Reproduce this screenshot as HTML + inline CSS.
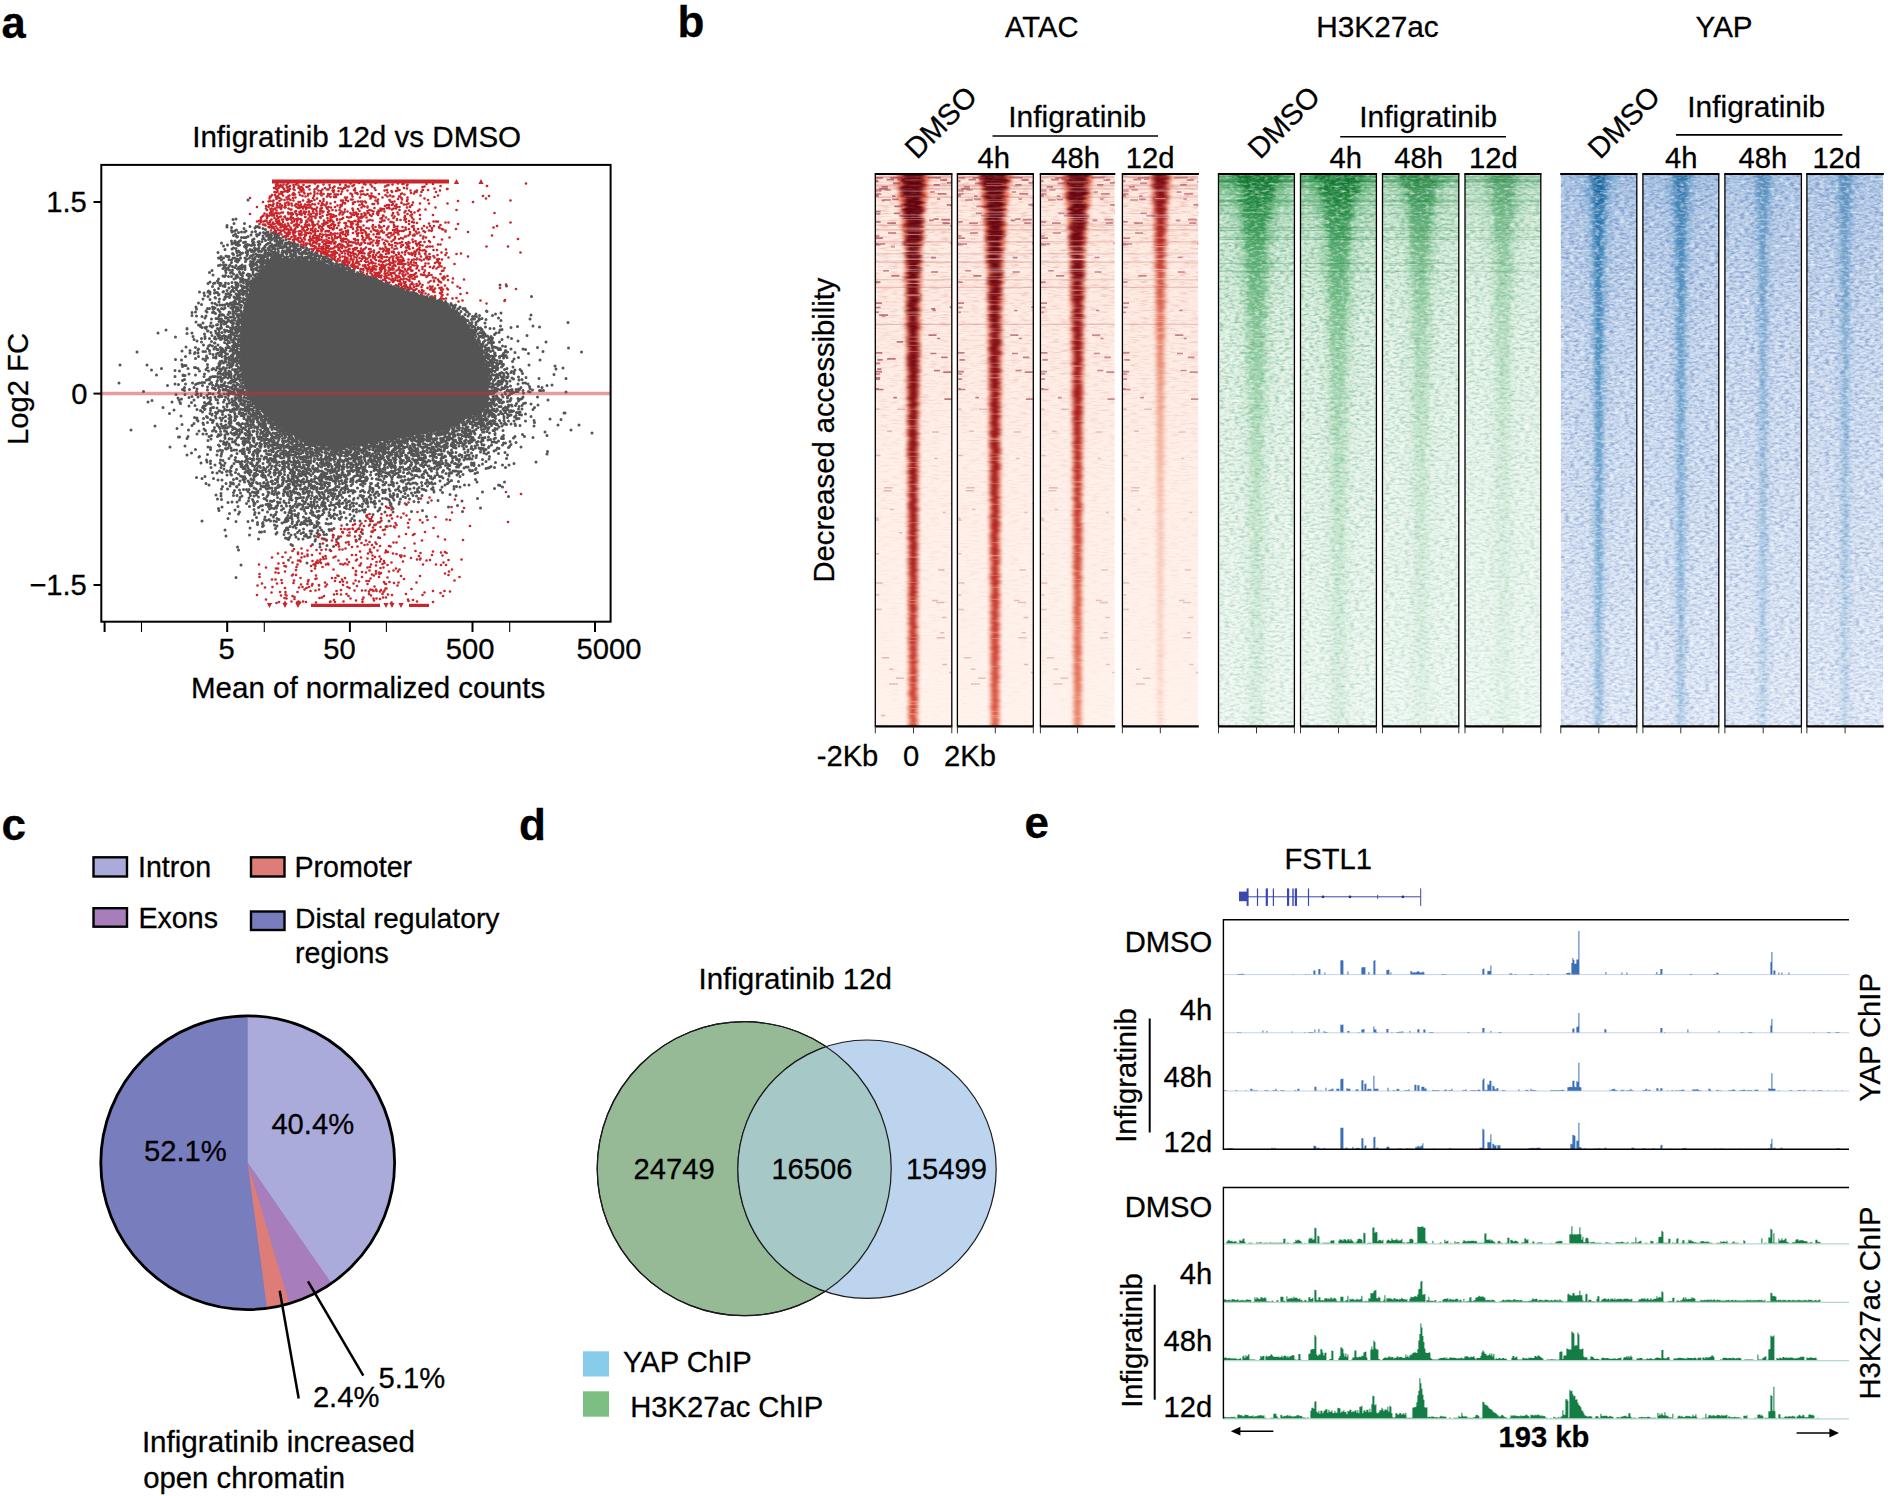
<!DOCTYPE html>
<html><head><meta charset="utf-8"><title>Figure</title>
<style>html,body{margin:0;padding:0;background:#fff}svg{display:block}text{font-family:"Liberation Sans",sans-serif;fill:#000;stroke:#000;stroke-width:0.28px}</style>
</head><body>
<svg width="1888" height="1496" viewBox="0 0 1888 1496">
<defs>
<filter id="hb" x="-20%" y="-2%" width="140%" height="104%" color-interpolation-filters="sRGB"><feGaussianBlur stdDeviation="1.9 0.7"/></filter>
<filter id="hbr" x="-30%" y="-2%" width="160%" height="104%" color-interpolation-filters="sRGB"><feGaussianBlur stdDeviation="2.3 1"/></filter>
<filter id="hb2" x="-30%" y="-2%" width="160%" height="104%" color-interpolation-filters="sRGB"><feGaussianBlur stdDeviation="4.2 1.6"/></filter>
<filter id="nR" x="0" y="0" width="100%" height="100%" color-interpolation-filters="sRGB"><feTurbulence type="fractalNoise" baseFrequency="0.1 0.6" numOctaves="2" seed="3"/><feColorMatrix type="matrix" values="0 0 0 0 0.843 0 0 0 0 0.373 0 0 0 0 0.333 0.9 0 0 0 -0.42"/></filter>
<filter id="nG" x="0" y="0" width="100%" height="100%" color-interpolation-filters="sRGB"><feTurbulence type="fractalNoise" baseFrequency="0.2 0.42" numOctaves="2" seed="5"/><feColorMatrix type="matrix" values="0 0 0 0 0.412 0 0 0 0 0.667 0 0 0 0 0.510 2.0 0 0 0 -0.84"/></filter>
<filter id="wG" x="0" y="0" width="100%" height="100%" color-interpolation-filters="sRGB"><feTurbulence type="fractalNoise" baseFrequency="0.2 0.42" numOctaves="2" seed="15"/><feColorMatrix type="matrix" values="0 0 0 0 1.000 0 0 0 0 1.000 0 0 0 0 1.000 1.5 0 0 0 -0.7"/></filter>
<filter id="nB" x="0" y="0" width="100%" height="100%" color-interpolation-filters="sRGB"><feTurbulence type="fractalNoise" baseFrequency="0.2 0.42" numOctaves="2" seed="9"/><feColorMatrix type="matrix" values="0 0 0 0 0.431 0 0 0 0 0.549 0 0 0 0 0.776 2.1 0 0 0 -0.85"/></filter>
<filter id="wB" x="0" y="0" width="100%" height="100%" color-interpolation-filters="sRGB"><feTurbulence type="fractalNoise" baseFrequency="0.2 0.42" numOctaves="2" seed="19"/><feColorMatrix type="matrix" values="0 0 0 0 1.000 0 0 0 0 1.000 0 0 0 0 1.000 1.5 0 0 0 -0.68"/></filter>
<linearGradient id="mRg" gradientUnits="userSpaceOnUse" x1="0" y1="173.7" x2="0" y2="726.3"><stop offset="0" stop-color="#fff" stop-opacity="1"/><stop offset="0.25" stop-color="#fff" stop-opacity="0.7"/><stop offset="0.5" stop-color="#fff" stop-opacity="0.35"/><stop offset="1" stop-color="#fff" stop-opacity="0.12"/></linearGradient>
<mask id="mR" maskUnits="userSpaceOnUse" x="860" y="170" width="1030" height="560"><rect x="860" y="170" width="1030" height="560" fill="url(#mRg)"/></mask>
<linearGradient id="mGg" gradientUnits="userSpaceOnUse" x1="0" y1="173.7" x2="0" y2="726.3"><stop offset="0" stop-color="#fff" stop-opacity="1"/><stop offset="0.15" stop-color="#fff" stop-opacity="0.9"/><stop offset="0.5" stop-color="#fff" stop-opacity="0.62"/><stop offset="1" stop-color="#fff" stop-opacity="0.4"/></linearGradient>
<mask id="mG" maskUnits="userSpaceOnUse" x="860" y="170" width="1030" height="560"><rect x="860" y="170" width="1030" height="560" fill="url(#mGg)"/></mask>
<linearGradient id="mBg" gradientUnits="userSpaceOnUse" x1="0" y1="173.7" x2="0" y2="726.3"><stop offset="0" stop-color="#fff" stop-opacity="1"/><stop offset="0.3" stop-color="#fff" stop-opacity="0.85"/><stop offset="1" stop-color="#fff" stop-opacity="0.55"/></linearGradient>
<mask id="mB" maskUnits="userSpaceOnUse" x="860" y="170" width="1030" height="560"><rect x="860" y="170" width="1030" height="560" fill="url(#mBg)"/></mask>
<linearGradient id="bgR" gradientUnits="userSpaceOnUse" x1="0" y1="173.7" x2="0" y2="726.3"><stop offset="0" stop-color="#fde9df" stop-opacity="1"/><stop offset="0.5" stop-color="#feefe8" stop-opacity="1"/><stop offset="1" stop-color="#fff3ed" stop-opacity="1"/></linearGradient>
<clipPath id="c1"><rect x="875.3" y="173.7" width="76.5" height="552.6"/></clipPath>
<linearGradient id="g1_0" gradientUnits="userSpaceOnUse" x1="0" y1="173.7" x2="0" y2="726.3"><stop offset="0" stop-color="#ee6a4c" stop-opacity="0.95"/><stop offset="0.4" stop-color="#f28465" stop-opacity="0.85"/><stop offset="1" stop-color="#f6a081" stop-opacity="0.75"/></linearGradient>
<linearGradient id="g1_1" gradientUnits="userSpaceOnUse" x1="0" y1="173.7" x2="0" y2="726.3"><stop offset="0" stop-color="#5e0510" stop-opacity="1"/><stop offset="0.2" stop-color="#6e0812" stop-opacity="1"/><stop offset="0.45" stop-color="#8a1016" stop-opacity="1"/><stop offset="0.7" stop-color="#a81c1c" stop-opacity="1"/><stop offset="0.9" stop-color="#c4302a" stop-opacity="0.97"/><stop offset="1" stop-color="#d0402f" stop-opacity="0.95"/></linearGradient>
<clipPath id="c2"><rect x="957.4" y="173.7" width="75.9" height="552.6"/></clipPath>
<linearGradient id="g2_0" gradientUnits="userSpaceOnUse" x1="0" y1="173.7" x2="0" y2="726.3"><stop offset="0" stop-color="#ee6a4c" stop-opacity="0.95"/><stop offset="0.4" stop-color="#f28465" stop-opacity="0.85"/><stop offset="1" stop-color="#f6a081" stop-opacity="0.75"/></linearGradient>
<linearGradient id="g2_1" gradientUnits="userSpaceOnUse" x1="0" y1="173.7" x2="0" y2="726.3"><stop offset="0" stop-color="#5e0510" stop-opacity="1"/><stop offset="0.18" stop-color="#700913" stop-opacity="1"/><stop offset="0.4" stop-color="#8f1217" stop-opacity="1"/><stop offset="0.62" stop-color="#ad1f1d" stop-opacity="1"/><stop offset="0.85" stop-color="#c9362c" stop-opacity="0.95"/><stop offset="1" stop-color="#d64a36" stop-opacity="0.9"/></linearGradient>
<clipPath id="c3"><rect x="1040.4" y="173.7" width="74.3" height="552.6"/></clipPath>
<linearGradient id="g3_0" gradientUnits="userSpaceOnUse" x1="0" y1="173.7" x2="0" y2="726.3"><stop offset="0" stop-color="#ee6a4c" stop-opacity="0.9"/><stop offset="0.4" stop-color="#f28465" stop-opacity="0.75"/><stop offset="1" stop-color="#f6a081" stop-opacity="0.55"/></linearGradient>
<linearGradient id="g3_1" gradientUnits="userSpaceOnUse" x1="0" y1="173.7" x2="0" y2="726.3"><stop offset="0" stop-color="#620611" stop-opacity="1"/><stop offset="0.15" stop-color="#780b14" stop-opacity="1"/><stop offset="0.33" stop-color="#98161a" stop-opacity="1"/><stop offset="0.55" stop-color="#b72721" stop-opacity="0.97"/><stop offset="0.78" stop-color="#d24733" stop-opacity="0.9"/><stop offset="1" stop-color="#e26a4e" stop-opacity="0.8"/></linearGradient>
<clipPath id="c4"><rect x="1122.4" y="173.7" width="75.9" height="552.6"/></clipPath>
<linearGradient id="g4_0" gradientUnits="userSpaceOnUse" x1="0" y1="173.7" x2="0" y2="726.3"><stop offset="0" stop-color="#ee6a4c" stop-opacity="0.75"/><stop offset="0.15" stop-color="#f28465" stop-opacity="0.5"/><stop offset="0.4" stop-color="#f6a081" stop-opacity="0.25"/><stop offset="1" stop-color="#f9b9a0" stop-opacity="0.1"/></linearGradient>
<linearGradient id="g4_1" gradientUnits="userSpaceOnUse" x1="0" y1="173.7" x2="0" y2="726.3"><stop offset="0" stop-color="#720a13" stop-opacity="1"/><stop offset="0.05" stop-color="#8e1418" stop-opacity="1"/><stop offset="0.13" stop-color="#b3251f" stop-opacity="0.95"/><stop offset="0.25" stop-color="#d44e38" stop-opacity="0.8"/><stop offset="0.42" stop-color="#e8785c" stop-opacity="0.6"/><stop offset="0.62" stop-color="#f29a7e" stop-opacity="0.42"/><stop offset="1" stop-color="#f6b096" stop-opacity="0.25"/></linearGradient>
<linearGradient id="bgG" gradientUnits="userSpaceOnUse" x1="0" y1="173.7" x2="0" y2="726.3"><stop offset="0" stop-color="#dcf0e2" stop-opacity="1"/><stop offset="0.25" stop-color="#e8f5ec" stop-opacity="1"/><stop offset="1" stop-color="#eff8f3" stop-opacity="1"/></linearGradient>
<clipPath id="c5"><rect x="1218.5" y="173.7" width="75.9" height="552.6"/></clipPath>
<linearGradient id="ts5" gradientUnits="userSpaceOnUse" x1="0" y1="173.7" x2="0" y2="726.3"><stop offset="0" stop-color="#2f9a4e" stop-opacity="0.6"/><stop offset="0.04" stop-color="#3fa65a" stop-opacity="0.36"/><stop offset="0.12" stop-color="#5cb874" stop-opacity="0.18"/><stop offset="0.3" stop-color="#5cb874" stop-opacity="0.07"/><stop offset="0.6" stop-color="#5cb874" stop-opacity="0.02"/><stop offset="1" stop-color="#5cb874" stop-opacity="0"/></linearGradient>
<linearGradient id="g5_0" gradientUnits="userSpaceOnUse" x1="0" y1="173.7" x2="0" y2="726.3"><stop offset="0" stop-color="#3fa65a" stop-opacity="0.72"/><stop offset="0.1" stop-color="#5cb874" stop-opacity="0.5"/><stop offset="0.25" stop-color="#7cc88c" stop-opacity="0.32"/><stop offset="0.5" stop-color="#9ed8aa" stop-opacity="0.19"/><stop offset="1" stop-color="#b4e2be" stop-opacity="0.1"/></linearGradient>
<linearGradient id="g5_1" gradientUnits="userSpaceOnUse" x1="0" y1="173.7" x2="0" y2="726.3"><stop offset="0" stop-color="#0b7029" stop-opacity="0.95"/><stop offset="0.06" stop-color="#19853a" stop-opacity="0.85"/><stop offset="0.15" stop-color="#2f994d" stop-opacity="0.64"/><stop offset="0.3" stop-color="#4fae68" stop-opacity="0.44"/><stop offset="0.5" stop-color="#74c48a" stop-opacity="0.3"/><stop offset="0.75" stop-color="#8fd0a0" stop-opacity="0.21"/><stop offset="1" stop-color="#a5dab2" stop-opacity="0.15"/></linearGradient>
<clipPath id="c6"><rect x="1300.5" y="173.7" width="75.9" height="552.6"/></clipPath>
<linearGradient id="ts6" gradientUnits="userSpaceOnUse" x1="0" y1="173.7" x2="0" y2="726.3"><stop offset="0" stop-color="#2f9a4e" stop-opacity="0.6"/><stop offset="0.04" stop-color="#3fa65a" stop-opacity="0.36"/><stop offset="0.12" stop-color="#5cb874" stop-opacity="0.18"/><stop offset="0.3" stop-color="#5cb874" stop-opacity="0.07"/><stop offset="0.6" stop-color="#5cb874" stop-opacity="0.02"/><stop offset="1" stop-color="#5cb874" stop-opacity="0"/></linearGradient>
<linearGradient id="g6_0" gradientUnits="userSpaceOnUse" x1="0" y1="173.7" x2="0" y2="726.3"><stop offset="0" stop-color="#3fa65a" stop-opacity="0.72"/><stop offset="0.1" stop-color="#5cb874" stop-opacity="0.5"/><stop offset="0.25" stop-color="#7cc88c" stop-opacity="0.32"/><stop offset="0.5" stop-color="#9ed8aa" stop-opacity="0.19"/><stop offset="1" stop-color="#b4e2be" stop-opacity="0.1"/></linearGradient>
<linearGradient id="g6_1" gradientUnits="userSpaceOnUse" x1="0" y1="173.7" x2="0" y2="726.3"><stop offset="0" stop-color="#0b7029" stop-opacity="0.95"/><stop offset="0.06" stop-color="#19853a" stop-opacity="0.85"/><stop offset="0.15" stop-color="#2f994d" stop-opacity="0.64"/><stop offset="0.3" stop-color="#4fae68" stop-opacity="0.44"/><stop offset="0.5" stop-color="#74c48a" stop-opacity="0.3"/><stop offset="0.75" stop-color="#8fd0a0" stop-opacity="0.21"/><stop offset="1" stop-color="#a5dab2" stop-opacity="0.15"/></linearGradient>
<clipPath id="c7"><rect x="1382.5" y="173.7" width="76.3" height="552.6"/></clipPath>
<linearGradient id="ts7" gradientUnits="userSpaceOnUse" x1="0" y1="173.7" x2="0" y2="726.3"><stop offset="0" stop-color="#2f9a4e" stop-opacity="0.36"/><stop offset="0.04" stop-color="#3fa65a" stop-opacity="0.216"/><stop offset="0.12" stop-color="#5cb874" stop-opacity="0.108"/><stop offset="0.3" stop-color="#5cb874" stop-opacity="0.042"/><stop offset="0.6" stop-color="#5cb874" stop-opacity="0.012"/><stop offset="1" stop-color="#5cb874" stop-opacity="0"/></linearGradient>
<linearGradient id="g7_0" gradientUnits="userSpaceOnUse" x1="0" y1="173.7" x2="0" y2="726.3"><stop offset="0" stop-color="#3fa65a" stop-opacity="0.4752"/><stop offset="0.1" stop-color="#5cb874" stop-opacity="0.33"/><stop offset="0.25" stop-color="#7cc88c" stop-opacity="0.21120000000000003"/><stop offset="0.5" stop-color="#9ed8aa" stop-opacity="0.1254"/><stop offset="1" stop-color="#b4e2be" stop-opacity="0.066"/></linearGradient>
<linearGradient id="g7_1" gradientUnits="userSpaceOnUse" x1="0" y1="173.7" x2="0" y2="726.3"><stop offset="0" stop-color="#0b7029" stop-opacity="0.627"/><stop offset="0.06" stop-color="#19853a" stop-opacity="0.561"/><stop offset="0.15" stop-color="#2f994d" stop-opacity="0.42240000000000005"/><stop offset="0.3" stop-color="#4fae68" stop-opacity="0.2904"/><stop offset="0.5" stop-color="#74c48a" stop-opacity="0.198"/><stop offset="0.75" stop-color="#8fd0a0" stop-opacity="0.1386"/><stop offset="1" stop-color="#a5dab2" stop-opacity="0.099"/></linearGradient>
<clipPath id="c8"><rect x="1465" y="173.7" width="75.8" height="552.6"/></clipPath>
<linearGradient id="ts8" gradientUnits="userSpaceOnUse" x1="0" y1="173.7" x2="0" y2="726.3"><stop offset="0" stop-color="#2f9a4e" stop-opacity="0.24"/><stop offset="0.04" stop-color="#3fa65a" stop-opacity="0.144"/><stop offset="0.12" stop-color="#5cb874" stop-opacity="0.072"/><stop offset="0.3" stop-color="#5cb874" stop-opacity="0.028000000000000004"/><stop offset="0.6" stop-color="#5cb874" stop-opacity="0.008"/><stop offset="1" stop-color="#5cb874" stop-opacity="0"/></linearGradient>
<linearGradient id="g8_0" gradientUnits="userSpaceOnUse" x1="0" y1="173.7" x2="0" y2="726.3"><stop offset="0" stop-color="#3fa65a" stop-opacity="0.324"/><stop offset="0.1" stop-color="#5cb874" stop-opacity="0.225"/><stop offset="0.25" stop-color="#7cc88c" stop-opacity="0.14400000000000002"/><stop offset="0.5" stop-color="#9ed8aa" stop-opacity="0.0855"/><stop offset="1" stop-color="#b4e2be" stop-opacity="0.045000000000000005"/></linearGradient>
<linearGradient id="g8_1" gradientUnits="userSpaceOnUse" x1="0" y1="173.7" x2="0" y2="726.3"><stop offset="0" stop-color="#0b7029" stop-opacity="0.4275"/><stop offset="0.06" stop-color="#19853a" stop-opacity="0.3825"/><stop offset="0.15" stop-color="#2f994d" stop-opacity="0.28800000000000003"/><stop offset="0.3" stop-color="#4fae68" stop-opacity="0.198"/><stop offset="0.5" stop-color="#74c48a" stop-opacity="0.135"/><stop offset="0.75" stop-color="#8fd0a0" stop-opacity="0.0945"/><stop offset="1" stop-color="#a5dab2" stop-opacity="0.0675"/></linearGradient>
<linearGradient id="bgB" gradientUnits="userSpaceOnUse" x1="0" y1="173.7" x2="0" y2="726.3"><stop offset="0" stop-color="#cfdcf0" stop-opacity="1"/><stop offset="0.35" stop-color="#dbe5f4" stop-opacity="1"/><stop offset="1" stop-color="#e6edf8" stop-opacity="1"/></linearGradient>
<clipPath id="c9"><rect x="1560.8" y="173.7" width="76" height="552.6"/></clipPath>
<linearGradient id="ts9" gradientUnits="userSpaceOnUse" x1="0" y1="173.7" x2="0" y2="726.3"><stop offset="0" stop-color="#3f83c0" stop-opacity="0.3"/><stop offset="0.08" stop-color="#3f83c0" stop-opacity="0.2"/><stop offset="0.3" stop-color="#3f83c0" stop-opacity="0.1"/><stop offset="0.7" stop-color="#3f83c0" stop-opacity="0.04"/><stop offset="1" stop-color="#3f83c0" stop-opacity="0"/></linearGradient>
<linearGradient id="g9_0" gradientUnits="userSpaceOnUse" x1="0" y1="173.7" x2="0" y2="726.3"><stop offset="0" stop-color="#4f97c8" stop-opacity="0.55"/><stop offset="0.4" stop-color="#78aed6" stop-opacity="0.36"/><stop offset="1" stop-color="#9cc3e2" stop-opacity="0.25"/></linearGradient>
<linearGradient id="g9_1" gradientUnits="userSpaceOnUse" x1="0" y1="173.7" x2="0" y2="726.3"><stop offset="0" stop-color="#0e6298" stop-opacity="0.97"/><stop offset="0.1" stop-color="#1a70a6" stop-opacity="0.9"/><stop offset="0.35" stop-color="#2a80b6" stop-opacity="0.8"/><stop offset="0.7" stop-color="#4593c4" stop-opacity="0.7"/><stop offset="1" stop-color="#5fa2ce" stop-opacity="0.58"/></linearGradient>
<clipPath id="c10"><rect x="1642.9" y="173.7" width="75.9" height="552.6"/></clipPath>
<linearGradient id="ts10" gradientUnits="userSpaceOnUse" x1="0" y1="173.7" x2="0" y2="726.3"><stop offset="0" stop-color="#3f83c0" stop-opacity="0.3"/><stop offset="0.08" stop-color="#3f83c0" stop-opacity="0.2"/><stop offset="0.3" stop-color="#3f83c0" stop-opacity="0.1"/><stop offset="0.7" stop-color="#3f83c0" stop-opacity="0.04"/><stop offset="1" stop-color="#3f83c0" stop-opacity="0"/></linearGradient>
<linearGradient id="g10_0" gradientUnits="userSpaceOnUse" x1="0" y1="173.7" x2="0" y2="726.3"><stop offset="0" stop-color="#4f97c8" stop-opacity="0.42900000000000005"/><stop offset="0.4" stop-color="#78aed6" stop-opacity="0.2808"/><stop offset="1" stop-color="#9cc3e2" stop-opacity="0.195"/></linearGradient>
<linearGradient id="g10_1" gradientUnits="userSpaceOnUse" x1="0" y1="173.7" x2="0" y2="726.3"><stop offset="0" stop-color="#0e6298" stop-opacity="0.7566"/><stop offset="0.1" stop-color="#1a70a6" stop-opacity="0.7020000000000001"/><stop offset="0.35" stop-color="#2a80b6" stop-opacity="0.6240000000000001"/><stop offset="0.7" stop-color="#4593c4" stop-opacity="0.5459999999999999"/><stop offset="1" stop-color="#5fa2ce" stop-opacity="0.45239999999999997"/></linearGradient>
<clipPath id="c11"><rect x="1724.9" y="173.7" width="76.5" height="552.6"/></clipPath>
<linearGradient id="ts11" gradientUnits="userSpaceOnUse" x1="0" y1="173.7" x2="0" y2="726.3"><stop offset="0" stop-color="#3f83c0" stop-opacity="0.24"/><stop offset="0.08" stop-color="#3f83c0" stop-opacity="0.16000000000000003"/><stop offset="0.3" stop-color="#3f83c0" stop-opacity="0.08000000000000002"/><stop offset="0.7" stop-color="#3f83c0" stop-opacity="0.032"/><stop offset="1" stop-color="#3f83c0" stop-opacity="0"/></linearGradient>
<linearGradient id="g11_0" gradientUnits="userSpaceOnUse" x1="0" y1="173.7" x2="0" y2="726.3"><stop offset="0" stop-color="#4f97c8" stop-opacity="0.28600000000000003"/><stop offset="0.4" stop-color="#78aed6" stop-opacity="0.1872"/><stop offset="1" stop-color="#9cc3e2" stop-opacity="0.13"/></linearGradient>
<linearGradient id="g11_1" gradientUnits="userSpaceOnUse" x1="0" y1="173.7" x2="0" y2="726.3"><stop offset="0" stop-color="#0e6298" stop-opacity="0.5044"/><stop offset="0.1" stop-color="#1a70a6" stop-opacity="0.468"/><stop offset="0.35" stop-color="#2a80b6" stop-opacity="0.41600000000000004"/><stop offset="0.7" stop-color="#4593c4" stop-opacity="0.364"/><stop offset="1" stop-color="#5fa2ce" stop-opacity="0.3016"/></linearGradient>
<clipPath id="c12"><rect x="1806.9" y="173.7" width="76.3" height="552.6"/></clipPath>
<linearGradient id="ts12" gradientUnits="userSpaceOnUse" x1="0" y1="173.7" x2="0" y2="726.3"><stop offset="0" stop-color="#3f83c0" stop-opacity="0.24"/><stop offset="0.08" stop-color="#3f83c0" stop-opacity="0.16000000000000003"/><stop offset="0.3" stop-color="#3f83c0" stop-opacity="0.08000000000000002"/><stop offset="0.7" stop-color="#3f83c0" stop-opacity="0.032"/><stop offset="1" stop-color="#3f83c0" stop-opacity="0"/></linearGradient>
<linearGradient id="g12_0" gradientUnits="userSpaceOnUse" x1="0" y1="173.7" x2="0" y2="726.3"><stop offset="0" stop-color="#4f97c8" stop-opacity="0.275"/><stop offset="0.4" stop-color="#78aed6" stop-opacity="0.18"/><stop offset="1" stop-color="#9cc3e2" stop-opacity="0.125"/></linearGradient>
<linearGradient id="g12_1" gradientUnits="userSpaceOnUse" x1="0" y1="173.7" x2="0" y2="726.3"><stop offset="0" stop-color="#0e6298" stop-opacity="0.485"/><stop offset="0.1" stop-color="#1a70a6" stop-opacity="0.45"/><stop offset="0.35" stop-color="#2a80b6" stop-opacity="0.4"/><stop offset="0.7" stop-color="#4593c4" stop-opacity="0.35"/><stop offset="1" stop-color="#5fa2ce" stop-opacity="0.29"/></linearGradient>
<clipPath id="vc"><circle cx="744.2" cy="1168.7" r="147"/></clipPath>
</defs>
<rect width="1888" height="1496" fill="#fff"/>
<text x="1.6" y="37.5" font-size="43.5" font-weight="bold" stroke="none">a</text>
<text x="192.2" y="146.5" font-size="29.6">Infigratinib 12d vs DMSO</text>
<polygon points="262,268 272,258 300,259 325,263 351,272 383,282.5 414,293.5 446,302.5 470,329 483,352 488,376 489,394 484,410 462,421 446,430 420,434 383,441 339,449 304,442 276,424 251,402 240,367 241,317 251,286" fill="#545454"/>
<path d="M0 0m248 200h0m-12 19h0m-3 0.5h0m1 4h0m10.5 0h0m-17.5 2h0m31 1h0m-31 0.5h0m4.5 0.5h0m18.5-1h0m6 0h0m2.5 0.5h0m-3.5 1h0m4.5-0.5h0m-15.5 1h0m19 0h0m-26.5 1.5h0m29-0.5h0m-34 1h0m3 0.5h0m11.5 0h0m9.5 0.5h0m-23.5 0.5h0m9.5 0h0m3 0h0m7.5 0h0m14.5 0.5h0m1.5-0.5h0m5.5 0.5h0m-35 0h0m21.5 0.5h0m3.5-0.5h0m1.5 1h0m-29.5 0.5h0m21 0.5h0m14.5-1h0m3.5 0.5h0m1.5 0h0m-42.5 1.5h0m17.5-0.5h0m8-0.5h0m9 0h0m9.5 0h0m-41 2h0m20.5-0.5h0m6 0h0m3.5 0h0m1.5 0h0m1.5-0.5h0m2 0h0m3.5 0h0m3.5 0h0m-41.5 1.5h0m0.5-0.5h0m4 1h0m6.5-1h0m28 0.5h0m7 0h0m-39 0.5h0m2 0h0m18 1h0m5 0h0m1.5-1h0m3.5 0.5h0m4.5-0.5h0m2 1h0m-26.5 0.5h0m8.5 0h0m7.5 0h0m2.5 0h0m4 0h0m9.5 0.5h0m-45.5 1h0m12-0.5h0m16-0.5h0m3 0.5h0m8.5 0h0m3 0.5h0m-51.5 0.5h0m3.5 0h0m24 0.5h0m3 0h0m3.5-1h0m9.5 0.5h0m2 0h0m5 0.5h0m-44.5 1h0m1.5-1h0m4.5 1h0m2-0.5h0m7-0.5h0m1.5 1h0m4-0.5h0m20.5 0.5h0m1.5 0h0m9-0.5h0m1 0.5h0m-68.5 0.5h0m10.5 0h0m2 0h0m1 0h0m33 0.5h0m2-1h0m10 0.5h0m2 0.5h0m3.5-0.5h0m1.5 0h0m4.5 0h0m2.5 0h0m-62 1h0m4 0.5h0m2-0.5h0m9.5 0.5h0m5 0h0m7.5-0.5h0m12 0.5h0m5-1h0m9.5 0.5h0m3 0h0m4.5 0h0m1 0h0m2.5 0.5h0m-70 0.5h0m12 0h0m6 0h0m3 0h0m0.5 0h0m5.5 0h0m4 0h0m0.5 0.5h0m7.5-1h0m8.5 0.5h0m4.5 0.5h0m5.5-1h0m9.5 1h0m3.5 0h0m-74.5 0.5h0m14.5-0.5h0m13.5 0h0m13.5 0.5h0m5 0h0m3.5 0.5h0m2.5-0.5h0m2.5-0.5h0m4.5 1h0m3-1h0m4.5 0.5h0m2 0h0m3 0.5h0m-51 0h0m2 0.5h0m18.5 0h0m7 0h0m9-0.5h0m3 0.5h0m2 0h0m15-0.5h0m-67.5 1.5h0m2.5 0.5h0m10-0.5h0m8.5 0h0m4.5 0h0m4.5 0h0m5.5-0.5h0m11.5 0h0m2 0.5h0m5 0h0m2-0.5h0m4.5 0.5h0m2 0h0m7-0.5h0m0.5 0h0m3 0.5h0m-81.5 1.5h0m7-0.5h0m18 0.5h0m6.5-0.5h0m1.5 0h0m4.5 0h0m1.5 0.5h0m4-1h0m5 0h0m2 0.5h0m3-0.5h0m12 1h0m8-0.5h0m2 0h0m0.5 0.5h0m-48.5 0.5h0m3.5 0h0m13 0h0m1.5-0.5h0m8 0h0m9 0.5h0m5.5 0.5h0m1-0.5h0m4.5 0.5h0m7 0h0m3-0.5h0m1-0.5h0m-72.5 1.5h0m2 0h0m8.5-0.5h0m4.5 1h0m3.5-1h0m4.5 0.5h0m2 0.5h0m4-1h0m0 1h0m6-0.5h0m3.5 0.5h0m7.5-0.5h0m2 0h0m4-0.5h0m2.5 0.5h0m4.5 0h0m10-0.5h0m-87.5 2h0m19 0h0m2.5-0.5h0m8.5-0.5h0m6 0h0m4.5 0h0m6.5 0.5h0m7.5 0h0m6-0.5h0m6 0.5h0m2 0h0m1.5-0.5h0m2.5 1h0m3.5-0.5h0m4.5 0h0m5.5-0.5h0m1.5 0.5h0m6.5 0h0m-69.5 1h0m3.5-0.5h0m21.5 1h0m1.5-1h0m5 1h0m2-0.5h0m2 0h0m4-0.5h0m5 1h0m8.5-0.5h0m3.5 0h0m0-0.5h0m0.5 1h0m2.5-1h0m2.5 0.5h0m1 0.5h0m4-1h0m6.5 0h0m1 0.5h0m-84.5 0.5h0m1 1h0m7.5-1h0m6.5 0.5h0m6 0.5h0m2.5-0.5h0m9.5 0h0m6 0h0m11 0h0m4 0h0m4-0.5h0m5 0h0m12 0h0m3 0.5h0m4 0h0m-77 1.5h0m2.5-0.5h0m0 0h0m18.5 0h0m1.5 0h0m0.5 0h0m1 0.5h0m2 0h0m0.5-1h0m6 0.5h0m6 0h0m2 0h0m2 0h0m13-0.5h0m1.5 0h0m1.5 1h0m6-1h0m9 1h0m1.5-1h0m5.5 1h0m3 0h0m-100 1h0m5-0.5h0m1.5 0.5h0m1.5 0h0m18-1h0m3.5 0.5h0m2-0.5h0m4.5 0.5h0m8.5 0.5h0m2.5-0.5h0m3.5 0h0m2.5 0h0m3 0.5h0m3.5-1h0m1 0h0m1.5 0h0m7.5 0h0m2 0h0m1.5 0.5h0m8 0.5h0m6.5-0.5h0m2.5 0h0m4 0.5h0m1.5-0.5h0m-61.5 1.5h0m4-0.5h0m15 0.5h0m4.5 0h0m2-0.5h0m6 0h0m1.5 0h0m11 0h0m1.5 0h0m5 0h0m14-0.5h0m4 0.5h0m0.5 0h0m1.5 0.5h0m-107 0.5h0m1.5 0h0m3.5 0h0m9.5 0h0m2 0h0m5.5 0h0m4.5 0h0m4.5 0h0m3 0.5h0m8.5 0h0m1.5-0.5h0m1 0h0m7.5 0.5h0m5-1h0m8.5 0h0m2.5 1h0m4 0h0m1-0.5h0m4 0h0m1.5 0h0m2.5 0.5h0m2.5-0.5h0m2 0h0m2.5-0.5h0m3 0.5h0m2.5 0h0m2-0.5h0m5 0h0m3.5 0.5h0m5 0.5h0m-90.5 0.5h0m9.5 0h0m8 0h0m12.5-0.5h0m5 0.5h0m3.5 0h0m2.5 0h0m2 0.5h0m1-1h0m7 1h0m2.5-0.5h0m2 0h0m14.5-0.5h0m6 1h0m3-0.5h0m6 0h0m6.5 0.5h0m-107.5 0.5h0m7.5-0.5h0m2.5 0.5h0m7.5 0h0m7-0.5h0m8 0.5h0m6.5 0h0m3.5-0.5h0m4 0.5h0m6.5 0.5h0m8-1h0m3 0.5h0m5.5 0h0m5-0.5h0m1 0.5h0m6.5 0h0m2 0h0m1.5 0h0m4 0.5h0m4 0h0m4-1h0m5.5 0.5h0m7-0.5h0m-96 1.5h0m3-0.5h0m7 1h0m8-0.5h0m4.5-0.5h0m0 1h0m4-1h0m4.5 0h0m3 0.5h0m2 0h0m13-0.5h0m9 0.5h0m7.5 0h0m1 0h0m9-0.5h0m7.5 1h0m1-0.5h0m1 0.5h0m3.5-0.5h0m2 0h0m0.5 0.5h0m1.5-0.5h0m3 0.5h0m-99.5 1h0m6-0.5h0m13-0.5h0m1 0.5h0m11-0.5h0m2 1h0m2-1h0m3.5 0h0m34 0h0m7 0h0m3 0.5h0m2.5 0.5h0m5.5-1h0m6 0.5h0m8.5-0.5h0m-113 1h0m30.5 1h0m2.5-1h0m3.5 0h0m2 0.5h0m1.5 0.5h0m2.5-0.5h0m2.5-0.5h0m44 0.5h0m9 0h0m8 0h0m-77 1.5h0m16 0h0m49-1h0m2 1h0m4.5-1h0m1 1h0m5.5-1h0m2.5 0h0m3 0.5h0m4 0.5h0m2.5-0.5h0m-122 1h0m3 0h0m2.5 0h0m4 0h0m6 0.5h0m6-0.5h0m8-0.5h0m3.5 1h0m3-0.5h0m0.5 0h0m4 0h0m70.5 0h0m6-0.5h0m3 0.5h0m4.5 0h0m-126.5 0.5h0m14 1h0m12 0h0m0.5-0.5h0m5.5 0h0m12 0h0m3.5 0h0m1-0.5h0m60 0.5h0m4 0.5h0m0-0.5h0m3 0h0m3-0.5h0m6 0h0m1 0h0m3.5 0.5h0m-123 1h0m4.5-0.5h0m6 1h0m3.5 0h0m1.5-1h0m2 1h0m10-1h0m7.5 0.5h0m4.5 0h0m69 0.5h0m2.5-0.5h0m3 0h0m3.5 0.5h0m-116 1h0m13.5 0h0m5.5-1h0m6.5 0.5h0m6-0.5h0m2.5 0h0m2.5 0.5h0m2.5 0h0m69-0.5h0m6 1h0m4-0.5h0m2 0.5h0m3 0h0m0.5-0.5h0m-126.5 0.5h0m4 0.5h0m0.5-0.5h0m10 0.5h0m2 0h0m2.5 0h0m9.5 0.5h0m1.5-0.5h0m2.5-0.5h0m87 1h0m3-0.5h0m2.5 0h0m6 0.5h0m-128.5 1h0m4-0.5h0m3 0h0m12.5-0.5h0m11 0h0m1 0.5h0m3.5 0h0m80-0.5h0m3.5 0.5h0m6 0h0m-138 0.5h0m41 0h0m5.5 0.5h0m2 0h0m2.5-0.5h0m89 0h0m2 0.5h0m-144.5 1.5h0m16.5 0h0m6-0.5h0m7.5 0h0m13.5 0h0m94 0.5h0m1.5-0.5h0m3.5 0h0m8.5-0.5h0m-130 1.5h0m0 0h0m9.5 0.5h0m3-0.5h0m0-0.5h0m0.5 0.5h0m105.5 0.5h0m1-1h0m4.5 1h0m3-1h0m-124 1.5h0m7.5 0.5h0m7-0.5h0m1.5 0.5h0m3.5-0.5h0m3.5 0h0m1.5 0h0m93 0h0m7 0h0m2.5 0h0m1 0h0m-148.5 1h0m24 0h0m10 0h0m7.5 0.5h0m4.5-0.5h0m1.5 0h0m95.5-0.5h0m6 0.5h0m2 0h0m0 0h0m-141 1h0m1.5 0.5h0m1-1h0m6 1h0m4.5-0.5h0m6.5 0h0m6 0h0m2 0h0m0.5 0h0m4.5 0.5h0m4 0h0m97.5-0.5h0m2-0.5h0m9 1h0m-139.5 0h0m9.5 0.5h0m123-0.5h0m5 0h0m3 0.5h0m1.5 0h0m-134.5 1h0m4.5 0.5h0m15.5-0.5h0m2-0.5h0m105 1h0m3 0h0m6 0h0m1.5-0.5h0m-155 1h0m15.5 0h0m8-0.5h0m1 0.5h0m6-0.5h0m4 0h0m3 0.5h0m111.5 0.5h0m5.5 0h0m2.5-0.5h0m1 0h0m-136 0.5h0m5 0.5h0m2.5 0h0m6 0h0m116.5 0h0m7.5 0.5h0m-160.5 0.5h0m25.5-0.5h0m8 0.5h0m1.5-0.5h0m119.5 0h0m8.5 0.5h0m-170.5 1h0m22 0.5h0m3.5 0h0m5-0.5h0m2.5-0.5h0m3.5 0.5h0m3 0.5h0m2 0h0m4.5-0.5h0m120.5 0h0m1 0h0m2-0.5h0m2 0.5h0m4.5 0.5h0m-171 0.5h0m3.5 0h0m1 0h0m6 0h0m3 0.5h0m8.5-0.5h0m6.5 0h0m4 0h0m3 0.5h0m3.5-0.5h0m126.5 0h0m7 0h0m1 0.5h0m-180.5 0h0m5.5 0h0m7.5 0h0m17 0.5h0m8.5 0h0m2-0.5h0m4 0.5h0m1 0h0m125.5-0.5h0m4 0h0m0 1h0m-163 1h0m5-0.5h0m11-0.5h0m2 1h0m9.5 0h0m6-0.5h0m132 0.5h0m0.5-1h0m2 0.5h0m112 0h0m-287.5 1.5h0m10.5-0.5h0m0.5 0h0m8.5 0.5h0m9-1h0m1 1h0m1.5 0h0m7.5-1h0m139.5 0.5h0m0.5-0.5h0m6 0.5h0m109.5 0h0m-281.5 0.5h0m10.5 1h0m2-0.5h0m7 0.5h0m1.5-0.5h0m4-0.5h0m0.5 1h0m139-0.5h0m4.5-0.5h0m4.5 0h0m-180 2h0m10.5-0.5h0m4.5 0h0m9 0.5h0m4.5-0.5h0m145-0.5h0m2 0h0m1 1h0m3.5 0h0m3-0.5h0m-154 0.5h0m152 0.5h0m4 0h0m-189 1h0m18 0h0m4-0.5h0m5 1h0m5 0h0m2-0.5h0m1 0h0m152 0.5h0m2-0.5h0m3.5 0h0m1.5 0h0m-200 1h0m15 0.5h0m3.5-1h0m4 1h0m7.5 0h0m2-1h0m3.5 0.5h0m1 0.5h0m2 0h0m-47.5 0.5h0m8.5 0h0m2 0h0m6.5 0.5h0m6.5-0.5h0m11-0.5h0m16.5 0.5h0m153-0.5h0m2.5 1h0m1.5-0.5h0m6 0h0m-209.5 1h0m10.5 0h0m3-0.5h0m22 0.5h0m3.5 0h0m3 0h0m0.5 0h0m4 0h0m160-0.5h0m2 0h0m3.5 1h0m-206 0.5h0m16 0h0m2-0.5h0m1.5 0.5h0m6.5 0h0m1.5 0.5h0m4.5-1h0m2 0.5h0m3.5 0h0m161.5 0h0m0.5 0.5h0m5-1h0m-210 2h0m14-0.5h0m0.5-0.5h0m12 0.5h0m6.5 0.5h0m2-0.5h0m3.5 0h0m169-0.5h0m5.5 0h0m3.5 0h0m-213 2h0m21 0h0m17.5-0.5h0m1-0.5h0m166 0.5h0m2 0h0m3 0.5h0m1 0h0m3 0h0m4.5 0h0m0 0h0m-212 1h0m10-0.5h0m1.5-0.5h0m7.5 0.5h0m3-0.5h0m2 1h0m185-1h0m1.5 1h0m5-0.5h0m1.5 0h0m0.5 0.5h0m99-1h0m-316 1.5h0m14-0.5h0m5.5 1h0m5.5-0.5h0m8 0.5h0m174-1h0m1 0.5h0m3.5 0h0m3 0.5h0m3.5-0.5h0m-230.5 1h0m16.5 0h0m5.5-0.5h0m11.5 0.5h0m2 0h0m5-0.5h0m3 0.5h0m181 0h0m2 0h0m3.5 0h0m2 0h0m-225 0.5h0m14 0h0m20.5 0h0m1 0h0m3.5 0.5h0m191-0.5h0m-205.5 1.5h0m5-0.5h0m3 0.5h0m189.5-0.5h0m3.5 0.5h0m3-0.5h0m3 0.5h0m-222.5 1h0m14.5 0h0m2 0h0m4 0h0m2.5-0.5h0m196.5 0h0m7 0h0m-247 1.5h0m13.5 0h0m3 0.5h0m15.5-0.5h0m0.5 0h0m8 0.5h0m5-0.5h0m2-0.5h0m0.5 0.5h0m0.5-0.5h0m192 0h0m2 1h0m1-1h0m1 0.5h0m-216 0.5h0m7 0.5h0m2.5 0h0m1 0h0m7.5 0h0m2 0h0m199.5-0.5h0m1 0.5h0m3.5-0.5h0m-249.5 1h0m15.5 0.5h0m3 0h0m2.5 0h0m2 0h0m0.5 0h0m3.5-0.5h0m3 0.5h0m8.5 0h0m1.5 0.5h0m209-0.5h0m2 0.5h0m3-0.5h0m-227 1h0m5-0.5h0m11.5 0h0m0.5 0.5h0m201 0h0m1 0h0m-251.5 1h0m16.5 0h0m23 0h0m5.5 0.5h0m0 0h0m4.5 0h0m208.5-1h0m1 1h0m5-0.5h0m-252.5 1.5h0m2 0h0m4.5-1h0m1 0.5h0m6.5 0.5h0m3.5-0.5h0m6 0h0m2-0.5h0m3 0.5h0m2-0.5h0m6.5 0h0m204 0.5h0m1-0.5h0m3.5 0h0m-256.5 1.5h0m16.5 0h0m0.5 0h0m4.5 0.5h0m5.5-0.5h0m13 0h0m213.5 0h0m8 0h0m1-0.5h0m4 0h0m1.5 1h0m0.5-1h0m-246 2h0m14-1h0m0 1h0m6.5-0.5h0m212.5 0h0m2 0h0m12 0.5h0m-260 0.5h0m30 0h0m1.5 0h0m0.5-0.5h0m3 0.5h0m0 0h0m3.5 0h0m207.5 0.5h0m4.5-0.5h0m4.5 0.5h0m5.5 0h0m20-0.5h0m-294.5 1.5h0m3.5-0.5h0m11.5 0h0m6.5 0h0m6.5 0h0m9 0h0m4-0.5h0m8 0.5h0m3 0h0m209.5-0.5h0m14 0.5h0m19.5-0.5h0m-274.5 1h0m2.5 0.5h0m0.5 0.5h0m14.5-1h0m0 0.5h0m4-0.5h0m219.5 0.5h0m2-0.5h0m2.5 0.5h0m43 0h0m-273 1.5h0m5-0.5h0m3.5 0h0m5.5 0h0m2-0.5h0m211.5 1h0m4-0.5h0m5.5 0.5h0m4.5-0.5h0m6.5 0h0m19.5 0h0m-303.5 1.5h0m27.5-0.5h0m1.5 0h0m1-0.5h0m1 0.5h0m0.5 0h0m10 0.5h0m5.5-1h0m1 0.5h0m215.5 0h0m3 0.5h0m72.5-0.5h0m-334.5 1h0m5.5 0.5h0m4-0.5h0m31-0.5h0m0.5 1h0m3-1h0m227.5 0.5h0m4.5 0.5h0m2.5-0.5h0m4.5-0.5h0m13 0h0m-273.5 1h0m6.5 0.5h0m4.5 0h0m2 0h0m6 0h0m4.5-0.5h0m1 0.5h0m217 0h0m2-0.5h0m1 1h0m13-1h0m-271.5 1.5h0m11 0.5h0m9.5-0.5h0m2 0h0m7 0h0m222-0.5h0m2 1h0m2-0.5h0m1 0h0m17.5 0.5h0m3 0h0m16.5-0.5h0m-287 1h0m6.5-0.5h0m3.5 0.5h0m13.5-0.5h0m3.5 1h0m0.5-1h0m2 0.5h0m0.5-0.5h0m223 0.5h0m0.5 0h0m8.5 0h0m1 0h0m5 0.5h0m50.5-0.5h0m-310 0.5h0m8.5 0.5h0m3.5 0.5h0m2.5-0.5h0m224 0h0m4 0h0m4 0.5h0m1.5 0h0m3.5-1h0m14.5 0h0m-262.5 1.5h0m4 0.5h0m9.5 0h0m3.5-1h0m2 0.5h0m218.5 0h0m2.5 0h0m14.5 0h0m23-0.5h0m-305 1.5h0m23-0.5h0m2.5 0.5h0m3.5 0h0m5.5-0.5h0m7.5 0h0m227.5 0.5h0m102.5 0.5h0m-365 0.5h0m0 0h0m8 0h0m20.5-0.5h0m2 1h0m0-0.5h0m6 0h0m0.5 0h0m2.5 0h0m219-0.5h0m1 0.5h0m1.5 0.5h0m5.5-0.5h0m2.5-0.5h0m4 0h0m9 0.5h0m-264 1h0m3 0h0m2-0.5h0m7 1h0m3.5-1h0m6.5 1h0m222.5-0.5h0m-267 1h0m2 0h0m16 0h0m1-0.5h0m21 0h0m228.5 0.5h0m4.5 0h0m4.5-0.5h0m-266 1.5h0m3 0h0m8 0h0m6 0.5h0m5.5-1h0m5 0.5h0m230 0h0m1.5 0h0m3.5 0h0m28 0h0m32.5 0h0m-332.5 0.5h0m6 0.5h0m5.5 0h0m16-0.5h0m8 0.5h0m3.5 0h0m2 0h0m1 0.5h0m222-1h0m0.5 0.5h0m2.5 0h0m4.5 0h0m2.5 0h0m3.5 0.5h0m7.5-0.5h0m32-0.5h0m22 0.5h0m-352.5 1.5h0m15-1h0m3 0h0m12.5 1h0m3-0.5h0m1 0h0m9 0h0m1.5 0h0m1.5-0.5h0m5.5 1h0m0-1h0m230 0.5h0m6 0h0m5.5 0h0m13.5 0.5h0m17-1h0m-324 1.5h0m19-0.5h0m13.5 0.5h0m15.5 0.5h0m1.5-0.5h0m4 0h0m1.5 0.5h0m236-0.5h0m3 0.5h0m9-1h0m-324 1.5h0m53 0h0m5.5 0h0m6 0.5h0m1.5-0.5h0m4 0h0m1.5 0h0m230-0.5h0m1.5 0.5h0m2.5-0.5h0m2 1h0m2-0.5h0m6.5-0.5h0m18 0.5h0m2-0.5h0m-294.5 1.5h0m0.5 0h0m7.5 0h0m11.5-0.5h0m1.5 1h0m10.5-0.5h0m229.5 0h0m2.5 0.5h0m2 0h0m3 0h0m-257 1h0m6-0.5h0m7 0h0m4 0h0m5 0h0m239 0.5h0m3.5-0.5h0m15.5 0.5h0m-341 0.5h0m34 0h0m19-0.5h0m5 0.5h0m6-0.5h0m9 0h0m3.5 0.5h0m1.5 0h0m1.5-0.5h0m234 0.5h0m1 0h0m1 0h0m8.5-0.5h0m14 0.5h0m-309 0.5h0m17.5 0.5h0m26.5 0.5h0m2-0.5h0m242 0h0m3 0h0m5 0.5h0m2-0.5h0m-267.5 0.5h0m2 0.5h0m4.5 0.5h0m5 0h0m1.5-0.5h0m3-0.5h0m3.5 1h0m3-0.5h0m2-0.5h0m232.5 0.5h0m10 0h0m10-0.5h0m32.5 1h0m-315 0h0m28 0.5h0m2 0h0m234 0.5h0m3.5 0h0m1.5-0.5h0m5 0h0m1.5 0h0m3.5 0.5h0m-315.5 0.5h0m17.5-0.5h0m12 0h0m10 0.5h0m3.5-0.5h0m3.5 0h0m4 0h0m5 0.5h0m4-0.5h0m3.5 0h0m234 0h0m9 0.5h0m2 0.5h0m24.5-0.5h0m-303 1.5h0m4.5 0h0m5 0h0m4.5-0.5h0m0.5 0h0m5.5 0h0m0-0.5h0m3 0h0m2 0.5h0m4 0.5h0m7.5-1h0m237 1h0m10.5-0.5h0m3.5 0h0m19 0.5h0m-310 0h0m14.5 0.5h0m5.5 0h0m0.5-0.5h0m3 1h0m6 0h0m5-0.5h0m3 0h0m1.5 0h0m1 0.5h0m232-1h0m17 0.5h0m-296.5 0.5h0m26.5 0h0m6.5 0.5h0m6.5 0h0m240.5 0.5h0m1-1h0m3 0h0m10 0.5h0m4 0h0m10-0.5h0m-305 1.5h0m14.5 0.5h0m26.5-1h0m3 0.5h0m237.5 0h0m0.5-0.5h0m6 0h0m33 0.5h0m-316.5 1h0m23 0.5h0m4-1h0m1 1h0m3-0.5h0m6 0.5h0m1.5-1h0m236.5 0.5h0m3-0.5h0m4 0.5h0m7 0h0m3 0.5h0m6-0.5h0m46.5 0h0m-331.5 1h0m0.5 0h0m19.5-0.5h0m7 0.5h0m236.5 0.5h0m10.5-0.5h0m0 0h0m-261.5 1h0m9 0h0m244.5 0h0m2.5-0.5h0m0 0.5h0m8.5-0.5h0m-288 1.5h0m6.5 0h0m8 0h0m16-0.5h0m4 0h0m1.5 1h0m1.5-0.5h0m0.5-0.5h0m234.5 0h0m10.5 0.5h0m5.5 0.5h0m-283.5 0.5h0m4 0h0m15.5 0h0m4.5 0h0m1.5 0.5h0m2 0h0m1 0h0m239.5-1h0m6 0h0m2.5 1h0m17.5-0.5h0m-316.5 1h0m29.5 0h0m5 0.5h0m7 0h0m2 0h0m7.5 0h0m4.5-0.5h0m0.5 0h0m236.5-0.5h0m2.5 0h0m1 0.5h0m12.5 0h0m1.5 0.5h0m9.5-1h0m-310 1h0m12 1h0m14.5 0h0m4-0.5h0m6.5 0.5h0m1.5-1h0m3.5 1h0m3.5-1h0m248 0.5h0m3.5 0h0m5 0h0m2.5 0.5h0m37.5-1h0m31 0.5h0m-370 1h0m15.5 0h0m3 0.5h0m1 0h0m4.5-0.5h0m11.5 0.5h0m6.5-0.5h0m1 0h0m237.5-0.5h0m1 0.5h0m1.5 0h0m5.5-0.5h0m2 0.5h0m11.5 0.5h0m10.5-0.5h0m12 0h0m2.5 0.5h0m-327.5 0.5h0m11.5 0.5h0m11.5-0.5h0m5 0h0m5 0h0m1 0h0m5 0h0m248-0.5h0m1.5 0.5h0m2 0h0m10-0.5h0m-316.5 1.5h0m8-0.5h0m13 1h0m6.5-0.5h0m13 0.5h0m1-1h0m6.5 0.5h0m6-0.5h0m243.5 0.5h0m1.5 0h0m1.5 0h0m10.5-0.5h0m12.5 0h0m37.5 1h0m-406 0.5h0m58 0.5h0m10.5-1h0m15 0.5h0m4.5 0.5h0m8-1h0m0.5 1h0m2.5-0.5h0m2 0h0m2.5 0h0m2 0h0m244.5-0.5h0m3.5 0h0m14.5 0.5h0m2.5 0h0m7.5 0.5h0m66.5-0.5h0m-391.5 1h0m8 0h0m20 0h0m7-0.5h0m259.5 0.5h0m0-0.5h0m2 0.5h0m8 0h0m0.5 0h0m8.5 0.5h0m25 0h0m-334 0h0m15.5 0h0m6.5 0.5h0m5 0h0m5 0h0m1 0h0m5.5-0.5h0m1 0h0m5.5 0h0m246.5 1h0m2.5 0h0m6.5-0.5h0m-282 0.5h0m24 0h0m2 0h0m2.5 0h0m0.5 1h0m239.5-0.5h0m14 0.5h0m6.5 0h0m4 0h0m-320.5 1h0m13 0h0m8-0.5h0m9.5 0.5h0m3.5-1h0m2.5 1h0m3-0.5h0m6.5-0.5h0m1.5 0.5h0m6 0h0m242.5 0.5h0m1.5 0h0m2.5-0.5h0m6 0h0m2 0h0m6 0.5h0m5-0.5h0m-275 1h0m7.5 0h0m247.5 0h0m1.5 0.5h0m2-1h0m2 0h0m9.5 1h0m19 0h0m-312.5 1h0m1.5-0.5h0m6-0.5h0m2.5 0.5h0m9 0.5h0m1.5-0.5h0m0.5 0h0m5.5-0.5h0m5 0.5h0m2.5 0h0m254 0h0m9.5 0h0m3.5-0.5h0m-331.5 2h0m20-1h0m7.5 0.5h0m27.5 0.5h0m2.5-1h0m0.5 1h0m2-1h0m5 1h0m241.5-0.5h0m2.5 0.5h0m4-0.5h0m0.5 0h0m3.5 0h0m21.5 0h0m-332.5 1h0m24 0.5h0m20-0.5h0m3.5 0h0m3 0.5h0m6 0h0m3-1h0m253.5 0h0m2.5 1h0m43-0.5h0m-318 1h0m13.5 0.5h0m0.5-1h0m247 1h0m3-0.5h0m4.5-0.5h0m1.5 1h0m8-0.5h0m1.5 0.5h0m-281.5 0h0m5 0h0m1 0.5h0m7.5 0.5h0m6 0h0m2-1h0m249 1h0m3.5-0.5h0m6.5 0.5h0m12-1h0m-293.5 2h0m4.5-0.5h0m5.5-0.5h0m1.5 0.5h0m8.5-0.5h0m3 1h0m245-1h0m1.5 0h0m8 0.5h0m2.5 0.5h0m2.5 0h0m-281 0h0m16.5 0.5h0m3.5 0h0m244 0h0m2.5 0h0m5.5 0h0m11 0.5h0m-383.5 0.5h0m27 0h0m35-0.5h0m2.5 1h0m1.5 0h0m21.5-1h0m11.5 1h0m8.5-0.5h0m3 0h0m1-0.5h0m1.5 0.5h0m3.5 0.5h0m0.5 0h0m4 0h0m248-0.5h0m7.5 0.5h0m1 0h0m5.5 0h0m26-0.5h0m-346.5 1.5h0m37-1h0m10.5 0h0m1.5 1h0m10 0h0m242.5-0.5h0m3 0h0m1 0h0m2-0.5h0m2.5 0.5h0m1.5 0.5h0m61-0.5h0m-338 1.5h0m12.5 0h0m9 0h0m4 0h0m252 0h0m7-0.5h0m11.5 0h0m-325 1.5h0m6.5-1h0m1 0h0m2.5 1h0m9.5-1h0m6 1h0m10-1h0m3 0.5h0m259.5 0h0m1.5 0h0m5 0h0m4-0.5h0m1.5 0.5h0m9 0.5h0m56-0.5h0m-401.5 0.5h0m51.5 0h0m6.5 0h0m2 0.5h0m0.5 0h0m15 0.5h0m3-0.5h0m244.5 0h0m5 0h0m15 0.5h0m51.5-0.5h0m-404.5 1h0m23.5 0.5h0m31-1h0m6 0h0m4 0.5h0m5 0.5h0m4-0.5h0m7.5-0.5h0m2.5 0h0m5.5 0.5h0m2.5 0h0m241.5-0.5h0m4 0.5h0m3.5-0.5h0m1 1h0m3.5-1h0m1 0h0m17.5 0.5h0m5-0.5h0m-340.5 1.5h0m20 0h0m9 0h0m17 0h0m3.5 0h0m6 0.5h0m5-0.5h0m246.5-0.5h0m3.5 0h0m5 1h0m19 0h0m7.5-0.5h0m-302.5 1h0m5.5 0.5h0m4 0h0m2-0.5h0m6 0h0m1.5 0h0m247 0.5h0m4.5-0.5h0m2 0h0m10 0.5h0m5 0h0m5-1h0m-286 1.5h0m10.5 0h0m6.5 0h0m0.5 0h0m244 0.5h0m1-1h0m11.5 1h0m11.5-1h0m-322 1.5h0m15.5 0h0m13.5-0.5h0m2.5 0h0m2.5 1h0m0.5-1h0m3.5 0.5h0m4 0h0m9.5 0.5h0m2.5-0.5h0m0.5 0h0m243 0h0m2.5-0.5h0m3.5 1h0m11-1h0m4.5 0.5h0m6-0.5h0m8.5 0h0m-366 1.5h0m26.5 0h0m2 0.5h0m10.5-0.5h0m35.5 0.5h0m4-0.5h0m3-0.5h0m251 1h0m5-0.5h0m2.5-0.5h0m0.5 0h0m0.5 1h0m2.5-0.5h0m54-0.5h0m-379 2h0m8-1h0m21 1h0m9 0h0m4.5 0h0m7.5 0h0m0.5-0.5h0m3.5-0.5h0m9 1h0m2.5-1h0m4 0h0m241.5 0.5h0m3.5-0.5h0m1.5 0.5h0m5.5 0.5h0m7.5-1h0m4 1h0m-298 1h0m1-0.5h0m4-0.5h0m3 1h0m2.5-1h0m5 0.5h0m4-0.5h0m1.5 1h0m3-1h0m8 0h0m248 1h0m11.5-0.5h0m2 0.5h0m15-0.5h0m-297.5 1.5h0m2.5-0.5h0m4.5 0h0m10.5 0.5h0m1-1h0m3.5 0.5h0m248.5 0.5h0m6.5-1h0m8.5 0h0m1 0h0m4.5 0.5h0m14-0.5h0m-294 2h0m3-1h0m1.5 1h0m0-0.5h0m7.5 0h0m1.5 0h0m240.5 0h0m0.5 0.5h0m1-1h0m1 1h0m7-1h0m7 0.5h0m11 0h0m25.5-0.5h0m27 0h0m-383.5 2h0m2-1h0m22 0.5h0m2-0.5h0m1 0.5h0m8 0.5h0m3-1h0m1.5 1h0m12 0h0m7.5-0.5h0m2.5 0.5h0m246-0.5h0m4.5 0h0m7 0.5h0m2.5-0.5h0m15 0h0m3-0.5h0m-305 2h0m13.5 0h0m2 0h0m7.5-1h0m0 0.5h0m6.5-0.5h0m242.5 0.5h0m4.5 0h0m5 0h0m7.5 0h0m4 0h0m-308 1.5h0m9.5 0h0m10-1h0m12.5 0.5h0m1-0.5h0m8.5 0.5h0m243 0h0m1 0.5h0m10.5-0.5h0m2-0.5h0m2.5 0.5h0m4.5 0h0m0 0h0m-388 1h0m73.5 0h0m5 0.5h0m2-0.5h0m5-0.5h0m20.5 0h0m3.5 0.5h0m2.5 0h0m10.5 0.5h0m2.5-0.5h0m2.5-0.5h0m243.5 1h0m7.5 0h0m9.5 0h0m16-0.5h0m2.5 0h0m-350.5 1h0m3.5 0.5h0m7-0.5h0m24 0h0m7 0h0m20.5-0.5h0m9 0.5h0m240 0h0m6.5-0.5h0m3.5 0.5h0m3.5 0.5h0m2-0.5h0m16.5 0h0m10 0h0m-332.5 0.5h0m7 1h0m10-0.5h0m5 0h0m3.5 0h0m2.5-0.5h0m0.5 1h0m9.5-0.5h0m1 0.5h0m4-1h0m3 1h0m6-1h0m0 1h0m240.5-0.5h0m5.5 0h0m4.5 0.5h0m54-0.5h0m-384.5 0.5h0m48 0.5h0m4.5 0.5h0m1.5 0h0m4-0.5h0m10.5 0h0m8.5 0h0m2.5 0h0m242 0.5h0m2.5 0h0m14-0.5h0m5 0h0m36.5-0.5h0m-362.5 2h0m9.5 0h0m13.5-0.5h0m11 0.5h0m9-1h0m5 0h0m3 1h0m4.5-0.5h0m2.5 0.5h0m4.5-0.5h0m239 0.5h0m1-0.5h0m0.5-0.5h0m2.5 0.5h0m3.5 0h0m14 0h0m13.5 0.5h0m8.5-1h0m9 0h0m3.5 1h0m-329.5 0.5h0m17.5-0.5h0m2 1h0m13.5-0.5h0m246.5-0.5h0m4 0.5h0m6-0.5h0m2 1h0m1-1h0m25 1h0m-340.5 1h0m7.5-0.5h0m17-0.5h0m1.5 1h0m7.5-0.5h0m3 0h0m7 0h0m2.5 0h0m2 0h0m5.5 0h0m252 0h0m3 0h0m4 0h0m10 0.5h0m4 0h0m2.5-0.5h0m1 0.5h0m-337 0h0m2 1h0m23-0.5h0m12 0h0m3.5 0h0m2 0h0m2.5 0.5h0m1.5 0h0m11-0.5h0m1 0.5h0m6-0.5h0m240.5 0.5h0m7-0.5h0m6 0h0m6.5 0.5h0m0.5-0.5h0m25 0h0m11 0.5h0m-347 1h0m23-0.5h0m9.5 0h0m1 0h0m4-0.5h0m3.5 0.5h0m5.5 0h0m244-0.5h0m2.5 1h0m0.5-0.5h0m2-0.5h0m4.5 0h0m0.5 0.5h0m11.5 0h0m1.5-0.5h0m2.5 1h0m10.5-1h0m5.5 1h0m11-1h0m1.5 0h0m-397.5 1h0m88 0.5h0m3 0.5h0m4.5-0.5h0m2 0h0m4.5 0h0m3 0.5h0m238.5-0.5h0m6 0h0m2 0h0m21-0.5h0m2 0h0m12 0.5h0m36 0h0m-357 1.5h0m9.5-1h0m9.5 1h0m10.5-0.5h0m4 0h0m251 0h0m0 0.5h0m11.5-1h0m6.5 1h0m2-1h0m10 0.5h0m-347.5 1.5h0m21.5-0.5h0m3.5 0h0m9-0.5h0m3 0.5h0m7 0.5h0m4-0.5h0m3 0h0m2.5 0h0m2.5-0.5h0m1.5 0.5h0m6.5 0h0m4 0h0m3.5 0h0m2-0.5h0m239.5 0h0m2 0.5h0m14.5 0h0m5-0.5h0m-325.5 1h0m11 0h0m11 1h0m29-0.5h0m2-0.5h0m1.5 1h0m5.5-0.5h0m0 0h0m243 0.5h0m0-1h0m14 0.5h0m7.5 0h0m-308.5 0.5h0m27.5 0h0m12.5 0h0m7 0h0m3.5 0.5h0m235.5 0h0m6 0.5h0m1 0h0m2.5-0.5h0m11 0.5h0m-315.5 0h0m6 0.5h0m17 0h0m3.5-0.5h0m1 0.5h0m2.5-0.5h0m3.5 0.5h0m13 0h0m11.5-0.5h0m237 0.5h0m10-0.5h0m6 0.5h0m20 0h0m14.5 0h0m-359.5 1h0m11-0.5h0m15 0h0m4 0.5h0m2.5-0.5h0m17.5 1h0m7-1h0m0.5 0.5h0m2 0h0m3 0h0m0.5 0h0m3-0.5h0m2.5 0.5h0m3-0.5h0m238 0h0m1.5 1h0m4.5-1h0m3 1h0m11-0.5h0m3.5 0.5h0m7 0h0m4 0h0m-340.5 0.5h0m50.5 0h0m16 0h0m244 0.5h0m3.5 0h0m3 0h0m0-1h0m1 1h0m21.5-0.5h0m-369 1.5h0m27-0.5h0m15 0h0m16.5 0h0m5.5-0.5h0m1.5 0.5h0m7 0h0m4.5 0.5h0m6.5-1h0m4.5 0.5h0m1.5 0h0m2 0.5h0m7-1h0m2 1h0m232.5-1h0m2.5 0.5h0m3.5 0h0m3 0h0m7 0h0m9.5 0h0m9-0.5h0m28.5 0.5h0m-315.5 0.5h0m6.5 0h0m0.5 0.5h0m5.5 0h0m0.5 0h0m7.5 0h0m0-0.5h0m232.5 0h0m1.5 1h0m11.5-0.5h0m9 0.5h0m2.5-0.5h0m8.5 0h0m-370.5 1h0m24 0h0m32.5 0.5h0m5-0.5h0m14 0h0m8.5 0h0m2.5-0.5h0m13.5 0.5h0m2 0h0m242-0.5h0m2 0.5h0m9.5 0h0m-323.5 0.5h0m0.5 1h0m11-1h0m17 0.5h0m0 0.5h0m9.5-0.5h0m11.5 0h0m6.5 0h0m5 0h0m3.5 0h0m9 0.5h0m1.5-1h0m231.5 0h0m1 1h0m2-0.5h0m2 0h0m8-0.5h0m2.5 0.5h0m21.5 0.5h0m2-0.5h0m-318.5 1h0m4 0h0m16 0h0m10 0.5h0m3.5-0.5h0m1.5-0.5h0m2.5 0.5h0m3 0.5h0m8.5 0h0m228.5-1h0m2.5 0.5h0m9.5 0.5h0m20-1h0m14.5 0.5h0m-325.5 1.5h0m27-0.5h0m1 0h0m0-0.5h0m2.5 1h0m6.5-0.5h0m7.5 0h0m1.5-0.5h0m0.5 1h0m6-0.5h0m231.5 0.5h0m1.5-0.5h0m3-0.5h0m1 1h0m13.5-0.5h0m3 0h0m10.5 0.5h0m16-0.5h0m-349 1h0m6-0.5h0m8.5 0.5h0m35 0.5h0m6.5 0h0m3-0.5h0m2-0.5h0m6 0.5h0m3.5 0h0m225.5 0h0m2 0.5h0m22-1h0m3 0.5h0m3.5-0.5h0m3.5 1h0m-356 1h0m39.5 0h0m1 0h0m20-0.5h0m3.5-0.5h0m22 1h0m5 0h0m0.5-0.5h0m3-0.5h0m1 0.5h0m226.5 0h0m1.5 0h0m5 0h0m0 0h0m7.5-0.5h0m2 0h0m4.5 0.5h0m3-0.5h0m26 1h0m-324 1h0m2-1h0m1 0h0m3.5 0.5h0m17 0.5h0m3-1h0m10 0.5h0m9.5 0h0m2.5 0.5h0m2 0h0m222.5-0.5h0m4.5 0h0m15.5 0.5h0m3-0.5h0m-302 1.5h0m0.5-0.5h0m20 0.5h0m11 0h0m1.5-0.5h0m3 0h0m0.5 0h0m1.5 0.5h0m2-0.5h0m4 0h0m3 0h0m7.5 0h0m233.5 0.5h0m1.5-0.5h0m3 0h0m6 0h0m5 0.5h0m10.5-0.5h0m3.5 0h0m-348 1h0m23-0.5h0m13.5 1h0m8.5 0h0m5 0h0m3-0.5h0m2.5 0h0m3-0.5h0m1 0.5h0m11.5 0.5h0m5-0.5h0m2.5 0.5h0m1 0h0m228.5 0h0m2.5-0.5h0m2 0h0m2 0h0m2.5 0.5h0m6 0h0m0.5-0.5h0m6.5 0.5h0m2.5-0.5h0m26.5-0.5h0m-332.5 1h0m20.5 0.5h0m18.5 0.5h0m7-0.5h0m10-0.5h0m1.5 0.5h0m4.5 0h0m217.5 0h0m8 0.5h0m2.5 0h0m3.5-1h0m2 1h0m4.5 0h0m10.5-1h0m2 0.5h0m0.5 0h0m-311 1h0m13 0.5h0m7-0.5h0m8-0.5h0m1 0h0m17 0h0m4.5 0.5h0m3.5 0h0m2-0.5h0m1 0.5h0m3.5-0.5h0m1 0.5h0m213 0.5h0m3-1h0m1.5 0h0m4.5 1h0m23.5-0.5h0m2.5-0.5h0m4.5 1h0m1.5 0h0m2-0.5h0m-302.5 0.5h0m17 0h0m7 0.5h0m1.5 0h0m6 0h0m0.5 0h0m5 0.5h0m4 0h0m6 0h0m2-0.5h0m207.5 0h0m4-0.5h0m6.5 1h0m0-1h0m4.5 1h0m2.5-1h0m9.5 0.5h0m4.5-0.5h0m58.5 0.5h0m1 0h0m-395.5 0.5h0m40.5 0h0m2 0.5h0m4.5-0.5h0m18.5 0.5h0m4-0.5h0m5.5 1h0m1.5-0.5h0m3.5-0.5h0m2.5 1h0m14.5-0.5h0m207-0.5h0m4 0.5h0m3 0h0m5.5 0h0m6.5-0.5h0m9 0h0m1.5 0.5h0m4.5 0.5h0m12 0h0m6-0.5h0m-313.5 1h0m10.5-0.5h0m6.5 0.5h0m12 0.5h0m1 0h0m14-1h0m4 0.5h0m1-0.5h0m4 1h0m205-0.5h0m1-0.5h0m4.5 0h0m8 1h0m6.5-0.5h0m1-0.5h0m3 0h0m4.5 0h0m12.5 0.5h0m10.5 0h0m-340.5 1h0m25.5 0.5h0m9-0.5h0m14.5-0.5h0m5 0.5h0m2 0.5h0m11 0h0m2.5 0h0m2-0.5h0m2.5-0.5h0m2 1h0m6 0h0m5.5-1h0m201.5 0h0m4 1h0m1.5-0.5h0m3-0.5h0m2 0.5h0m0.5 0h0m14.5 0h0m14-0.5h0m6.5 0h0m-321.5 2h0m31-1h0m5.5 0.5h0m5 0h0m8 0h0m12 0.5h0m1-0.5h0m3 0h0m0.5 0h0m6-0.5h0m3 0h0m198 0.5h0m4 0h0m1.5 0h0m12-0.5h0m3.5 0h0m4 0h0m2 0.5h0m0-0.5h0m9.5 0h0m3.5 1h0m7-0.5h0m16.5-0.5h0m-334 1.5h0m10.5-0.5h0m8.5 0.5h0m4 0h0m3 0h0m6 0.5h0m6-0.5h0m9 0.5h0m4-0.5h0m5.5 0.5h0m4.5-0.5h0m7 0h0m1-0.5h0m4 0.5h0m194 0h0m2-0.5h0m3 0.5h0m4 0.5h0m4-0.5h0m1.5 0h0m2 0.5h0m5-0.5h0m18.5 0h0m12.5 0h0m2.5 0.5h0m-315.5 0h0m27 0.5h0m17.5 0.5h0m2-1h0m6.5 0.5h0m5 0h0m4.5 0.5h0m2.5-0.5h0m3-0.5h0m2.5 0.5h0m196-0.5h0m6.5 1h0m5.5-1h0m5.5 1h0m8-1h0m21 0.5h0m33.5 0h0m11 0.5h0m-364 0h0m13.5 0h0m3 1h0m8 0h0m14-1h0m11 0.5h0m4 0h0m2 0.5h0m1-1h0m4 0.5h0m3.5 0h0m3 0h0m4 0.5h0m3 0h0m2.5-1h0m185.5 1h0m1 0h0m1.5-1h0m2 0h0m5 0.5h0m4.5 0h0m1.5-0.5h0m5 0.5h0m4.5-0.5h0m2 1h0m7 0h0m6.5 0h0m-301.5 0.5h0m14.5-0.5h0m13 0.5h0m4 0.5h0m1.5-0.5h0m3.5-0.5h0m16 1h0m3 0h0m9-0.5h0m2.5 0h0m4 0.5h0m2-0.5h0m5-0.5h0m181.5 0.5h0m9.5 0h0m2.5 0h0m11.5 0h0m1.5 0h0m8 0h0m3.5 0.5h0m1 0h0m9-1h0m4.5 0.5h0m5.5 0h0m11.5 0h0m8.5-0.5h0m-286.5 1.5h0m10 0h0m1.5 0.5h0m11-0.5h0m5.5 0h0m179.5 0.5h0m1 0h0m3.5-1h0m4.5 0.5h0m4-0.5h0m1 0h0m2.5 1h0m2.5-0.5h0m6 0h0m54.5 0.5h0m-340.5 1h0m9-0.5h0m4.5-0.5h0m5 0h0m16.5 0.5h0m2 0h0m6 0.5h0m0 0h0m1.5-0.5h0m4 0.5h0m4.5-0.5h0m6-0.5h0m7 1h0m2 0h0m1.5-0.5h0m1.5-0.5h0m3.5 0.5h0m2 0h0m1.5 0h0m0-0.5h0m2 0.5h0m5 0.5h0m183-1h0m4.5 1h0m10-0.5h0m1.5 0.5h0m0.5-1h0m5 0.5h0m5-0.5h0m1.5 1h0m0.5-1h0m0.5 0h0m3.5 1h0m6.5-0.5h0m4 0h0m-323 1.5h0m35-0.5h0m4 0h0m18.5 0h0m5.5 0h0m2.5-0.5h0m3 1h0m2.5-0.5h0m12.5 0h0m8.5 0.5h0m2 0h0m180.5-0.5h0m2.5-0.5h0m5.5 1h0m5.5-1h0m1.5 0.5h0m9 0.5h0m2-1h0m4.5 0h0m0.5 1h0m4.5-0.5h0m5 0h0m7 0h0m7 0h0m4 0h0m-311.5 0.5h0m22.5 0.5h0m4 0h0m9 0h0m1.5 0.5h0m8 0h0m5.5 0h0m5-1h0m0 0.5h0m1 0h0m3.5 0h0m9 0.5h0m3.5-0.5h0m3-0.5h0m173 0.5h0m1 0h0m10 0h0m11.5 0h0m1.5 0.5h0m1-1h0m7 0.5h0m12-0.5h0m1.5 0.5h0m9-0.5h0m51.5 0.5h0m21 0h0m-424 1h0m37-0.5h0m25.5 0h0m4.5 0.5h0m2.5 0h0m21.5 0.5h0m5-0.5h0m10.5 0.5h0m4-1h0m5.5 0h0m11.5 0.5h0m166 0h0m1.5 0h0m4.5 0h0m1 0h0m2.5-0.5h0m1 0.5h0m14 0h0m10 0h0m1.5-0.5h0m7 0h0m10.5 0.5h0m13.5-0.5h0m4.5 0h0m14 0.5h0m-319.5 1.5h0m4.5-0.5h0m9.5 0h0m3-0.5h0m9.5 0h0m10.5 1h0m5-0.5h0m1.5 0.5h0m12.5-0.5h0m2 0h0m5-0.5h0m2 0.5h0m167.5-0.5h0m1 1h0m18-1h0m2 0.5h0m4.5 0.5h0m5.5 0h0m3-0.5h0m5 0h0m3 0.5h0m10-0.5h0m-279 1.5h0m3-0.5h0m2 0h0m2 0h0m6.5-0.5h0m1.5 1h0m8.5-0.5h0m11-0.5h0m8 0h0m2 0h0m2 0.5h0m7-0.5h0m3 0.5h0m2-0.5h0m2 0h0m2.5 0h0m0 0h0m2.5 1h0m161-0.5h0m5.5 0h0m2 0.5h0m3.5-0.5h0m2 0h0m3 0h0m25.5 0h0m-311 0.5h0m27 0.5h0m32.5 0.5h0m3 0h0m2.5 0h0m7-1h0m8.5 0.5h0m7.5 0.5h0m3-0.5h0m7 0h0m13 0.5h0m149-0.5h0m7.5-0.5h0m4 1h0m0.5-0.5h0m0 0.5h0m4 0h0m12-0.5h0m2.5 0h0m8.5 0.5h0m5.5 0h0m2.5-0.5h0m1-0.5h0m10 0h0m2 0.5h0m-366 1h0m57.5 0h0m25.5 0h0m18.5-0.5h0m6 1h0m7-1h0m15 0.5h0m6.5 0h0m5-0.5h0m5.5 0.5h0m3-0.5h0m2 0.5h0m2 0h0m0.5 0h0m148.5 0h0m4 0.5h0m1.5 0h0m3-1h0m2.5 0h0m2 0.5h0m7 0h0m5.5 0h0m8.5 0h0m2.5 0h0m18-0.5h0m5 1h0m10 0h0m68-0.5h0m-372 1h0m6.5-0.5h0m7 0.5h0m8 0.5h0m4-0.5h0m23 0.5h0m1.5-1h0m4 0.5h0m1 0h0m10 0h0m4 0h0m0.5 0.5h0m10.5 0h0m1 0h0m2.5 0h0m3-0.5h0m2 0h0m1.5-0.5h0m1.5 1h0m1.5 0h0m135-0.5h0m3.5-0.5h0m3.5 0.5h0m5 0.5h0m13.5 0h0m3.5-0.5h0m0.5 0h0m5.5-0.5h0m3 0.5h0m1-0.5h0m2.5 0.5h0m4.5 0h0m1 0h0m20.5-0.5h0m-278.5 1h0m10.5 0h0m10 0.5h0m0.5-0.5h0m5 0.5h0m7.5 0h0m3.5-0.5h0m4 0h0m0.5 0.5h0m4 0h0m22.5 0h0m137 0h0m2.5-0.5h0m2 1h0m6 0h0m10.5-0.5h0m2.5 0h0m3.5-0.5h0m14.5 0.5h0m1 0.5h0m19-0.5h0m1.5 0h0m3-0.5h0m58 0.5h0m-318 1h0m4-0.5h0m3.5 0.5h0m6-0.5h0m22 0.5h0m4-0.5h0m2.5 0.5h0m0.5-0.5h0m3.5 0.5h0m2 0.5h0m1.5-0.5h0m3.5 0.5h0m3 0h0m4.5 0h0m1.5 0h0m4.5-0.5h0m120 0h0m7.5 0h0m2 0h0m1 0h0m3-0.5h0m3.5 0.5h0m4 0.5h0m2.5-1h0m1 0.5h0m2-0.5h0m6 0.5h0m0.5 0h0m2.5 0.5h0m5-1h0m12 0.5h0m5-0.5h0m3.5 0.5h0m15 0h0m102.5 0h0m-395 1h0m6 0h0m3.5 0h0m12 0.5h0m2.5 0h0m7-0.5h0m4.5 0h0m4.5 0h0m3-0.5h0m5 0h0m1.5 1h0m2 0h0m1-1h0m7.5 0.5h0m3.5-0.5h0m3 0.5h0m13 0.5h0m8.5-0.5h0m1.5 0h0m9 0h0m116 0.5h0m2-0.5h0m4-0.5h0m2 0.5h0m7.5 0.5h0m1-0.5h0m3.5 0.5h0m11-0.5h0m1.5-0.5h0m7.5 0h0m2 0.5h0m4.5 0h0m2.5 0.5h0m4.5-0.5h0m4.5 0h0m1.5 0h0m4 0h0m20 0.5h0m0-1h0m-270 1.5h0m0 0h0m9.5 0h0m4.5 0.5h0m7-0.5h0m5.5 0h0m12 0.5h0m2.5-1h0m5 0h0m8 0.5h0m9.5 0h0m3-0.5h0m3.5 0.5h0m2 0h0m104.5 0h0m4.5 0h0m4.5-0.5h0m2 1h0m4-0.5h0m3.5 0.5h0m10.5-0.5h0m6 0.5h0m1-0.5h0m2 0h0m1.5-0.5h0m4 0.5h0m5-0.5h0m3.5 1h0m1.5-0.5h0m3 0h0m4 0.5h0m5.5-1h0m13 0.5h0m23 0.5h0m19-1h0m-334.5 2h0m23.5-1h0m8 0h0m29.5 0h0m0.5 1h0m16.5 0h0m1.5-1h0m4.5 0.5h0m4.5-0.5h0m5.5 0h0m3 0.5h0m6.5 0h0m4 0.5h0m103 0h0m2.5-0.5h0m2 0h0m4 0h0m1.5 0h0m1.5 0.5h0m12.5-0.5h0m1 0h0m6 0h0m20 0h0m5.5 0h0m9 0h0m4.5 0h0m46.5 0.5h0m9.5 0h0m22.5-1h0m-368.5 1.5h0m1 0h0m29.5-0.5h0m8.5 0h0m7.5 0.5h0m13.5 0h0m9.5 0.5h0m9.5-1h0m2.5 0h0m14 0.5h0m5.5 0h0m6 0h0m0-0.5h0m4 0h0m8.5 0.5h0m2 0h0m93.5 0h0m2 0h0m3.5 0.5h0m6 0h0m8-1h0m2.5 1h0m1-0.5h0m1.5-0.5h0m0 1h0m4 0h0m4.5-1h0m2 0.5h0m2.5 0h0m14 0h0m2.5 0h0m5.5 0.5h0m13-1h0m0 0.5h0m3 0h0m2 0h0m2 0.5h0m15.5-0.5h0m13.5 0h0m-315 1.5h0m38 0h0m4.5 0h0m7.5-0.5h0m4.5 0.5h0m2-0.5h0m9.5 0h0m1 0h0m6.5 0h0m1.5-0.5h0m4 0.5h0m5 0.5h0m2-0.5h0m3 0h0m1.5 0h0m5 0.5h0m2-0.5h0m4 0h0m1 0h0m3 0h0m5 0h0m1.5 0h0m89 0h0m4.5 0h0m1 0.5h0m6-1h0m3 0.5h0m1 0h0m6.5 0.5h0m4 0h0m5.5-0.5h0m10.5 0.5h0m11 0h0m2.5-0.5h0m7.5 0.5h0m8-0.5h0m2.5 0.5h0m17.5-1h0m3 0.5h0m1.5 0h0m1.5-0.5h0m10.5 0.5h0m8 0.5h0m10-0.5h0m19.5-0.5h0m-322 1.5h0m18 0h0m3 0h0m13.5 0h0m4-0.5h0m9 0.5h0m1.5 0h0m4 0h0m2 0.5h0m2 0h0m11-0.5h0m0 0h0m11 0h0m6.5-0.5h0m84 1h0m2.5-0.5h0m7.5 0h0m3 0.5h0m1.5-0.5h0m1 0h0m10.5 0.5h0m1.5-0.5h0m3.5 0h0m1.5-0.5h0m11 0.5h0m3 0h0m3 0.5h0m2.5-0.5h0m1 0h0m1.5-0.5h0m2 0h0m3.5 0h0m3 1h0m4-1h0m2 0.5h0m23 0h0m21.5 0h0m7.5-0.5h0m-266 2h0m13-0.5h0m4.5 0.5h0m8.5 0h0m8.5-0.5h0m1 0h0m8-0.5h0m13.5 1h0m1.5-0.5h0m1.5-0.5h0m2 0h0m3.5 0.5h0m4 0.5h0m69-0.5h0m2 0h0m1.5 0.5h0m6.5 0h0m8-0.5h0m6.5 0h0m4 0.5h0m8.5-0.5h0m3.5-0.5h0m4 0.5h0m2 0h0m2-0.5h0m1 0.5h0m3 0h0m2 0.5h0m5-0.5h0m2.5 0h0m10.5 0.5h0m2.5-0.5h0m4 0h0m2.5 0h0m4 0h0m6.5 0h0m4.5 0h0m4 0h0m7.5 0h0m1 0.5h0m5-0.5h0m2.5-0.5h0m-282.5 1h0m12.5 0.5h0m3 0.5h0m11.5-0.5h0m8.5 0h0m2 0h0m8.5-0.5h0m10.5 0.5h0m6 0h0m3.5-0.5h0m8.5 0.5h0m2.5 0h0m1 0.5h0m1.5-1h0m0 0.5h0m7.5 0h0m1 0.5h0m4.5-1h0m1 1h0m2.5-0.5h0m63.5 0.5h0m2.5-0.5h0m4.5 0.5h0m2.5-0.5h0m8.5 0.5h0m0-1h0m2 0.5h0m3.5 0h0m5.5 0.5h0m3-1h0m4 0.5h0m1-0.5h0m0.5 1h0m2.5-0.5h0m4.5 0h0m3-0.5h0m1.5 0.5h0m6 0h0m0.5 0.5h0m4.5-0.5h0m2.5 0h0m11-0.5h0m2 0.5h0m1 0h0m9.5-0.5h0m2.5 1h0m8.5-0.5h0m4 0.5h0m9.5 0h0m20.5-0.5h0m11.5 0.5h0m-283 0.5h0m5.5 0h0m2.5 0h0m8-0.5h0m4.5 0.5h0m2 0.5h0m4.5-0.5h0m14.5 0.5h0m4-0.5h0m5.5-0.5h0m4.5 0h0m7 0.5h0m8 0h0m9 0.5h0m2-1h0m3 0.5h0m3-0.5h0m1 0.5h0m49.5 0h0m12-0.5h0m7.5 0h0m3 0.5h0m2 0h0m4.5 0h0m6 0h0m7 0.5h0m11 0h0m15.5-0.5h0m4 0.5h0m5-0.5h0m3.5 0h0m7.5 0h0m6.5 0.5h0m1-1h0m11 0h0m9 0.5h0m11 0h0m2.5 0h0m-268.5 1h0m19.5-0.5h0m14.5 0.5h0m4.5 0h0m2 0.5h0m8.5-0.5h0m0.5 0h0m8 0.5h0m7.5-0.5h0m1.5-0.5h0m8 0.5h0m4.5-0.5h0m2.5 1h0m1.5-1h0m3.5 0.5h0m4.5 0h0m43.5 0h0m1 0h0m4 0h0m1.5 0.5h0m3.5 0h0m1.5 0h0m0.5-1h0m3.5 0.5h0m1 0h0m3-0.5h0m1 0.5h0m12-0.5h0m5 0.5h0m1 0h0m2.5 0h0m3 0h0m15.5-0.5h0m12 0.5h0m8 0h0m6.5 0.5h0m6-1h0m1 1h0m4-0.5h0m0 0h0m2 0h0m6 0h0m3.5 0h0m1 0h0m6.5-0.5h0m20 0h0m7 0.5h0m2 0h0m10.5-0.5h0m-292.5 1.5h0m5.5 0h0m7 0h0m7-0.5h0m1.5 0.5h0m12.5-0.5h0m4.5 1h0m14.5 0h0m1.5-0.5h0m10.5 0.5h0m4-0.5h0m4.5 0h0m4-0.5h0m1 0.5h0m8.5 0.5h0m5.5 0h0m3-1h0m2 0.5h0m44 0.5h0m10 0h0m8.5-0.5h0m2 0h0m3.5 0h0m4 0h0m2.5 0h0m12.5 0h0m5 0h0m1 0h0m6.5 0h0m3.5 0h0m1.5 0h0m5 0.5h0m1-0.5h0m4.5 0h0m3.5 0.5h0m0.5-1h0m8 0h0m4 0.5h0m11-0.5h0m19.5 1h0m-263.5 0.5h0m7.5 0h0m12.5 0h0m5.5 0h0m6.5 0h0m5.5-0.5h0m9 0.5h0m5 0h0m1 0h0m1.5 0h0m1 0h0m0.5 0h0m1 0h0m5 0h0m2 0h0m5 0h0m1.5 0.5h0m9.5-1h0m1.5 1h0m3 0h0m1.5 0h0m0-0.5h0m1 0h0m1.5-0.5h0m2 0.5h0m4 0.5h0m2-1h0m3.5 0.5h0m1.5 0h0m1.5-0.5h0m4 1h0m21.5 0h0m5-0.5h0m4 0h0m0 0.5h0m3.5-0.5h0m0.5 0.5h0m2.5-0.5h0m10.5 0h0m7.5 0h0m4-0.5h0m1.5 0.5h0m6 0.5h0m2-0.5h0m6.5-0.5h0m0.5 1h0m1-1h0m11.5 1h0m2-0.5h0m3 0h0m9.5 0h0m9.5 0.5h0m7.5-0.5h0m1 0.5h0m5.5 0h0m13-0.5h0m0 0h0m13.5 0h0m6.5 0h0m7.5 0h0m11 0h0m8.5-0.5h0m-326 1.5h0m34.5 0h0m10-0.5h0m23 0.5h0m7 0h0m5.5 0.5h0m3-0.5h0m3.5 0h0m6-0.5h0m3 0.5h0m2-0.5h0m12 0h0m3.5 0.5h0m12 0h0m4-0.5h0m7.5 0h0m2 0h0m5.5 0.5h0m0.5 0.5h0m2-0.5h0m10.5 0h0m9 0.5h0m3-1h0m4 0.5h0m5.5 0h0m2.5 0h0m2 0h0m2.5 0h0m3 0h0m4 0h0m4 0h0m3 0h0m6 0h0m5 0h0m3 0h0m4.5 0.5h0m7-0.5h0m9.5 0h0m17 0h0m3 0h0m4 0h0m4 0.5h0m5.5-1h0m2.5 0h0m3.5 0.5h0m3.5 0h0m9 0.5h0m3.5-0.5h0m14 0.5h0m20.5 0h0m-339.5 0.5h0m38 0h0m42.5 0h0m4.5-0.5h0m5.5 1h0m0.5-1h0m7.5 1h0m16-1h0m1 0h0m1 0.5h0m4 0.5h0m0-0.5h0m2 0h0m3.5-0.5h0m6 0.5h0m13.5 0h0m1 0.5h0m7.5 0h0m8.5 0h0m1-0.5h0m2.5-0.5h0m9 0.5h0m3 0h0m3.5 0.5h0m3.5 0h0m21-0.5h0m0-0.5h0m4.5 0h0m2 1h0m2.5 0h0m3-0.5h0m7 0h0m0 0.5h0m0.5-0.5h0m8.5 0h0m3-0.5h0m7 0.5h0m7.5 0h0m2 0.5h0m1.5-0.5h0m1.5 0h0m5.5 0h0m0.5 0.5h0m1-0.5h0m3 0h0m5 0h0m4 0.5h0m7.5-0.5h0m1 0.5h0m12.5-1h0m22 1h0m32.5-0.5h0m-310.5 0.5h0m15 1h0m2.5-0.5h0m3 0h0m16.5 0h0m25.5 0h0m4.5-0.5h0m2 0h0m1.5 0h0m3 0.5h0m4.5-0.5h0m5.5 0h0m1.5 1h0m5 0h0m3.5-0.5h0m4.5 0h0m1.5 0h0m8.5 0.5h0m2-0.5h0m10 0h0m6 0h0m1.5 0h0m6.5-0.5h0m4.5 0.5h0m1-0.5h0m3.5 0.5h0m11-0.5h0m1 0.5h0m2.5 0h0m1.5-0.5h0m3.5 0h0m0.5 0.5h0m5-0.5h0m19 0.5h0m6-0.5h0m1.5 0h0m6 0.5h0m3.5-0.5h0m3 1h0m4.5-1h0m7 0.5h0m15.5 0h0m2.5-0.5h0m9 0.5h0m8 0.5h0m7 0h0m0.5-0.5h0m4 0h0m3.5 0h0m2.5 0h0m2 0.5h0m14-0.5h0m1.5 0.5h0m9.5-1h0m-313 2h0m31-0.5h0m16.5 0h0m1 0h0m5.5 0.5h0m8-0.5h0m15.5 0h0m2.5-0.5h0m17 0.5h0m5 0h0m9-0.5h0m1 0.5h0m3.5 0h0m1 0h0m9 0h0m1-0.5h0m2.5 0.5h0m1.5 0h0m0.5-0.5h0m1.5 0h0m4 0.5h0m1.5 0h0m1-0.5h0m6 0.5h0m2.5-0.5h0m1.5 0.5h0m8 0h0m4.5-0.5h0m2.5 0h0m3.5 0.5h0m6.5 0.5h0m3 0h0m4 0h0m2.5-0.5h0m0.5-0.5h0m2.5 0.5h0m4.5-0.5h0m2 0.5h0m0-0.5h0m5 1h0m6.5-1h0m1 0.5h0m8-0.5h0m2.5 0.5h0m5 0h0m14 0h0m3.5 0h0m4.5 0h0m25.5 0h0m16 0h0m6 0.5h0m-275.5 0h0m9.5 0.5h0m2.5 0.5h0m11.5-0.5h0m2.5 0h0m11-0.5h0m7.5 1h0m5 0h0m11-0.5h0m9.5 0h0m9.5-0.5h0m3 0.5h0m3.5-0.5h0m1.5 0h0m2 0.5h0m5-0.5h0m1 1h0m9-0.5h0m1 0.5h0m1-1h0m4 0.5h0m7.5 0h0m0.5-0.5h0m8 0h0m4.5 1h0m5-0.5h0m0.5 0.5h0m13-1h0m6 1h0m7.5-0.5h0m10-0.5h0m2 0h0m10 0h0m18 1h0m2 0h0m2.5-0.5h0m9 0h0m4.5-0.5h0m4 1h0m4.5-0.5h0m1 0h0m3.5-0.5h0m7 0.5h0m16.5 0h0m5-0.5h0m8 0h0m15 0.5h0m-278.5 1h0m14-0.5h0m8.5 0.5h0m1.5-0.5h0m16.5 0.5h0m1.5 0h0m5 0h0m1.5-0.5h0m3 0.5h0m4.5 0.5h0m4.5-0.5h0m5.5-0.5h0m2 0.5h0m6 0.5h0m1.5-1h0m6 0.5h0m3-0.5h0m1 0.5h0m7 0h0m9 0.5h0m16.5-0.5h0m3 0h0m1 0h0m11-0.5h0m4.5 0h0m1 1h0m2.5-0.5h0m3 0.5h0m0.5-1h0m2.5 0h0m0.5 0.5h0m11 0h0m3 0h0m1.5 0h0m4 0.5h0m8-1h0m6.5 0.5h0m0.5 0h0m4-0.5h0m6.5 0h0m3 0h0m10 0h0m12 0.5h0m2.5-0.5h0m3.5 0.5h0m3 0h0m40 0h0m10 0h0m-272 1h0m20.5 0h0m2-0.5h0m5 0.5h0m4 0h0m18.5-0.5h0m11 0h0m3 1h0m2 0h0m1-0.5h0m5 0h0m1.5 0h0m7.5 0.5h0m3-1h0m4.5 1h0m2-0.5h0m3.5 0.5h0m6-0.5h0m3.5-0.5h0m5.5 0.5h0m0.5-0.5h0m2 0.5h0m3 0h0m3.5-0.5h0m3.5 1h0m2.5-0.5h0m3.5-0.5h0m1.5 0h0m12.5 0.5h0m3.5 0h0m11 0h0m4.5 0h0m3 0h0m3 0h0m3.5-0.5h0m1.5 0h0m6.5 0h0m3 0.5h0m8 0h0m12-0.5h0m1.5 0h0m3 1h0m2.5-0.5h0m1.5 0h0m2 0h0m14.5 0h0m4.5 0.5h0m12.5 0h0m3-1h0m12.5 0.5h0m24.5 0.5h0m42.5-1h0m-356 1.5h0m51 0.5h0m6.5-1h0m7.5 0.5h0m1.5 0h0m8.5 0.5h0m10-1h0m7 1h0m14-0.5h0m0.5 0.5h0m9.5-1h0m3 1h0m3-0.5h0m3.5-0.5h0m8 0.5h0m2.5 0h0m15-0.5h0m5.5 0.5h0m6 0.5h0m1.5-0.5h0m3 0h0m0.5 0.5h0m3.5-0.5h0m7 0h0m5.5-0.5h0m3.5 1h0m4.5 0h0m2 0h0m3-0.5h0m2.5 0h0m5.5 0h0m0.5-0.5h0m4 1h0m3-1h0m5 0.5h0m1.5-0.5h0m2.5 1h0m3.5-1h0m2 0h0m2.5 0h0m15 1h0m13-0.5h0m2 0h0m5.5-0.5h0m15.5 0.5h0m12.5 0h0m4.5-0.5h0m10 1h0m-291 1h0m14-0.5h0m15.5-0.5h0m7.5 0.5h0m8 0.5h0m5-0.5h0m11 0.5h0m12-1h0m1.5 0h0m4.5 1h0m2-0.5h0m2.5 0.5h0m5.5-0.5h0m2.5 0h0m2-0.5h0m5.5 0h0m1 0.5h0m9.5-0.5h0m0 0h0m2.5 0.5h0m7-0.5h0m5.5 0h0m3.5 0h0m2 0.5h0m3.5 0h0m5 0h0m2.5-0.5h0m18 0h0m6 0.5h0m19.5 0h0m5-0.5h0m4.5 0h0m12 0.5h0m20 0h0m8.5 0h0m8 0h0m1 0h0m35.5 0h0m60.5 0h0m-360 1h0m30 0h0m14.5 0.5h0m22-1h0m16.5 0h0m1 0h0m4.5 0h0m1.5 0.5h0m7 0.5h0m5.5-0.5h0m2.5 0h0m2.5 0h0m16.5 0.5h0m2-1h0m3 1h0m4.5-0.5h0m1 0.5h0m8-1h0m2.5 0.5h0m2.5 0h0m4.5 0h0m0.5-0.5h0m2 1h0m6 0h0m3-1h0m2 0.5h0m2.5 0.5h0m2-0.5h0m7.5 0h0m2.5-0.5h0m2.5 0.5h0m6.5-0.5h0m0.5 1h0m3.5-0.5h0m3 0.5h0m6.5 0h0m2-0.5h0m3.5-0.5h0m1.5 1h0m9-0.5h0m6 0h0m6-0.5h0m1.5 1h0m3-1h0m1.5 0h0m9 0h0m6 0h0m1.5 0h0m10.5 1h0m9.5-1h0m2 1h0m5.5-0.5h0m1.5 0h0m38.5 0h0m-286.5 1h0m10 0h0m14.5 0.5h0m8-1h0m4 0.5h0m4 0h0m12.5 0h0m2 0.5h0m2.5-0.5h0m1.5 0h0m7 0h0m8.5 0h0m4 0.5h0m14-1h0m4 1h0m8.5-0.5h0m3.5 0h0m4 0h0m6.5 0h0m4.5 0h0m1 0h0m7 0h0m8.5 0.5h0m4-0.5h0m2.5 0h0m3 0h0m2.5 0h0m15.5 0.5h0m9.5-1h0m3 0.5h0m1-0.5h0m5 0.5h0m6.5 0h0m2.5-0.5h0m9 0h0m5 0.5h0m2.5 0h0m12.5 0h0m7.5 0.5h0m6.5-1h0m6.5 0.5h0m7.5 0h0m3.5-0.5h0m13 1h0m-290.5 0.5h0m0.5-0.5h0m47.5 0h0m17.5 1h0m0.5-0.5h0m0.5 0.5h0m1-0.5h0m14 0.5h0m3.5 0h0m4.5-0.5h0m1 0.5h0m7.5 0h0m5-0.5h0m2-0.5h0m2 0h0m2 0h0m1.5 0.5h0m19 0h0m6.5-0.5h0m17 1h0m4.5-0.5h0m2.5 0.5h0m2-1h0m3 0.5h0m0.5 0.5h0m10-1h0m3 1h0m4.5-0.5h0m1.5 0.5h0m3.5-1h0m0.5 1h0m1.5-0.5h0m6.5 0h0m3.5 0h0m7 0.5h0m1-1h0m11.5 1h0m0-0.5h0m7 0h0m9.5-0.5h0m1.5 1h0m5.5-1h0m3.5 0h0m10 0h0m6.5 0.5h0m7.5 0.5h0m-240.5 1h0m6.5-1h0m11 0.5h0m24.5 0.5h0m4 0h0m6.5-0.5h0m12 0h0m6.5 0h0m8 0h0m3-0.5h0m10 0.5h0m4 0.5h0m0.5-1h0m2.5 0.5h0m2 0h0m5.5 0.5h0m4.5 0h0m9 0h0m4.5-0.5h0m7.5 0h0m9 0h0m4.5 0h0m1.5 0h0m4 0h0m13 0h0m16 0h0m12 0h0m2 0.5h0m1-1h0m1.5 0.5h0m7.5 0.5h0m10.5-1h0m9 0.5h0m1-0.5h0m3 1h0m8.5-0.5h0m11-0.5h0m-229.5 2h0m1-0.5h0m2.5-0.5h0m3.5 0h0m3.5 0.5h0m1.5 0h0m1.5 0h0m4 0h0m6-0.5h0m3.5 0.5h0m27.5 0h0m1.5-0.5h0m1 1h0m2.5-1h0m8.5 0h0m3 0.5h0m2.5 0.5h0m1-0.5h0m5.5 0.5h0m4.5-0.5h0m2.5 0h0m12.5 0.5h0m0-0.5h0m1 0h0m3.5 0h0m4.5 0h0m0.5 0.5h0m2.5-1h0m0.5 1h0m6-0.5h0m6.5-0.5h0m3.5 0.5h0m5 0h0m2 0h0m12.5 0h0m2 0.5h0m4.5-0.5h0m6.5-0.5h0m5.5 0.5h0m6 0.5h0m2 0h0m12.5-0.5h0m8-0.5h0m26 0.5h0m2.5 0h0m2.5 0h0m10.5 0.5h0m6.5-0.5h0m17.5-0.5h0m-300 1.5h0m14 0h0m2.5 0.5h0m12-0.5h0m17-0.5h0m1.5 0.5h0m14-0.5h0m21 0h0m1 1h0m4.5-0.5h0m4 0.5h0m7.5-0.5h0m5.5 0.5h0m0 0h0m3.5 0h0m4-1h0m4.5 1h0m0.5-1h0m7.5 0.5h0m9 0h0m2 0.5h0m11.5 0h0m11.5 0h0m4.5 0h0m3.5 0h0m5.5-0.5h0m6 0h0m4-0.5h0m1 0.5h0m1.5 0.5h0m17 0h0m6-0.5h0m2 0h0m6 0h0m11 0h0m23.5-0.5h0m0.5 0h0m2.5 0h0m4.5 0.5h0m-253.5 1h0m26 0.5h0m2 0h0m3.5 0h0m17.5-0.5h0m9.5-0.5h0m3 0.5h0m4-0.5h0m8 0.5h0m11 0h0m14 0h0m5 0.5h0m8-0.5h0m4.5 0h0m3-0.5h0m5 1h0m3.5-1h0m4.5 1h0m2-1h0m2.5 0.5h0m0.5-0.5h0m7.5 0.5h0m4 0.5h0m2.5-1h0m3.5 0.5h0m3.5-0.5h0m3 1h0m2.5-0.5h0m2 0.5h0m9.5-0.5h0m14.5 0.5h0m2.5-1h0m1 0h0m6 0h0m14.5 1h0m0.5-0.5h0m4-0.5h0m1.5 0.5h0m3.5-0.5h0m8 0h0m4.5 0h0m6.5 0.5h0m-245.5 1h0m32.5 0h0m5.5-0.5h0m3 0.5h0m19.5 0h0m6.5 0h0m2.5 0.5h0m2.5-0.5h0m3 0h0m6-0.5h0m3 0.5h0m2.5 0h0m2 0h0m7 0h0m2.5-0.5h0m2 0h0m2 1h0m12 0h0m2-1h0m16.5 1h0m4-0.5h0m11-0.5h0m16 0h0m9.5 0.5h0m7.5 0.5h0m7-1h0m1 1h0m10.5 0h0m1-1h0m4.5 1h0m3.5-1h0m2 0.5h0m8.5 0h0m1.5 0h0m7-0.5h0m2 0h0m3.5 0.5h0m6.5 0.5h0m5.5 0h0m7.5-1h0m27 0h0m9.5 1h0m40.5-0.5h0m-335 1h0m19 0h0m5 0h0m9 0.5h0m16.5 0h0m0.5-0.5h0m0.5-0.5h0m5.5 0.5h0m1-0.5h0m5 1h0m7 0h0m7-0.5h0m6 0h0m2.5 0h0m1-0.5h0m11 0h0m2 0h0m11 0.5h0m10 0h0m3.5 0.5h0m2.5-0.5h0m2 0h0m9-0.5h0m11 0h0m1 0.5h0m2 0h0m8 0h0m2.5 0h0m0.5 0h0m4 0h0m1.5 0.5h0m9-1h0m8.5 0h0m4.5 0.5h0m1.5 0h0m3.5 0h0m5.5 0.5h0m1.5-0.5h0m14 0.5h0m2-0.5h0m4.5 0h0m11.5 0h0m3.5 0h0m5 0h0m0.5 0.5h0m28.5-0.5h0m2.5 0h0m-263.5 0.5h0m30 0.5h0m6 0.5h0m36-1h0m6 1h0m6-0.5h0m1 0h0m4 0.5h0m9-0.5h0m8.5-0.5h0m4.5 0.5h0m5.5 0.5h0m3.5-0.5h0m6 0.5h0m2-0.5h0m5 0.5h0m7-0.5h0m1 0.5h0m4.5-1h0m3 0h0m13.5 0h0m8 0h0m5.5 0h0m3 1h0m16-1h0m20.5 1h0m11-0.5h0m1.5 0h0m10 0h0m6.5-0.5h0m1 0h0m2.5 1h0m3-0.5h0m21.5 0h0m31.5-0.5h0m-299 1.5h0m6.5 0h0m20.5-0.5h0m10.5 0h0m4 0.5h0m13 0h0m7 0h0m12.5-0.5h0m3.5 0.5h0m2.5 0.5h0m8.5-0.5h0m3-0.5h0m2.5 1h0m9.5 0h0m6 0h0m10.5-1h0m5 1h0m7-1h0m6.5 0.5h0m3 0.5h0m1-0.5h0m3.5 0.5h0m5-1h0m8.5 0h0m1 1h0m1.5-1h0m7.5 0.5h0m0.5 0h0m7 0h0m18.5 0h0m1-0.5h0m9 0.5h0m1 0.5h0m16 0h0m2-0.5h0m1-0.5h0m5 1h0m4.5 0h0m10-0.5h0m11.5 0h0m2.5-0.5h0m28.5 0.5h0m6.5 0h0m-285 0.5h0m8 0.5h0m10 0.5h0m5.5-0.5h0m5-0.5h0m2 1h0m4-0.5h0m1 0h0m12.5 0h0m3 0.5h0m4.5-1h0m5 0h0m11.5 1h0m2.5 0h0m1-1h0m9 0.5h0m4.5 0h0m6 0h0m3-0.5h0m7 0.5h0m43 0.5h0m7.5-1h0m10.5 0.5h0m2.5-0.5h0m1.5 0.5h0m1 0h0m15.5 0h0m13 0h0m4.5 0h0m1 0h0m19.5-0.5h0m8.5 1h0m17-1h0m5 0h0m12 1h0m-260 1h0m10-1h0m4 0h0m22.5 0.5h0m15 0h0m2 0h0m3 0h0m1 0h0m12 0h0m3 0h0m0.5 0h0m17.5 0h0m6.5-0.5h0m0.5 0.5h0m3.5-0.5h0m4.5 0.5h0m1 0h0m1 0h0m3.5 0h0m2 0h0m3-0.5h0m3 0.5h0m3-0.5h0m10 1h0m1-0.5h0m0.5 0.5h0m0.5-0.5h0m4.5-0.5h0m4 0.5h0m2.5 0h0m3 0h0m5.5 0.5h0m10 0h0m1 0h0m4.5-0.5h0m2.5 0h0m13-0.5h0m8 0.5h0m11.5 0h0m5.5 0h0m16 0h0m2 0h0m7.5 0h0m2 0h0m-257 0.5h0m10 0h0m22 0h0m5 0.5h0m9 0.5h0m3.5-1h0m3 0h0m7.5 1h0m5-0.5h0m17 0.5h0m0.5-0.5h0m8.5 0h0m3 0.5h0m3-0.5h0m4.5-0.5h0m0.5 1h0m2.5 0h0m2 0h0m14.5-0.5h0m4-0.5h0m3 1h0m3.5 0h0m5-1h0m8.5 0h0m2 0.5h0m2.5 0h0m13.5 0h0m13.5-0.5h0m4 0h0m8.5 0.5h0m8.5-0.5h0m5 0.5h0m18 0h0m2.5 0.5h0m13.5-0.5h0m16.5 0h0m22 0.5h0m2-0.5h0m1.5-0.5h0m5 0h0m11 0h0m-281.5 1.5h0m12.5 0.5h0m6.5-1h0m2 0.5h0m20.5 0h0m11 0.5h0m1 0h0m4.5 0h0m2.5-0.5h0m4.5-0.5h0m7.5 0h0m0 1h0m10 0h0m2.5 0h0m0.5-0.5h0m16 0h0m9.5 0h0m8.5 0h0m8-0.5h0m24 1h0m4.5-0.5h0m3 0h0m2 0.5h0m21-0.5h0m4 0h0m0 0h0m7-0.5h0m0.5 1h0m1.5-0.5h0m10.5 0h0m1.5 0h0m7-0.5h0m11.5 1h0m26 0h0m0.5-1h0m-246 2h0m19.5-0.5h0m5-0.5h0m2.5 1h0m7.5-1h0m26 0.5h0m2 0.5h0m6 0h0m1 0h0m10.5-0.5h0m4.5 0.5h0m1-0.5h0m12 0h0m3.5 0h0m2.5 0.5h0m2 0h0m3.5-1h0m3 0.5h0m10 0.5h0m2 0h0m2.5-0.5h0m2 0h0m4.5 0.5h0m0-0.5h0m2.5 0h0m11.5 0h0m3.5 0.5h0m15-0.5h0m3-0.5h0m5.5 0h0m3.5 0h0m7 0.5h0m1 0.5h0m10 0h0m11.5-1h0m32.5 0.5h0m3 0.5h0m-253 0.5h0m7.5 0h0m4 0h0m16 0h0m4 0h0m8.5 0h0m0.5 0.5h0m2.5-1h0m3.5 1h0m3-1h0m5.5 0h0m10 1h0m6.5-0.5h0m12.5 0h0m3 0.5h0m4.5-0.5h0m3.5 0.5h0m4.5-0.5h0m0 0h0m0.5 0h0m2.5 0h0m6 0h0m1.5-0.5h0m9 0h0m9 0.5h0m3-0.5h0m23.5 0h0m4.5 0.5h0m13 0h0m3 0h0m5.5 0.5h0m0-1h0m12.5 0.5h0m5 0h0m2.5 0h0m11.5 0h0m12-0.5h0m9.5 0.5h0m1.5 0h0m1.5 0h0m14.5 0h0m-244 0.5h0m3.5 0.5h0m15 0.5h0m3 0h0m3-0.5h0m11 0h0m8 0h0m5.5 0.5h0m4.5-1h0m13 1h0m1.5-0.5h0m4.5-0.5h0m3 0.5h0m2 0h0m13.5-0.5h0m6 1h0m8-0.5h0m2 0h0m3 0.5h0m13-0.5h0m3.5-0.5h0m6.5 0.5h0m4.5-0.5h0m3 0h0m4 0.5h0m12 0h0m2.5 0.5h0m4 0h0m3-0.5h0m11 0.5h0m5.5 0h0m15.5-1h0m12.5 1h0m5.5-0.5h0m7.5 0.5h0m8.5-1h0m2.5 0h0m-248.5 1h0m4.5 0.5h0m5-0.5h0m13.5 0h0m13.5 1h0m6.5-0.5h0m7 0.5h0m0.5-0.5h0m7 0h0m4 0h0m1.5 0.5h0m3-1h0m11.5 0.5h0m4.5 0h0m14 0h0m14 0h0m2.5 0h0m5.5 0h0m6 0h0m5.5 0h0m1-0.5h0m5.5 1h0m8.5-1h0m4.5 0.5h0m18 0h0m8 0h0m5 0h0m5.5 0h0m29 0h0m19 0.5h0m3.5 0h0m2-0.5h0m7 0.5h0m16.5 0h0m2.5-1h0m-246.5 2h0m7.5-0.5h0m16-0.5h0m3 1h0m23.5-1h0m11.5 1h0m6-0.5h0m2.5 0h0m2.5 0h0m2.5 0h0m3.5 0h0m3.5-0.5h0m8.5 0.5h0m4 0.5h0m1.5-1h0m10 1h0m5.5 0h0m7-0.5h0m7.5 0.5h0m0 0h0m7-0.5h0m14-0.5h0m2.5 0h0m7 0h0m7 1h0m1.5-1h0m11.5 0h0m3.5 0.5h0m12.5 0h0m25.5-0.5h0m14 1h0m-236 0.5h0m4.5 0h0m18.5 0h0m11.5 0.5h0m2-0.5h0m5 0h0m6 0h0m5 0h0m5-0.5h0m3.5 1h0m16.5-0.5h0m1 0.5h0m5.5 0h0m9.5 0h0m3 0h0m16-0.5h0m5.5 0h0m3 0h0m12 0.5h0m10.5-0.5h0m5.5-0.5h0m13.5 0.5h0m22.5 0h0m4.5 0.5h0m5.5-0.5h0m15.5-0.5h0m19.5 0.5h0m-252 1.5h0m35.5-0.5h0m1.5 0.5h0m11.5-1h0m2 0.5h0m9.5 0h0m27 0.5h0m2.5-1h0m2 1h0m3-0.5h0m2-0.5h0m13.5 1h0m10.5 0h0m8.5-1h0m6 0.5h0m14 0.5h0m1.5-0.5h0m2.5-0.5h0m5 0.5h0m16 0h0m3 0h0m3 0h0m1.5 0.5h0m12.5-1h0m2.5 1h0m3 0h0m10.5-1h0m13.5 0h0m2.5 1h0m4-0.5h0m4.5 0.5h0m2 0h0m7.5-0.5h0m11 0.5h0m-217 0.5h0m1.5-0.5h0m18.5 0.5h0m8 0h0m7 0h0m4.5 0h0m14 0.5h0m10.5 0h0m12.5-0.5h0m2-0.5h0m2.5 0.5h0m3 0.5h0m1.5-0.5h0m2.5-0.5h0m4 0.5h0m2.5 0h0m2.5 0.5h0m1-0.5h0m3.5-0.5h0m1 0h0m17.5 0h0m3.5 0.5h0m12.5-0.5h0m12.5 0.5h0m1-0.5h0m5.5 0.5h0m2 0h0m1 0h0m18 0h0m3 0h0m1.5 0.5h0m11 0h0m-238 0h0m40 1h0m9 0h0m8.5-1h0m11.5 0h0m22.5 0h0m5.5 0h0m4 0.5h0m18.5-0.5h0m2.5 1h0m3.5 0h0m7.5-0.5h0m2 0.5h0m3.5-0.5h0m11-0.5h0m7 0.5h0m7 0.5h0m1-1h0m4.5 0.5h0m2 0.5h0m4.5 0h0m41.5-0.5h0m17 0h0m12.5 0h0m-241 0.5h0m11.5 0h0m20 1h0m3.5-1h0m7.5 1h0m6.5-0.5h0m0.5 0.5h0m24 0h0m2.5-1h0m6 0h0m5 0.5h0m3 0h0m11.5 0h0m11 0h0m0 0h0m11.5 0h0m1.5 0h0m2.5 0.5h0m2 0h0m5.5-0.5h0m9.5 0h0m4 0h0m25.5 0h0m2 0.5h0m5.5-1h0m8 0.5h0m16 0.5h0m0.5-0.5h0m3 0h0m21 0h0m43 0.5h0m-257.5 0.5h0m4 0h0m21-0.5h0m11 0.5h0m12.5 0h0m16 0h0m1.5 0h0m4 0.5h0m5.5-1h0m4.5 1h0m1 0h0m3 0h0m5-0.5h0m4.5-0.5h0m10 0h0m14.5 0h0m9.5 0.5h0m5.5 0h0m2 0h0m13.5 0.5h0m14-0.5h0m24.5 0h0m4.5 0h0m17.5 0h0m21-0.5h0m-208 1.5h0m8 0h0m23.5 0h0m1 0h0m5 0h0m9 0.5h0m3-1h0m1 0.5h0m6 0h0m14.5-0.5h0m3.5 1h0m5-1h0m2.5 0.5h0m11 0h0m2 0h0m1 0h0m3 0.5h0m2.5-1h0m3.5 0.5h0m5.5 0.5h0m2.5 0h0m4-0.5h0m1.5-0.5h0m1.5 0h0m3 1h0m2-1h0m18 1h0m18-0.5h0m1-0.5h0m38 0.5h0m11.5-0.5h0m7 1h0m-228 1h0m14-0.5h0m4.5 0h0m7.5 0.5h0m7.5 0h0m7-1h0m6.5 0.5h0m5.5 0.5h0m11.5-1h0m6 0h0m1.5 0h0m2.5 0.5h0m2-0.5h0m2.5 0h0m3 0h0m9 0.5h0m24 0.5h0m1.5-0.5h0m10 0h0m5.5-0.5h0m29.5 0h0m1.5 1h0m10-0.5h0m25 0h0m21 0h0m28 0h0m27.5 0h0m-273.5 1.5h0m0 0h0m2-0.5h0m19 0h0m1-0.5h0m4.5 1h0m6-0.5h0m4.5-0.5h0m14.5 1h0m0.5 0h0m9.5-1h0m1.5 1h0m3-0.5h0m7 0.5h0m12-1h0m1 0.5h0m7.5-0.5h0m2 0h0m1.5 1h0m1-0.5h0m0.5 0h0m13 0h0m20.5 0h0m7.5 0.5h0m15.5-1h0m11 0.5h0m11.5 0h0m4.5 0h0m2.5 0h0m6-0.5h0m4 1h0m0.5-0.5h0m3.5 0.5h0m2-1h0m3.5 1h0m12.5 0h0m-241.5 0h0m20 0h0m7.5 0.5h0m5.5 0.5h0m10.5-0.5h0m10.5-0.5h0m6.5 0.5h0m6 0h0m2.5-0.5h0m13 1h0m1.5-0.5h0m11.5 0.5h0m8-1h0m8 0h0m2.5 0.5h0m2.5 0.5h0m13.5-1h0m4 0.5h0m3-0.5h0m10 0.5h0m12.5-0.5h0m6.5 0h0m6.5 0h0m15.5 0h0m13 0.5h0m4 0h0m6.5 0h0m15.5 0h0m-223.5 1h0m43 0.5h0m16.5 0h0m10-0.5h0m14.5-0.5h0m5.5 0.5h0m10.5 0.5h0m2-0.5h0m0-0.5h0m13.5 0h0m0.5 1h0m21-0.5h0m0.5 0.5h0m4.5 0h0m0 0h0m9.5-1h0m22.5 0.5h0m1.5-0.5h0m4.5 0.5h0m2.5-0.5h0m53.5 0.5h0m19.5 0h0m4.5 0h0m29.5 0h0m-268.5 1h0m20.5 0h0m10.5 0h0m5 0h0m12 0h0m2 0h0m2-0.5h0m6.5 1h0m0.5 0h0m5.5-1h0m1.5 0.5h0m4 0h0m12 0h0m2.5 0h0m7 0h0m8-0.5h0m8 1h0m9.5-0.5h0m16 0h0m7 0.5h0m6-1h0m1.5 0h0m16 0.5h0m28.5-0.5h0m5.5 0.5h0m29 0.5h0m43.5-1h0m-277.5 1h0m14 0h0m0.5 0.5h0m25.5-0.5h0m1.5 0h0m0.5 0.5h0m13 0.5h0m1.5-0.5h0m7 0h0m3.5 0.5h0m15.5-0.5h0m22.5 0.5h0m8.5-1h0m3 0.5h0m6 0h0m0 0.5h0m34 0h0m20-1h0m7 0.5h0m27 0.5h0m9-0.5h0m12-0.5h0m6 0.5h0m42.5 0h0m-248.5 1h0m16 0h0m2 0h0m3.5 0h0m9.5 0.5h0m9.5 0h0m11.5 0h0m1.5-0.5h0m3.5 0h0m2-0.5h0m1 0h0m2.5 0.5h0m0.5-0.5h0m3 1h0m1.5 0h0m2-0.5h0m18.5 0.5h0m2-0.5h0m3.5 0.5h0m10-0.5h0m12.5 0h0m2 0.5h0m31.5-0.5h0m10.5 0h0m5-0.5h0m-197.5 1.5h0m6 0h0m16 0.5h0m5.5 0h0m7-0.5h0m0 0h0m4.5 0h0m6 0h0m1.5-0.5h0m19.5 0.5h0m8-0.5h0m1 0.5h0m4 0h0m1 0h0m0 0h0m2 0h0m3 0.5h0m7-0.5h0m3 0.5h0m0.5 0h0m15.5 0h0m2-1h0m10.5 0.5h0m28-0.5h0m16 0.5h0m9-0.5h0m9 0h0m3 0.5h0m7.5 0h0m4.5 0h0m2 0.5h0m7.5-0.5h0m22.5 0h0m40.5-0.5h0m-260 2h0m5-0.5h0m7-0.5h0m29 0.5h0m8.5 0h0m9.5 0.5h0m10-0.5h0m23 0h0m3.5 0h0m6.5 0h0m4.5 0h0m4 0h0m6.5 0.5h0m10.5 0h0m1 0h0m10 0h0m9.5-0.5h0m3 0h0m10 0h0m3.5 0.5h0m5 0h0m2-0.5h0m27.5 0h0m7 0h0m-192.5 1.5h0m10-0.5h0m14.5 0h0m11.5 0h0m1 0.5h0m5-0.5h0m19.5 0h0m7.5 0.5h0m11-0.5h0m6-0.5h0m15 0h0m0.5 0.5h0m4-0.5h0m16 0h0m14 0.5h0m6.5 0h0m27.5 0h0m8.5-0.5h0m-192.5 2h0m19-0.5h0m2 0.5h0m13.5-0.5h0m1 0.5h0m3.5-1h0m3 0.5h0m15.5 0.5h0m0.5-0.5h0m2.5 0h0m9 0h0m4-0.5h0m5 1h0m5.5-0.5h0m7.5-0.5h0m6 1h0m8.5-0.5h0m5 0.5h0m3.5-0.5h0m5 0h0m2-0.5h0m5.5 0h0m4 0.5h0m4 0.5h0m4-0.5h0m4 0h0m1 0h0m23.5 0h0m14 0.5h0m2.5-0.5h0m1.5 0h0m15 0h0m8.5 0.5h0m40-0.5h0m-242 1h0m9.5 0.5h0m6-1h0m2 0h0m20.5 0h0m0.5 0.5h0m4.5 0.5h0m4-1h0m7 0.5h0m1.5-0.5h0m2.5 0.5h0m6.5 0h0m3.5 0h0m11-0.5h0m2.5 0h0m0.5 1h0m6-0.5h0m2 0h0m3 0.5h0m9.5-1h0m10 0.5h0m22.5 0.5h0m7.5-1h0m2 0h0m20 1h0m6.5-0.5h0m-190.5 0.5h0m51 0h0m15 0.5h0m1 0.5h0m3-1h0m0.5 1h0m6.5-0.5h0m5.5-0.5h0m15.5 0.5h0m12.5 0h0m3.5 0h0m4.5 0h0m39.5 0.5h0m14.5-1h0m4 1h0m52.5 0h0m-234 0.5h0m17.5 0.5h0m3.5 0h0m19.5-0.5h0m6.5-0.5h0m5 0.5h0m6-0.5h0m3 0h0m14.5 0.5h0m8.5-0.5h0m8.5 0.5h0m0.5 0.5h0m3 0h0m12-1h0m17 0.5h0m0 0h0m19 0.5h0m10.5-0.5h0m3.5 0h0m16-0.5h0m4 0.5h0m14 0.5h0m5 0h0m-192 0.5h0m21 0h0m8.5-0.5h0m3.5 0.5h0m13 0.5h0m16.5-1h0m4.5 0h0m28.5 1h0m3.5-0.5h0m4-0.5h0m7.5 0h0m5.5 1h0m2-1h0m10.5 0.5h0m11.5-0.5h0m2.5 0.5h0m15-0.5h0m12 1h0m1.5 0h0m11 0h0m13.5-0.5h0m5.5-0.5h0m34 0h0m-197.5 1.5h0m19 0.5h0m12.5-0.5h0m1 0.5h0m9.5 0h0m0.5 0h0m6 0h0m1-0.5h0m6.5 0.5h0m7 0h0m3 0h0m4-1h0m5 1h0m0.5-1h0m8.5 1h0m19.5-0.5h0m7 0h0m28.5-0.5h0m8 1h0m103-1h0m-268.5 1h0m9 0.5h0m15 0.5h0m32-0.5h0m2.5 0h0m5-0.5h0m7.5 1h0m6-0.5h0m10 0.5h0m10.5-1h0m20.5 0.5h0m13 0.5h0m4.5-1h0m7 1h0m10.5-0.5h0m25.5 0.5h0m-201 0.5h0m35 0.5h0m13-0.5h0m15 0h0m16 0h0m27.5 0h0m12.5 0h0m9.5 0.5h0m8-1h0m9.5 0.5h0m3 0h0m4.5 0h0m14.5-0.5h0m1.5 0.5h0m13.5 0h0m9 0h0m68-0.5h0m-256 1h0m18 0.5h0m50-0.5h0m2.5 0.5h0m10.5 0.5h0m4-1h0m8 0.5h0m5-0.5h0m13 0h0m21 0h0m35.5 0.5h0m5 0h0m-145.5 1h0m5 0.5h0m13.5-1h0m3.5 0.5h0m3.5-0.5h0m10 0.5h0m12 0.5h0m7-0.5h0m20 0.5h0m5-1h0m11.5 0h0m5.5 0h0m3.5 1h0m1-0.5h0m14.5 0h0m3-0.5h0m7.5 0.5h0m5 0h0m58.5-0.5h0m24 0.5h0m-234 1.5h0m4-0.5h0m5 0h0m20.5-0.5h0m14.5 0h0m5.5 0.5h0m6.5 0h0m5 0.5h0m16.5-0.5h0m5.5 0h0m3 0h0m3 0h0m21.5 0.5h0m29-0.5h0m3.5 0h0m28.5 0h0m14.5-0.5h0m4.5 0.5h0m9.5 0.5h0m-150 1h0m2-1h0m6 1h0m18.5 0h0m17.5-0.5h0m3 0h0m6-0.5h0m11 1h0m1-0.5h0m3.5 0h0m5.5 0h0m1.5 0h0m12.5 0h0m7.5-0.5h0m2 1h0m14.5-1h0m-143.5 1h0m7.5 0.5h0m1-0.5h0m11 1h0m2-0.5h0m1.5 0h0m26 0h0m3 0h0m1.5 0h0m8 0h0m3 0.5h0m3-0.5h0m9.5-0.5h0m13 0h0m3 0h0m17 0h0m6 0.5h0m5-0.5h0m7 0.5h0m7.5 0h0m9 0h0m8 0h0m-145 1.5h0m17 0h0m28-0.5h0m3.5 0h0m15 0.5h0m4-0.5h0m10 0h0m2.5 0h0m4.5-0.5h0m11.5 0.5h0m9.5 0.5h0m31-0.5h0m16-0.5h0m51 1h0m-219.5 1h0m11.5 0h0m11-0.5h0m2-0.5h0m13.5 1h0m1.5-1h0m4 0.5h0m5 0h0m3.5 0h0m3.5 0h0m16.5-0.5h0m3.5 0h0m9 0.5h0m2.5 0h0m4.5-0.5h0m10 1h0m7-1h0m7 0.5h0m38 0.5h0m-169.5 0.5h0m36.5 0.5h0m10-1h0m28 0.5h0m0.5 0h0m0-0.5h0m6 0h0m3 1h0m9.5-0.5h0m4 0.5h0m6-0.5h0m10 0.5h0m9 0h0m6-0.5h0m11.5-0.5h0m6 0h0m7 0.5h0m73.5 0h0m-177 1h0m5 0h0m7 0.5h0m7.5-0.5h0m1.5-0.5h0m15.5 0h0m4 0h0m3.5 0.5h0m31 0.5h0m33.5-0.5h0m100.5 0h0m-262 0.5h0m51 0.5h0m4.5-0.5h0m27 0.5h0m0.5 0h0m23 0h0m2 0h0m23 0h0m30 0.5h0m13.5-1h0m-158 1.5h0m19-0.5h0m8.5 0.5h0m19 0h0m8.5 0h0m4.5 0.5h0m9.5-1h0m7.5 1h0m11.5 0h0m7-1h0m4 0.5h0m19.5 0h0m3-0.5h0m6 0.5h0m0.5 0h0m2.5-0.5h0m57 1h0m-203.5 0h0m72.5 0.5h0m13 0h0m14.5 0h0m34 0h0m6.5 0h0m18.5 0h0m-138.5 1h0m15.5 0.5h0m12.5-0.5h0m9 0h0m12.5 0.5h0m24 0h0m4-1h0m7 1h0m5 0h0m11-1h0m16.5 0.5h0m8 0h0m20.5 0h0m8 0h0m18.5-0.5h0m51 0h0m-233 2h0m29.5-0.5h0m26-0.5h0m5 0h0m8.5 1h0m7.5 0h0m4.5-0.5h0m30 0.5h0m3.5-1h0m-105.5 1.5h0m37 0.5h0m16.5-0.5h0m3 0.5h0m27.5 0h0m12-0.5h0m-80 0.5h0m16.5 0.5h0m3 0.5h0m21 0h0m3-0.5h0m14.5 0h0m2 0.5h0m4 0h0m10.5 0h0m1-0.5h0m7 0h0m13-0.5h0m23 0h0m-85 1h0m3.5 0.5h0m4.5-0.5h0m24 0.5h0m13 0h0m21 0h0m12.5 0h0m60 0.5h0m-161.5 0.5h0m8.5 0h0m24.5 0.5h0m5.5-0.5h0m13 0h0m2.5 0h0m22.5 0h0m-113.5 1.5h0m28.5-1h0m20.5 1h0m9.5-0.5h0m1.5 0.5h0m2.5-1h0m1 0h0m14.5 1h0m3-0.5h0m22-0.5h0m3.5 1h0m11.5-0.5h0m-81.5 1.5h0m14.5 0h0m13-0.5h0m26.5-0.5h0m8.5 0.5h0m12-0.5h0m1 1h0m12-1h0m-85.5 2h0m2.5-1h0m16.5 0h0m2.5 1h0m10.5 0h0m-96.5 0.5h0m34 0.5h0m12 0h0m4.5-1h0m18 0.5h0m3.5 0h0m11 0h0m1.5 0.5h0m12-0.5h0m6 0h0m2.5 0h0m1.5 0h0m2-0.5h0m40 0.5h0m4-0.5h0m5.5 0.5h0m10.5 0h0m18.5 0h0m-131.5 1.5h0m19-1h0m8 0.5h0m8-0.5h0m9 1h0m9-0.5h0m6.5-0.5h0m63 0.5h0m-117.5 1.5h0m0.5-1h0m19 0.5h0m10 0.5h0m5-1h0m6.5 0.5h0m1.5 0.5h0m12-0.5h0m2 0h0m-61.5 1.5h0m39.5 0h0m3.5 0h0m2.5-1h0m7 0.5h0m2-0.5h0m14 0h0m2.5 0.5h0m2.5-0.5h0m-67.5 2h0m11-0.5h0m20.5 0.5h0m12-0.5h0m40-0.5h0m27.5 0.5h0m-97.5 1h0m13 0.5h0m24.5-1h0m3 0h0m-55 1h0m30.5 0.5h0m21 0.5h0m2-0.5h0m4 0.5h0m66-1h0m-136 1.5h0m25.5 0.5h0m11-0.5h0m1 0h0m8.5 0h0m63 0.5h0m-55.5 0.5h0m25.5 0.5h0m2.5 0h0m2.5-1h0m-109 1.5h0m60.5 0h0m2.5-0.5h0m11.5 1h0m18.5 0h0m3.5-0.5h0m8 0.5h0m-65 1h0m45.5-0.5h0m1 0h0m1 0h0m-52.5 1h0m2 0h0m15.5 0.5h0m7.5-1h0m19 1h0m20-0.5h0m19 0h0m13-0.5h0m-67 1.5h0m9-0.5h0m3.5 1h0m16-0.5h0m45.5 0.5h0m-86.5 0.5h0m35 0h0m7.5 0h0m-69 1h0m34.5-0.5h0m7 0.5h0m4-0.5h0m11 0h0m18 0h0m2.5 0h0m6.5 0.5h0m-107 1h0m78.5 0h0m2 0h0m8 0h0m3 0.5h0m-28 1h0m6.5-0.5h0m12 0.5h0m2-0.5h0m-24.5 1h0m53 0h0m40-0.5h0m-120 1.5h0m28.5-0.5h0m1.5 1h0m10-0.5h0m4.5 0h0m12.5 0.5h0m8-0.5h0m1 0h0m35 0h0m-33 1h0m10-0.5h0m19.5 0.5h0m-41 1h0m-24 3.5h0m21.5 0h0m7.5-0.5h0m-27.5 1.5h0m34.5 0h0m-89.5 1.5h0m82.5 0h0m13.5-0.5h0m-95 3.5h0m91.5 0h0m-41.5 10h0m18.5 3h0m-66 2h0m-5 12.5h0" fill="none" stroke="#545454" stroke-width="3.0" stroke-linecap="round"/>
<path d="M0 0m277.5 183.5h0m20-0.5h0m17.5 0.5h0m35.5 0h0m8.5-0.5h0m16.5 0h0m28.5 0.5h0m122 0h0m-250 1h0m7.5 0h0m4.5-1h0m76 0.5h0m1.5 0.5h0m5 0h0m22 0h0m5.5-1h0m4.5 0.5h0m24 0h0m6.5 0h0m-152.5 1h0m6 0h0m7 0h0m2.5-0.5h0m2.5 1h0m5-0.5h0m20-0.5h0m6 0.5h0m10.5-0.5h0m5.5 0.5h0m8.5 0h0m33 0.5h0m1.5-0.5h0m18.5 0.5h0m0.5-1h0m-131.5 2h0m2-1h0m2 1h0m10-0.5h0m19.5 0h0m8.5 0h0m29 0.5h0m2 0h0m3.5-0.5h0m19.5 0.5h0m68.5-0.5h0m46.5 0h0m-205 0.5h0m6.5 0.5h0m5.5 0h0m5.5 0h0m2 0h0m5 0h0m1.5 0h0m9.5 0h0m12.5 0.5h0m4-0.5h0m0.5-0.5h0m28 1h0m22.5-1h0m37.5 0.5h0m2-0.5h0m-150.5 1.5h0m1.5 0h0m3 0h0m4.5-0.5h0m4 0h0m0.5 0h0m11 0.5h0m1.5 0.5h0m16.5 0h0m8.5-0.5h0m8 0h0m5.5 0h0m6-0.5h0m0.5 0.5h0m29.5 0h0m23 0h0m6.5 0h0m3 0.5h0m27.5 0h0m-158 0.5h0m7.5 0h0m6 0h0m3.5 0h0m9.5-0.5h0m6.5 1h0m5 0h0m12.5 0h0m1.5 0h0m12.5-1h0m2 0.5h0m12-0.5h0m92 0.5h0m0.5 0h0m-170 1.5h0m10.5-0.5h0m6.5 0h0m6 0h0m1 0h0m2 0h0m19-0.5h0m10 1h0m1.5 0h0m20-0.5h0m1 0.5h0m12.5-0.5h0m8 0h0m9 0.5h0m2.5-0.5h0m10.5 0.5h0m2-0.5h0m11 0.5h0m12-0.5h0m0.5 0h0m5 0h0m-143.5 1.5h0m1-0.5h0m0.5 0h0m3 0h0m29.5-0.5h0m2.5 0.5h0m17.5 0h0m9-0.5h0m14 0.5h0m1 0h0m29 0h0m4.5 0h0m19 0.5h0m2-1h0m23 0h0m-165.5 1.5h0m1.5 0.5h0m1.5-0.5h0m3.5 0h0m1.5 0h0m5 0h0m11.5 0.5h0m2.5-1h0m13 0.5h0m6.5 0.5h0m12.5-0.5h0m8.5-0.5h0m18.5 0h0m27 1h0m4.5-0.5h0m24.5 0h0m5 0h0m14.5 0h0m-142.5 1h0m10.5-0.5h0m0.5 1h0m6 0h0m10.5-0.5h0m34.5 0h0m1.5 0h0m14.5 0.5h0m30.5 0h0m9-0.5h0m-131.5 1h0m2.5 0h0m26 0h0m6.5 0h0m3-0.5h0m3 0.5h0m3 0h0m4.5 0h0m2.5 0h0m4 0.5h0m1.5 0h0m2 0h0m3-0.5h0m9.5-0.5h0m7 0.5h0m3.5 0.5h0m2.5-0.5h0m4 0h0m11.5 0h0m22 0h0m13-0.5h0m-142 1.5h0m3 0h0m8 0.5h0m6.5 0h0m3-1h0m1 0.5h0m1.5-0.5h0m5 0.5h0m8 0.5h0m20.5 0h0m23.5-1h0m13.5 0.5h0m20 0h0m4.5 0.5h0m14.5-1h0m16 1h0m17.5 0h0m-168 1h0m1 0h0m5 0h0m2-0.5h0m10.5 0h0m14 0h0m3 0.5h0m8.5-0.5h0m7.5-0.5h0m31 1h0m17-0.5h0m2 0h0m16 0.5h0m5 0h0m7.5 0h0m83-0.5h0m6 0h0m-213 1.5h0m51-1h0m3.5 0.5h0m3.5 0h0m2 0h0m9 0.5h0m26 0h0m2.5-1h0m2 1h0m7 0h0m11-1h0m5.5 0h0m35.5 0.5h0m-184.5 1h0m19.5 0.5h0m8.5-1h0m1.5 0.5h0m7-0.5h0m2.5 1h0m4-0.5h0m2.5-0.5h0m17.5 0.5h0m4 0.5h0m30-1h0m13 0h0m41.5 0.5h0m6-0.5h0m-131 1.5h0m5 0.5h0m6 0h0m36-0.5h0m27.5 0.5h0m19.5-1h0m27.5 0.5h0m9.5 0.5h0m17-1h0m61.5 0h0m-201.5 1.5h0m6 0h0m3 0.5h0m15-1h0m6 0.5h0m26.5 0.5h0m2 0h0m3-0.5h0m6.5-0.5h0m25.5 0h0m11.5 0.5h0m12.5-0.5h0m26 0.5h0m82.5 0.5h0m-240 0.5h0m3-0.5h0m6 0.5h0m23.5-0.5h0m6.5 0.5h0m2 0h0m8.5 0h0m3.5 0h0m24.5 0h0m12.5 0.5h0m2 0h0m2.5 0h0m10.5-1h0m2 1h0m17 0h0m12.5-0.5h0m51 0h0m-195 1h0m5.5-0.5h0m4.5 0h0m14 1h0m1.5 0h0m10-0.5h0m1.5 0h0m7.5 0h0m2.5 0h0m17 0.5h0m8-0.5h0m18.5 0.5h0m1.5-0.5h0m3-0.5h0m8 1h0m24.5-1h0m1.5 0.5h0m9.5 0.5h0m11.5 0h0m60-0.5h0m-196 1.5h0m0.5-0.5h0m44.5 0h0m21-0.5h0m2 0.5h0m0 0.5h0m8-0.5h0m25 0.5h0m23.5-0.5h0m18.5 0.5h0m-146.5 0.5h0m6.5 0h0m5-0.5h0m4 1h0m2.5-1h0m4.5 0.5h0m2 0.5h0m11 0h0m3.5-0.5h0m6-0.5h0m8 0.5h0m4-0.5h0m22.5 0.5h0m9 0h0m10.5 0h0m1.5 0h0m19 0h0m3.5 0.5h0m10 0h0m2-1h0m20.5 0h0m18.5 0h0m-178.5 1.5h0m1 0h0m18.5 0h0m3.5 0.5h0m3 0h0m6-1h0m4 0h0m2.5 0.5h0m7.5-0.5h0m6 1h0m1-0.5h0m1.5-0.5h0m14 1h0m3-0.5h0m1.5-0.5h0m17.5 0.5h0m27.5 0h0m2 0h0m3 0h0m12-0.5h0m8 0.5h0m-146 1h0m6-0.5h0m1 0.5h0m4-0.5h0m2.5 1h0m2.5-1h0m3.5 0h0m14 0.5h0m11-0.5h0m15 0h0m16 0.5h0m21.5-0.5h0m22 0.5h0m10 0h0m1-0.5h0m-139 1.5h0m11.5 0h0m11 0.5h0m5.5-1h0m11.5 0.5h0m5 0h0m2-0.5h0m2 0.5h0m3 0.5h0m2 0h0m6.5 0h0m9.5 0h0m2-0.5h0m2.5 0.5h0m4-0.5h0m5 0.5h0m21.5 0h0m3-1h0m3 0h0m29.5 0.5h0m2.5 0h0m10.5 0h0m0-0.5h0m-144 2h0m11-1h0m4.5 0h0m3 0h0m1 0h0m12.5 0.5h0m1.5 0h0m7-0.5h0m14 1h0m1.5-0.5h0m30.5 0.5h0m15-1h0m7 0.5h0m6 0.5h0m6.5-0.5h0m2-0.5h0m0.5 1h0m4 0h0m2.5 0h0m11-1h0m28.5 0h0m-165 1.5h0m1-0.5h0m3.5 0h0m6 0.5h0m7.5-0.5h0m2 1h0m12.5-1h0m3 0.5h0m6-0.5h0m2.5 0.5h0m1.5 0.5h0m4.5 0h0m7-0.5h0m17.5 0.5h0m13-0.5h0m24.5 0h0m1.5 0h0m8 0.5h0m33.5 0h0m-158.5 0.5h0m6.5-0.5h0m3 1h0m15-1h0m21.5 0h0m19.5 0.5h0m7 0h0m13.5 0h0m16.5 0h0m2 0.5h0m7 0h0m21-0.5h0m9.5 0.5h0m10.5-1h0m37 0.5h0m-185.5 1h0m1.5 0.5h0m22.5 0h0m1-0.5h0m5 0h0m3 0.5h0m12.5-0.5h0m3.5 0.5h0m1.5-0.5h0m2 0.5h0m5.5-0.5h0m7-0.5h0m5.5 1h0m6 0h0m12-0.5h0m8 0h0m6 0.5h0m6-0.5h0m2-0.5h0m24 0.5h0m12.5 0h0m-135 1.5h0m5 0h0m11.5-0.5h0m6.5 0h0m3-0.5h0m0 0.5h0m4-0.5h0m15 0.5h0m16.5 0h0m11.5 0.5h0m21.5-0.5h0m7-0.5h0m20 1h0m6.5-0.5h0m-146.5 1.5h0m5.5-0.5h0m4.5 0.5h0m1-0.5h0m1.5 0.5h0m0.5-0.5h0m2 0.5h0m2-1h0m8.5 1h0m0.5-0.5h0m1.5 0h0m4 0.5h0m8-0.5h0m9.5 0h0m3.5 0.5h0m5.5-1h0m17.5 0.5h0m3.5 0h0m7 0h0m3-0.5h0m11 0.5h0m3 0h0m1 0h0m8.5 0.5h0m1.5-0.5h0m14.5 0h0m4.5-0.5h0m17 0h0m80 0.5h0m-244.5 1h0m17 0.5h0m3.5-1h0m1.5 0.5h0m16.5 0h0m4.5 0h0m6.5 0h0m2-0.5h0m3.5 0.5h0m6 0h0m5 0h0m4 0h0m10 0h0m1.5 0.5h0m8 0h0m3 0h0m9 0h0m4.5-0.5h0m2 0h0m3.5 0h0m3.5 0.5h0m8-0.5h0m20-0.5h0m5.5 1h0m9-0.5h0m-138 1.5h0m2.5 0h0m19.5 0h0m5.5-1h0m0 1h0m4.5-0.5h0m7-0.5h0m8 1h0m10.5-0.5h0m1-0.5h0m5.5 0.5h0m20 0h0m0.5 0h0m11.5 0h0m4.5 0h0m8 0h0m5 0.5h0m9 0h0m20-1h0m8 0.5h0m13 0h0m-170 1h0m0.5-0.5h0m3 0.5h0m2 0h0m5.5-0.5h0m3 0.5h0m4 0.5h0m4 0h0m27 0h0m2.5 0h0m8-0.5h0m12 0.5h0m1.5-0.5h0m21 0h0m4.5 0h0m10 0h0m12 0h0m11 0.5h0m10.5-0.5h0m5.5-0.5h0m-149 1.5h0m18 0h0m5 0h0m6.5 0h0m14 0h0m0.5 0h0m4.5-0.5h0m10 0.5h0m10.5-0.5h0m2 0.5h0m14.5 0h0m4 0h0m7.5 0.5h0m5-1h0m41 1h0m0.5-1h0m7 1h0m-151 0.5h0m6 0h0m7.5 0h0m3.5 0h0m8 0.5h0m1.5 0h0m5.5-0.5h0m22.5 0h0m5 0h0m7 0h0m3 0.5h0m12.5-0.5h0m6-0.5h0m11 0h0m1.5 0.5h0m5-0.5h0m15.5 0.5h0m4-0.5h0m7.5 0.5h0m-111.5 1.5h0m1 0h0m7-1h0m6.5 0.5h0m1.5 0.5h0m0-1h0m2.5 0.5h0m8-0.5h0m3 0.5h0m25.5 0h0m3 0.5h0m2-0.5h0m38.5-0.5h0m16.5 0.5h0m9 0h0m14 0h0m-159 1h0m10.5-0.5h0m5 0h0m2.5 1h0m8-0.5h0m1-0.5h0m3 0h0m3.5 0h0m6.5 0.5h0m0.5 0h0m5 0.5h0m3 0h0m2 0h0m12.5 0h0m13-0.5h0m21.5-0.5h0m9.5 1h0m2-0.5h0m2.5 0.5h0m16-1h0m8.5 0.5h0m3.5 0h0m4 0h0m9-0.5h0m-156.5 2h0m2-0.5h0m0.5 0h0m4 0.5h0m1-0.5h0m0.5 0h0m1.5-0.5h0m3.5 0.5h0m6 0h0m16.5 0.5h0m4.5-0.5h0m31-0.5h0m1.5 0h0m0.5 1h0m2-1h0m16.5 0.5h0m6 0h0m1 0h0m5 0h0m6.5 0.5h0m15.5-1h0m2 0h0m24.5 0.5h0m24.5 0.5h0m2.5 0h0m2 0h0m-177 0.5h0m6.5 0.5h0m2.5-0.5h0m7.5 0h0m2 0.5h0m3.5-0.5h0m11-0.5h0m7.5 0.5h0m5.5 0h0m5 0h0m1 0h0m5.5-0.5h0m6 0.5h0m2 0.5h0m7-0.5h0m17 0h0m1.5 0h0m6 0h0m1.5-0.5h0m1.5 0h0m19 0.5h0m1 0h0m9.5 0h0m1 0h0m14.5 0h0m6 0h0m33.5 0.5h0m3 0h0m62 0h0m-237.5 0h0m4 0.5h0m2.5 0.5h0m12-0.5h0m9-0.5h0m5.5 0h0m18 1h0m3.5-0.5h0m11 0h0m1-0.5h0m5 0.5h0m1.5 0h0m47.5-0.5h0m20.5 0h0m3 0.5h0m12 0.5h0m-169.5 0.5h0m3.5 0.5h0m2 0h0m3.5-0.5h0m4.5 0h0m1.5 0h0m4 0.5h0m3-0.5h0m6.5-0.5h0m9 0h0m12 1h0m3.5-0.5h0m0.5-0.5h0m4.5 0.5h0m5 0h0m3 0h0m6.5 0h0m19 0h0m2-0.5h0m3.5 1h0m1.5-0.5h0m51 0h0m49 0h0m-193.5 1h0m6.5-0.5h0m11 0.5h0m2.5 0h0m0.5-0.5h0m4 1h0m5 0h0m1.5-1h0m2.5 0.5h0m1 0h0m6-0.5h0m2.5 0.5h0m2 0.5h0m3-0.5h0m2 0.5h0m0.5-0.5h0m8.5 0.5h0m7.5-0.5h0m2.5-0.5h0m1.5 0.5h0m3.5 0.5h0m34.5-0.5h0m21 0h0m46.5 0h0m-175 0.5h0m5 0h0m1.5 1h0m4 0h0m4.5-1h0m6 1h0m2-1h0m8.5 0.5h0m9.5 0h0m12.5 0h0m1 0h0m8 0h0m1.5 0h0m4.5 0.5h0m12-1h0m5.5 0h0m12 0h0m9 1h0m6.5-1h0m5 0.5h0m4.5 0.5h0m6.5 0h0m2.5 0h0m16-0.5h0m10.5 0h0m6 0h0m4 0h0m63 0h0m-228.5 1h0m5 0h0m8 0h0m2.5 0h0m2 0h0m11.5 0h0m4-0.5h0m2 1h0m1-0.5h0m2.5 0h0m12 0.5h0m3-0.5h0m6.5 0h0m19-0.5h0m3 0.5h0m2 0.5h0m5.5-1h0m1.5 0.5h0m1 0.5h0m0.5 0h0m14.5-0.5h0m4.5-0.5h0m14 0.5h0m8.5 0h0m9.5-0.5h0m15 1h0m12-0.5h0m54.5 0.5h0m-224 0h0m2.5 0.5h0m1.5-0.5h0m7 0h0m10 0h0m0.5 1h0m5-1h0m6.5 0.5h0m10.5-0.5h0m17 0.5h0m1.5 0h0m2.5 0.5h0m3-0.5h0m8 0h0m0 0h0m12 0h0m9.5 0h0m6.5 0.5h0m6.5-1h0m2 0h0m6 0.5h0m18-0.5h0m8.5 1h0m18-0.5h0m7.5 0h0m-165 1h0m3-0.5h0m7 0.5h0m2 0.5h0m1-0.5h0m7.5 0h0m13 0h0m0 0h0m3 0h0m4.5 0h0m5.5 0.5h0m2-0.5h0m10 0.5h0m8.5 0h0m11.5-0.5h0m8 0.5h0m8-1h0m18 1h0m10-0.5h0m9 0.5h0m3-0.5h0m9 0h0m4-0.5h0m20 0.5h0m1 0.5h0m13-0.5h0m-177.5 1h0m3.5 0.5h0m1.5 0h0m5.5-0.5h0m2.5 0h0m11-0.5h0m1 0h0m3.5 0.5h0m4 0h0m1-0.5h0m2.5 1h0m8-1h0m17.5 0.5h0m8 0.5h0m9.5-0.5h0m6 0h0m10.5 0h0m3.5 0.5h0m4.5 0h0m11-0.5h0m2.5-0.5h0m2 1h0m6.5 0h0m10-0.5h0m15 0.5h0m3-0.5h0m-161 0.5h0m4 0.5h0m1 0h0m4.5-0.5h0m13 0h0m6.5 0.5h0m4.5 0h0m11 0.5h0m2.5-0.5h0m3.5 0.5h0m4 0h0m0.5-0.5h0m1.5 0h0m1.5 0h0m17 0h0m10 0.5h0m5-1h0m14.5 0h0m1 0.5h0m4 0.5h0m14-1h0m5 0.5h0m2.5 0h0m1 0h0m13 0.5h0m7.5-0.5h0m8 0h0m14-0.5h0m-169.5 2h0m9 0h0m3.5-0.5h0m1.5 0.5h0m5.5-1h0m3 0h0m3 0.5h0m11.5-0.5h0m15.5 0h0m13 1h0m1.5-0.5h0m3.5 0.5h0m1.5-0.5h0m17-0.5h0m6 0h0m7 1h0m5 0h0m1 0h0m10.5 0h0m2 0h0m1.5 0h0m12-0.5h0m9 0.5h0m6-0.5h0m20.5-0.5h0m22.5 0.5h0m-187.5 0.5h0m6.5 1h0m6-1h0m2 0h0m10.5 0h0m1.5 0.5h0m2 0h0m0.5-0.5h0m1.5 1h0m4 0h0m16-0.5h0m4 0.5h0m2.5 0h0m3-0.5h0m12.5 0h0m5.5 0h0m3 0h0m1 0h0m3.5-0.5h0m12.5 1h0m11-0.5h0m1.5 0h0m-112 0.5h0m10.5 0.5h0m9.5 0h0m1.5 0h0m1 0h0m18.5 0h0m2.5 0.5h0m3 0h0m5 0h0m3-0.5h0m9.5 0h0m14 0h0m0.5 0.5h0m8.5-1h0m3 1h0m4.5 0h0m3.5-0.5h0m2 0h0m9.5-0.5h0m5 1h0m5 0h0m11.5-0.5h0m4.5 0.5h0m2.5-1h0m-135.5 1h0m6.5 0h0m5.5 0h0m6 1h0m2-0.5h0m3-0.5h0m1.5 0.5h0m9 0h0m8 0h0m4.5 0h0m1.5 0h0m11 0h0m5-0.5h0m3 0h0m18.5 1h0m1-0.5h0m19 0h0m-100.5 0.5h0m2 0.5h0m7.5 0h0m9.5 0.5h0m5 0h0m3.5-1h0m3.5 0.5h0m0.5 0h0m2 0h0m7 0.5h0m5-1h0m3.5 0.5h0m5.5 0h0m5.5 0h0m11.5 0h0m4.5 0h0m29.5-0.5h0m17 0h0m4.5 0h0m1.5 0h0m6 0h0m71.5 0h0m-207.5 1h0m1.5 0.5h0m5.5 0h0m2.5-0.5h0m19 0.5h0m9 0h0m13.5 0h0m3 0h0m1 0h0m29 0h0m7.5 0h0m12 0h0m1.5 0.5h0m5.5-0.5h0m10-0.5h0m1 0h0m17.5 0h0m2.5 1h0m8-0.5h0m15.5 0.5h0m-154 1h0m2.5-0.5h0m2.5 0h0m3.5 0h0m6 0.5h0m4.5-0.5h0m2-0.5h0m0.5 0.5h0m12 0h0m3 0h0m3 0h0m2 0h0m6.5 0.5h0m19.5-1h0m3.5 0.5h0m3 0.5h0m8.5-1h0m2 0h0m15 1h0m6-0.5h0m-112.5 1h0m1.5 0h0m4.5 0h0m2 0.5h0m1.5 0h0m7 0h0m7.5-1h0m4 0.5h0m2.5-0.5h0m2.5 1h0m11 0h0m8.5-1h0m4.5 0.5h0m1 0h0m7.5 0h0m1 0h0m7.5 0.5h0m8.5-0.5h0m28 0h0m4-0.5h0m20 0h0m95 0.5h0m-225 1h0m0.5 0.5h0m8.5-0.5h0m7 0h0m1 0h0m1.5 0h0m6 0h0m2 0h0m4.5 0.5h0m2.5-1h0m7 0.5h0m9.5 0h0m12.5 0h0m2.5 0h0m7 0h0m4.5-0.5h0m13 0h0m3 1h0m8-0.5h0m19-0.5h0m29.5 0h0m-148 2h0m4.5-0.5h0m15 0h0m3.5 0.5h0m11.5-0.5h0m12.5-0.5h0m1 0.5h0m0 0.5h0m6.5-1h0m15.5 1h0m9.5-1h0m3.5 0h0m2 0.5h0m8.5 0.5h0m4 0h0m24-0.5h0m13.5 0h0m-129.5 1h0m1.5-0.5h0m2.5 0.5h0m6.5-0.5h0m6 0h0m6.5 0.5h0m3.5 0h0m4.5 0h0m2-0.5h0m3 0.5h0m8-0.5h0m2.5 0.5h0m3 0h0m2 0h0m4 0.5h0m3 0h0m19-0.5h0m25 0h0m6.5 0h0m4.5 0h0m7.5 0h0m4 0h0m5.5 0h0m-122.5 1.5h0m5.5-0.5h0m1.5-0.5h0m2 1h0m11-0.5h0m1.5 0h0m6 0.5h0m18-1h0m0.5 0h0m8 0.5h0m3.5 0h0m5.5-0.5h0m1.5 0h0m4 0.5h0m8 0.5h0m0-0.5h0m11 0h0m1.5 0h0m3.5 0h0m6 0h0m3.5 0h0m6.5 0.5h0m3-0.5h0m-115.5 1h0m2.5-0.5h0m4 0.5h0m9.5 0h0m4.5 0h0m1.5 0h0m5.5-0.5h0m3 0h0m5.5 0.5h0m8 0h0m9 0h0m3 0.5h0m8.5-1h0m2 0.5h0m8.5-0.5h0m10.5 0.5h0m8.5-0.5h0m9.5 1h0m10.5-0.5h0m23 0.5h0m-139.5 0h0m10 1h0m0.5-0.5h0m7.5-0.5h0m19 0.5h0m3.5-0.5h0m10 1h0m8.5-0.5h0m1-0.5h0m16.5 1h0m7.5-1h0m4.5 0.5h0m2.5 0h0m10 0h0m1 0h0m4.5-0.5h0m9.5 1h0m3-0.5h0m2.5 0.5h0m15.5-1h0m-134.5 1h0m2.5 0h0m7 0.5h0m1.5 0h0m1 0.5h0m3.5-0.5h0m6.5-0.5h0m2 0.5h0m1.5 0h0m6 0.5h0m8-1h0m0.5 0.5h0m4 0.5h0m2-1h0m23.5 0h0m22.5 0.5h0m6 0h0m6.5-0.5h0m1 1h0m21 0h0m2.5 0h0m75.5 0h0m-186.5 0.5h0m1.5-0.5h0m11.5 1h0m2-1h0m1.5 1h0m2.5-1h0m25.5 1h0m19.5-0.5h0m15.5 0h0m7 0.5h0m11.5 0h0m7-0.5h0m1-0.5h0m59 0h0m-171.5 1h0m2 1h0m2 0h0m2.5-0.5h0m2.5 0.5h0m2-0.5h0m2 0h0m5 0.5h0m9-0.5h0m3.5-0.5h0m9.5 0.5h0m1 0h0m1 0h0m25.5 0.5h0m4 0h0m5.5-1h0m14 0h0m7 0.5h0m-101.5 1h0m2.5 0h0m4 0h0m3.5 0h0m1.5 0h0m6.5 0h0m1.5-0.5h0m8 0h0m10 0.5h0m0.5 0h0m3.5 0h0m2.5 0.5h0m5.5-1h0m3.5 0.5h0m4.5 0h0m1.5 0h0m9.5-0.5h0m0.5 0.5h0m6.5 0.5h0m1 0h0m1-0.5h0m5.5 0h0m2.5-0.5h0m12.5 0.5h0m9 0h0m27.5 0.5h0m-134 0h0m1 1h0m4 0h0m9 0h0m12.5-0.5h0m1.5 0.5h0m7.5 0h0m6-0.5h0m9.5 0h0m21-0.5h0m33 0.5h0m3 0h0m2.5 0.5h0m2-0.5h0m9 0h0m3.5 0h0m-119.5 1h0m1.5 0h0m5.5 0.5h0m4-0.5h0m6 0h0m0.5 0h0m9 0h0m1.5-0.5h0m2 1h0m10.5-0.5h0m2.5 0h0m13.5-0.5h0m9 1h0m3-0.5h0m3-0.5h0m4.5 1h0m12.5-0.5h0m0.5-0.5h0m8 1h0m11.5 0h0m-105 0h0m2 0h0m2 0.5h0m4-0.5h0m2.5 0.5h0m2 0h0m2 0h0m6 0h0m8 0h0m3.5 0h0m6.5-0.5h0m2 0.5h0m1.5 0.5h0m7-0.5h0m1.5-0.5h0m2.5 1h0m5-0.5h0m8.5-0.5h0m4.5 0.5h0m6.5 0.5h0m6.5-0.5h0m11-0.5h0m3 1h0m22.5 0h0m-120.5 1h0m2.5 0h0m3.5-0.5h0m10 0h0m5 0h0m3 0.5h0m6-0.5h0m10 0h0m1.5 0h0m6 0.5h0m1.5-0.5h0m7.5 0h0m11 0.5h0m0.5-0.5h0m5 0h0m8-0.5h0m6.5 0.5h0m3 0h0m13.5 0.5h0m21.5-0.5h0m74-0.5h0m-193 1.5h0m5 0h0m2.5 0h0m4.5 0.5h0m8.5-0.5h0m5.5-0.5h0m2 0.5h0m3.5-0.5h0m5.5 0h0m21.5 0.5h0m13 0h0m6 0.5h0m4.5-0.5h0m4.5-0.5h0m1.5 0.5h0m4 0h0m10 0h0m27 0h0m4.5-0.5h0m-135.5 1h0m5 0.5h0m4 0h0m0-0.5h0m5 1h0m9.5 0h0m4.5-0.5h0m15 0h0m4.5 0h0m3 0h0m4.5-0.5h0m1 0.5h0m14.5 0h0m16 0h0m13.5-0.5h0m12 0.5h0m8 0h0m-118.5 1h0m1-0.5h0m2 0.5h0m3-0.5h0m2.5 1h0m7 0h0m8-1h0m0.5 0.5h0m6.5-0.5h0m4.5 0.5h0m2 0.5h0m6-0.5h0m10.5-0.5h0m1.5 1h0m14.5-1h0m4.5 0.5h0m0 0.5h0m14-0.5h0m6 0.5h0m6.5 0h0m6-0.5h0m-102 1.5h0m13.5-1h0m9.5 0.5h0m15 0h0m3.5-0.5h0m2 0.5h0m3.5 0h0m6 0h0m0 0h0m2.5 0h0m4.5-0.5h0m2 0h0m5 1h0m3-0.5h0m28.5 0h0m38-0.5h0m-133 1h0m5 0h0m5 0.5h0m2 0h0m0.5 0h0m3.5 0h0m5.5-0.5h0m3 0.5h0m3.5 0h0m2-0.5h0m8 0h0m7.5 0h0m1.5 1h0m7.5-0.5h0m7 0h0m6.5 0.5h0m23-1h0m8.5 0h0m14 0h0m-115 1.5h0m0-0.5h0m4.5 0.5h0m7 0.5h0m5.5 0h0m3 0h0m8.5-0.5h0m4 0h0m0.5 0h0m1-0.5h0m7.5 0.5h0m18 0h0m15.5 0.5h0m5.5 0h0m2.5 0h0m0.5-1h0m2.5 1h0m7.5-1h0m2.5 0.5h0m7.5 0.5h0m0.5 0h0m1.5-0.5h0m3 0.5h0m-107 0.5h0m12.5 0h0m4.5-0.5h0m5 0.5h0m14 0h0m5 0h0m3.5 0.5h0m9.5-0.5h0m9 0h0m2 0h0m12 0h0m12-0.5h0m4.5 0h0m-91 2h0m2.5-1h0m3 0.5h0m1-0.5h0m2.5 0.5h0m14.5 0h0m4 0h0m3 0.5h0m11-0.5h0m2 0.5h0m4.5-0.5h0m0.5-0.5h0m2.5 0h0m4.5 0h0m1 1h0m7.5-1h0m1.5 0.5h0m1-0.5h0m17.5 0h0m16.5 0.5h0m-95.5 1h0m2.5 0.5h0m2.5 0h0m2-0.5h0m3.5 0h0m3.5-0.5h0m2 0.5h0m7.5 0h0m6 0h0m11 0h0m1.5-0.5h0m11 0h0m5 0h0m2 0h0m5.5 1h0m3-0.5h0m3 0.5h0m23-0.5h0m-88 1h0m7 0h0m2.5 0.5h0m12.5-1h0m1.5 1h0m0.5-0.5h0m0-0.5h0m17 0h0m2 0.5h0m1-0.5h0m5.5 0h0m17.5 0.5h0m9.5 0.5h0m9.5-0.5h0m4 0h0m1 0h0m-96 0.5h0m1 0.5h0m7.5 0h0m1.5 0.5h0m5.5 0h0m10-1h0m6 0h0m3.5 1h0m10-0.5h0m5.5 0.5h0m3.5-0.5h0m2 0h0m2 0h0m2 0h0m1.5 0h0m5-0.5h0m18 0h0m26 0.5h0m-107 1h0m3.5 0.5h0m12 0h0m2-0.5h0m3 0h0m14.5-0.5h0m1 0.5h0m3-0.5h0m3.5 0.5h0m3.5 0.5h0m15-0.5h0m4 0h0m4.5 0.5h0m22.5-0.5h0m-86 1h0m2.5 0.5h0m1.5 0h0m15 0h0m2-0.5h0m2 0.5h0m4.5-1h0m4 1h0m7.5 0h0m3-0.5h0m19-0.5h0m3 0.5h0m7.5 0h0m16.5 0.5h0m-89 0.5h0m0 0h0m3 0.5h0m9.5-0.5h0m0.5-0.5h0m4 0.5h0m4.5 0h0m8 0h0m1.5 0h0m20-0.5h0m7 0.5h0m12 0h0m7.5 0h0m4-0.5h0m4.5 0.5h0m-80.5 1h0m8 0h0m2.5 0h0m11.5 0h0m8.5-0.5h0m2 1h0m3 0h0m5.5-1h0m3.5 0h0m14.5 0.5h0m16 0h0m11.5 0h0m-90 0.5h0m6 1h0m0.5-0.5h0m2 0h0m4 0.5h0m5-1h0m1.5 1h0m1.5-0.5h0m7 0h0m2.5-0.5h0m7 0h0m7 1h0m6.5 0h0m0-0.5h0m3.5-0.5h0m8 0h0m6 0.5h0m14-0.5h0m-73 1.5h0m4 0h0m2.5-0.5h0m2 0h0m4 0h0m4 0h0m1.5 0.5h0m4 0h0m3.5 0.5h0m0.5-1h0m2 0h0m2 0h0m3 1h0m3.5-0.5h0m8-0.5h0m2.5 0h0m2 1h0m6.5 0h0m6 0h0m-57.5 1h0m4.5-0.5h0m16.5 0h0m13.5 0h0m1 0.5h0m8.5-0.5h0m30.5 0h0m1.5-0.5h0m-80.5 2h0m7.5-0.5h0m4 0.5h0m6.5-1h0m4 0h0m9.5 1h0m5.5-0.5h0m3.5 0h0m3-0.5h0m-36 1.5h0m6 0.5h0m0.5-0.5h0m2-0.5h0m0.5 0.5h0m0.5-0.5h0m4.5 1h0m3-0.5h0m3 0h0m2 0h0m2 0.5h0m5 0h0m8.5 0h0m8-0.5h0m8-0.5h0m5 0.5h0m-62 1h0m10.5 0h0m8 0h0m5.5 0.5h0m11.5-0.5h0m3 0.5h0m9.5-0.5h0m25.5 0h0m-68.5 0.5h0m3 0.5h0m4.5 0.5h0m2 0h0m7-0.5h0m22 0h0m2 0h0m1.5 0h0m0.5-0.5h0m6.5 0h0m2 0.5h0m1.5 0h0m4.5 0h0m2.5 0h0m-58.5 1h0m2.5 0h0m2.5 0h0m8 0h0m10-0.5h0m2.5 0.5h0m4.5 0h0m1.5-0.5h0m4 1h0m3-0.5h0m5.5 0.5h0m10-0.5h0m1-0.5h0m16 1h0m3.5-0.5h0m-71.5 1h0m3 0h0m5.5-0.5h0m7.5 0h0m5.5 1h0m1.5-0.5h0m0.5 0h0m10.5 0.5h0m5-0.5h0m11.5 0h0m18.5 0.5h0m-64 0h0m4 0.5h0m0.5 0h0m1.5-0.5h0m8.5 0.5h0m8.5 0.5h0m29-1h0m2.5 0.5h0m7 0h0m10.5 0.5h0m-68 0.5h0m4-0.5h0m2 1h0m2-0.5h0m8 0h0m2 0.5h0m3.5-0.5h0m6-0.5h0m2 0.5h0m29 0.5h0m20.5 0h0m-81 0.5h0m11 0.5h0m1.5-0.5h0m2.5 0.5h0m1.5 0h0m9-0.5h0m1 0h0m28.5-0.5h0m10 0.5h0m-62.5 0.5h0m0.5 0.5h0m6-0.5h0m1.5 1h0m4.5-0.5h0m2 0.5h0m9.5-0.5h0m9.5 0.5h0m11.5-0.5h0m3.5-0.5h0m5 1h0m0-0.5h0m-49.5 1.5h0m3.5-0.5h0m11 0h0m1.5 0h0m23 0.5h0m5.5-1h0m6.5 0.5h0m0.5 0.5h0m-36.5 1h0m7.5-1h0m40.5 0h0m-53.5 1.5h0m2.5-0.5h0m9 1h0m1.5-0.5h0m1.5 0.5h0m3-0.5h0m3.5-0.5h0m-24 1.5h0m5 0h0m5 0h0m16.5 0h0m15.5 0h0m68-0.5h0m-102 1.5h0m2 0h0m10.5 0h0m2-0.5h0m11.5 1h0m2.5 0h0m12.5-1h0m-43 1.5h0m5 0h0m3-0.5h0m4 0.5h0m7.5 0h0m20 0.5h0m16-1h0m-52.5 2h0m3-0.5h0m1.5 0h0m18 0h0m4 0h0m8 0h0m20.5 0h0m40 0h0m-90.5 1h0m2-0.5h0m5 0.5h0m13.5 0.5h0m4 0h0m1-1h0m8 1h0m4-1h0m69 0.5h0m-102.5 1h0m1.5 0h0m7 0h0m10.5 0h0m8.5 0h0m7-0.5h0m-29 1.5h0m4.5 0h0m-4 1h0m13.5-0.5h0m1.5 0.5h0m7.5 0h0m-20 0.5h0m0.5 1h0m17.5-0.5h0m27 0h0m-41.5 0.5h0m3 1h0m19 0h0m13-0.5h0m-19 0.5h0m1 0.5h0m-7.5 1h0m-3 0.5h0m3 0.5h0m6.5 0h0m15 1h0m-15.5 0.5h0m2.5 0.5h0m2.5-0.5h0m6.5 0h0m10 2h0m18 0h0m24.5-0.5h0m-0.5 1h0m-46 0.5h0m28 2h0m19.5 188.5h0m15 2h0m-91.5 3.5h0m-8.5 1h0m34 1h0m-23.5 1h0m-23 2h0m-3.5 1h0m-19 3h0m65.5 0.5h0m-64.5 0.5h0m2 0.5h0m75 0h0m-72.5 1.5h0m26 2.5h0m-14 1.5h0m48.5-1h0m-82.5 1.5h0m12 0h0m-14.5 1h0m24 0h0m-4 0.5h0m3 0h0m7.5 1h0m9-1h0m-39 2h0m4.5-0.5h0m63.5 0h0m-54.5 1h0m20-0.5h0m-31.5 1.5h0m1.5 0h0m21-0.5h0m17.5 1h0m10.5 0.5h0m7.5 0h0m19-0.5h0m3.5 0.5h0m-84.5 1h0m7 0h0m9-0.5h0m126.5 1.5h0m-130 0.5h0m17.5 0.5h0m12.5 0h0m14.5-0.5h0m-67.5 1.5h0m6.5-0.5h0m14.5 1h0m-23 0.5h0m7 0.5h0m10-1h0m26.5 0.5h0m-55 0.5h0m22.5 0.5h0m5-0.5h0m18.5 1h0m3-0.5h0m79.5 0h0m-97 1.5h0m7.5-0.5h0m13.5-0.5h0m1 1h0m-42.5 1h0m56-1h0m25 0.5h0m-92.5 1h0m3.5 0h0m3 0.5h0m2-0.5h0m3.5 0h0m4.5 0.5h0m27.5 0h0m-23 0h0m0.5 0.5h0m12.5 0h0m8 0h0m-51 0.5h0m39.5 1h0m2-1h0m-24 2h0m6.5-1h0m5 0.5h0m11.5 0h0m52.5 0h0m-82 0.5h0m63 1.5h0m8.5 0h0m-94.5 1h0m13.5 0.5h0m14 0h0m2 0h0m35-1h0m28.5 0.5h0m-72 1.5h0m18.5-1h0m11.5 1h0m28 0h0m-80.5 0.5h0m14.5 0.5h0m5.5-1h0m16.5 0h0m5.5 0.5h0m77.5-0.5h0m-116 2h0m58-0.5h0m65 1.5h0m18 0.5h0m-136.5 0.5h0m5.5 0h0m24 1h0m0.5-0.5h0m9.5-0.5h0m56 0h0m-85.5 1.5h0m12 0h0m21 0h0m6 0.5h0m21 0h0m-58.5 0.5h0m8-0.5h0m15.5 0.5h0m32-0.5h0m-70.5 1h0m15.5 0.5h0m38 0h0m38-0.5h0m-78.5 1.5h0m13-0.5h0m15.5 0.5h0m3-0.5h0m4.5 0.5h0m-61 1h0m28 0.5h0m18.5 0h0m22.5-0.5h0m9 0h0m1.5 0.5h0m-38.5 0.5h0m-50.5 1.5h0m72.5-1h0m30.5 0.5h0m-110.5 1h0m45.5 0.5h0m3 0h0m3-1h0m-38 2h0m9-0.5h0m5 0h0m4.5-0.5h0m44 0h0m-77.5 1.5h0m38.5 0h0m29 0.5h0m10 0h0m7.5-1h0m8.5 0h0m29.5 0.5h0m17.5 0.5h0m-135 1h0m73.5 0h0m14 0h0m2.5-0.5h0m57 0h0m-159.5 0.5h0m12.5 0h0m70 1h0m52.5-0.5h0m20.5-0.5h0m5.5 0.5h0m-168.5 0.5h0m20 0.5h0m4-0.5h0m18 0h0m73 0h0m3.5 0.5h0m-89 0.5h0m4.5 0.5h0m40 0h0m4 0h0m16.5 0.5h0m27.5 0h0m1.5 0h0m30.5-0.5h0m-124.5 1h0m18 0h0m54 0.5h0m25-0.5h0m14.5 0h0m23.5-0.5h0m-160 1.5h0m22-0.5h0m18.5 0.5h0m12.5-0.5h0m39.5 0.5h0m26 0h0m-129 0.5h0m18.5 0h0m11 0h0m32 0h0m27.5 0h0m50 0.5h0m9.5 0.5h0m-97 0.5h0m2.5-0.5h0m31 1h0m10.5-1h0m5 0.5h0m8.5 0h0m36 0.5h0m44.5 0h0m-144 1h0m3-1h0m26.5 0h0m73 0h0m6.5 1h0m3.5-0.5h0m18.5 0h0m-150.5 0.5h0m2 0h0m12.5 0.5h0m7.5 0.5h0m18.5-1h0m17.5 0h0m28 0.5h0m19 0.5h0m-110.5 1h0m8-1h0m48.5 0.5h0m27.5 0h0m3.5-0.5h0m-101.5 2h0m5-0.5h0m32.5-0.5h0m2 0.5h0m3 0h0m63.5 0h0m7-0.5h0m52 0h0m-146 2h0m18-0.5h0m10.5 0.5h0m2-1h0m12.5 0.5h0m4.5-0.5h0m2.5 1h0m13.5-1h0m21.5 0.5h0m53.5 0.5h0m-177 0h0m54.5 0h0m15 0h0m14.5 0h0m28 0h0m5 1h0m11.5-0.5h0m35.5-0.5h0m18 0.5h0m5 0h0m-161.5 1h0m26.5 0h0m4.5 0h0m44-0.5h0m0.5 0h0m-74 1h0m10.5 0.5h0m26 0h0m45 0.5h0m2.5-0.5h0m-104 0.5h0m12 1h0m37 0h0m38-0.5h0m27.5 0h0m3-0.5h0m12.5 1h0m-120 0h0m123.5 1h0m-103.5 0.5h0m37.5-0.5h0m36 1h0m24 0h0m58.5-1h0m-167 2h0m26.5-0.5h0m44.5 0h0m20 0h0m22 0.5h0m51 0h0m-173.5 1h0m80.5-1h0m6 0.5h0m4 0.5h0m23-1h0m-110.5 1.5h0m100.5-0.5h0m2 0.5h0m-121.5 1h0m33.5 0.5h0m79 0h0m4-1h0m3.5 0.5h0m65.5-0.5h0m-153 2h0m4-0.5h0m41.5 0.5h0m18-1h0m0.5 0.5h0m92.5 0h0m-132.5 0.5h0m22.5 0.5h0m35.5-0.5h0m27 0.5h0m19 0h0m-160.5 1h0m102.5 0h0m17 0h0m8.5 0.5h0m72-0.5h0m-159 1h0m16 0.5h0m15.5-0.5h0m3.5 0h0m9.5 0h0m-73 1.5h0m43.5-0.5h0m55-0.5h0m33.5 0.5h0m-128.5 0.5h0m6 0.5h0m12.5 0.5h0m14.5-0.5h0m33.5-0.5h0m13.5 1h0m-20.5 0.5h0m8 0.5h0m16 0h0m7.5-0.5h0m2.5 0h0m85.5-0.5h0m-146.5 1h0m32 0.5h0m44 0h0m5.5 0h0m9 0.5h0m-116.5 0.5h0m11.5 0h0m31.5-0.5h0m22 0h0m47 0.5h0m22.5-0.5h0m-154.5 1h0m15 0h0m24 1h0m6.5-0.5h0m5 0h0m41-0.5h0m14 0.5h0m17.5-0.5h0m1 0.5h0m-67 1h0m8-0.5h0m16 0.5h0m-85.5 0.5h0m54.5 0h0m7 0h0m38 0.5h0m17.5 0.5h0m23-1h0m-125 1.5h0m30 0h0m6.5 0h0m16.5-0.5h0m22 0.5h0m-82.5 0.5h0m20 0.5h0m14-0.5h0m7.5 0.5h0m43 0h0m-45 1.5h0m14.5 0h0m57 0h0m9.5-1h0m1 0h0m25 0.5h0m-96 1.5h0m25.5-0.5h0m21 0.5h0m8.5-1h0m2 0.5h0m8.5 0h0m-70.5 1h0m26 0h0m18-0.5h0m11 0h0m3.5 1h0m4.5-0.5h0m3 0h0m3.5 0.5h0m4.5-1h0m48.5 0.5h0m11.5 0h0m-173 1.5h0m8.5-0.5h0m5.5 0h0m12 0h0m86 0h0m66.5-0.5h0m-25.5 1h0m16 0.5h0m-103.5 1h0m4 0.5h0m5.5-0.5h0m22.5 0h0m13.5 0h0m23.5 0h0m-149 1h0m24 0.5h0m4.5-1h0m1 1h0m47.5-1h0m54 0h0m4 0.5h0m30.5 0h0m-130 1h0m31.5 0h0m24.5 0h0m22.5-0.5h0m72 0.5h0m-148.5 1h0m69 0.5h0m22.5 0h0m-101.5 0.5h0m35 0h0m2.5-0.5h0m51.5 1h0m3 0h0m6.5-1h0m-96.5 1h0m8 0.5h0m56-0.5h0m29.5 0.5h0m28 0.5h0m-142 0h0m68 0.5h0m22 0.5h0m6.5-1h0m50.5 0.5h0m-114.5 1.5h0m32 0h0m43.5-1h0m34.5 0.5h0m8.5 0.5h0m-138 0.5h0m6 0.5h0m6.5-1h0m5.5 1h0m6-1h0m3 0.5h0m10 0.5h0m14-0.5h0m5 0h0m8.5-0.5h0m19 0.5h0m29 0.5h0m41.5-0.5h0m-156.5 1h0m23.5-0.5h0" fill="none" stroke="#c8262a" stroke-width="2.7" stroke-linecap="round"/>
<line x1="272" y1="181.5" x2="449" y2="181.5" stroke="#c8262a" stroke-width="4"/>
<line x1="311" y1="605.4" x2="380" y2="605.4" stroke="#c8262a" stroke-width="3.2"/>
<line x1="409" y1="605.4" x2="429" y2="605.4" stroke="#c8262a" stroke-width="3.2"/>
<path d="M456.5 179l2.6 5h-5.2zM481 179l2.6 5h-5.2zM269.5 608l-2.6 -5h5.2zM285 608l-2.6 -5h5.2zM298 608l-2.6 -5h5.2zM386 608l-2.6 -5h5.2zM392 608l-2.6 -5h5.2zM401 608l-2.6 -5h5.2z" fill="#c8262a"/>
<line x1="101.3" y1="393.5" x2="610.6" y2="393.5" stroke="#cf2d37" stroke-width="3.7" stroke-opacity="0.48"/>
<rect x="101.3" y="164.9" width="509.3" height="456.8" fill="none" stroke="#000" stroke-width="2"/>
<line x1="93.5" y1="202" x2="101.3" y2="202" stroke="#000" stroke-width="2"/>
<line x1="93.5" y1="393.6" x2="101.3" y2="393.6" stroke="#000" stroke-width="2"/>
<line x1="93.5" y1="585" x2="101.3" y2="585" stroke="#000" stroke-width="2"/>
<line x1="104.6" y1="621.7" x2="104.6" y2="632" stroke="#000" stroke-width="2"/>
<line x1="141.5" y1="621.7" x2="141.5" y2="632" stroke="#000" stroke-width="1.1"/>
<line x1="227.2" y1="621.7" x2="227.2" y2="632" stroke="#000" stroke-width="2"/>
<line x1="264.3" y1="621.7" x2="264.3" y2="632" stroke="#000" stroke-width="1.1"/>
<line x1="349.9" y1="621.7" x2="349.9" y2="632" stroke="#000" stroke-width="2"/>
<line x1="386.4" y1="621.7" x2="386.4" y2="632" stroke="#000" stroke-width="1.1"/>
<line x1="472.5" y1="621.7" x2="472.5" y2="632" stroke="#000" stroke-width="2"/>
<line x1="509.7" y1="621.7" x2="509.7" y2="632" stroke="#000" stroke-width="1.1"/>
<line x1="595" y1="621.7" x2="595" y2="632" stroke="#000" stroke-width="2"/>
<text x="86.8" y="212" font-size="29.2" text-anchor="end">1.5</text>
<text x="87.5" y="403.5" font-size="29.2" text-anchor="end">0</text>
<text x="86.8" y="595" font-size="29.2" text-anchor="end">−1.5</text>
<text x="226.5" y="659.2" font-size="29.2" text-anchor="middle">5</text>
<text x="339.5" y="659.2" font-size="29.2" text-anchor="middle">50</text>
<text x="470.2" y="659.2" font-size="29.2" text-anchor="middle">500</text>
<text x="609" y="659.2" font-size="29.2" text-anchor="middle">5000</text>
<text x="191" y="698" font-size="29.5">Mean of normalized counts</text>
<text x="28.3" y="389" font-size="29.2" text-anchor="middle" transform="rotate(-90 28.3 389)">Log2 FC</text>
<text x="677.5" y="36.5" font-size="44" font-weight="bold" stroke="none">b</text>
<text x="1005" y="37" font-size="29.2">ATAC</text>
<text x="1316.2" y="37.2" font-size="29.8">H3K27ac</text>
<text x="1695.6" y="37.3" font-size="29.6">YAP</text>
<text x="833.6" y="430" font-size="29.2" text-anchor="middle" transform="rotate(-90 833.6 430)">Decreased accessibility</text>
<text x="816.7" y="766.3" font-size="29.2">-2Kb</text>
<text x="903" y="766.3" font-size="29.2">0</text>
<text x="944" y="766.3" font-size="29.2">2Kb</text>
<g clip-path="url(#c1)">
<rect x="875.3" y="173.7" width="76.5" height="552.6" fill="url(#bgR)"/>
<path d="M893.9 169.7L894.5 171.9L896.3 174.1L896.4 176.3L897.4 178.5L899.6 180.7L895.9 182.9L897.5 185.1L898.8 187.3L898 189.5L899.6 191.7L897.3 193.9L898.5 196.1L898.2 198.3L898.6 200.5L900.7 202.7L900.8 204.9L900.8 207.1L902.2 209.3L900.1 211.5L900.1 213.7L902.4 215.9L901.9 218.1L902 220.3L901.7 222.5L902.3 224.7L901 226.9L901.4 229.1L904 231.3L902.9 233.5L901.6 235.7L904.3 237.9L904.4 240.1L904.4 242.3L903.2 244.5L903.1 246.7L905 248.9L904.6 251.1L905.1 253.3L904.8 255.5L905.3 257.7L905.2 259.9L903.4 262.1L905.7 264.3L904.9 266.5L904.7 268.7L904.1 270.9L905.3 273.1L903.5 275.3L903.8 277.5L904.1 279.7L904.4 281.9L905.7 284.1L905.8 286.3L906.1 288.5L906.4 290.7L904.7 292.9L904.8 295.1L906.1 297.3L905.2 299.5L905.2 301.7L906.5 303.9L906.4 306.1L904.8 308.3L905.1 310.5L906.3 312.7L906.3 314.9L905.2 317.1L905.8 319.3L905.1 321.5L905 323.7L906.3 325.9L905.2 328.1L905.8 330.3L906.9 332.5L905.6 334.7L905.9 336.9L905.9 339.1L905.2 341.3L907.3 343.5L906.2 345.7L906.1 347.9L906.7 350.1L906.5 352.3L906.3 354.5L905.8 356.7L906.5 358.9L906.3 361.1L906.8 363.3L906.8 365.5L906.2 367.7L905.9 369.9L907.3 372.1L906.9 374.3L907.5 376.5L905.8 378.7L906.1 380.9L906.1 383.1L907.1 385.3L907.1 387.5L906.1 389.7L906.9 391.9L907.7 394.1L907.8 396.3L906.2 398.5L907.3 400.7L907.5 402.9L906.2 405.1L907.2 407.3L907.4 409.5L906.2 411.7L907.2 413.9L907.3 416.1L907.1 418.3L906.3 420.5L907.4 422.7L907.7 424.9L907.8 427.1L906.9 429.3L906.4 431.5L906.6 433.7L907.4 435.9L907.5 438.1L907.1 440.3L907.9 442.5L908.1 444.7L907.4 446.9L907 449.1L906.6 451.3L907.2 453.5L907 455.7L908 457.9L907.5 460.1L908.2 462.3L906.7 464.5L906.7 466.7L908.3 468.9L907.4 471.1L907 473.3L908.2 475.5L907.1 477.7L907.4 479.9L907.5 482.1L908.4 484.3L907.8 486.5L907.7 488.7L907.4 490.9L907.2 493.1L907.4 495.3L907.8 497.5L908.2 499.7L908.2 501.9L908.3 504.1L907.9 506.3L908.4 508.5L908.2 510.7L908.4 512.9L907.3 515.1L907.2 517.3L907.5 519.5L907.6 521.7L907.2 523.9L907.6 526.1L908.3 528.3L908.5 530.5L907.2 532.7L908.3 534.9L907.1 537.1L907.5 539.3L908.5 541.5L908.1 543.7L908.1 545.9L908.6 548.1L907.5 550.3L907.6 552.5L908.4 554.7L907.8 556.9L907.4 559.1L907.4 561.3L907.8 563.5L908.5 565.7L908 567.9L908.3 570.1L907.4 572.3L907.5 574.5L908.2 576.7L907.6 578.9L908.1 581.1L907.9 583.3L908.7 585.5L907.8 587.7L907.7 589.9L908.2 592.1L907.9 594.3L908.2 596.5L907.9 598.7L907.9 600.9L908.4 603.1L908.8 605.3L908.1 607.5L908.6 609.7L908.4 611.9L909 614.1L907.7 616.3L908 618.5L908.5 620.7L907.6 622.9L908.4 625.1L908.1 627.3L908.8 629.5L907.9 631.7L908.8 633.9L907.9 636.1L907.6 638.3L908.4 640.5L909 642.7L907.7 644.9L908 647.1L909.1 649.3L907.9 651.5L909 653.7L908.5 655.9L909 658.1L908.7 660.3L907.8 662.5L909.1 664.7L908.4 666.9L907.8 669.1L909.1 671.3L907.9 673.5L908.5 675.7L908.1 677.9L908.3 680.1L908 682.3L909.1 684.5L907.9 686.7L909 688.9L908.9 691.1L908 693.3L908.2 695.5L908.7 697.7L908.4 699.9L908.4 702.1L909.2 704.3L908.1 706.5L908.2 708.7L908.7 710.9L908.5 713.1L908.9 715.3L908.3 717.5L908 719.7L909 721.9L908.7 724.1L908 726.3L909 728.5L917.3 728.5L917.2 726.3L917.6 724.1L918 721.9L918.4 719.7L917.3 717.5L918.2 715.3L917.7 713.1L917.7 710.9L917.4 708.7L917.5 706.5L917.8 704.3L917.3 702.1L917.7 699.9L918.2 697.7L918.1 695.5L918.5 693.3L917.7 691.1L917.6 688.9L917.8 686.7L917.7 684.5L917.6 682.3L917.8 680.1L917.5 677.9L917.2 675.7L917.4 673.5L918 671.3L918.2 669.1L917.8 666.9L918.2 664.7L918.4 662.5L917.9 660.3L918 658.1L918.2 655.9L917.6 653.7L917.8 651.5L917.9 649.3L917.8 647.1L917.5 644.9L918.1 642.7L918.6 640.5L918.6 638.3L918.1 636.1L917.7 633.9L918.2 631.7L917.6 629.5L918.4 627.3L917.6 625.1L918.6 622.9L917.3 620.7L917.4 618.5L918.1 616.3L918.3 614.1L918 611.9L917.5 609.7L918 607.5L918.6 605.3L918.8 603.1L918.8 600.9L918.4 598.7L918.2 596.5L918.1 594.3L917.4 592.1L918.2 589.9L918.1 587.7L918.8 585.5L918.2 583.3L917.4 581.1L918 578.9L918.7 576.7L918.3 574.5L918.9 572.3L918.4 570.1L918.3 567.9L918.7 565.7L917.8 563.5L918.1 561.3L917.7 559.1L917.5 556.9L917.6 554.7L918.2 552.5L918.2 550.3L919 548.1L917.9 545.9L918.6 543.7L918.1 541.5L918.3 539.3L918.3 537.1L918.4 534.9L918.4 532.7L919.2 530.5L918.4 528.3L917.8 526.1L919 523.9L917.8 521.7L918.1 519.5L918.8 517.3L918.5 515.1L917.7 512.9L919.2 510.7L919 508.5L918.3 506.3L919 504.1L918 501.9L917.8 499.7L918 497.5L919.4 495.3L919.3 493.1L919.4 490.9L918 488.7L918.2 486.5L919.1 484.3L918 482.1L918 479.9L918.8 477.7L918.6 475.5L919.1 473.3L919.6 471.1L919 468.9L919 466.7L919 464.5L919 462.3L918.6 460.1L919.6 457.9L918.1 455.7L918.8 453.5L918.2 451.3L918.6 449.1L918.3 446.9L918.3 444.7L918.4 442.5L918.4 440.3L919.4 438.1L918.8 435.9L919.9 433.7L918.3 431.5L918.3 429.3L919.6 427.1L919.8 424.9L918.3 422.7L918.3 420.5L918.5 418.3L918.7 416.1L920 413.9L919.4 411.7L919 409.5L918.9 407.3L919.8 405.1L919.4 402.9L920.1 400.7L918.5 398.5L919.1 396.3L918.7 394.1L919.5 391.9L919.6 389.7L919 387.5L919.5 385.3L919.4 383.1L918.8 380.9L920.3 378.7L919.5 376.5L919.5 374.3L919.8 372.1L920.3 369.9L920.6 367.7L919.7 365.5L919.3 363.3L919 361.1L918.9 358.9L920.7 356.7L920.6 354.5L920.8 352.3L919.1 350.1L920.9 347.9L920.8 345.7L919.7 343.5L920.2 341.3L919.6 339.1L920.3 336.9L919.7 334.7L919.6 332.5L921.2 330.3L921 328.1L921.2 325.9L920.2 323.7L921.4 321.5L920.7 319.3L919.8 317.1L920.4 314.9L920.6 312.7L921.5 310.5L919.8 308.3L921.4 306.1L920 303.9L920 301.7L921.9 299.5L920.9 297.3L921.5 295.1L920 292.9L920.2 290.7L920.4 288.5L920.4 286.3L921 284.1L920.8 281.9L921.7 279.7L922.5 277.5L921.6 275.3L921 273.1L922 270.9L921.9 268.7L921.7 266.5L920.8 264.3L922.4 262.1L921.6 259.9L921.2 257.7L920.9 255.5L921.1 253.3L922.7 251.1L921.4 248.9L922.1 246.7L922.9 244.5L924 242.3L921.9 240.1L924.5 237.9L924.6 235.7L922.4 233.5L925.1 231.3L923.1 229.1L923.6 226.9L922.5 224.7L924.2 222.5L924.2 220.3L923.5 218.1L923.4 215.9L923.1 213.7L926.7 211.5L924 209.3L924.9 207.1L927 204.9L924.9 202.7L925 200.5L928.3 198.3L926.5 196.1L928.8 193.9L927.3 191.7L926.6 189.5L928.3 187.3L928.3 185.1L926.9 182.9L930.4 180.7L928.4 178.5L927.6 176.3L928.9 174.1L928.9 171.9L929.6 169.7z" fill="url(#g1_0)" filter="url(#hbr)"/>
<path d="M898.2 169.7L897.3 171.9L901.5 174.1L903.4 176.3L901.8 178.5L900.4 180.7L902.6 182.9L903.9 185.1L899.7 187.3L900.6 189.5L901.1 191.7L902.5 193.9L900.9 196.1L905.7 198.3L903.8 200.5L905.2 202.7L901.4 204.9L906.7 207.1L901.8 209.3L903.4 211.5L904.6 213.7L902.8 215.9L903.9 218.1L906.6 220.3L906.7 222.5L903.9 224.7L904.9 226.9L906 229.1L904.7 231.3L907.2 233.5L906.2 235.7L905.9 237.9L905.6 240.1L904 242.3L904.2 244.5L907.7 246.7L907.2 248.9L908.2 251.1L904.9 253.3L906.2 255.5L907.1 257.7L906.3 259.9L906.8 262.1L907.2 264.3L908.3 266.5L908.3 268.7L908.3 270.9L906 273.1L908.7 275.3L905.6 277.5L906.2 279.7L908.8 281.9L907.8 284.1L906.8 286.3L907.2 288.5L907.7 290.7L907.3 292.9L907 295.1L908.1 297.3L908.9 299.5L907.5 301.7L907.5 303.9L906.5 306.1L908.7 308.3L906.4 310.5L906.5 312.7L907.7 314.9L908.7 317.1L908.4 319.3L909.5 321.5L906.9 323.7L907.2 325.9L908.1 328.1L908.5 330.3L908.7 332.5L909.6 334.7L907.8 336.9L908.3 339.1L907.5 341.3L908.4 343.5L907.6 345.7L909.7 347.9L909.2 350.1L909.1 352.3L908.3 354.5L907.5 356.7L907.3 358.9L907.9 361.1L907.6 363.3L907.5 365.5L908.7 367.7L908.7 369.9L909.3 372.1L909.6 374.3L907.9 376.5L909.1 378.7L908.4 380.9L908.9 383.1L908.8 385.3L907.6 387.5L909.4 389.7L908.9 391.9L909.2 394.1L908.7 396.3L907.5 398.5L909.4 400.7L910.1 402.9L907.8 405.1L909.6 407.3L909 409.5L910 411.7L909.8 413.9L908 416.1L909.2 418.3L907.9 420.5L908.4 422.7L908.7 424.9L910.1 427.1L908.5 429.3L908.4 431.5L908.1 433.7L908.4 435.9L910.1 438.1L909.6 440.3L908.5 442.5L908.2 444.7L908.9 446.9L907.9 449.1L908.5 451.3L908.1 453.5L908 455.7L908.9 457.9L910 460.1L910.2 462.3L909.9 464.5L909 466.7L910.2 468.9L908.3 471.1L908.6 473.3L910.3 475.5L909.1 477.7L910.3 479.9L908.5 482.1L909.3 484.3L909.6 486.5L910.3 488.7L909.8 490.9L909.2 493.1L908.6 495.3L909.7 497.5L910.4 499.7L909.2 501.9L908.4 504.1L908.7 506.3L908.6 508.5L909.6 510.7L909.7 512.9L909.6 515.1L909.4 517.3L910.3 519.5L909 521.7L910.1 523.9L908.9 526.1L909.9 528.3L909.3 530.5L908.9 532.7L910 534.9L908.6 537.1L908.8 539.3L910.1 541.5L910.4 543.7L909.3 545.9L909.2 548.1L910.6 550.3L909.5 552.5L910.2 554.7L910.5 556.9L908.8 559.1L909.8 561.3L909 563.5L909.8 565.7L909.4 567.9L910.2 570.1L909.6 572.3L909.3 574.5L910.3 576.7L910.7 578.9L910.6 581.1L909.5 583.3L910.4 585.5L909.5 587.7L910.1 589.9L909.8 592.1L909.2 594.3L909.4 596.5L910.2 598.7L909.2 600.9L909.7 603.1L909 605.3L909.7 607.5L909.6 609.7L910.5 611.9L909.4 614.1L910.6 616.3L909.3 618.5L910.2 620.7L909.3 622.9L910 625.1L910.7 627.3L910.6 629.5L909.6 631.7L910.3 633.9L910.2 636.1L909.1 638.3L909.8 640.5L909.1 642.7L910.1 644.9L910.1 647.1L909.5 649.3L910.6 651.5L910.6 653.7L909.2 655.9L909.8 658.1L910.3 660.3L909.7 662.5L910.5 664.7L910.8 666.9L910.2 669.1L910.3 671.3L909.7 673.5L910.9 675.7L910 677.9L909.6 680.1L910.4 682.3L909.7 684.5L910.6 686.7L910.6 688.9L909.6 691.1L909.1 693.3L909.5 695.5L910.8 697.7L911 699.9L910.3 702.1L911 704.3L909.4 706.5L909.6 708.7L910 710.9L909.9 713.1L909.4 715.3L909.8 717.5L910.8 719.7L910.4 721.9L909.3 724.1L909.5 726.3L909.5 728.5L916 728.5L916.7 726.3L916.8 724.1L916.2 721.9L916.6 719.7L915.4 717.5L915.4 715.3L916.8 713.1L915.5 710.9L916.4 708.7L917 706.5L915.9 704.3L916.5 702.1L917 699.9L917 697.7L916.4 695.5L915.9 693.3L916 691.1L917.2 688.9L915.7 686.7L915.9 684.5L916.4 682.3L917.1 680.1L916 677.9L917.2 675.7L916.6 673.5L917 671.3L916.2 669.1L915.9 666.9L915.5 664.7L917 662.5L917.1 660.3L915.5 658.1L916.6 655.9L916.4 653.7L916 651.5L916.6 649.3L916.1 647.1L916.8 644.9L916.1 642.7L916.7 640.5L916.7 638.3L917.2 636.1L916.1 633.9L915.5 631.7L915.5 629.5L917.3 627.3L916.1 625.1L915.8 622.9L915.5 620.7L915.7 618.5L916.5 616.3L915.6 614.1L915.6 611.9L916.9 609.7L916.8 607.5L916.1 605.3L915.6 603.1L915.6 600.9L915.7 598.7L917.1 596.5L915.7 594.3L917.5 592.1L915.7 589.9L916.8 587.7L915.8 585.5L917.3 583.3L917.1 581.1L916.4 578.9L916.6 576.7L916 574.5L916.3 572.3L917.7 570.1L916.5 567.9L916.4 565.7L916.9 563.5L916.4 561.3L917.5 559.1L915.7 556.9L917.4 554.7L916.1 552.5L916.8 550.3L917.1 548.1L917.1 545.9L917.2 543.7L916.3 541.5L916.1 539.3L917.1 537.1L917 534.9L915.7 532.7L917.8 530.5L916.6 528.3L916.4 526.1L917.3 523.9L917.1 521.7L917.1 519.5L916.8 517.3L917.1 515.1L916 512.9L917.6 510.7L917.9 508.5L916.4 506.3L916 504.1L917.2 501.9L917.6 499.7L916.5 497.5L916.3 495.3L916.3 493.1L916.1 490.9L918 488.7L916.3 486.5L916.2 484.3L917 482.1L917.3 479.9L917.2 477.7L917.4 475.5L916.5 473.3L917.5 471.1L916.5 468.9L917.5 466.7L916 464.5L917.4 462.3L916.4 460.1L917.2 457.9L918 455.7L917.5 453.5L916.7 451.3L916.9 449.1L917.2 446.9L918.2 444.7L918 442.5L916.1 440.3L917.2 438.1L916.5 435.9L918.3 433.7L916.8 431.5L916.7 429.3L916.6 427.1L916.2 424.9L916.7 422.7L916.6 420.5L917.4 418.3L917.4 416.1L917.4 413.9L917.8 411.7L916.3 409.5L916.3 407.3L917.9 405.1L918 402.9L916.2 400.7L917.3 398.5L917.7 396.3L917.9 394.1L917.9 391.9L917.4 389.7L918 387.5L918.5 385.3L917.6 383.1L918.4 380.9L917.2 378.7L918.3 376.5L917.1 374.3L919 372.1L919 369.9L917.6 367.7L918.6 365.5L917.7 363.3L919.1 361.1L917.6 358.9L919 356.7L918.7 354.5L918.8 352.3L919.1 350.1L917.9 347.9L919.2 345.7L918.8 343.5L917.3 341.3L917.5 339.1L917.2 336.9L917.5 334.7L916.9 332.5L917.5 330.3L919.4 328.1L918.5 325.9L918.7 323.7L917.3 321.5L917.1 319.3L917.1 317.1L918.8 314.9L918 312.7L919.2 310.5L918.5 308.3L917 306.1L917.4 303.9L919 301.7L919.8 299.5L919.1 297.3L920.4 295.1L918.5 292.9L918.1 290.7L918.3 288.5L919.2 286.3L918 284.1L918.6 281.9L917.8 279.7L918.9 277.5L918.1 275.3L919.2 273.1L920.6 270.9L921.1 268.7L918.5 266.5L918.4 264.3L921.5 262.1L920.7 259.9L920.6 257.7L921.3 255.5L918.1 253.3L919.4 251.1L918.2 248.9L920.4 246.7L921.3 244.5L918.7 242.3L922.4 240.1L922.5 237.9L921.4 235.7L921.9 233.5L922.6 231.3L919.5 229.1L923.2 226.9L920.9 224.7L923.5 222.5L922.7 220.3L922.6 218.1L919.6 215.9L921.7 213.7L923.2 211.5L924.2 209.3L922.9 207.1L919.7 204.9L925.1 202.7L921.1 200.5L920.6 198.3L924.7 196.1L922.8 193.9L921.9 191.7L922.6 189.5L923 187.3L925.7 185.1L923 182.9L924.2 180.7L923.1 178.5L923.1 176.3L926.5 174.1L925.6 171.9L923.5 169.7z" fill="url(#g1_1)" filter="url(#hb)"/>
<rect x="875.3" y="173.7" width="76.5" height="552.6" filter="url(#nR)" mask="url(#mR)" opacity="1.0"/>
<path d="M875.3 371.7h6.7M890.5 177.8h6.9M937.2 338.5h3M887.2 223.2h8.7M940.1 180.2h6.6M949.7 307.1h5.3M941.2 357.4h6.5M875.3 195.8h3.5M877.2 369.1h4.3M875.3 377.8h4.9M943.2 372.1h8.1M875.3 177.9h7.7M899.4 215.7h8.5M892.2 199.4h6.5M875.3 194.3h3.2M875.3 363.4h4.9M875.3 303.2h6.6M875.3 307.5h5.2M933.6 184.9h6.2M900.1 177.7h3.1M886.5 179.6h7.6M891.3 275.8h8.2M931.1 308.8h4.2M875.3 379.1h4.7M892.1 196.2h3.4M946.9 182.9h6.4M931.1 271.9h7M875.3 244.6h5.2M894.4 206.4h8.5M879.2 315.1h9M879.8 244h5.3M932.5 310.5h3.3M893.3 397.6h3.7M896.7 341.8h6.5M930.1 191.8h4.4M875.3 211.7h5.3M875.3 352.9h7.1M875.3 388.8h3.5M946.8 204.9h4.2M875.3 282.2h5.1M934.3 177.7h6.8M882 315.9h3.5M875.3 312.4h3.6M883.2 200h7.7M887.1 358.9h8.6M941.4 219.6h8.8M950.4 243.5h6.2M931 257.5h4.9M875.3 238.2h7.6M875.3 389.5h8.1M875.3 214.2h5.1M944.4 399.2h6.7M897.2 177.7h5.6M883.1 270.9h5.8M881.8 186.9h6.1M936.9 199h3.4M875.3 190.3h6.3M930.3 353.5h6M933.9 370.5h6.1M897.2 179.2h4.6M893 183.4h7.2M890.8 246.6h4.2M928.5 335.2h8.1M927.5 177.7h8.1M875.3 221.9h5.3M877.4 359.9h5.4M875.3 374h4.9M933.5 219.1h5.3M881.6 200.5h3.1M950.3 226.2h6.9M875.3 191h6.3M875.3 194h6M875.3 181.4h3.1M948.6 399.2h5.4M950.6 181.9h7.7M888 233h8.1M931.2 257.9h4.6M942.7 179.7h4.5M875.3 236h4.1M942.6 223.2h7.2M893.8 213.4h6.2M929.1 220.3h4.6M884.4 190h6.2M937.6 193.8h8.9M875.3 180.5h3.1M949.8 205.4h6.3M879.2 188.8h8.6M875.3 243.9h3.7M951.3 212.7h3.7" stroke="#9a2438" stroke-width="1.7" stroke-opacity="0.6" fill="none"/><path d="M875.3 595.1h4.1M942.3 664.4h4.6M941.9 617.4h4.8M898.8 532.8h3.3M875.3 609.5h6.3M889.9 509.5h3.6M940.2 632.8h4M884.1 487.8h8.7M887.1 431.3h4.8M875.3 553.8h3.9M880.9 715.4h4.3M875.3 583h7.2M936.2 602.4h8.2M942.7 512.6h3.1M936.7 637.8h8.2M883.6 490.8h8.2M875.3 518.2h3.1M889 684.1h8.8M932.1 432.1h7M875.3 519.9h4M934.2 458.5h3.6M888.9 669.3h4.5M950.3 503.8h6.6M932.2 600.5h5.8M875.3 455.5h5.2M897.3 409.3h7.6M949.2 672.6h7.2M896 678.2h7.8M881.8 657.7h7.3M875.3 409.3h4.1M938.1 570h6.4" stroke="#b04a54" stroke-width="1.5" stroke-opacity="0.33" fill="none"/><path d="M875.3 279.7h76.5M875.3 229.8h76.5M875.3 324.3h76.5M875.3 188.8h76.5M875.3 253.9h76.5M875.3 185.8h76.5M875.3 176.7h76.5M875.3 241.9h76.5M875.3 262.1h76.5M875.3 287.3h76.5M875.3 185.2h76.5M875.3 197.2h76.5M875.3 225.2h76.5M875.3 177.6h76.5" stroke="#b83a3a" stroke-width="1.2" stroke-opacity="0.27" fill="none"/><path d="M875.3 217.4h76.5M875.3 246.7h76.5M875.3 269.4h76.5M875.3 191.1h76.5M875.3 259h76.5M875.3 279.1h76.5M875.3 254.1h76.5M875.3 214.9h76.5M875.3 251.6h76.5M875.3 271.2h76.5M875.3 259.3h76.5M875.3 313.2h76.5" stroke="#fff" stroke-width="1" stroke-opacity="0.35" fill="none"/><path d="M906.7 426.1h13M909.3 683h7.8M906.9 456.3h12.5M905 280.3h16.3M907 522.7h12.2M905.1 231h16.1M902.8 229.1h20.8M909.3 557.3h7.7M908.6 714.6h9.1M907.6 535.8h11M906.8 265.5h12.6M908.6 467.5h9.2M906.1 283.3h14.1M903.6 196.1h19.1M905.7 419.6h14.9M906.8 462.4h12.7M906.6 451.9h13M907.6 428.8h11.2M908.6 723h9M908.4 637.3h9.5M907 351.4h12.4M907.4 337.1h11.5M908.7 597h8.9M909.1 640.7h8.1M908.7 701.4h8.9M904.3 180h17.6M909.2 675.4h7.9M909.6 713.6h7M903.4 219.5h19.6M909.1 603.7h8.2M904.9 227.2h16.5M908.9 704.7h8.5M905.5 244h15.2M906.2 234.7h13.9M909.4 613.8h7.6M907.6 484.3h11.1M904.1 283.5h18M903.9 251h18.4M904.8 243.2h16.8M906.2 295.6h14M908.8 708.5h8.6M904.5 345.3h17.2M905.7 294.5h15M908.6 645h9.1M902.1 234.3h22.1M906.2 295.8h13.9M908.9 600.5h8.5M907.4 341.1h11.5M903.8 228.8h18.7M905.1 312h16.1M906.5 382.1h13.3M909.4 702h7.5M906.5 492.6h13.3M906.4 279.3h13.5M908.5 674.4h9.3M906.7 315.6h12.9M907.3 582.4h11.7M903.3 286.8h19.7M908.8 660.1h8.7M908 409.2h10.4" stroke="#f9c3ac" stroke-width="1" stroke-opacity="0.375" fill="none"/>
</g>
<line x1="874.7" y1="174" x2="952.4" y2="174" stroke="#000" stroke-width="2.2"/>
<line x1="875.3" y1="173.7" x2="875.3" y2="726.3" stroke="#000" stroke-width="1.3"/>
<line x1="951.8" y1="173.7" x2="951.8" y2="726.3" stroke="#000" stroke-width="1.3"/>
<line x1="874.8" y1="726.3" x2="952.3" y2="726.3" stroke="#000" stroke-width="2.2"/>
<line x1="875.3" y1="726.3" x2="875.3" y2="733.3" stroke="#333" stroke-width="1"/>
<line x1="913.5" y1="726.3" x2="913.5" y2="733.3" stroke="#333" stroke-width="1"/>
<line x1="951.8" y1="726.3" x2="951.8" y2="733.3" stroke="#333" stroke-width="1"/>
<g clip-path="url(#c2)">
<rect x="957.4" y="173.7" width="75.9" height="552.6" fill="url(#bgR)"/>
<path d="M978 169.7L975.7 171.9L977.7 174.1L980.6 176.3L980.3 178.5L980.2 180.7L977.6 182.9L980.8 185.1L981.3 187.3L980.6 189.5L982.6 191.7L979.7 193.9L983.2 196.1L982 198.3L980.9 200.5L982.5 202.7L982.4 204.9L982 207.1L984.7 209.3L983.9 211.5L983 213.7L983.8 215.9L983.8 218.1L983.3 220.3L982.5 222.5L984.2 224.7L984.9 226.9L984.4 229.1L985.5 231.3L984.8 233.5L986 235.7L983.8 237.9L984.8 240.1L986.5 242.3L986.2 244.5L985 246.7L984.6 248.9L985.9 251.1L985 253.3L986.4 255.5L985.2 257.7L985.3 259.9L986 262.1L986.7 264.3L985.8 266.5L986.7 268.7L987.4 270.9L986.2 273.1L987.9 275.3L987.5 277.5L986.4 279.7L988 281.9L987.1 284.1L986.4 286.3L987.6 288.5L988.1 290.7L986.7 292.9L987.9 295.1L986.4 297.3L986.8 299.5L988.1 301.7L987.8 303.9L988.5 306.1L987.9 308.3L987.7 310.5L987.5 312.7L987 314.9L988.4 317.1L987.6 319.3L988.3 321.5L987.6 323.7L988.3 325.9L987.3 328.1L988.5 330.3L988 332.5L988 334.7L988.1 336.9L987.5 339.1L987.4 341.3L989.1 343.5L988.5 345.7L988.4 347.9L988.2 350.1L987.6 352.3L988.6 354.5L989.3 356.7L988.2 358.9L988.9 361.1L989.4 363.3L988.2 365.5L988.5 367.7L989.3 369.9L988.6 372.1L988.1 374.3L988.2 376.5L988.7 378.7L988.6 380.9L988.2 383.1L987.8 385.3L988.8 387.5L989.6 389.7L989.5 391.9L989.2 394.1L988.9 396.3L988.1 398.5L988.4 400.7L988.5 402.9L989.6 405.1L989 407.3L988.7 409.5L988.4 411.7L989.8 413.9L989.1 416.1L989.2 418.3L989.5 420.5L989.4 422.7L988.6 424.9L988.3 427.1L988.6 429.3L988.8 431.5L989.9 433.7L990 435.9L989.1 438.1L989 440.3L990 442.5L989.1 444.7L989.4 446.9L989 449.1L988.8 451.3L989.4 453.5L989.7 455.7L989.9 457.9L989.7 460.1L988.8 462.3L989 464.5L989.8 466.7L990.3 468.9L989.4 471.1L989.2 473.3L988.8 475.5L989.4 477.7L989.8 479.9L990.2 482.1L989.5 484.3L990.1 486.5L989.9 488.7L990.3 490.9L989.8 493.1L990.3 495.3L989.3 497.5L989.5 499.7L989.6 501.9L990.2 504.1L990.4 506.3L990.2 508.5L989.1 510.7L990.2 512.9L989.4 515.1L989.1 517.3L989.2 519.5L989.7 521.7L990 523.9L989.8 526.1L989.8 528.3L990.5 530.5L990.5 532.7L989.4 534.9L989.8 537.1L989.2 539.3L989.4 541.5L989.4 543.7L990.1 545.9L990.5 548.1L989.3 550.3L989.7 552.5L989.8 554.7L990.4 556.9L989.6 559.1L989.4 561.3L989.3 563.5L989.4 565.7L990.7 567.9L990.8 570.1L989.8 572.3L989.8 574.5L989.5 576.7L990 578.9L989.8 581.1L990.8 583.3L990.4 585.5L990.3 587.7L990.8 589.9L990.7 592.1L989.8 594.3L990.3 596.5L990.9 598.7L990.5 600.9L990.5 603.1L990.1 605.3L989.9 607.5L989.8 609.7L989.6 611.9L990 614.1L990.8 616.3L990.4 618.5L990.9 620.7L990.6 622.9L991 625.1L990.5 627.3L989.7 629.5L989.8 631.7L989.7 633.9L990 636.1L990.9 638.3L990 640.5L989.8 642.7L990.2 644.9L989.9 647.1L990.7 649.3L990.8 651.5L989.9 653.7L990.3 655.9L991 658.1L990.1 660.3L990.8 662.5L990.2 664.7L991 666.9L990.7 669.1L990 671.3L990.2 673.5L991.1 675.7L990.6 677.9L989.8 680.1L991.1 682.3L990.5 684.5L990 686.7L990.7 688.9L990.1 691.1L990.8 693.3L990.2 695.5L991 697.7L991.1 699.9L990.9 702.1L990.3 704.3L990 706.5L990.8 708.7L991 710.9L991 713.1L991 715.3L990.8 717.5L990.3 719.7L990.8 721.9L990.7 724.1L990.6 726.3L990.4 728.5L999.6 728.5L999.7 726.3L998.9 724.1L999.2 721.9L999.9 719.7L999.1 717.5L999.9 715.3L999 713.1L999.3 710.9L1000.1 708.7L999.6 706.5L999.2 704.3L999.6 702.1L999 699.9L999.5 697.7L999.3 695.5L1000.2 693.3L998.9 691.1L999.6 688.9L999.3 686.7L999 684.5L999.6 682.3L999.1 680.1L998.9 677.9L1000.1 675.7L999 673.5L999.5 671.3L1000.3 669.1L999.9 666.9L999.2 664.7L999.6 662.5L1000 660.3L999.3 658.1L1000 655.9L999.7 653.7L999.8 651.5L999 649.3L999.6 647.1L999.7 644.9L999.3 642.7L1000.1 640.5L999.4 638.3L999.3 636.1L999.5 633.9L999.3 631.7L999.9 629.5L1000.1 627.3L999.8 625.1L999.2 622.9L999.9 620.7L999.1 618.5L999.9 616.3L1000.5 614.1L1000.4 611.9L1000.3 609.7L999.2 607.5L1000.3 605.3L1000.2 603.1L1000.6 600.9L1000.3 598.7L999.7 596.5L999.4 594.3L999.6 592.1L999.7 589.9L999.2 587.7L999.9 585.5L1000.3 583.3L1000.2 581.1L1000 578.9L999.6 576.7L999.4 574.5L999.3 572.3L1000.3 570.1L999.4 567.9L1000.5 565.7L999.7 563.5L1000.8 561.3L999.9 559.1L1000.2 556.9L1000.7 554.7L1000.2 552.5L999.9 550.3L1000.5 548.1L1000.1 545.9L1000.8 543.7L1000 541.5L999.8 539.3L1000.2 537.1L999.5 534.9L1000.3 532.7L999.9 530.5L1001 528.3L1000.2 526.1L1001 523.9L1000 521.7L999.5 519.5L1000.2 517.3L1001 515.1L1000.8 512.9L1000.4 510.7L999.8 508.5L1000.8 506.3L1000.8 504.1L999.8 501.9L1001.2 499.7L1000.4 497.5L1000.1 495.3L1001.2 493.1L1000.6 490.9L1000.6 488.7L1000.8 486.5L1000.2 484.3L1000.2 482.1L1000.3 479.9L1000.5 477.7L1001.1 475.5L1001.2 473.3L1000.8 471.1L1000.3 468.9L1000.8 466.7L1000.9 464.5L1000.4 462.3L1001.4 460.1L1000.8 457.9L1000 455.7L1000.7 453.5L1001.1 451.3L1001.1 449.1L1000.6 446.9L1000.4 444.7L1000.1 442.5L1000.4 440.3L1000.1 438.1L1000.7 435.9L1000.4 433.7L1000.9 431.5L1000.6 429.3L1001.6 427.1L1001.1 424.9L1000.7 422.7L1000.9 420.5L1000.9 418.3L1000.8 416.1L1000.3 413.9L1001.9 411.7L1000.4 409.5L1001 407.3L1001.1 405.1L1001.5 402.9L1000.7 400.7L1001.7 398.5L1001.6 396.3L1001.7 394.1L1001.8 391.9L1001.7 389.7L1002.2 387.5L1001.1 385.3L1000.7 383.1L1001.6 380.9L1002.4 378.7L1000.5 376.5L1001.9 374.3L1001.3 372.1L1000.7 369.9L1000.7 367.7L1001 365.5L1001.4 363.3L1002.1 361.1L1000.8 358.9L1002.1 356.7L1002.7 354.5L1002.7 352.3L1002.2 350.1L1001.9 347.9L1002.4 345.7L1002.3 343.5L1001 341.3L1001.2 339.1L1002.6 336.9L1003 334.7L1001 332.5L1002.9 330.3L1001.4 328.1L1002 325.9L1001.6 323.7L1002.3 321.5L1002.6 319.3L1002.1 317.1L1002 314.9L1002 312.7L1002 310.5L1003.2 308.3L1002.1 306.1L1002.4 303.9L1003.4 301.7L1003.4 299.5L1003.2 297.3L1002 295.1L1001.8 292.9L1002.1 290.7L1003.1 288.5L1002.2 286.3L1003.7 284.1L1003.6 281.9L1003.2 279.7L1003.9 277.5L1003.3 275.3L1002.9 273.1L1003.4 270.9L1002.8 268.7L1004 266.5L1002.9 264.3L1004.5 262.1L1004.1 259.9L1003.2 257.7L1003.4 255.5L1003.2 253.3L1003.2 251.1L1005.7 248.9L1004.8 246.7L1004.4 244.5L1006.1 242.3L1004.1 240.1L1003.7 237.9L1006.2 235.7L1006.2 233.5L1004.9 231.3L1005.7 229.1L1007 226.9L1006.8 224.7L1005.6 222.5L1005.4 220.3L1005.5 218.1L1006.8 215.9L1005.5 213.7L1007.9 211.5L1006.6 209.3L1005.8 207.1L1008.8 204.9L1007.4 202.7L1008.8 200.5L1007.8 198.3L1010.1 196.1L1009.7 193.9L1007.9 191.7L1009.5 189.5L1008.5 187.3L1008.4 185.1L1011.4 182.9L1011.9 180.7L1010 178.5L1013 176.3L1014.2 174.1L1012.7 171.9L1010.5 169.7z" fill="url(#g2_0)" filter="url(#hbr)"/>
<path d="M985.6 169.7L983.3 171.9L981.8 174.1L979.7 176.3L980.7 178.5L982.2 180.7L981.6 182.9L981.9 185.1L984.7 187.3L982.8 189.5L986.4 191.7L985.3 193.9L982.5 196.1L985.1 198.3L986.5 200.5L987.7 202.7L986.6 204.9L983.8 207.1L988.1 209.3L988.9 211.5L986.1 213.7L988 215.9L985.7 218.1L985.8 220.3L987 222.5L986.4 224.7L988.7 226.9L988.7 229.1L986.2 231.3L988.2 233.5L986.4 235.7L986.6 237.9L986.6 240.1L987.6 242.3L988.5 244.5L988.2 246.7L988.5 248.9L986.7 251.1L989.8 253.3L987.4 255.5L987.1 257.7L987.9 259.9L986.9 262.1L989.5 264.3L989.6 266.5L988.6 268.7L990.1 270.9L990.6 273.1L989.9 275.3L988.3 277.5L988.2 279.7L988.3 281.9L988.2 284.1L990.9 286.3L990.2 288.5L990.6 290.7L988.6 292.9L988.7 295.1L988.8 297.3L989 299.5L988.6 301.7L990.8 303.9L989.8 306.1L988.8 308.3L990.1 310.5L991.1 312.7L988.6 314.9L989.7 317.1L989.1 319.3L990.2 321.5L991.1 323.7L989.9 325.9L990.3 328.1L991.5 330.3L991.5 332.5L989.5 334.7L991.2 336.9L991.2 339.1L989.5 341.3L990.1 343.5L990.5 345.7L988.9 347.9L989.1 350.1L990.5 352.3L990.5 354.5L989.9 356.7L989 358.9L989.9 361.1L989.1 363.3L991.3 365.5L989.9 367.7L990.2 369.9L989.9 372.1L991.1 374.3L990.5 376.5L989.9 378.7L990.3 380.9L990.9 383.1L990.3 385.3L990.5 387.5L989.8 389.7L991.7 391.9L991.4 394.1L991 396.3L990.4 398.5L991.5 400.7L990.2 402.9L989.7 405.1L991.2 407.3L990.3 409.5L991.5 411.7L991.1 413.9L991 416.1L990.9 418.3L991.2 420.5L990 422.7L991.1 424.9L991.5 427.1L992.1 429.3L989.9 431.5L989.8 433.7L990.6 435.9L991.7 438.1L990.5 440.3L990 442.5L990.2 444.7L990.2 446.9L991.5 449.1L992.2 451.3L991 453.5L990.3 455.7L991.4 457.9L990.9 460.1L990.3 462.3L992.3 464.5L991.1 466.7L991.6 468.9L990.2 471.1L991.6 473.3L991.1 475.5L990.7 477.7L990.4 479.9L991.8 482.1L990.4 484.3L990.8 486.5L990.7 488.7L990.8 490.9L990.2 493.1L991 495.3L992.4 497.5L990.3 499.7L991.7 501.9L992.4 504.1L991.7 506.3L991 508.5L992.4 510.7L992 512.9L991 515.1L990.5 517.3L991.5 519.5L991.6 521.7L991 523.9L990.9 526.1L991 528.3L992.1 530.5L991.3 532.7L990.8 534.9L990.7 537.1L991.4 539.3L991.3 541.5L991.3 543.7L992.3 545.9L990.7 548.1L991.1 550.3L990.9 552.5L991.6 554.7L992 556.9L990.8 559.1L992.5 561.3L992.6 563.5L992.4 565.7L991.3 567.9L991.6 570.1L992.5 572.3L991.1 574.5L990.8 576.7L990.8 578.9L991.9 581.1L991 583.3L992.1 585.5L992.4 587.7L992.5 589.9L992.3 592.1L992 594.3L990.9 596.5L991.4 598.7L991.1 600.9L992.5 603.1L991.6 605.3L992.4 607.5L992.6 609.7L991.1 611.9L991.4 614.1L991.9 616.3L991.5 618.5L991.1 620.7L991.3 622.9L992.2 625.1L991.4 627.3L991.1 629.5L992.7 631.7L991.9 633.9L991.4 636.1L991.1 638.3L991.7 640.5L991.6 642.7L992.2 644.9L991.2 647.1L991.1 649.3L992.7 651.5L991.7 653.7L991.8 655.9L991.5 658.1L991.8 660.3L991.4 662.5L991.9 664.7L992.4 666.9L992.2 669.1L992.3 671.3L991.4 673.5L992 675.7L991.9 677.9L991.8 680.1L992.4 682.3L991.2 684.5L991.6 686.7L992.2 688.9L991.7 691.1L992.2 693.3L992 695.5L992.2 697.7L991.7 699.9L992.5 702.1L992.2 704.3L991.3 706.5L991.4 708.7L992.2 710.9L992.1 713.1L992.7 715.3L992.1 717.5L992.9 719.7L992.7 721.9L991.7 724.1L992 726.3L992.1 728.5L997.3 728.5L998.9 726.3L997.7 724.1L998 721.9L998.3 719.7L997.3 717.5L998 715.3L998.2 713.1L997.8 710.9L997.4 708.7L998.7 706.5L997.8 704.3L998.4 702.1L998.9 699.9L997.6 697.7L997.9 695.5L997.8 693.3L998.5 691.1L997.3 688.9L997.5 686.7L997.3 684.5L998.4 682.3L998 680.1L999 677.9L998.7 675.7L998.1 673.5L998 671.3L998.2 669.1L999.1 666.9L997.6 664.7L997.5 662.5L998.3 660.3L999 658.1L998.1 655.9L998.2 653.7L999.1 651.5L998.4 649.3L999.1 647.1L998.3 644.9L997.6 642.7L998.2 640.5L997.9 638.3L999.2 636.1L998.5 633.9L997.5 631.7L998.9 629.5L998 627.3L999.1 625.1L998.5 622.9L997.4 620.7L997.6 618.5L998.4 616.3L998.2 614.1L997.7 611.9L997.6 609.7L998.7 607.5L998.1 605.3L999 603.1L998.5 600.9L997.8 598.7L998.8 596.5L999.3 594.3L998.1 592.1L998.3 589.9L997.9 587.7L997.6 585.5L999.3 583.3L999.4 581.1L997.5 578.9L999.4 576.7L999.3 574.5L997.7 572.3L998.2 570.1L997.8 567.9L997.5 565.7L999.2 563.5L999 561.3L999 559.1L998.6 556.9L998.3 554.7L998.7 552.5L999.3 550.3L997.9 548.1L998.1 545.9L997.6 543.7L997.5 541.5L998.7 539.3L997.8 537.1L997.6 534.9L998.2 532.7L999.3 530.5L998.2 528.3L999.2 526.1L999.5 523.9L999.2 521.7L997.8 519.5L999.6 517.3L997.6 515.1L998.6 512.9L999 510.7L998.5 508.5L998.5 506.3L998.5 504.1L998.4 501.9L997.7 499.7L999.5 497.5L997.8 495.3L997.9 493.1L997.9 490.9L998 488.7L998.6 486.5L998.7 484.3L998.2 482.1L998.7 479.9L998.3 477.7L997.9 475.5L997.9 473.3L998 471.1L1000 468.9L999.8 466.7L999.9 464.5L997.9 462.3L998 460.1L998.9 457.9L998 455.7L999.9 453.5L999.7 451.3L999.9 449.1L998.9 446.9L998.9 444.7L999.4 442.5L997.9 440.3L997.9 438.1L998.4 435.9L1000 433.7L999.2 431.5L1000.1 429.3L998 427.1L999.1 424.9L998.3 422.7L998.2 420.5L999 418.3L1000.3 416.1L998 413.9L999.8 411.7L998.6 409.5L1000.1 407.3L998.6 405.1L999.4 402.9L998.2 400.7L999.2 398.5L998.1 396.3L1000.2 394.1L998.3 391.9L999.8 389.7L999.5 387.5L999 385.3L1000.4 383.1L998.7 380.9L999.7 378.7L998.7 376.5L998.4 374.3L1000.5 372.1L1000.7 369.9L999.3 367.7L999 365.5L999 363.3L999.2 361.1L998.4 358.9L998.7 356.7L1001 354.5L1001 352.3L999.2 350.1L998.5 347.9L999.9 345.7L1001 343.5L1001.3 341.3L1000.2 339.1L998.6 336.9L998.5 334.7L999.7 332.5L1001.1 330.3L1000.3 328.1L999.6 325.9L999.8 323.7L999.1 321.5L999.2 319.3L1000.5 317.1L999.2 314.9L999.1 312.7L999.8 310.5L1000.6 308.3L999.3 306.1L999 303.9L999.7 301.7L1000.8 299.5L998.9 297.3L1001.6 295.1L1000.9 292.9L1000.9 290.7L1001.5 288.5L999.2 286.3L1000.9 284.1L1002.6 281.9L999.2 279.7L1002.6 277.5L1002 275.3L1002.8 273.1L1002.5 270.9L1000.4 268.7L1000.6 266.5L1000.2 264.3L1000.9 262.1L1001.8 259.9L999.8 257.7L1000 255.5L1001.3 253.3L1002.6 251.1L1001.9 248.9L999.9 246.7L1001.5 244.5L1001.2 242.3L1001.5 240.1L1002.7 237.9L1004 235.7L1003.4 233.5L1004.3 231.3L1001.3 229.1L1001.4 226.9L1004.4 224.7L1003.5 222.5L1002.6 220.3L1000.9 218.1L1004.8 215.9L1003.8 213.7L1002.5 211.5L1005.8 209.3L1001.4 207.1L1005.6 204.9L1003.5 202.7L1004.1 200.5L1003 198.3L1005.9 196.1L1002.9 193.9L1004.5 191.7L1005.3 189.5L1008.2 187.3L1003 185.1L1007.1 182.9L1009.9 180.7L1006.4 178.5L1005.6 176.3L1007.7 174.1L1010.7 171.9L1008.2 169.7z" fill="url(#g2_1)" filter="url(#hb)"/>
<rect x="957.4" y="173.7" width="75.9" height="552.6" filter="url(#nR)" mask="url(#mR)" opacity="1.0"/>
<path d="M957.4 371.7h6.7M972.5 177.8h6.9M1018.8 338.5h3M969.2 223.2h8.7M1021.7 180.2h6.6M1031.3 307.1h5.3M1022.8 357.4h6.5M957.4 195.8h3.5M1024.7 372.1h8.1M957.4 177.9h7.7M981.3 215.7h8.5M974.2 199.4h6.5M957.4 194.3h3.2M957.4 303.2h6.6M957.4 307.5h5.2M1015.3 184.9h6.2M982 177.7h3.1M968.5 179.6h7.6M973.3 275.8h8.2M957.4 379.1h4.7M974.1 196.2h3.4M1028.4 182.9h6.4M1012.7 271.9h7M957.4 244.6h5.2M976.4 206.4h8.5M961.9 244h5.3M1014.2 310.5h3.3M975.3 397.6h3.7M1011.8 191.8h4.4M957.4 352.9h7.1M957.4 388.8h3.5M1028.4 204.9h4.2M957.4 282.2h5.1M1015.9 177.7h6.8M957.4 312.4h3.6M965.2 200h7.7M1023 219.6h8.8M1031.9 243.5h6.2M1012.7 257.5h4.9M957.4 238.2h7.6M957.4 389.5h8.1M1025.9 399.2h6.7M979.2 177.7h5.6M965.2 270.9h5.8M963.8 186.9h6.1M1018.5 199h3.4M957.4 190.3h6.3M1012 353.5h6M1015.5 370.5h6.1M979.1 179.2h4.6M975 183.4h7.2M1010.2 335.2h8.1M1009.1 177.7h8.1M957.4 221.9h5.3M959.4 359.9h5.4M957.4 374h4.9M1015.2 219.1h5.3M957.4 191h6.3M957.4 194h6M957.4 181.4h3.1M1030.1 399.2h5.4M1032.1 181.9h7.7M970 233h8.1M1012.9 257.9h4.6M1024.3 179.7h4.5M957.4 236h4.1M1024.2 223.2h7.2M975.7 213.4h6.2M1010.7 220.3h4.6M966.5 190h6.2M1019.2 193.8h8.9M957.4 180.5h3.1M1031.3 205.4h6.3M961.3 188.8h8.6M957.4 243.9h3.7M1032.8 212.7h3.7" stroke="#9a2438" stroke-width="1.7" stroke-opacity="0.55" fill="none"/><path d="M957.4 595.1h4.1M1023.9 664.4h4.6M1023.5 617.4h4.8M957.4 609.5h6.3M971.9 509.5h3.6M1021.8 632.8h4M966.1 487.8h8.7M969.1 431.3h4.8M957.4 553.8h3.9M957.4 583h7.2M1017.8 602.4h8.2M1024.3 512.6h3.1M1018.3 637.8h8.2M965.6 490.8h8.2M957.4 518.2h3.1M971 684.1h8.8M1013.7 432.1h7M957.4 519.9h4M1015.8 458.5h3.6M970.9 669.3h4.5M1031.8 503.8h6.6M1013.8 600.5h5.8M957.4 455.5h5.2M979.2 409.3h7.6M1030.7 672.6h7.2M977.9 678.2h7.8M963.9 657.7h7.3M957.4 409.3h4.1M1019.7 570h6.4" stroke="#b04a54" stroke-width="1.5" stroke-opacity="0.30250000000000005" fill="none"/><path d="M957.4 279.7h75.9M957.4 229.8h75.9M957.4 324.3h75.9M957.4 188.8h75.9M957.4 253.9h75.9M957.4 185.8h75.9M957.4 176.7h75.9M957.4 241.9h75.9M957.4 262.1h75.9M957.4 287.3h75.9M957.4 185.2h75.9M957.4 197.2h75.9M957.4 225.2h75.9M957.4 177.6h75.9" stroke="#b83a3a" stroke-width="1.2" stroke-opacity="0.24750000000000003" fill="none"/><path d="M957.4 217.4h75.9M957.4 246.7h75.9M957.4 269.4h75.9M957.4 191.1h75.9M957.4 259h75.9M957.4 279.1h75.9M957.4 254.1h75.9M957.4 214.9h75.9M957.4 251.6h75.9M957.4 271.2h75.9M957.4 259.3h75.9M957.4 313.2h75.9" stroke="#fff" stroke-width="1" stroke-opacity="0.35" fill="none"/><path d="M988.4 438.2h13.3M990.8 542.6h8.5M985.6 185.6h18.9M986.5 328.9h17.2M989.8 555.8h10.6M988.9 483.7h12.3M986.8 258.8h16.4M985.1 268.1h20M984.2 211.7h21.7M985 220.3h20M988.4 363.2h13.4M991.8 638.5h6.5M983.8 212.8h22.5M990.3 456.9h9.5M990.6 717.3h9M986.6 241h16.9M987.3 253.3h15.5M990.6 518.1h8.9M991.2 559.2h7.8M985.5 272.9h19.1M988.7 397.8h12.7M989.6 504.3h10.9M989.9 389.1h10.3M989.1 575.3h12M991 711.4h8M988.6 373.8h12.8M989.6 555.5h10.9M987.5 241.7h15.2M988.2 377.6h13.8M990.6 620.9h8.9M983.7 195h22.7M988.6 414h13M987.5 300.7h15.1M987.5 391.1h15.2M986 235.6h18.2M986.1 276.7h17.9M986.5 199.8h17.1M987.6 367.1h14.9M985.8 208.1h18.5M988 293.4h14.1M987.5 439.1h15.2M987.5 441.7h15.1M985 271h20M989.3 378h11.5M989.3 587.3h11.5M986.1 183.3h18M990.8 599.4h8.6M989.3 311.3h11.6M984.9 201.5h20.3M990.4 715.5h9.2M990.5 454h9.2M986.9 355.3h16.3M990.4 632.8h9.3M987.2 304.7h15.7M988.5 439.7h13.1M985.9 322.8h18.4M991.7 666.7h6.8M986.4 338.4h17.4M986 331.3h18.1M988.5 460.3h13.1" stroke="#f9c3ac" stroke-width="1" stroke-opacity="0.375" fill="none"/>
</g>
<line x1="956.8" y1="174" x2="1033.9" y2="174" stroke="#000" stroke-width="2.2"/>
<line x1="957.4" y1="173.7" x2="957.4" y2="726.3" stroke="#000" stroke-width="1.3"/>
<line x1="1033.3" y1="173.7" x2="1033.3" y2="726.3" stroke="#000" stroke-width="1.3"/>
<line x1="956.9" y1="726.3" x2="1033.8" y2="726.3" stroke="#000" stroke-width="2.2"/>
<line x1="957.4" y1="726.3" x2="957.4" y2="733.3" stroke="#333" stroke-width="1"/>
<line x1="995.3" y1="726.3" x2="995.3" y2="733.3" stroke="#333" stroke-width="1"/>
<line x1="1033.3" y1="726.3" x2="1033.3" y2="733.3" stroke="#333" stroke-width="1"/>
<g clip-path="url(#c3)">
<rect x="1040.4" y="173.7" width="74.3" height="552.6" fill="url(#bgR)"/>
<path d="M1062 169.7L1060.9 171.9L1061.4 174.1L1063.7 176.3L1060.8 178.5L1063.1 180.7L1065.2 182.9L1063.2 185.1L1064.7 187.3L1062.6 189.5L1066.5 191.7L1063.6 193.9L1064.4 196.1L1065.9 198.3L1065.5 200.5L1065.8 202.7L1064.7 204.9L1067.6 207.1L1067.8 209.3L1067.9 211.5L1067.1 213.7L1067.3 215.9L1067.5 218.1L1066.7 220.3L1068.5 222.5L1068.5 224.7L1066.7 226.9L1068.2 229.1L1067.8 231.3L1069.1 233.5L1068.8 235.7L1068.7 237.9L1069.4 240.1L1069.7 242.3L1069.4 244.5L1068.9 246.7L1068.7 248.9L1069.2 251.1L1068.8 253.3L1070.4 255.5L1070.2 257.7L1070.3 259.9L1070.4 262.1L1068.8 264.3L1070 266.5L1070.6 268.7L1070.4 270.9L1069.1 273.1L1071 275.3L1069.6 277.5L1071 279.7L1069.3 281.9L1069.6 284.1L1070 286.3L1071.4 288.5L1069.5 290.7L1070.3 292.9L1070.8 295.1L1070.3 297.3L1070.1 299.5L1070.8 301.7L1070 303.9L1070.7 306.1L1071.7 308.3L1071.4 310.5L1071.3 312.7L1071 314.9L1070.2 317.1L1071.1 319.3L1070.2 321.5L1072 323.7L1071.7 325.9L1071.4 328.1L1070.7 330.3L1071.9 332.5L1071.1 334.7L1071.9 336.9L1071.3 339.1L1071 341.3L1070.6 343.5L1070.9 345.7L1071.5 347.9L1071.1 350.1L1071.4 352.3L1071.7 354.5L1071.8 356.7L1071.2 358.9L1071.5 361.1L1071.2 363.3L1071 365.5L1072.2 367.7L1072.2 369.9L1071.9 372.1L1071.8 374.3L1072.3 376.5L1072.5 378.7L1072.2 380.9L1071.9 383.1L1071.5 385.3L1072 387.5L1071.3 389.7L1072.2 391.9L1072.4 394.1L1071.2 396.3L1071.3 398.5L1071.5 400.7L1072.3 402.9L1071.9 405.1L1071.5 407.3L1072.5 409.5L1072.1 411.7L1071.6 413.9L1072.5 416.1L1072.7 418.3L1072.1 420.5L1072.2 422.7L1072.5 424.9L1072.6 427.1L1072.8 429.3L1073 431.5L1071.5 433.7L1072.4 435.9L1071.9 438.1L1072.2 440.3L1072.9 442.5L1073.1 444.7L1072.2 446.9L1072.8 449.1L1071.7 451.3L1072.4 453.5L1072.1 455.7L1072.5 457.9L1072.7 460.1L1073 462.3L1072.6 464.5L1072.6 466.7L1073.3 468.9L1073 471.1L1072.5 473.3L1071.9 475.5L1072 477.7L1072.1 479.9L1072.3 482.1L1072.3 484.3L1073.1 486.5L1073 488.7L1072.6 490.9L1072.3 493.1L1072.5 495.3L1072.8 497.5L1072.6 499.7L1073.3 501.9L1073.3 504.1L1072.9 506.3L1073 508.5L1072.9 510.7L1072.5 512.9L1072.3 515.1L1072.4 517.3L1072.8 519.5L1073 521.7L1073.4 523.9L1073.3 526.1L1073.3 528.3L1072.4 530.5L1073.1 532.7L1073.4 534.9L1072.7 537.1L1072.8 539.3L1072.3 541.5L1073.3 543.7L1073.6 545.9L1073.5 548.1L1073.1 550.3L1072.8 552.5L1072.9 554.7L1072.5 556.9L1073.6 559.1L1073.6 561.3L1073 563.5L1072.8 565.7L1073.2 567.9L1073.6 570.1L1072.8 572.3L1073.3 574.5L1073.8 576.7L1073.2 578.9L1073.6 581.1L1073.4 583.3L1072.9 585.5L1072.8 587.7L1073.8 589.9L1072.9 592.1L1073.6 594.3L1072.9 596.5L1073.7 598.7L1072.8 600.9L1073.1 603.1L1072.9 605.3L1073.4 607.5L1073.8 609.7L1072.7 611.9L1073.1 614.1L1073 616.3L1073.7 618.5L1072.8 620.7L1073.5 622.9L1073.4 625.1L1073.4 627.3L1073.5 629.5L1072.8 631.7L1073.4 633.9L1073.9 636.1L1072.8 638.3L1073.7 640.5L1073.6 642.7L1072.8 644.9L1073.2 647.1L1073.5 649.3L1073.1 651.5L1073.1 653.7L1072.9 655.9L1073.8 658.1L1073.8 660.3L1074 662.5L1073.5 664.7L1073.1 666.9L1073.2 669.1L1073.2 671.3L1073.1 673.5L1073.5 675.7L1073.5 677.9L1073.4 680.1L1073.5 682.3L1073.9 684.5L1073.7 686.7L1073.7 688.9L1073.9 691.1L1073.3 693.3L1073.6 695.5L1073.1 697.7L1074 699.9L1074.1 702.1L1073.4 704.3L1073.1 706.5L1073.1 708.7L1073.3 710.9L1073.4 713.1L1074.1 715.3L1073.2 717.5L1073.2 719.7L1073.9 721.9L1073.4 724.1L1073.1 726.3L1073.1 728.5L1081.7 728.5L1081.9 726.3L1081.5 724.1L1081.1 721.9L1082.1 719.7L1081.6 717.5L1082.1 715.3L1081 713.1L1082 710.9L1081.6 708.7L1081.1 706.5L1081.4 704.3L1081.7 702.1L1082.1 699.9L1082.2 697.7L1081.4 695.5L1081.4 693.3L1081.8 691.1L1082.1 688.9L1081.9 686.7L1082.1 684.5L1081.1 682.3L1081.6 680.1L1082 677.9L1081.1 675.7L1081.1 673.5L1081.4 671.3L1081.9 669.1L1081.4 666.9L1081.1 664.7L1082.2 662.5L1082 660.3L1081.5 658.1L1081.9 655.9L1082.3 653.7L1081.5 651.5L1081.8 649.3L1081.2 647.1L1081.8 644.9L1081.7 642.7L1081.7 640.5L1082.2 638.3L1081.9 636.1L1081.5 633.9L1082.2 631.7L1081.9 629.5L1081.5 627.3L1081.4 625.1L1081.3 622.9L1081.2 620.7L1081.9 618.5L1081.4 616.3L1082.2 614.1L1082.4 611.9L1082.3 609.7L1081.6 607.5L1082.3 605.3L1081.6 603.1L1081.7 600.9L1082.4 598.7L1081.6 596.5L1082.4 594.3L1081.4 592.1L1081.6 589.9L1081.8 587.7L1081.7 585.5L1082.4 583.3L1081.4 581.1L1082.3 578.9L1081.9 576.7L1082.5 574.5L1081.5 572.3L1081.5 570.1L1082.3 567.9L1082.6 565.7L1081.6 563.5L1081.6 561.3L1082.6 559.1L1082.6 556.9L1081.9 554.7L1081.9 552.5L1082.2 550.3L1081.8 548.1L1081.7 545.9L1081.9 543.7L1081.9 541.5L1082.6 539.3L1082.6 537.1L1081.8 534.9L1082.5 532.7L1082.2 530.5L1082.6 528.3L1082.1 526.1L1081.8 523.9L1081.9 521.7L1081.6 519.5L1082.8 517.3L1081.7 515.1L1082.3 512.9L1081.7 510.7L1082.7 508.5L1081.8 506.3L1082.6 504.1L1081.9 501.9L1082.1 499.7L1081.9 497.5L1082.2 495.3L1082.4 493.1L1081.8 490.9L1083 488.7L1082.4 486.5L1082.6 484.3L1082.2 482.1L1081.9 479.9L1083 477.7L1082.6 475.5L1082.3 473.3L1082.2 471.1L1082.9 468.9L1082.5 466.7L1082.2 464.5L1082.7 462.3L1083.1 460.1L1081.9 457.9L1082.5 455.7L1082.5 453.5L1083.2 451.3L1082.1 449.1L1083.1 446.9L1083.1 444.7L1082.8 442.5L1083.5 440.3L1083.5 438.1L1083.1 435.9L1083.4 433.7L1082.9 431.5L1082.8 429.3L1082.4 427.1L1082.4 424.9L1083 422.7L1083 420.5L1083.1 418.3L1083.2 416.1L1082.8 413.9L1082.5 411.7L1083.6 409.5L1082.6 407.3L1083.4 405.1L1083.8 402.9L1083.6 400.7L1082.5 398.5L1083.2 396.3L1083.6 394.1L1083.3 391.9L1083.2 389.7L1083 387.5L1082.5 385.3L1083.2 383.1L1083.6 380.9L1083.4 378.7L1083.4 376.5L1083 374.3L1084.1 372.1L1083.6 369.9L1082.8 367.7L1084.3 365.5L1082.9 363.3L1084 361.1L1083.5 358.9L1082.9 356.7L1082.8 354.5L1084.5 352.3L1083.6 350.1L1083.8 347.9L1084.4 345.7L1083.4 343.5L1084.4 341.3L1083.6 339.1L1083.4 336.9L1083.1 334.7L1083.1 332.5L1083.6 330.3L1083 328.1L1084.8 325.9L1084.5 323.7L1083.7 321.5L1083.4 319.3L1084.8 317.1L1083.8 314.9L1083.5 312.7L1083.8 310.5L1084.3 308.3L1083.4 306.1L1083.8 303.9L1084.2 301.7L1084.8 299.5L1083.9 297.3L1084.1 295.1L1084 292.9L1085.6 290.7L1084.6 288.5L1085.3 286.3L1083.8 284.1L1084.2 281.9L1084.6 279.7L1084.5 277.5L1084.4 275.3L1085.5 273.1L1086.1 270.9L1084.5 268.7L1085.5 266.5L1084.6 264.3L1084.8 262.1L1084.9 259.9L1085.6 257.7L1085.7 255.5L1085.3 253.3L1084.9 251.1L1085.6 248.9L1085 246.7L1087.1 244.5L1086.6 242.3L1086.5 240.1L1086.9 237.9L1086.8 235.7L1085.8 233.5L1088 231.3L1086.4 229.1L1086.3 226.9L1087.5 224.7L1087 222.5L1087.7 220.3L1086.5 218.1L1089.2 215.9L1086.9 213.7L1087 211.5L1087.4 209.3L1089.9 207.1L1090.4 204.9L1090.4 202.7L1089.6 200.5L1090.2 198.3L1091.6 196.1L1089.5 193.9L1091.6 191.7L1090.2 189.5L1090.6 187.3L1090.1 185.1L1092.3 182.9L1092.6 180.7L1092.9 178.5L1091.9 176.3L1090.8 174.1L1094.4 171.9L1092 169.7z" fill="url(#g3_0)" filter="url(#hbr)"/>
<path d="M1067.3 169.7L1068.9 171.9L1066.9 174.1L1067.4 176.3L1069.3 178.5L1065.6 180.7L1065.8 182.9L1067.4 185.1L1069.2 187.3L1069.8 189.5L1067.5 191.7L1067.4 193.9L1067.1 196.1L1066.5 198.3L1069.1 200.5L1070.7 202.7L1071.2 204.9L1069.9 207.1L1067 209.3L1071 211.5L1067.5 213.7L1070.6 215.9L1071.5 218.1L1072.3 220.3L1070.9 222.5L1070.5 224.7L1069.1 226.9L1069.1 229.1L1072.4 231.3L1071.1 233.5L1069.5 235.7L1069 237.9L1070.4 240.1L1070 242.3L1069.8 244.5L1070.2 246.7L1071.5 248.9L1072.3 251.1L1069.7 253.3L1071 255.5L1072.1 257.7L1072.6 259.9L1071.2 262.1L1072.8 264.3L1071 266.5L1071.2 268.7L1070.5 270.9L1071 273.1L1073.2 275.3L1071.8 277.5L1071.6 279.7L1073.3 281.9L1072.7 284.1L1071.7 286.3L1072 288.5L1071.6 290.7L1072.4 292.9L1071.3 295.1L1072.5 297.3L1071.6 299.5L1072.9 301.7L1074 303.9L1074.1 306.1L1073.8 308.3L1073.4 310.5L1071.5 312.7L1074 314.9L1072.4 317.1L1072.1 319.3L1072.7 321.5L1073.4 323.7L1073.7 325.9L1072.2 328.1L1072.2 330.3L1073.9 332.5L1074.1 334.7L1073.6 336.9L1074.3 339.1L1072.2 341.3L1072.4 343.5L1074.3 345.7L1072.2 347.9L1072.9 350.1L1073.9 352.3L1074.2 354.5L1074.4 356.7L1074.1 358.9L1074.4 361.1L1072.3 363.3L1073.7 365.5L1074.2 367.7L1074.3 369.9L1073.5 372.1L1072.5 374.3L1074.5 376.5L1074.1 378.7L1073 380.9L1073.5 383.1L1074.2 385.3L1073.9 387.5L1073.5 389.7L1072.5 391.9L1072.9 394.1L1073 396.3L1074 398.5L1074.1 400.7L1074.2 402.9L1073.6 405.1L1074.5 407.3L1074.2 409.5L1072.7 411.7L1072.9 413.9L1074.2 416.1L1073.1 418.3L1073.1 420.5L1073.5 422.7L1073.9 424.9L1074.3 427.1L1073.5 429.3L1074.1 431.5L1073.3 433.7L1075 435.9L1074.6 438.1L1074.5 440.3L1073.1 442.5L1073.3 444.7L1074 446.9L1074.8 449.1L1073.5 451.3L1074.7 453.5L1074.6 455.7L1073.8 457.9L1075 460.1L1074.2 462.3L1074.8 464.5L1074.1 466.7L1073.1 468.9L1073.5 471.1L1074.9 473.3L1074.7 475.5L1073.6 477.7L1075 479.9L1073.9 482.1L1074.5 484.3L1075.2 486.5L1074.1 488.7L1074.1 490.9L1075 493.1L1075.1 495.3L1073.5 497.5L1073.7 499.7L1075.2 501.9L1075.2 504.1L1074.6 506.3L1074.6 508.5L1073.7 510.7L1074.1 512.9L1073.4 515.1L1075.1 517.3L1074.1 519.5L1074.4 521.7L1074.3 523.9L1074.8 526.1L1074.2 528.3L1074.5 530.5L1074.8 532.7L1074.8 534.9L1073.6 537.1L1074.6 539.3L1074.8 541.5L1075.3 543.7L1074.4 545.9L1073.7 548.1L1075 550.3L1073.8 552.5L1074.8 554.7L1074.2 556.9L1074.7 559.1L1073.8 561.3L1074.4 563.5L1073.8 565.7L1073.7 567.9L1075.3 570.1L1074.6 572.3L1073.7 574.5L1075.3 576.7L1074.6 578.9L1074.4 581.1L1075.4 583.3L1074.2 585.5L1074.6 587.7L1075.4 589.9L1075.2 592.1L1074.9 594.3L1075.5 596.5L1075.3 598.7L1075.3 600.9L1074.7 603.1L1075.5 605.3L1073.9 607.5L1074.5 609.7L1073.9 611.9L1074.9 614.1L1075.3 616.3L1073.9 618.5L1074.4 620.7L1074.9 622.9L1075.2 625.1L1075.5 627.3L1075.4 629.5L1075 631.7L1075.3 633.9L1074.4 636.1L1074.3 638.3L1074.7 640.5L1075.3 642.7L1075.1 644.9L1074.1 647.1L1075.4 649.3L1074.1 651.5L1074.9 653.7L1074.6 655.9L1075 658.1L1075.2 660.3L1075.2 662.5L1074.2 664.7L1074.3 666.9L1074.9 669.1L1075 671.3L1074.1 673.5L1074.8 675.7L1075.1 677.9L1074.8 680.1L1074.2 682.3L1075.1 684.5L1074.8 686.7L1074.9 688.9L1075.2 691.1L1075.7 693.3L1075.2 695.5L1074.5 697.7L1075.3 699.9L1074.3 702.1L1075 704.3L1074.7 706.5L1075.6 708.7L1074.3 710.9L1074.4 713.1L1075 715.3L1075.6 717.5L1074.6 719.7L1075.1 721.9L1074.8 724.1L1074.8 726.3L1074.3 728.5L1080.9 728.5L1080.3 726.3L1080.3 724.1L1079.6 721.9L1080.5 719.7L1080.6 717.5L1079.9 715.3L1080.5 713.1L1079.7 710.9L1080.2 708.7L1079.9 706.5L1080.3 704.3L1080.9 702.1L1080.1 699.9L1079.5 697.7L1080.5 695.5L1080 693.3L1080.9 691.1L1080.5 688.9L1081 686.7L1080.7 684.5L1080 682.3L1081.1 680.1L1081.1 677.9L1080.5 675.7L1080.7 673.5L1080.4 671.3L1080.9 669.1L1080.6 666.9L1079.8 664.7L1079.5 662.5L1081 660.3L1079.7 658.1L1079.8 655.9L1081 653.7L1080.9 651.5L1080.8 649.3L1081.2 647.1L1080.1 644.9L1080.3 642.7L1080 640.5L1079.9 638.3L1080.5 636.1L1079.8 633.9L1080.4 631.7L1080.9 629.5L1081.2 627.3L1080.4 625.1L1080.6 622.9L1081.1 620.7L1080.7 618.5L1079.6 616.3L1080.8 614.1L1080 611.9L1080.3 609.7L1079.6 607.5L1081.2 605.3L1080.5 603.1L1080.8 600.9L1081.3 598.7L1080.2 596.5L1079.9 594.3L1080.9 592.1L1080.1 589.9L1079.8 587.7L1080.8 585.5L1079.6 583.3L1081.1 581.1L1081.1 578.9L1081.4 576.7L1079.7 574.5L1080.2 572.3L1080.8 570.1L1080.9 567.9L1080.5 565.7L1080.8 563.5L1080.9 561.3L1081.4 559.1L1080.6 556.9L1080 554.7L1081.1 552.5L1081.1 550.3L1080 548.1L1080.9 545.9L1081.4 543.7L1081.5 541.5L1081.5 539.3L1081.2 537.1L1080.5 534.9L1081.1 532.7L1081.5 530.5L1081.6 528.3L1081 526.1L1081.7 523.9L1079.9 521.7L1080.5 519.5L1080 517.3L1080.7 515.1L1080.7 512.9L1081.8 510.7L1081.8 508.5L1081.5 506.3L1081.6 504.1L1080.4 501.9L1080.1 499.7L1080 497.5L1081.7 495.3L1080.3 493.1L1080.1 490.9L1081 488.7L1080.5 486.5L1081.3 484.3L1080.6 482.1L1080.4 479.9L1081.1 477.7L1081.6 475.5L1080.5 473.3L1080.7 471.1L1082 468.9L1081.3 466.7L1080.7 464.5L1080.4 462.3L1080.2 460.1L1081.5 457.9L1080.7 455.7L1081.3 453.5L1080.1 451.3L1081.1 449.1L1080.3 446.9L1081 444.7L1081.4 442.5L1080.9 440.3L1081.5 438.1L1080.4 435.9L1081.2 433.7L1080.9 431.5L1080.9 429.3L1080.6 427.1L1080.2 424.9L1082.2 422.7L1080.7 420.5L1081.1 418.3L1081 416.1L1081.8 413.9L1082.4 411.7L1081.3 409.5L1082.3 407.3L1080.9 405.1L1080.4 402.9L1081.3 400.7L1082.6 398.5L1081.3 396.3L1082.2 394.1L1082.1 391.9L1081.8 389.7L1082 387.5L1081.9 385.3L1081.5 383.1L1080.9 380.9L1080.5 378.7L1080.6 376.5L1081.5 374.3L1080.5 372.1L1081.4 369.9L1081.7 367.7L1082.4 365.5L1081.1 363.3L1082.2 361.1L1082.5 358.9L1081.8 356.7L1081.1 354.5L1082.4 352.3L1080.6 350.1L1082.5 347.9L1081.4 345.7L1082.7 343.5L1081.2 341.3L1081.9 339.1L1080.8 336.9L1082.6 334.7L1081.4 332.5L1081.8 330.3L1081.8 328.1L1083 325.9L1082.1 323.7L1081.3 321.5L1081.9 319.3L1083.5 317.1L1082.7 314.9L1081.9 312.7L1081.5 310.5L1082.9 308.3L1082.9 306.1L1081.1 303.9L1081.6 301.7L1082.8 299.5L1083.7 297.3L1083 295.1L1081.7 292.9L1083.6 290.7L1083.1 288.5L1081.7 286.3L1081.7 284.1L1081.8 281.9L1083.8 279.7L1083 277.5L1084.5 275.3L1083.5 273.1L1084.1 270.9L1082.6 268.7L1084 266.5L1082.8 264.3L1084.7 262.1L1081.8 259.9L1083.3 257.7L1081.8 255.5L1082.4 253.3L1085.3 251.1L1082.4 248.9L1082.7 246.7L1083.2 244.5L1084.8 242.3L1083.1 240.1L1085.4 237.9L1082.8 235.7L1083.9 233.5L1083 231.3L1085.9 229.1L1085.2 226.9L1085.1 224.7L1087 222.5L1084.7 220.3L1086.9 218.1L1087.4 215.9L1085.4 213.7L1083.9 211.5L1086.3 209.3L1087.2 207.1L1087.5 204.9L1083.9 202.7L1084.2 200.5L1086.5 198.3L1084 196.1L1088.6 193.9L1088.4 191.7L1087 189.5L1084.8 187.3L1085.9 185.1L1087.6 182.9L1088.5 180.7L1086.3 178.5L1089.4 176.3L1091.7 174.1L1087.6 171.9L1090.9 169.7z" fill="url(#g3_1)" filter="url(#hb)"/>
<rect x="1040.4" y="173.7" width="74.3" height="552.6" filter="url(#nR)" mask="url(#mR)" opacity="1.0"/>
<path d="M1040.4 371.7h6.7M1055.2 177.8h6.9M1100.5 338.5h3M1052 223.2h8.7M1103.4 180.2h6.6M1104.4 357.4h6.5M1040.4 195.8h3.5M1106.3 372.1h8.1M1063.8 215.7h8.5M1056.8 199.4h6.5M1040.4 194.3h3.2M1040.4 303.2h6.6M1040.4 307.5h5.2M1097.1 184.9h6.2M1051.2 179.6h7.6M1056 275.8h8.2M1040.4 379.1h4.7M1056.8 196.2h3.4M1109.9 182.9h6.4M1094.6 271.9h7M1040.4 244.6h5.2M1044.8 244h5.3M1096 310.5h3.3M1057.9 397.6h3.7M1093.6 191.8h4.4M1040.4 352.9h7.1M1040.4 388.8h3.5M1109.9 204.9h4.2M1040.4 282.2h5.1M1097.7 177.7h6.8M1040.4 312.4h3.6M1048 200h7.7M1104.6 219.6h8.8M1113.3 243.5h6.2M1094.5 257.5h4.9M1040.4 238.2h7.6M1040.4 389.5h8.1M1107.5 399.2h6.7M1061.7 177.7h5.6M1048 270.9h5.8M1046.7 186.9h6.1M1100.2 199h3.4M1040.4 190.3h6.3M1093.8 353.5h6M1097.3 370.5h6.1M1061.6 179.2h4.6M1057.6 183.4h7.2M1092.1 335.2h8.1M1091.1 177.7h8.1M1040.4 221.9h5.3M1042.4 359.9h5.4M1040.4 374h4.9M1040.4 191h6.3M1040.4 194h6M1040.4 181.4h3.1M1111.6 399.2h5.4M1113.5 181.9h7.7M1052.7 233h8.1M1105.9 179.7h4.5M1040.4 236h4.1M1105.8 223.2h7.2M1058.3 213.4h6.2M1092.6 220.3h4.6M1049.3 190h6.2M1100.9 193.8h8.9M1040.4 180.5h3.1M1112.8 205.4h6.3M1040.4 243.9h3.7M1114.2 212.7h3.7" stroke="#9a2438" stroke-width="1.7" stroke-opacity="0.5" fill="none"/><path d="M1040.4 595.1h4.1M1105.5 664.4h4.6M1105.1 617.4h4.8M1040.4 609.5h6.3M1054.5 509.5h3.6M1103.5 632.8h4M1048.9 487.8h8.7M1051.9 431.3h4.8M1040.4 553.8h3.9M1040.4 583h7.2M1099.6 602.4h8.2M1105.9 512.6h3.1M1100 637.8h8.2M1048.4 490.8h8.2M1040.4 518.2h3.1M1053.7 684.1h8.8M1095.5 432.1h7M1040.4 519.9h4M1097.6 458.5h3.6M1053.6 669.3h4.5M1095.7 600.5h5.8M1040.4 455.5h5.2M1061.7 409.3h7.6M1112.1 672.6h7.2M1060.5 678.2h7.8M1046.8 657.7h7.3M1040.4 409.3h4.1M1101.4 570h6.4" stroke="#b04a54" stroke-width="1.5" stroke-opacity="0.275" fill="none"/><path d="M1040.4 279.7h74.3M1040.4 229.8h74.3M1040.4 324.3h74.3M1040.4 188.8h74.3M1040.4 253.9h74.3M1040.4 185.8h74.3M1040.4 176.7h74.3M1040.4 241.9h74.3M1040.4 262.1h74.3M1040.4 287.3h74.3M1040.4 185.2h74.3M1040.4 197.2h74.3M1040.4 225.2h74.3M1040.4 177.6h74.3" stroke="#b83a3a" stroke-width="1.2" stroke-opacity="0.225" fill="none"/><path d="M1040.4 217.4h74.3M1040.4 246.7h74.3M1040.4 269.4h74.3M1040.4 191.1h74.3M1040.4 259h74.3M1040.4 279.1h74.3M1040.4 254.1h74.3M1040.4 214.9h74.3M1040.4 251.6h74.3M1040.4 271.2h74.3M1040.4 259.3h74.3M1040.4 313.2h74.3" stroke="#fff" stroke-width="1" stroke-opacity="0.35" fill="none"/><path d="M1070.3 320.8h14.6M1072.3 552.3h10.4M1071.3 280.8h12.4M1071.1 259.8h12.9M1074.1 579.4h6.9M1073.1 469.1h8.8M1071.3 340.2h12.5M1073.6 635.9h8M1069.7 187.6h15.8M1068.7 259.6h17.7M1073.1 620.7h9M1073.3 629.7h8.6M1073.7 696.7h7.6M1069.7 319.5h15.7M1071.5 444.8h12.1M1072.7 486.9h9.6M1071.7 378h11.6M1072.4 350.6h10.2M1073.1 626.1h8.9M1074.1 716.5h7M1071.9 481.5h11.3M1069.3 253.1h16.5M1072.9 421.2h9.4M1070.4 290.1h14.3M1071 317.7h13.1M1073 509.5h9.1M1070 250.9h15.2M1071.6 307.9h11.9M1070.9 285.6h13.3M1068.8 219.6h17.5M1074.4 699.1h6.3M1072.3 571.2h10.4M1070.6 203.2h13.9M1073 618.7h9.1M1073.7 527.7h7.7M1070.7 404.9h13.6M1073.4 662.3h8.2M1069.3 290.3h16.6M1070.9 383.8h13.2M1068.2 254.3h18.7M1072.2 508.4h10.7M1070.1 295h14.8M1072.4 496h10.3M1070.8 375.4h13.5M1072 365.6h11.1M1069.5 269.3h16M1070.8 240.8h13.4M1068.8 217.4h17.5M1072.4 482.6h10.3M1069.3 200.8h16.6M1072.6 366.5h9.8M1066.2 181.3h22.7M1070.6 245.9h13.9M1070.6 326.2h13.9M1069.6 221.9h16M1070.5 379.4h14.1M1069.2 182.8h16.6M1071 450.1h13.1M1072.4 461.1h10.3M1073.5 544.3h8.1" stroke="#f9c3ac" stroke-width="1" stroke-opacity="0.375" fill="none"/>
</g>
<line x1="1039.8" y1="174" x2="1115.3" y2="174" stroke="#000" stroke-width="2.2"/>
<line x1="1040.4" y1="173.7" x2="1040.4" y2="726.3" stroke="#000" stroke-width="1.3"/>
<line x1="1039.9" y1="726.3" x2="1115.2" y2="726.3" stroke="#000" stroke-width="2.2"/>
<line x1="1040.4" y1="726.3" x2="1040.4" y2="733.3" stroke="#333" stroke-width="1"/>
<line x1="1077.6" y1="726.3" x2="1077.6" y2="733.3" stroke="#333" stroke-width="1"/>
<g clip-path="url(#c4)">
<rect x="1122.4" y="173.7" width="75.9" height="552.6" fill="url(#bgR)"/>
<path d="M1148.5 169.7L1150.1 171.9L1150.9 174.1L1151.2 176.3L1149.2 178.5L1150.5 180.7L1149.2 182.9L1151.5 185.1L1150.2 187.3L1152.2 189.5L1151.4 191.7L1150.8 193.9L1152.5 196.1L1151.3 198.3L1151.6 200.5L1150.8 202.7L1152.2 204.9L1152.9 207.1L1152.4 209.3L1152.5 211.5L1151.9 213.7L1152 215.9L1152.1 218.1L1153.1 220.3L1152.9 222.5L1153.4 224.7L1152.7 226.9L1152.5 229.1L1154 231.3L1153.8 233.5L1153.9 235.7L1154.4 237.9L1153.2 240.1L1154.2 242.3L1154.6 244.5L1154.7 246.7L1154 248.9L1154.6 251.1L1155.1 253.3L1153.9 255.5L1154.6 257.7L1154.3 259.9L1154.9 262.1L1154 264.3L1153.8 266.5L1154.7 268.7L1154.6 270.9L1153.9 273.1L1155.1 275.3L1154 277.5L1154.5 279.7L1154.4 281.9L1155.6 284.1L1155.5 286.3L1155.2 288.5L1155.1 290.7L1154.9 292.9L1155.3 295.1L1155.2 297.3L1154.4 299.5L1155.3 301.7L1155.8 303.9L1155.4 306.1L1155.3 308.3L1155.3 310.5L1155.7 312.7L1156 314.9L1155.9 317.1L1155.9 319.3L1154.9 321.5L1155 323.7L1155.3 325.9L1155.7 328.1L1155.2 330.3L1155 332.5L1155.3 334.7L1154.9 336.9L1156.3 339.1L1155.8 341.3L1155.6 343.5L1155.8 345.7L1155.8 347.9L1155.8 350.1L1155.9 352.3L1155.6 354.5L1155.4 356.7L1156 358.9L1155.9 361.1L1155.5 363.3L1155.4 365.5L1156.2 367.7L1156.2 369.9L1156.3 372.1L1155.7 374.3L1156.4 376.5L1155.7 378.7L1156.2 380.9L1156.1 383.1L1155.5 385.3L1156.6 387.5L1155.9 389.7L1156.1 391.9L1156.2 394.1L1156 396.3L1155.5 398.5L1156.4 400.7L1156.7 402.9L1156.4 405.1L1156.4 407.3L1156.3 409.5L1155.6 411.7L1155.9 413.9L1156.3 416.1L1156 418.3L1156.2 420.5L1156.2 422.7L1156.7 424.9L1156.2 427.1L1156.7 429.3L1156.6 431.5L1156.1 433.7L1156.3 435.9L1156 438.1L1156.6 440.3L1156 442.5L1156.9 444.7L1156.1 446.9L1156.7 449.1L1156.3 451.3L1156.5 453.5L1156.6 455.7L1156.9 457.9L1156 460.1L1156.4 462.3L1156.9 464.5L1156.4 466.7L1156.4 468.9L1156.3 471.1L1155.9 473.3L1156.9 475.5L1156.4 477.7L1156.3 479.9L1156.1 482.1L1156.7 484.3L1156.6 486.5L1156.9 488.7L1156.7 490.9L1156.2 493.1L1156.5 495.3L1156.3 497.5L1156.5 499.7L1157.1 501.9L1157.1 504.1L1156.1 506.3L1156.9 508.5L1156.3 510.7L1157 512.9L1156.6 515.1L1157.1 517.3L1156.5 519.5L1157.2 521.7L1157.2 523.9L1157 526.1L1156.6 528.3L1156.7 530.5L1156.9 532.7L1156.9 534.9L1156.9 537.1L1157 539.3L1157 541.5L1157 543.7L1156.6 545.9L1157.3 548.1L1157 550.3L1156.2 552.5L1157 554.7L1157.1 556.9L1157 559.1L1156.3 561.3L1156.3 563.5L1156.5 565.7L1157.2 567.9L1156.9 570.1L1157.3 572.3L1156.7 574.5L1157.1 576.7L1156.6 578.9L1157.1 581.1L1157 583.3L1157 585.5L1156.4 587.7L1156.4 589.9L1157.1 592.1L1157.2 594.3L1156.8 596.5L1156.9 598.7L1156.8 600.9L1157.1 603.1L1157 605.3L1156.7 607.5L1157.4 609.7L1157.2 611.9L1156.6 614.1L1157 616.3L1157.4 618.5L1156.7 620.7L1157.4 622.9L1156.5 625.1L1156.8 627.3L1157.1 629.5L1157 631.7L1157.1 633.9L1157.4 636.1L1156.9 638.3L1156.8 640.5L1157 642.7L1156.7 644.9L1156.9 647.1L1157 649.3L1157.3 651.5L1156.7 653.7L1156.6 655.9L1157.4 658.1L1157.4 660.3L1156.9 662.5L1157.2 664.7L1156.8 666.9L1157.2 669.1L1156.6 671.3L1156.8 673.5L1156.9 675.7L1156.9 677.9L1157.4 680.1L1157.4 682.3L1156.9 684.5L1157.3 686.7L1156.8 688.9L1157.2 691.1L1156.8 693.3L1157.2 695.5L1156.8 697.7L1156.7 699.9L1156.9 702.1L1156.8 704.3L1156.9 706.5L1157 708.7L1157.3 710.9L1156.9 713.1L1156.8 715.3L1157.2 717.5L1157 719.7L1157.1 721.9L1157.6 724.1L1157.1 726.3L1157.1 728.5L1163.9 728.5L1163.3 726.3L1163.6 724.1L1163.6 721.9L1163.8 719.7L1163.7 717.5L1163.5 715.3L1163.3 713.1L1163.8 710.9L1163.6 708.7L1163.3 706.5L1163.4 704.3L1163.6 702.1L1163.9 699.9L1163.6 697.7L1163.2 695.5L1163.8 693.3L1163.3 691.1L1163.3 688.9L1163.7 686.7L1164 684.5L1163.7 682.3L1164.1 680.1L1163.8 677.9L1163.2 675.7L1163.9 673.5L1163.4 671.3L1163.5 669.1L1164 666.9L1163.9 664.7L1163.7 662.5L1164 660.3L1164.2 658.1L1163.5 655.9L1164.1 653.7L1163.5 651.5L1163.9 649.3L1163.8 647.1L1163.4 644.9L1163.4 642.7L1163.9 640.5L1163.5 638.3L1163.5 636.1L1163.7 633.9L1163.8 631.7L1163.6 629.5L1164.2 627.3L1163.7 625.1L1163.4 622.9L1163.3 620.7L1164.2 618.5L1163.6 616.3L1163.7 614.1L1163.3 611.9L1164 609.7L1164 607.5L1163.3 605.3L1164.1 603.1L1164.3 600.9L1163.8 598.7L1163.9 596.5L1164 594.3L1164.1 592.1L1163.7 589.9L1164.2 587.7L1164 585.5L1163.5 583.3L1163.4 581.1L1163.6 578.9L1163.8 576.7L1163.9 574.5L1163.4 572.3L1163.9 570.1L1163.8 567.9L1164 565.7L1164 563.5L1164.1 561.3L1164.2 559.1L1163.7 556.9L1163.8 554.7L1164.5 552.5L1163.6 550.3L1164.3 548.1L1163.9 545.9L1164.4 543.7L1164.1 541.5L1164.4 539.3L1163.9 537.1L1163.5 534.9L1164.1 532.7L1163.5 530.5L1164.5 528.3L1163.7 526.1L1164.1 523.9L1164.1 521.7L1163.9 519.5L1164.1 517.3L1163.8 515.1L1163.7 512.9L1164.2 510.7L1164 508.5L1164.1 506.3L1164 504.1L1164.2 501.9L1163.7 499.7L1163.9 497.5L1164.2 495.3L1163.8 493.1L1163.6 490.9L1164.5 488.7L1163.6 486.5L1163.7 484.3L1163.6 482.1L1163.7 479.9L1164.6 477.7L1164.1 475.5L1163.8 473.3L1164.1 471.1L1164.2 468.9L1163.9 466.7L1164.8 464.5L1164.7 462.3L1164.3 460.1L1164.1 457.9L1163.8 455.7L1164.1 453.5L1163.9 451.3L1164.3 449.1L1164.9 446.9L1164.4 444.7L1164 442.5L1164.5 440.3L1164.6 438.1L1164.9 435.9L1164.7 433.7L1164.1 431.5L1165 429.3L1163.9 427.1L1164.4 424.9L1164.7 422.7L1165.1 420.5L1165 418.3L1164.7 416.1L1164.6 413.9L1165 411.7L1164.5 409.5L1164.6 407.3L1164.6 405.1L1164.8 402.9L1165.1 400.7L1164.3 398.5L1165 396.3L1164.9 394.1L1164.7 391.9L1164.2 389.7L1165.1 387.5L1165.1 385.3L1165.2 383.1L1164.7 380.9L1165.1 378.7L1164.2 376.5L1164.4 374.3L1164.3 372.1L1164.8 369.9L1164.5 367.7L1165 365.5L1165 363.3L1164.2 361.1L1164.9 358.9L1165.4 356.7L1164.3 354.5L1164.5 352.3L1165.3 350.1L1165 347.9L1165.2 345.7L1165.5 343.5L1165.3 341.3L1165.6 339.1L1165.3 336.9L1165.3 334.7L1165.2 332.5L1165.4 330.3L1165.6 328.1L1164.5 325.9L1165.8 323.7L1164.8 321.5L1165.1 319.3L1164.7 317.1L1164.7 314.9L1165.9 312.7L1165.8 310.5L1166.1 308.3L1165.2 306.1L1165.9 303.9L1166.2 301.7L1166.2 299.5L1166 297.3L1166.2 295.1L1165.2 292.9L1166 290.7L1165.7 288.5L1165.4 286.3L1165.6 284.1L1166.5 281.9L1166.2 279.7L1166.6 277.5L1166.1 275.3L1166.3 273.1L1165.7 270.9L1165.5 268.7L1166.7 266.5L1166.6 264.3L1166.1 262.1L1166.1 259.9L1166.1 257.7L1165.9 255.5L1166.7 253.3L1165.8 251.1L1166.9 248.9L1166.1 246.7L1167.7 244.5L1166.8 242.3L1166.7 240.1L1167.7 237.9L1167.7 235.7L1167.3 233.5L1166.6 231.3L1167 229.1L1167.8 226.9L1167.8 224.7L1168.5 222.5L1168.1 220.3L1168.9 218.1L1168.8 215.9L1167.8 213.7L1167.3 211.5L1167.3 209.3L1167.6 207.1L1167.9 204.9L1169.5 202.7L1169.3 200.5L1169.7 198.3L1170.2 196.1L1169.8 193.9L1169.5 191.7L1169.9 189.5L1171.1 187.3L1171.1 185.1L1169.5 182.9L1172.1 180.7L1171.9 178.5L1170.1 176.3L1172 174.1L1171.5 171.9L1170 169.7z" fill="url(#g4_0)" filter="url(#hbr)"/>
<path d="M1152.8 169.7L1151.6 171.9L1152 174.1L1154.1 176.3L1152.4 178.5L1153.8 180.7L1154.2 182.9L1152.4 185.1L1152.9 187.3L1155 189.5L1155 191.7L1155.1 193.9L1155.5 196.1L1153.4 198.3L1154 200.5L1154.5 202.7L1155 204.9L1155.6 207.1L1154.6 209.3L1155.2 211.5L1155.6 213.7L1154.6 215.9L1156 218.1L1156.7 220.3L1156.9 222.5L1155.2 224.7L1156.1 226.9L1155.4 229.1L1157 231.3L1155.9 233.5L1155.8 235.7L1155.7 237.9L1155.5 240.1L1155.7 242.3L1155.3 244.5L1155.3 246.7L1156.6 248.9L1155.1 251.1L1156.8 253.3L1156.8 255.5L1156.1 257.7L1155.9 259.9L1157.4 262.1L1155.8 264.3L1155.4 266.5L1156.8 268.7L1155.6 270.9L1157.7 273.1L1157.2 275.3L1157.2 277.5L1157.5 279.7L1156.8 281.9L1157.8 284.1L1156.8 286.3L1156.7 288.5L1157.1 290.7L1155.9 292.9L1157.6 295.1L1156.3 297.3L1157.3 299.5L1156 301.7L1156.6 303.9L1157.7 306.1L1157 308.3L1157.5 310.5L1157.4 312.7L1156.9 314.9L1157.8 317.1L1156.5 319.3L1157.5 321.5L1156.5 323.7L1156.8 325.9L1157.3 328.1L1156.5 330.3L1157.9 332.5L1158 334.7L1156.7 336.9L1157.5 339.1L1158.1 341.3L1158 343.5L1157 345.7L1157.3 347.9L1158.3 350.1L1157.9 352.3L1156.9 354.5L1157 356.7L1157.3 358.9L1157.5 361.1L1157.3 363.3L1156.9 365.5L1157.5 367.7L1156.9 369.9L1158.1 372.1L1156.8 374.3L1158 376.5L1156.9 378.7L1157.7 380.9L1158 383.1L1157 385.3L1157.9 387.5L1157.1 389.7L1157.8 391.9L1158 394.1L1157.8 396.3L1158.4 398.5L1157 400.7L1158.2 402.9L1158.1 405.1L1157 407.3L1157 409.5L1157.2 411.7L1157.7 413.9L1157.7 416.1L1158.3 418.3L1157.4 420.5L1157.5 422.7L1157.1 424.9L1157.8 427.1L1157.8 429.3L1157.7 431.5L1158 433.7L1158.2 435.9L1157.6 438.1L1157.1 440.3L1157.9 442.5L1157.1 444.7L1157.6 446.9L1158.2 449.1L1157.1 451.3L1157.5 453.5L1157.2 455.7L1157.2 457.9L1157.5 460.1L1157.2 462.3L1157.4 464.5L1157.6 466.7L1158.3 468.9L1157.4 471.1L1158.2 473.3L1158.6 475.5L1157.8 477.7L1157.2 479.9L1157.8 482.1L1158.1 484.3L1158.5 486.5L1158.1 488.7L1157.4 490.9L1158.1 493.1L1157.8 495.3L1157.8 497.5L1158.6 499.7L1158.7 501.9L1158.5 504.1L1157.8 506.3L1158.2 508.5L1157.7 510.7L1158.7 512.9L1157.9 515.1L1158.5 517.3L1158.2 519.5L1158.4 521.7L1158 523.9L1157.5 526.1L1158.6 528.3L1158.5 530.5L1157.5 532.7L1158.5 534.9L1157.6 537.1L1157.9 539.3L1158.6 541.5L1157.8 543.7L1158.5 545.9L1157.7 548.1L1157.9 550.3L1157.8 552.5L1158.1 554.7L1157.9 556.9L1158 559.1L1158.8 561.3L1157.9 563.5L1157.9 565.7L1158.1 567.9L1157.7 570.1L1158.1 572.3L1157.6 574.5L1158.4 576.7L1158.7 578.9L1158.2 581.1L1157.7 583.3L1158.1 585.5L1158 587.7L1157.8 589.9L1158.5 592.1L1158.5 594.3L1157.9 596.5L1158.5 598.7L1157.9 600.9L1158.1 603.1L1158.6 605.3L1158.1 607.5L1157.8 609.7L1157.8 611.9L1158.4 614.1L1158.1 616.3L1158.1 618.5L1158.3 620.7L1158.3 622.9L1158.8 625.1L1158.3 627.3L1158.9 629.5L1158.3 631.7L1158.1 633.9L1157.9 636.1L1157.9 638.3L1158.5 640.5L1158.7 642.7L1158.6 644.9L1158.7 647.1L1158.9 649.3L1158.8 651.5L1158.9 653.7L1157.9 655.9L1158.1 658.1L1158.5 660.3L1157.8 662.5L1158.7 664.7L1158.6 666.9L1157.9 669.1L1157.8 671.3L1158.4 673.5L1158.3 675.7L1158.6 677.9L1158.8 680.1L1158.5 682.3L1158.3 684.5L1158.8 686.7L1158.5 688.9L1158 691.1L1157.8 693.3L1158.9 695.5L1158 697.7L1158.8 699.9L1158 702.1L1158.9 704.3L1158.6 706.5L1158.6 708.7L1158.3 710.9L1158.8 713.1L1158.7 715.3L1158.2 717.5L1158.9 719.7L1158.8 721.9L1158.2 724.1L1158.3 726.3L1157.9 728.5L1161.9 728.5L1162 726.3L1162.6 724.1L1161.8 721.9L1162.7 719.7L1162.8 717.5L1161.9 715.3L1162.6 713.1L1161.9 710.9L1162.5 708.7L1161.7 706.5L1161.9 704.3L1162.2 702.1L1162 699.9L1161.9 697.7L1162.1 695.5L1161.9 693.3L1162.5 691.1L1161.9 688.9L1162 686.7L1161.8 684.5L1162.4 682.3L1162.6 680.1L1161.8 677.9L1162.3 675.7L1162.6 673.5L1162.4 671.3L1162.7 669.1L1162.5 666.9L1162.9 664.7L1162.1 662.5L1162.2 660.3L1162.8 658.1L1162.7 655.9L1163 653.7L1162.6 651.5L1162.9 649.3L1162.6 647.1L1163 644.9L1162 642.7L1162.7 640.5L1161.9 638.3L1162.8 636.1L1162.6 633.9L1162.4 631.7L1162.8 629.5L1162.4 627.3L1162.4 625.1L1162.3 622.9L1162.2 620.7L1161.9 618.5L1162.9 616.3L1162.3 614.1L1162.2 611.9L1162.7 609.7L1162.3 607.5L1162.4 605.3L1162.9 603.1L1162.1 600.9L1162.5 598.7L1162.2 596.5L1162 594.3L1162.9 592.1L1162.7 589.9L1162.9 587.7L1162 585.5L1162.7 583.3L1162.5 581.1L1163 578.9L1162 576.7L1162.5 574.5L1162.1 572.3L1162.5 570.1L1162.3 567.9L1163 565.7L1162.1 563.5L1163.2 561.3L1162.6 559.1L1162.4 556.9L1162.3 554.7L1162.4 552.5L1163.2 550.3L1162 548.1L1163.2 545.9L1162.1 543.7L1162.7 541.5L1163 539.3L1163 537.1L1163 534.9L1163 532.7L1162.1 530.5L1163 528.3L1162.8 526.1L1162.5 523.9L1162.5 521.7L1162.1 519.5L1162.1 517.3L1162.3 515.1L1163 512.9L1162.1 510.7L1163.2 508.5L1162.4 506.3L1162.3 504.1L1162 501.9L1163.2 499.7L1162.2 497.5L1163.2 495.3L1162.8 493.1L1163.4 490.9L1162.3 488.7L1163.4 486.5L1162.1 484.3L1162.4 482.1L1163.3 479.9L1163.2 477.7L1162.6 475.5L1162.4 473.3L1162.6 471.1L1162.1 468.9L1162.5 466.7L1163.3 464.5L1162.2 462.3L1163.4 460.1L1162.8 457.9L1163.4 455.7L1162.4 453.5L1163.2 451.3L1163 449.1L1162.7 446.9L1162.5 444.7L1162.9 442.5L1162.2 440.3L1162.4 438.1L1162.7 435.9L1163.1 433.7L1162.2 431.5L1162.8 429.3L1163.1 427.1L1163.7 424.9L1162.7 422.7L1162.8 420.5L1163.2 418.3L1163.6 416.1L1162.4 413.9L1162.4 411.7L1162.8 409.5L1163.7 407.3L1162.6 405.1L1162.6 402.9L1163.1 400.7L1163.6 398.5L1163.1 396.3L1162.7 394.1L1162.5 391.9L1162.3 389.7L1162.9 387.5L1163.2 385.3L1163.8 383.1L1162.6 380.9L1163.3 378.7L1163.1 376.5L1163.4 374.3L1163.6 372.1L1162.6 369.9L1163.9 367.7L1163.2 365.5L1164 363.3L1162.8 361.1L1163.2 358.9L1162.5 356.7L1163 354.5L1162.7 352.3L1163.1 350.1L1162.9 347.9L1163.3 345.7L1162.6 343.5L1162.5 341.3L1163.5 339.1L1164.3 336.9L1164.2 334.7L1163.4 332.5L1163.5 330.3L1164.1 328.1L1162.9 325.9L1163 323.7L1164.2 321.5L1163.9 319.3L1164.1 317.1L1163.5 314.9L1163 312.7L1163 310.5L1163.9 308.3L1164.4 306.1L1163.8 303.9L1164.7 301.7L1162.9 299.5L1163.4 297.3L1163.7 295.1L1163.3 292.9L1163.2 290.7L1164.2 288.5L1164.9 286.3L1164.7 284.1L1163.3 281.9L1163.5 279.7L1163.6 277.5L1164.1 275.3L1164.3 273.1L1163 270.9L1165.3 268.7L1165.1 266.5L1163.2 264.3L1164.4 262.1L1164.6 259.9L1163.5 257.7L1165.5 255.5L1164.9 253.3L1164.2 251.1L1164 248.9L1164.9 246.7L1165.7 244.5L1164.4 242.3L1166 240.1L1163.8 237.9L1164 235.7L1164.7 233.5L1165.5 231.3L1165.6 229.1L1164.6 226.9L1165.6 224.7L1164.6 222.5L1164.8 220.3L1166.4 218.1L1165.6 215.9L1165.8 213.7L1165.3 211.5L1166.9 209.3L1165.3 207.1L1164.6 204.9L1166.5 202.7L1166.3 200.5L1167.2 198.3L1167.6 196.1L1165.6 193.9L1166.8 191.7L1167.7 189.5L1166.3 187.3L1165.8 185.1L1168.2 182.9L1166.4 180.7L1169.2 178.5L1167.9 176.3L1165.6 174.1L1166.4 171.9L1165.7 169.7z" fill="url(#g4_1)" filter="url(#hb)"/>
<rect x="1122.4" y="173.7" width="75.9" height="552.6" filter="url(#nR)" mask="url(#mR)" opacity="1.0"/>
<path d="M1122.4 371.7h6.7M1137.5 177.8h6.9M1183.8 338.5h3M1134.2 223.2h8.7M1186.7 180.2h6.6M1187.8 357.4h6.5M1122.4 195.8h3.5M1189.7 372.1h8.1M1146.3 215.7h8.5M1139.2 199.4h6.5M1122.4 194.3h3.2M1122.4 303.2h6.6M1122.4 307.5h5.2M1180.3 184.9h6.2M1133.5 179.6h7.6M1138.3 275.8h8.2M1122.4 379.1h4.7M1139.1 196.2h3.4M1177.7 271.9h7M1122.4 244.6h5.2M1126.9 244h5.3M1179.2 310.5h3.3M1140.3 397.6h3.7M1176.8 191.8h4.4M1122.4 352.9h7.1M1122.4 388.8h3.5M1193.4 204.9h4.2M1122.4 282.2h5.1M1180.9 177.7h6.8M1122.4 312.4h3.6M1130.2 200h7.7M1188 219.6h8.8M1196.9 243.5h6.2M1177.7 257.5h4.9M1122.4 238.2h7.6M1122.4 389.5h8.1M1190.9 399.2h6.7M1144.2 177.7h5.6M1128.8 186.9h6.1M1183.5 199h3.4M1122.4 190.3h6.3M1177 353.5h6M1180.5 370.5h6.1M1144.1 179.2h4.6M1140 183.4h7.2M1175.2 335.2h8.1M1174.1 177.7h8.1M1122.4 221.9h5.3M1124.4 359.9h5.4M1122.4 374h4.9M1122.4 191h6.3M1122.4 194h6M1122.4 181.4h3.1M1195.1 399.2h5.4M1197.1 181.9h7.7M1135 233h8.1M1189.3 179.7h4.5M1189.2 223.2h7.2M1140.7 213.4h6.2M1175.7 220.3h4.6M1131.5 190h6.2M1184.2 193.8h8.9M1122.4 180.5h3.1M1196.3 205.4h6.3M1122.4 243.9h3.7M1197.8 212.7h3.7" stroke="#9a2438" stroke-width="1.7" stroke-opacity="0.5" fill="none"/><path d="M1122.4 595.1h4.1M1188.9 664.4h4.6M1188.5 617.4h4.8M1122.4 609.5h6.3M1136.9 509.5h3.6M1186.8 632.8h4M1131.1 487.8h8.7M1134.1 431.3h4.8M1122.4 553.8h3.9M1122.4 583h7.2M1182.8 602.4h8.2M1189.3 512.6h3.1M1183.3 637.8h8.2M1130.6 490.8h8.2M1122.4 518.2h3.1M1136 684.1h8.8M1178.7 432.1h7M1122.4 519.9h4M1180.8 458.5h3.6M1135.9 669.3h4.5M1178.8 600.5h5.8M1122.4 455.5h5.2M1144.2 409.3h7.6M1195.7 672.6h7.2M1142.9 678.2h7.8M1122.4 409.3h4.1M1184.7 570h6.4" stroke="#b04a54" stroke-width="1.5" stroke-opacity="0.275" fill="none"/><path d="M1122.4 279.7h75.9M1122.4 229.8h75.9M1122.4 324.3h75.9M1122.4 188.8h75.9M1122.4 253.9h75.9M1122.4 185.8h75.9M1122.4 176.7h75.9M1122.4 241.9h75.9M1122.4 262.1h75.9M1122.4 287.3h75.9M1122.4 185.2h75.9M1122.4 197.2h75.9M1122.4 225.2h75.9M1122.4 177.6h75.9" stroke="#b83a3a" stroke-width="1.2" stroke-opacity="0.225" fill="none"/><path d="M1122.4 217.4h75.9M1122.4 246.7h75.9M1122.4 269.4h75.9M1122.4 191.1h75.9M1122.4 259h75.9M1122.4 279.1h75.9M1122.4 254.1h75.9M1122.4 214.9h75.9M1122.4 251.6h75.9M1122.4 271.2h75.9M1122.4 259.3h75.9M1122.4 313.2h75.9" stroke="#fff" stroke-width="1" stroke-opacity="0.35" fill="none"/><path d="M1153.9 237.9h13M1156.1 534.8h8.5M1156 327.3h8.7M1156.9 579.5h6.9M1155.1 344.7h10.5M1155.3 395.7h10.1M1155.3 244.2h10M1157.8 670.6h5M1154.6 321.5h11.6M1157.4 523.7h5.9M1156.2 480h8.3M1154.4 269.5h11.9M1155 246.7h10.6M1155.2 225h10.3M1158 712.3h4.7M1158 719.1h4.7M1156 510.6h8.6M1157.6 553.8h5.4M1156.4 500.5h7.9M1156 278.4h8.7M1157.6 656.1h5.6M1155.1 285.3h10.5M1154.3 298.5h12M1157.1 452.3h6.4M1158 625.3h4.7M1156.6 332.6h7.5M1157.8 582.9h5.2M1157.2 466h6.3M1155.9 441.3h8.9M1156.5 471h7.6M1156.4 443.8h7.9M1157.4 504h5.9M1156.8 438.1h7.1M1156.9 651h6.8M1155.3 215.9h10.1M1156.9 562.8h6.9M1153.1 190.1h14.6M1157.9 693.8h4.9M1155.6 368.9h9.6M1158.1 691.2h4.6M1156.3 344.3h8.2M1156.8 521.9h7M1155.6 319.2h9.5M1154.5 198.6h11.7M1157.8 715h5.1M1154.4 333.6h12M1156.3 374.8h8M1155 198.8h10.6M1155.7 288.1h9.2M1157.9 655.1h4.9M1155 315.1h10.7M1158 679.2h4.7M1157.4 594.5h5.8M1156.4 485.3h8M1157.4 692.9h5.8M1155.7 456.4h9.3M1156.1 379.3h8.6M1157.8 702.5h5.2M1157.5 600.9h5.6M1157.5 678.2h5.6" stroke="#f9c3ac" stroke-width="1" stroke-opacity="0.44999999999999996" fill="none"/>
</g>
<line x1="1121.8" y1="174" x2="1198.9" y2="174" stroke="#000" stroke-width="2.2"/>
<line x1="1122.4" y1="173.7" x2="1122.4" y2="726.3" stroke="#000" stroke-width="1.3"/>
<line x1="1121.9" y1="726.3" x2="1198.8" y2="726.3" stroke="#000" stroke-width="2.2"/>
<line x1="1122.4" y1="726.3" x2="1122.4" y2="733.3" stroke="#333" stroke-width="1"/>
<line x1="1160.3" y1="726.3" x2="1160.3" y2="733.3" stroke="#333" stroke-width="1"/>
<g clip-path="url(#c5)">
<rect x="1218.5" y="173.7" width="75.9" height="552.6" fill="url(#bgG)"/>
<rect x="1218.5" y="173.7" width="75.9" height="552.6" fill="url(#ts5)"/>
<path d="M1216.9 169.7L1227.8 171.9L1223.1 174.1L1230.7 176.3L1228 178.5L1220.1 180.7L1224 182.9L1224.1 185.1L1225 187.3L1224.5 189.5L1231.3 191.7L1237.3 193.9L1231.6 196.1L1235.7 198.3L1233.6 200.5L1233.5 202.7L1239.7 204.9L1233.5 207.1L1238.9 209.3L1237.9 211.5L1235.6 213.7L1241.3 215.9L1232.4 218.1L1235.4 220.3L1240.9 222.5L1241.1 224.7L1237.1 226.9L1238.5 229.1L1239.6 231.3L1235.3 233.5L1237.2 235.7L1242.4 237.9L1241 240.1L1236.4 242.3L1240.4 244.5L1235.9 246.7L1242.1 248.9L1243.2 251.1L1240.7 253.3L1238.6 255.5L1241.3 257.7L1236.9 259.9L1239.7 262.1L1242.1 264.3L1242.5 266.5L1240.8 268.7L1239.8 270.9L1238.6 273.1L1241.6 275.3L1237.8 277.5L1242.2 279.7L1237.7 281.9L1245 284.1L1238.4 286.3L1241 288.5L1243.5 290.7L1244.1 292.9L1244 295.1L1243.4 297.3L1238.9 299.5L1239.5 301.7L1244.8 303.9L1242.3 306.1L1242.1 308.3L1240.7 310.5L1243.9 312.7L1239.9 314.9L1243.6 317.1L1242.8 319.3L1241.4 321.5L1244.5 323.7L1242.1 325.9L1243 328.1L1239.1 330.3L1245 332.5L1243 334.7L1242.4 336.9L1245.4 339.1L1239.9 341.3L1244.9 343.5L1245.1 345.7L1240.8 347.9L1245 350.1L1243.7 352.3L1242.8 354.5L1244.4 356.7L1243.5 358.9L1243.6 361.1L1241.4 363.3L1241 365.5L1242.5 367.7L1244.5 369.9L1243 372.1L1244.5 374.3L1244.6 376.5L1242 378.7L1243 380.9L1240.4 383.1L1244.6 385.3L1241.6 387.5L1243.4 389.7L1243.3 391.9L1246.4 394.1L1246.6 396.3L1245.5 398.5L1244.8 400.7L1245.1 402.9L1244.7 405.1L1241 407.3L1243.8 409.5L1243.2 411.7L1244.4 413.9L1242.6 416.1L1241 418.3L1243.9 420.5L1246.1 422.7L1244.8 424.9L1245.1 427.1L1241.8 429.3L1245 431.5L1242.1 433.7L1244.8 435.9L1246.2 438.1L1244.6 440.3L1247.2 442.5L1243 444.7L1243.3 446.9L1242.8 449.1L1244.6 451.3L1243.6 453.5L1242.2 455.7L1244.9 457.9L1245.6 460.1L1244.8 462.3L1242.1 464.5L1247.2 466.7L1244.9 468.9L1243.7 471.1L1242.2 473.3L1245.9 475.5L1245.7 477.7L1245.8 479.9L1243.9 482.1L1246.8 484.3L1245.2 486.5L1247.4 488.7L1246.1 490.9L1245.1 493.1L1242.2 495.3L1246.9 497.5L1245.1 499.7L1242 501.9L1245.9 504.1L1244.4 506.3L1245.7 508.5L1245.3 510.7L1245 512.9L1242.6 515.1L1245.8 517.3L1242.5 519.5L1244.6 521.7L1243.3 523.9L1246.3 526.1L1246 528.3L1245 530.5L1244.3 532.7L1245.5 534.9L1246.3 537.1L1246.5 539.3L1245.6 541.5L1247 543.7L1242.4 545.9L1242.2 548.1L1242.1 550.3L1242.8 552.5L1247 554.7L1246.1 556.9L1246.5 559.1L1244.6 561.3L1246.5 563.5L1247.1 565.7L1242.9 567.9L1244.5 570.1L1246.3 572.3L1247.5 574.5L1242.5 576.7L1242.7 578.9L1244 581.1L1246.8 583.3L1244.3 585.5L1245.7 587.7L1243.5 589.9L1246.4 592.1L1242.4 594.3L1245.5 596.5L1246.8 598.7L1247.9 600.9L1246.2 603.1L1242.7 605.3L1247.5 607.5L1245.7 609.7L1244.2 611.9L1246.4 614.1L1245.2 616.3L1247.2 618.5L1246.5 620.7L1242.9 622.9L1244.2 625.1L1246.6 627.3L1242.5 629.5L1242.9 631.7L1244.7 633.9L1247.5 636.1L1243 638.3L1243.3 640.5L1245.4 642.7L1243.4 644.9L1242.9 647.1L1246.8 649.3L1246 651.5L1244.7 653.7L1247.4 655.9L1243.9 658.1L1244.5 660.3L1245.6 662.5L1244.3 664.7L1247 666.9L1244.9 669.1L1244 671.3L1246.8 673.5L1242.8 675.7L1247.3 677.9L1243.4 680.1L1243.1 682.3L1246.8 684.5L1242.6 686.7L1245.4 688.9L1247.2 691.1L1245.8 693.3L1244.3 695.5L1244.3 697.7L1243 699.9L1242.8 702.1L1247.8 704.3L1247.8 706.5L1243 708.7L1245.7 710.9L1244.3 713.1L1246.6 715.3L1242.6 717.5L1247.3 719.7L1245 721.9L1244.6 724.1L1244.9 726.3L1244 728.5L1267.8 728.5L1266.7 726.3L1267.1 724.1L1267.5 721.9L1269.3 719.7L1269.4 717.5L1265.3 715.3L1266.6 713.1L1267.6 710.9L1265.9 708.7L1270.3 706.5L1267 704.3L1266.9 702.1L1267.6 699.9L1266.7 697.7L1266.3 695.5L1267 693.3L1267.8 691.1L1270.2 688.9L1269.4 686.7L1269.2 684.5L1267.5 682.3L1270.4 680.1L1269.3 677.9L1270.4 675.7L1266.5 673.5L1270.2 671.3L1268.3 669.1L1268.8 666.9L1269 664.7L1268.9 662.5L1269.4 660.3L1269.6 658.1L1265.8 655.9L1266.7 653.7L1265.1 651.5L1265.1 649.3L1270.3 647.1L1270.2 644.9L1267.2 642.7L1270.4 640.5L1267.2 638.3L1266.7 636.1L1264.9 633.9L1265.8 631.7L1270.5 629.5L1265.5 627.3L1265.7 625.1L1267.4 622.9L1265.3 620.7L1269.3 618.5L1266 616.3L1266.3 614.1L1265.3 611.9L1266.8 609.7L1266.3 607.5L1269.9 605.3L1267.1 603.1L1269.8 600.9L1267.9 598.7L1267 596.5L1269.6 594.3L1270.3 592.1L1268.4 589.9L1266.6 587.7L1269.2 585.5L1265.2 583.3L1265.4 581.1L1267.5 578.9L1270.4 576.7L1270.7 574.5L1265.4 572.3L1269.8 570.1L1266.2 567.9L1268.2 565.7L1266.6 563.5L1268.5 561.3L1267.6 559.1L1265.6 556.9L1270.1 554.7L1270.1 552.5L1268.9 550.3L1270.8 548.1L1265.3 545.9L1268.1 543.7L1267.5 541.5L1270.7 539.3L1267.5 537.1L1267.3 534.9L1265.7 532.7L1266.2 530.5L1267.9 528.3L1266.9 526.1L1268.2 523.9L1268.2 521.7L1269.7 519.5L1268.7 517.3L1267.3 515.1L1267.7 512.9L1268.7 510.7L1266.2 508.5L1266.4 506.3L1266.5 504.1L1266.9 501.9L1269.8 499.7L1268 497.5L1268.9 495.3L1266.3 493.1L1269 490.9L1269.9 488.7L1268.3 486.5L1270.9 484.3L1266.5 482.1L1266.4 479.9L1270.5 477.7L1269.3 475.5L1267.3 473.3L1266.8 471.1L1267.4 468.9L1270.9 466.7L1265.5 464.5L1268.1 462.3L1270.2 460.1L1270.9 457.9L1268 455.7L1269 453.5L1268.4 451.3L1270.2 449.1L1268.3 446.9L1271.2 444.7L1267.7 442.5L1271.4 440.3L1269.2 438.1L1267.8 435.9L1270.1 433.7L1267.7 431.5L1269.7 429.3L1270 427.1L1268 424.9L1267.6 422.7L1270.4 420.5L1270.6 418.3L1271.4 416.1L1265.9 413.9L1268.5 411.7L1268.6 409.5L1268.4 407.3L1269.8 405.1L1266.9 402.9L1269.3 400.7L1268.6 398.5L1266.4 396.3L1270.9 394.1L1268 391.9L1269.6 389.7L1266.7 387.5L1269.6 385.3L1268.1 383.1L1272.4 380.9L1270 378.7L1271.2 376.5L1270.6 374.3L1269.2 372.1L1272.3 369.9L1267.5 367.7L1270.8 365.5L1268.6 363.3L1271.8 361.1L1271.2 358.9L1268.3 356.7L1270.2 354.5L1266.7 352.3L1267.9 350.1L1271.4 347.9L1272.7 345.7L1267.9 343.5L1268.4 341.3L1268.6 339.1L1268.1 336.9L1270.5 334.7L1272.6 332.5L1267.8 330.3L1271.2 328.1L1268.3 325.9L1268.5 323.7L1267.8 321.5L1270 319.3L1267.7 317.1L1273.5 314.9L1267.7 312.7L1269.9 310.5L1270.6 308.3L1269.7 306.1L1267.9 303.9L1268.6 301.7L1272.6 299.5L1269.6 297.3L1272.3 295.1L1268.5 292.9L1274.1 290.7L1271.2 288.5L1268 286.3L1269.9 284.1L1273 281.9L1269.2 279.7L1269.5 277.5L1273.1 275.3L1270.3 273.1L1269.4 270.9L1275.4 268.7L1276 266.5L1275.1 264.3L1276.5 262.1L1275 259.9L1270.2 257.7L1269 255.5L1271.3 253.3L1269.4 251.1L1269.2 248.9L1274.3 246.7L1272.4 244.5L1274.4 242.3L1276.8 240.1L1271.2 237.9L1278.5 235.7L1277.3 233.5L1277.2 231.3L1270.9 229.1L1272 226.9L1273.1 224.7L1278.7 222.5L1273.8 220.3L1280.5 218.1L1274.1 215.9L1274.6 213.7L1274 211.5L1272.6 209.3L1282.9 207.1L1282.3 204.9L1282.8 202.7L1279.8 200.5L1281.3 198.3L1276.9 196.1L1284.8 193.9L1277.1 191.7L1284.9 189.5L1283.3 187.3L1279.3 185.1L1278.8 182.9L1285.5 180.7L1291.3 178.5L1292.7 176.3L1284.5 174.1L1287.1 171.9L1297.2 169.7z" fill="url(#g5_0)" filter="url(#hb2)"/>
<path d="M1231.3 169.7L1227.5 171.9L1239.1 174.1L1229.3 176.3L1236.8 178.5L1237.6 180.7L1234.7 182.9L1237.3 185.1L1243.4 187.3L1243.3 189.5L1243.6 191.7L1242.2 193.9L1243.2 196.1L1244.8 198.3L1236.5 200.5L1244.8 202.7L1239.6 204.9L1242.5 207.1L1241.3 209.3L1243.3 211.5L1241.2 213.7L1239.5 215.9L1247.4 218.1L1241.3 220.3L1243.9 222.5L1243.4 224.7L1243.1 226.9L1242.5 229.1L1243.1 231.3L1243.2 233.5L1248.8 235.7L1244.9 237.9L1248.6 240.1L1245 242.3L1245 244.5L1242.8 246.7L1245 248.9L1246.7 251.1L1247.8 253.3L1246 255.5L1245 257.7L1245.5 259.9L1250 262.1L1243.7 264.3L1245.2 266.5L1248.9 268.7L1247.1 270.9L1246.1 273.1L1249 275.3L1244.2 277.5L1250 279.7L1247.8 281.9L1246.1 284.1L1248.3 286.3L1247.5 288.5L1250.3 290.7L1245.7 292.9L1246.9 295.1L1248.7 297.3L1245.2 299.5L1249.8 301.7L1245 303.9L1246.3 306.1L1246 308.3L1248.4 310.5L1246.2 312.7L1248.4 314.9L1250.8 317.1L1250.7 319.3L1248.8 321.5L1246.3 323.7L1246.7 325.9L1248.9 328.1L1249.3 330.3L1248.9 332.5L1250.5 334.7L1249.9 336.9L1250.6 339.1L1250.2 341.3L1247.8 343.5L1246.1 345.7L1247.9 347.9L1250.2 350.1L1246.6 352.3L1250 354.5L1246.8 356.7L1247.4 358.9L1248.4 361.1L1247.8 363.3L1250 365.5L1249.2 367.7L1250.6 369.9L1248 372.1L1248.2 374.3L1248.3 376.5L1249.3 378.7L1251.2 380.9L1249 383.1L1250.6 385.3L1250.5 387.5L1251.5 389.7L1249.5 391.9L1249.4 394.1L1249.2 396.3L1247.4 398.5L1249.5 400.7L1250.5 402.9L1249.4 405.1L1251.2 407.3L1247.6 409.5L1248.7 411.7L1247.4 413.9L1251.5 416.1L1250.1 418.3L1252 420.5L1249.7 422.7L1250.9 424.9L1250 427.1L1251.9 429.3L1250.4 431.5L1248.6 433.7L1251.3 435.9L1248.4 438.1L1247.7 440.3L1251.6 442.5L1250.5 444.7L1249.7 446.9L1248.7 449.1L1249.6 451.3L1248.6 453.5L1250.5 455.7L1251.3 457.9L1250.5 460.1L1251.5 462.3L1249 464.5L1252.1 466.7L1248.4 468.9L1251.4 471.1L1249.3 473.3L1250.5 475.5L1252.2 477.7L1251.9 479.9L1249.8 482.1L1248.7 484.3L1248.1 486.5L1251.3 488.7L1248 490.9L1249.1 493.1L1251.4 495.3L1248 497.5L1249 499.7L1252.3 501.9L1250.1 504.1L1251.7 506.3L1249.2 508.5L1248.7 510.7L1251.7 512.9L1248.5 515.1L1249.4 517.3L1248.3 519.5L1248.8 521.7L1249.5 523.9L1248.9 526.1L1250.7 528.3L1251.9 530.5L1252.4 532.7L1250.2 534.9L1250.3 537.1L1250.8 539.3L1250.3 541.5L1252.2 543.7L1249.3 545.9L1248.7 548.1L1251.5 550.3L1250.1 552.5L1251.9 554.7L1251.1 556.9L1249.3 559.1L1251.1 561.3L1250.5 563.5L1250.9 565.7L1251.6 567.9L1252.5 570.1L1249 572.3L1250.3 574.5L1250.5 576.7L1250.3 578.9L1251 581.1L1251.4 583.3L1251.6 585.5L1250.5 587.7L1248.5 589.9L1250.2 592.1L1251.9 594.3L1249 596.5L1252.5 598.7L1250.7 600.9L1252.5 603.1L1252 605.3L1250.2 607.5L1250.5 609.7L1250.8 611.9L1249.9 614.1L1251.6 616.3L1250.2 618.5L1252.6 620.7L1251.2 622.9L1249.5 625.1L1252.1 627.3L1251.6 629.5L1252.5 631.7L1249.2 633.9L1252.6 636.1L1251.5 638.3L1252.1 640.5L1251.2 642.7L1250 644.9L1250.4 647.1L1252.2 649.3L1252.1 651.5L1249.2 653.7L1250.4 655.9L1249.3 658.1L1249.9 660.3L1251.7 662.5L1251.4 664.7L1251 666.9L1249.2 669.1L1252.5 671.3L1250.5 673.5L1251.7 675.7L1251.5 677.9L1250.3 680.1L1249.1 682.3L1248.8 684.5L1249.5 686.7L1251 688.9L1249.2 691.1L1249.3 693.3L1250.2 695.5L1251.9 697.7L1251.5 699.9L1252.7 702.1L1251.5 704.3L1252.3 706.5L1248.8 708.7L1250.6 710.9L1249.5 713.1L1249.9 715.3L1251.7 717.5L1249.3 719.7L1252.4 721.9L1252.5 724.1L1249.8 726.3L1250.5 728.5L1263.4 728.5L1264.1 726.3L1264 724.1L1262.5 721.9L1263.9 719.7L1263.5 717.5L1261.7 715.3L1263.4 713.1L1262.2 710.9L1263.8 708.7L1262.1 706.5L1263.8 704.3L1263.5 702.1L1260.3 699.9L1261.8 697.7L1260.5 695.5L1263.7 693.3L1263 691.1L1263.9 688.9L1260.6 686.7L1263.4 684.5L1262.8 682.3L1260.9 680.1L1263.2 677.9L1261.2 675.7L1262 673.5L1262.3 671.3L1260.6 669.1L1264.1 666.9L1263.3 664.7L1262.2 662.5L1263.9 660.3L1263.1 658.1L1263.1 655.9L1261.2 653.7L1263.6 651.5L1261.4 649.3L1263.6 647.1L1261.8 644.9L1261.1 642.7L1263.2 640.5L1260.3 638.3L1261.3 636.1L1263.5 633.9L1260.4 631.7L1262.6 629.5L1263.7 627.3L1262.5 625.1L1262.7 622.9L1263.5 620.7L1263.9 618.5L1261.7 616.3L1262.6 614.1L1262.1 611.9L1260.8 609.7L1261.8 607.5L1261.6 605.3L1261.4 603.1L1261.2 600.9L1263.5 598.7L1262.2 596.5L1260.7 594.3L1262.3 592.1L1264.1 589.9L1262 587.7L1263.7 585.5L1263.8 583.3L1263.4 581.1L1260.8 578.9L1263.1 576.7L1263.9 574.5L1262.3 572.3L1263.7 570.1L1262 567.9L1261.9 565.7L1264 563.5L1260.7 561.3L1262.7 559.1L1261.7 556.9L1264.5 554.7L1261.7 552.5L1262.8 550.3L1263 548.1L1264.5 545.9L1261.3 543.7L1264.5 541.5L1260.5 539.3L1263.4 537.1L1263.1 534.9L1262 532.7L1262.1 530.5L1261.8 528.3L1263.2 526.1L1262.3 523.9L1264.6 521.7L1262.4 519.5L1262.4 517.3L1261.5 515.1L1261.1 512.9L1263.3 510.7L1260.9 508.5L1261.6 506.3L1262.8 504.1L1264.7 501.9L1264.9 499.7L1261.9 497.5L1260.8 495.3L1263.6 493.1L1261.1 490.9L1261.6 488.7L1261.4 486.5L1261.5 484.3L1263.1 482.1L1262.8 479.9L1263.5 477.7L1263.3 475.5L1263.2 473.3L1262 471.1L1264.5 468.9L1263.8 466.7L1263.9 464.5L1263.4 462.3L1260.9 460.1L1264.5 457.9L1260.8 455.7L1262.4 453.5L1262.2 451.3L1261.1 449.1L1261.9 446.9L1262.3 444.7L1264.8 442.5L1262.6 440.3L1261.8 438.1L1263.4 435.9L1260.9 433.7L1263.4 431.5L1261.2 429.3L1264.8 427.1L1263.3 424.9L1263.1 422.7L1262.9 420.5L1261.1 418.3L1265 416.1L1262.1 413.9L1264.9 411.7L1264.5 409.5L1265.6 407.3L1261.3 405.1L1262.8 402.9L1265.6 400.7L1261.9 398.5L1261.3 396.3L1261.4 394.1L1262.2 391.9L1262.2 389.7L1261.8 387.5L1263.6 385.3L1265.7 383.1L1265.7 380.9L1265.5 378.7L1262.4 376.5L1264.8 374.3L1264.4 372.1L1265.1 369.9L1262.1 367.7L1264.2 365.5L1264.5 363.3L1264.3 361.1L1262.6 358.9L1265.7 356.7L1266 354.5L1263.3 352.3L1264.7 350.1L1262.5 347.9L1264.9 345.7L1263 343.5L1264.9 341.3L1263.3 339.1L1266.8 336.9L1267 334.7L1262.7 332.5L1263.8 330.3L1263.7 328.1L1264.2 325.9L1264.1 323.7L1263.6 321.5L1263.1 319.3L1267.1 317.1L1267.1 314.9L1267.6 312.7L1263.4 310.5L1267.2 308.3L1267.5 306.1L1263.5 303.9L1262.9 301.7L1264.2 299.5L1266.4 297.3L1263.6 295.1L1265.4 292.9L1266.2 290.7L1266.5 288.5L1263.6 286.3L1263.5 284.1L1267.8 281.9L1262.5 279.7L1267.4 277.5L1262.9 275.3L1267.4 273.1L1264.2 270.9L1266.5 268.7L1265.2 266.5L1268.7 264.3L1269 262.1L1265.9 259.9L1266.6 257.7L1263.5 255.5L1268 253.3L1263.4 251.1L1265.6 248.9L1266.8 246.7L1264.1 244.5L1267.9 242.3L1267.6 240.1L1265.9 237.9L1267 235.7L1269.1 233.5L1264.1 231.3L1268.1 229.1L1265.8 226.9L1268.1 224.7L1266.9 222.5L1269.8 220.3L1273.1 218.1L1266.7 215.9L1273.7 213.7L1266.8 211.5L1272.4 209.3L1269.2 207.1L1270.6 204.9L1266.9 202.7L1273 200.5L1273.9 198.3L1274.7 196.1L1271.9 193.9L1272 191.7L1277.9 189.5L1271.6 187.3L1275.4 185.1L1277.5 182.9L1280.1 180.7L1277.7 178.5L1278.5 176.3L1285.5 174.1L1280.5 171.9L1283.8 169.7z" fill="url(#g5_1)" filter="url(#hb)"/>
<rect x="1218.5" y="173.7" width="75.9" height="552.6" filter="url(#nG)" mask="url(#mG)" opacity="1.0"/>
<rect x="1218.5" y="173.7" width="75.9" height="552.6" filter="url(#wG)"/>
<path d="M1218.5 176.8h75.9M1218.5 180.3h75.9M1218.5 200.1h75.9M1218.5 230.4h75.9M1218.5 181.6h75.9M1218.5 180.3h75.9M1218.5 187.3h75.9M1218.5 239.3h75.9M1218.5 182.1h75.9M1218.5 237.3h75.9M1218.5 227.9h75.9M1218.5 181.5h75.9M1218.5 213.9h75.9M1218.5 205.2h75.9M1218.5 201.9h75.9M1218.5 271.2h75.9M1218.5 179.4h75.9M1218.5 177h75.9M1218.5 263.3h75.9M1218.5 201h75.9M1218.5 185.1h75.9M1218.5 194.7h75.9" stroke="#0e7a30" stroke-width="1" stroke-opacity="0.3" fill="none"/>
</g>
<line x1="1217.9" y1="174" x2="1295" y2="174" stroke="#000" stroke-width="2.2"/>
<line x1="1218.5" y1="173.7" x2="1218.5" y2="726.3" stroke="#000" stroke-width="1.3"/>
<line x1="1294.4" y1="173.7" x2="1294.4" y2="726.3" stroke="#000" stroke-width="1.3"/>
<line x1="1218" y1="726.3" x2="1294.9" y2="726.3" stroke="#000" stroke-width="2.2"/>
<line x1="1218.5" y1="726.3" x2="1218.5" y2="733.3" stroke="#333" stroke-width="1"/>
<line x1="1256.5" y1="726.3" x2="1256.5" y2="733.3" stroke="#333" stroke-width="1"/>
<line x1="1294.4" y1="726.3" x2="1294.4" y2="733.3" stroke="#333" stroke-width="1"/>
<g clip-path="url(#c6)">
<rect x="1300.5" y="173.7" width="75.9" height="552.6" fill="url(#bgG)"/>
<rect x="1300.5" y="173.7" width="75.9" height="552.6" fill="url(#ts6)"/>
<path d="M1310.9 169.7L1310 171.9L1301.2 174.1L1305.5 176.3L1303.6 178.5L1311.8 180.7L1316.1 182.9L1311.7 185.1L1312.1 187.3L1308.3 189.5L1307.5 191.7L1319.7 193.9L1309.3 196.1L1312.2 198.3L1320.4 200.5L1317.1 202.7L1314.5 204.9L1316.1 207.1L1312.6 209.3L1315 211.5L1317.3 213.7L1323 215.9L1318.3 218.1L1318.8 220.3L1322.9 222.5L1323.2 224.7L1315.7 226.9L1323.4 229.1L1324.5 231.3L1323.3 233.5L1319.5 235.7L1325 237.9L1324.5 240.1L1325.3 242.3L1324 244.5L1317.7 246.7L1325 248.9L1320 251.1L1318 253.3L1318.3 255.5L1323 257.7L1319.3 259.9L1318.5 262.1L1320.8 264.3L1322.2 266.5L1322.9 268.7L1323.8 270.9L1321.1 273.1L1320.3 275.3L1321.9 277.5L1324.9 279.7L1323.8 281.9L1324.3 284.1L1322.9 286.3L1326.2 288.5L1323 290.7L1324.3 292.9L1323.4 295.1L1325.9 297.3L1324 299.5L1324.3 301.7L1322.1 303.9L1325.9 306.1L1325.6 308.3L1322.4 310.5L1322.1 312.7L1327 314.9L1326.4 317.1L1325.4 319.3L1325.9 321.5L1324.9 323.7L1325.3 325.9L1323.6 328.1L1325 330.3L1322.7 332.5L1324.4 334.7L1327.8 336.9L1325.5 339.1L1322.3 341.3L1324.2 343.5L1322.8 345.7L1327.7 347.9L1326.6 350.1L1325 352.3L1322 354.5L1326.5 356.7L1326.2 358.9L1326.6 361.1L1324.5 363.3L1322.5 365.5L1325.3 367.7L1327.4 369.9L1326.6 372.1L1323.4 374.3L1325.6 376.5L1323.3 378.7L1322.7 380.9L1323.8 383.1L1324.5 385.3L1322.5 387.5L1326.8 389.7L1327.8 391.9L1326.2 394.1L1328.5 396.3L1327.1 398.5L1325.8 400.7L1325.9 402.9L1323.8 405.1L1327.7 407.3L1328 409.5L1326.2 411.7L1323.8 413.9L1327.9 416.1L1326 418.3L1327.9 420.5L1326.5 422.7L1328.6 424.9L1324.1 427.1L1327.1 429.3L1325.8 431.5L1323.8 433.7L1323.5 435.9L1324.4 438.1L1326.5 440.3L1326 442.5L1325.8 444.7L1324.3 446.9L1324.2 449.1L1329.3 451.3L1329.2 453.5L1328.2 455.7L1324.6 457.9L1328.8 460.1L1328.2 462.3L1324 464.5L1327.5 466.7L1324.5 468.9L1324.5 471.1L1324.7 473.3L1323.8 475.5L1325.1 477.7L1327.6 479.9L1328.8 482.1L1329 484.3L1325.9 486.5L1324.8 488.7L1326 490.9L1325.3 493.1L1325.2 495.3L1328.3 497.5L1327.9 499.7L1324.9 501.9L1324 504.1L1325.1 506.3L1326 508.5L1328.4 510.7L1326.3 512.9L1325.2 515.1L1326.5 517.3L1328 519.5L1328.3 521.7L1324.8 523.9L1326.7 526.1L1327.9 528.3L1326.4 530.5L1328.7 532.7L1324.8 534.9L1324.4 537.1L1328.4 539.3L1326.6 541.5L1329.7 543.7L1324.8 545.9L1328.9 548.1L1329 550.3L1326.3 552.5L1324.4 554.7L1326.5 556.9L1324.6 559.1L1328 561.3L1329.7 563.5L1326.6 565.7L1327.6 567.9L1327.8 570.1L1327.5 572.3L1325.5 574.5L1326.3 576.7L1328.8 578.9L1329.3 581.1L1328.3 583.3L1327.9 585.5L1325.1 587.7L1328.4 589.9L1327.8 592.1L1325.9 594.3L1327.7 596.5L1327.9 598.7L1324.4 600.9L1325.5 603.1L1328 605.3L1328.8 607.5L1325.1 609.7L1327 611.9L1326.3 614.1L1328.3 616.3L1326.5 618.5L1326.8 620.7L1325.5 622.9L1326 625.1L1327.6 627.3L1328.1 629.5L1327.6 631.7L1329.6 633.9L1326 636.1L1327.2 638.3L1328.2 640.5L1326 642.7L1324.5 644.9L1329.7 647.1L1327.4 649.3L1329.1 651.5L1326.6 653.7L1329.8 655.9L1326.7 658.1L1328.8 660.3L1325.7 662.5L1326.2 664.7L1326.1 666.9L1329.5 669.1L1329.5 671.3L1327 673.5L1325 675.7L1324.9 677.9L1329.8 680.1L1329.7 682.3L1327.2 684.5L1328.2 686.7L1328.7 688.9L1329.7 691.1L1324.9 693.3L1329.5 695.5L1328.2 697.7L1329.6 699.9L1325 702.1L1326.5 704.3L1325.3 706.5L1329.2 708.7L1325.3 710.9L1325.4 713.1L1327.5 715.3L1329.2 717.5L1329.3 719.7L1326.9 721.9L1324.9 724.1L1328.6 726.3L1329.6 728.5L1352.1 728.5L1350.4 726.3L1352 724.1L1348.5 721.9L1350 719.7L1351.3 717.5L1348.9 715.3L1351.5 713.1L1347.5 710.9L1347.2 708.7L1347.2 706.5L1349.3 704.3L1352.3 702.1L1350 699.9L1350.2 697.7L1350.2 695.5L1350.7 693.3L1349.4 691.1L1350.5 688.9L1350.5 686.7L1348.1 684.5L1349.2 682.3L1350 680.1L1350.5 677.9L1350.7 675.7L1347.7 673.5L1352.3 671.3L1351.2 669.1L1348.9 666.9L1347.9 664.7L1352.4 662.5L1348.2 660.3L1350.9 658.1L1348.5 655.9L1349.8 653.7L1350.5 651.5L1350.4 649.3L1347.4 647.1L1351.6 644.9L1349 642.7L1350 640.5L1351.4 638.3L1347.2 636.1L1347.4 633.9L1348.3 631.7L1352.2 629.5L1351.1 627.3L1348.4 625.1L1350.8 622.9L1349.5 620.7L1348 618.5L1350.8 616.3L1351.5 614.1L1351.4 611.9L1347.2 609.7L1349.8 607.5L1350 605.3L1349.6 603.1L1347.9 600.9L1347.5 598.7L1351.6 596.5L1352.3 594.3L1350.6 592.1L1349.3 589.9L1350.9 587.7L1350 585.5L1347.9 583.3L1350.8 581.1L1349.7 578.9L1347.7 576.7L1349.2 574.5L1348 572.3L1351 570.1L1348.9 567.9L1351.8 565.7L1347.2 563.5L1347.8 561.3L1349.5 559.1L1351.9 556.9L1351.4 554.7L1347.8 552.5L1347.5 550.3L1349 548.1L1350.3 545.9L1350.9 543.7L1348 541.5L1352.4 539.3L1351.4 537.1L1352.7 534.9L1348.9 532.7L1348.7 530.5L1350.7 528.3L1350.6 526.1L1351.9 523.9L1351.2 521.7L1351.6 519.5L1348.3 517.3L1347.2 515.1L1350.7 512.9L1352.3 510.7L1347.9 508.5L1351.3 506.3L1352 504.1L1349.4 501.9L1350.4 499.7L1348.4 497.5L1349.6 495.3L1353 493.1L1352.7 490.9L1349.9 488.7L1351.8 486.5L1353 484.3L1350.1 482.1L1351.1 479.9L1350 477.7L1347.8 475.5L1352.6 473.3L1352.9 471.1L1348.5 468.9L1348.3 466.7L1351.8 464.5L1349.1 462.3L1353.1 460.1L1350.4 457.9L1348.7 455.7L1350.4 453.5L1353 451.3L1348.6 449.1L1348.2 446.9L1351.5 444.7L1353.2 442.5L1349.8 440.3L1353.5 438.1L1352.9 435.9L1352.6 433.7L1352.1 431.5L1348.9 429.3L1352.8 427.1L1350.4 424.9L1352.5 422.7L1349.7 420.5L1350.7 418.3L1349.8 416.1L1348.6 413.9L1350 411.7L1348.3 409.5L1352.5 407.3L1352.4 405.1L1353 402.9L1350.7 400.7L1349 398.5L1352.4 396.3L1352.4 394.1L1353.9 391.9L1354 389.7L1350.6 387.5L1353.1 385.3L1348.6 383.1L1348.5 380.9L1350 378.7L1349.1 376.5L1349.2 374.3L1350.6 372.1L1349.4 369.9L1352.5 367.7L1352.2 365.5L1353.1 363.3L1351.4 361.1L1353.9 358.9L1352.7 356.7L1352.6 354.5L1349.3 352.3L1348.9 350.1L1353 347.9L1355.1 345.7L1351 343.5L1355.3 341.3L1350.1 339.1L1355.3 336.9L1349.4 334.7L1355 332.5L1349.7 330.3L1355 328.1L1353.6 325.9L1349.1 323.7L1350.8 321.5L1351.8 319.3L1350.1 317.1L1353.9 314.9L1351.7 312.7L1355 310.5L1352.2 308.3L1354.8 306.1L1355.7 303.9L1354.1 301.7L1350.6 299.5L1355.4 297.3L1355.1 295.1L1351.5 292.9L1357.1 290.7L1350.7 288.5L1356 286.3L1350 284.1L1351.3 281.9L1352.1 279.7L1351.4 277.5L1356.4 275.3L1356.8 273.1L1357 270.9L1356.7 268.7L1354.4 266.5L1355.6 264.3L1356.4 262.1L1351.8 259.9L1354.3 257.7L1355 255.5L1352.2 253.3L1355.8 251.1L1352.7 248.9L1355.1 246.7L1351.6 244.5L1356.2 242.3L1355.6 240.1L1358.9 237.9L1352.8 235.7L1357.9 233.5L1353.7 231.3L1359.4 229.1L1355.1 226.9L1352.9 224.7L1358.8 222.5L1358.8 220.3L1355 218.1L1359.6 215.9L1355.8 213.7L1362.2 211.5L1359.9 209.3L1358.5 207.1L1354.9 204.9L1358.7 202.7L1357.3 200.5L1363.9 198.3L1358.6 196.1L1364.6 193.9L1366.1 191.7L1370.5 189.5L1369.9 187.3L1366.4 185.1L1360.8 182.9L1362.6 180.7L1369 178.5L1376 176.3L1372.6 174.1L1373.9 171.9L1369.8 169.7z" fill="url(#g6_0)" filter="url(#hb2)"/>
<path d="M1316.2 169.7L1320.6 171.9L1314.5 174.1L1313.7 176.3L1312.8 178.5L1325.1 180.7L1319.9 182.9L1325.7 185.1L1317.3 187.3L1317.5 189.5L1321.6 191.7L1317.8 193.9L1323.9 196.1L1324.9 198.3L1323.3 200.5L1324.6 202.7L1327.7 204.9L1322 207.1L1329.3 209.3L1321.2 211.5L1328 213.7L1322.7 215.9L1323.4 218.1L1326.1 220.3L1328.6 222.5L1322.7 224.7L1326.3 226.9L1326.1 229.1L1326.7 231.3L1329.8 233.5L1328.5 235.7L1327.2 237.9L1327.8 240.1L1329.9 242.3L1327.6 244.5L1325.2 246.7L1327.1 248.9L1330.3 251.1L1330 253.3L1329.5 255.5L1327.8 257.7L1328.2 259.9L1331.6 262.1L1325.5 264.3L1327.5 266.5L1332 268.7L1326.8 270.9L1330.2 273.1L1328.1 275.3L1327.1 277.5L1328.1 279.7L1330 281.9L1330.1 284.1L1331.2 286.3L1327.2 288.5L1326.7 290.7L1327.8 292.9L1330.4 295.1L1328.6 297.3L1328.9 299.5L1327 301.7L1332.8 303.9L1330.5 306.1L1330.1 308.3L1332.6 310.5L1330.3 312.7L1331.4 314.9L1328.9 317.1L1329.4 319.3L1328.5 321.5L1329.7 323.7L1327.8 325.9L1331.8 328.1L1331.1 330.3L1327.9 332.5L1330 334.7L1332.9 336.9L1328.6 339.1L1330.3 341.3L1331 343.5L1328.7 345.7L1329.8 347.9L1331.9 350.1L1333.3 352.3L1329.1 354.5L1333.1 356.7L1333.4 358.9L1331.7 361.1L1330.6 363.3L1329.9 365.5L1330.3 367.7L1333.5 369.9L1330.9 372.1L1330.8 374.3L1329.4 376.5L1329.9 378.7L1331.5 380.9L1330.3 383.1L1332 385.3L1331.9 387.5L1329.7 389.7L1329.7 391.9L1330.5 394.1L1333.2 396.3L1329.7 398.5L1333.1 400.7L1333.1 402.9L1332 405.1L1329.9 407.3L1330.1 409.5L1330.6 411.7L1333.7 413.9L1330.3 416.1L1329.2 418.3L1329.7 420.5L1332.2 422.7L1329.5 424.9L1330.6 427.1L1331.4 429.3L1330.1 431.5L1329.7 433.7L1329.5 435.9L1331.4 438.1L1330 440.3L1332.2 442.5L1332.9 444.7L1332.4 446.9L1333.2 449.1L1333.4 451.3L1330.4 453.5L1330.5 455.7L1330.6 457.9L1331.6 460.1L1331.1 462.3L1330.2 464.5L1333.2 466.7L1331.8 468.9L1331.5 471.1L1333.3 473.3L1333 475.5L1331.9 477.7L1332.1 479.9L1331.3 482.1L1331.4 484.3L1332.5 486.5L1330.4 488.7L1330.6 490.9L1334.3 493.1L1330.4 495.3L1333.5 497.5L1330.3 499.7L1333.1 501.9L1334 504.1L1334.4 506.3L1330.3 508.5L1331.9 510.7L1331.7 512.9L1332.9 515.1L1330.2 517.3L1333.9 519.5L1332.5 521.7L1332 523.9L1331.5 526.1L1330.4 528.3L1333.9 530.5L1330.7 532.7L1333.1 534.9L1332.3 537.1L1331.2 539.3L1331.7 541.5L1331 543.7L1333.4 545.9L1333.3 548.1L1332.3 550.3L1330.6 552.5L1334.4 554.7L1332 556.9L1334.4 559.1L1332.6 561.3L1332.3 563.5L1331 565.7L1332 567.9L1333.2 570.1L1333 572.3L1331.8 574.5L1332.2 576.7L1332.7 578.9L1330.7 581.1L1332.9 583.3L1333 585.5L1333.7 587.7L1331.6 589.9L1330.9 592.1L1332.6 594.3L1332.8 596.5L1332 598.7L1331.7 600.9L1332 603.1L1332.3 605.3L1333.8 607.5L1333.6 609.7L1332.3 611.9L1332.3 614.1L1333.4 616.3L1333.8 618.5L1333.1 620.7L1330.7 622.9L1333.7 625.1L1333.2 627.3L1331.3 629.5L1333.5 631.7L1331.4 633.9L1333 636.1L1331 638.3L1331 640.5L1331.9 642.7L1334.5 644.9L1332.3 647.1L1333.2 649.3L1330.7 651.5L1331.2 653.7L1331.2 655.9L1331.4 658.1L1333 660.3L1331.9 662.5L1331.7 664.7L1333.6 666.9L1334.1 669.1L1333.7 671.3L1330.9 673.5L1334.4 675.7L1330.7 677.9L1332.2 680.1L1333.8 682.3L1333.7 684.5L1331.8 686.7L1334.1 688.9L1332.3 691.1L1334.1 693.3L1334.3 695.5L1333 697.7L1333.2 699.9L1332.8 702.1L1332.8 704.3L1332 706.5L1331.9 708.7L1331.3 710.9L1330.9 713.1L1331 715.3L1334 717.5L1333.1 719.7L1333.5 721.9L1331 724.1L1333 726.3L1331.6 728.5L1343.9 728.5L1346 726.3L1343.2 724.1L1345.3 721.9L1344.2 719.7L1344.3 717.5L1344.4 715.3L1345 713.1L1343.3 710.9L1345.3 708.7L1343.6 706.5L1344.9 704.3L1346.1 702.1L1342.5 699.9L1343.9 697.7L1345.8 695.5L1344.3 693.3L1344.4 691.1L1344.7 688.9L1342.4 686.7L1345.9 684.5L1342.9 682.3L1345.4 680.1L1343.4 677.9L1346 675.7L1344 673.5L1345.7 671.3L1344.8 669.1L1345.6 666.9L1344.8 664.7L1344.4 662.5L1344 660.3L1344 658.1L1343.7 655.9L1346.1 653.7L1345.7 651.5L1343.2 649.3L1344.4 647.1L1344.8 644.9L1344.6 642.7L1346.1 640.5L1345.6 638.3L1345.9 636.1L1343.4 633.9L1344.4 631.7L1344.9 629.5L1345.7 627.3L1344.3 625.1L1343.1 622.9L1344.4 620.7L1343.4 618.5L1345.7 616.3L1344.7 614.1L1345.3 611.9L1344.7 609.7L1343.3 607.5L1343.8 605.3L1345.7 603.1L1346.2 600.9L1344.9 598.7L1342.7 596.5L1346.3 594.3L1344.5 592.1L1342.9 589.9L1344.2 587.7L1344 585.5L1343.3 583.3L1344.8 581.1L1342.9 578.9L1346.2 576.7L1343.5 574.5L1342.8 572.3L1344.5 570.1L1342.5 567.9L1346.4 565.7L1342.4 563.5L1345.8 561.3L1343.5 559.1L1346 556.9L1344.6 554.7L1342.8 552.5L1344.5 550.3L1343.1 548.1L1345.7 545.9L1343.2 543.7L1345.1 541.5L1345.1 539.3L1342.6 537.1L1346.7 534.9L1343.6 532.7L1344.9 530.5L1344.6 528.3L1345.8 526.1L1342.6 523.9L1343.8 521.7L1345.1 519.5L1343.4 517.3L1344.9 515.1L1346.3 512.9L1346.1 510.7L1345.6 508.5L1345.5 506.3L1346.2 504.1L1345.6 501.9L1343.7 499.7L1343.2 497.5L1346.4 495.3L1343.1 493.1L1344.8 490.9L1345.5 488.7L1346.7 486.5L1346 484.3L1344 482.1L1345.7 479.9L1345.6 477.7L1344.8 475.5L1346.6 473.3L1345.8 471.1L1346.9 468.9L1344 466.7L1345.4 464.5L1346.2 462.3L1347.1 460.1L1347.2 457.9L1346.7 455.7L1343.5 453.5L1345.8 451.3L1344.5 449.1L1343.2 446.9L1346.7 444.7L1345.5 442.5L1344 440.3L1344.3 438.1L1347.4 435.9L1342.9 433.7L1343.3 431.5L1343.4 429.3L1347.6 427.1L1343 424.9L1347 422.7L1345.9 420.5L1347.2 418.3L1343.1 416.1L1345.9 413.9L1347 411.7L1346.1 409.5L1346.9 407.3L1345.2 405.1L1346.4 402.9L1344.2 400.7L1346.6 398.5L1345.1 396.3L1345.7 394.1L1346.7 391.9L1343.4 389.7L1343.6 387.5L1345.2 385.3L1347.2 383.1L1344.2 380.9L1343.4 378.7L1343.4 376.5L1344.2 374.3L1345.3 372.1L1346.5 369.9L1344 367.7L1345.5 365.5L1344.5 363.3L1347.6 361.1L1345 358.9L1346.4 356.7L1345.9 354.5L1344.7 352.3L1345.9 350.1L1344.9 347.9L1346.1 345.7L1346.2 343.5L1344.8 341.3L1344.1 339.1L1347.2 336.9L1346.3 334.7L1343.8 332.5L1348.5 330.3L1347.3 328.1L1345.2 325.9L1347.8 323.7L1346.8 321.5L1347.8 319.3L1346 317.1L1345.5 314.9L1348.1 312.7L1347.2 310.5L1349.3 308.3L1347.4 306.1L1346.6 303.9L1346.5 301.7L1349.8 299.5L1344.4 297.3L1350.2 295.1L1349 292.9L1347.2 290.7L1349.8 288.5L1345.5 286.3L1345.1 284.1L1347.5 281.9L1350.1 279.7L1348.4 277.5L1345.4 275.3L1346 273.1L1346.9 270.9L1347.4 268.7L1347.3 266.5L1351.2 264.3L1348.1 262.1L1347.1 259.9L1345.8 257.7L1349.1 255.5L1347.9 253.3L1348.2 251.1L1351.9 248.9L1346.1 246.7L1351.3 244.5L1348.5 242.3L1351.7 240.1L1351.8 237.9L1349.8 235.7L1351.3 233.5L1346 231.3L1353.7 229.1L1353.6 226.9L1347.4 224.7L1349 222.5L1350.8 220.3L1354.1 218.1L1355.2 215.9L1352.2 213.7L1352.6 211.5L1349.7 209.3L1353.8 207.1L1351.4 204.9L1356.1 202.7L1352.4 200.5L1355.7 198.3L1350.9 196.1L1359 193.9L1360.6 191.7L1358.8 189.5L1360.8 187.3L1356.3 185.1L1358.8 182.9L1360.8 180.7L1358.5 178.5L1362.4 176.3L1360 174.1L1366.6 171.9L1361.2 169.7z" fill="url(#g6_1)" filter="url(#hb)"/>
<rect x="1300.5" y="173.7" width="75.9" height="552.6" filter="url(#nG)" mask="url(#mG)" opacity="1.0"/>
<rect x="1300.5" y="173.7" width="75.9" height="552.6" filter="url(#wG)"/>
<path d="M1300.5 176.8h75.9M1300.5 180.3h75.9M1300.5 200.1h75.9M1300.5 230.4h75.9M1300.5 181.6h75.9M1300.5 180.3h75.9M1300.5 187.3h75.9M1300.5 239.3h75.9M1300.5 182.1h75.9M1300.5 237.3h75.9M1300.5 227.9h75.9M1300.5 181.5h75.9M1300.5 213.9h75.9M1300.5 205.2h75.9M1300.5 201.9h75.9M1300.5 271.2h75.9M1300.5 179.4h75.9M1300.5 177h75.9M1300.5 263.3h75.9M1300.5 201h75.9M1300.5 185.1h75.9M1300.5 194.7h75.9" stroke="#0e7a30" stroke-width="1" stroke-opacity="0.3" fill="none"/>
</g>
<line x1="1299.9" y1="174" x2="1377" y2="174" stroke="#000" stroke-width="2.2"/>
<line x1="1300.5" y1="173.7" x2="1300.5" y2="726.3" stroke="#000" stroke-width="1.3"/>
<line x1="1376.4" y1="173.7" x2="1376.4" y2="726.3" stroke="#000" stroke-width="1.3"/>
<line x1="1300" y1="726.3" x2="1376.9" y2="726.3" stroke="#000" stroke-width="2.2"/>
<line x1="1300.5" y1="726.3" x2="1300.5" y2="733.3" stroke="#333" stroke-width="1"/>
<line x1="1338.5" y1="726.3" x2="1338.5" y2="733.3" stroke="#333" stroke-width="1"/>
<line x1="1376.4" y1="726.3" x2="1376.4" y2="733.3" stroke="#333" stroke-width="1"/>
<g clip-path="url(#c7)">
<rect x="1382.5" y="173.7" width="76.3" height="552.6" fill="url(#bgG)"/>
<rect x="1382.5" y="173.7" width="76.3" height="552.6" fill="url(#ts7)"/>
<path d="M1388.6 169.7L1391.4 171.9L1396.4 174.1L1398.9 176.3L1401.1 178.5L1398.1 180.7L1396.3 182.9L1403 185.1L1398.3 187.3L1398.9 189.5L1402.6 191.7L1400.2 193.9L1400.4 196.1L1399.7 198.3L1405.5 200.5L1406 202.7L1405.7 204.9L1397.5 207.1L1400.4 209.3L1404.2 211.5L1406 213.7L1403.9 215.9L1399.7 218.1L1403.4 220.3L1401.2 222.5L1408 224.7L1400.5 226.9L1407.8 229.1L1407.5 231.3L1408 233.5L1404.4 235.7L1403.9 237.9L1406.2 240.1L1408.1 242.3L1404 244.5L1408.5 246.7L1402.8 248.9L1406.6 251.1L1407.3 253.3L1404.8 255.5L1408.5 257.7L1403.1 259.9L1407.4 262.1L1404.1 264.3L1406.6 266.5L1409.7 268.7L1403.3 270.9L1408 273.1L1406.1 275.3L1406.2 277.5L1409 279.7L1404.3 281.9L1409.9 284.1L1408.5 286.3L1409 288.5L1406.3 290.7L1407.1 292.9L1409.8 295.1L1407.7 297.3L1407.4 299.5L1403.8 301.7L1406.8 303.9L1407.9 306.1L1405.6 308.3L1407.8 310.5L1405.7 312.7L1408.2 314.9L1407.6 317.1L1407.4 319.3L1406.6 321.5L1406.8 323.7L1409.9 325.9L1409.3 328.1L1408.6 330.3L1404.8 332.5L1406.4 334.7L1405.1 336.9L1409 339.1L1407.6 341.3L1404.9 343.5L1405.2 345.7L1406.9 347.9L1405.8 350.1L1409.3 352.3L1406.3 354.5L1409.2 356.7L1407.9 358.9L1406.9 361.1L1405.3 363.3L1410.6 365.5L1407.5 367.7L1405.3 369.9L1410.7 372.1L1409.4 374.3L1405.9 376.5L1407.2 378.7L1405.6 380.9L1405.3 383.1L1410.6 385.3L1407.3 387.5L1405.3 389.7L1407.9 391.9L1407.5 394.1L1410.1 396.3L1405.7 398.5L1409.8 400.7L1410 402.9L1408.2 405.1L1410 407.3L1408.8 409.5L1405.6 411.7L1408.9 413.9L1408.1 416.1L1409.6 418.3L1408.7 420.5L1410.8 422.7L1406.4 424.9L1408.8 427.1L1406.8 429.3L1408.4 431.5L1409.2 433.7L1411.4 435.9L1406.7 438.1L1410.6 440.3L1407.8 442.5L1411.7 444.7L1406.1 446.9L1409.3 449.1L1410.6 451.3L1408.2 453.5L1411.3 455.7L1407 457.9L1408.9 460.1L1408 462.3L1411.1 464.5L1411.1 466.7L1410.8 468.9L1409.6 471.1L1411.4 473.3L1408 475.5L1409.3 477.7L1410 479.9L1406.6 482.1L1407.6 484.3L1411 486.5L1406.9 488.7L1409.7 490.9L1411.7 493.1L1408.3 495.3L1409.8 497.5L1406.4 499.7L1408.1 501.9L1411.1 504.1L1407.4 506.3L1410 508.5L1412 510.7L1410.4 512.9L1408.7 515.1L1411.8 517.3L1407.2 519.5L1408.1 521.7L1410.3 523.9L1410.7 526.1L1408.8 528.3L1406.9 530.5L1411.7 532.7L1408.5 534.9L1407.2 537.1L1407.3 539.3L1411.4 541.5L1409.6 543.7L1411.1 545.9L1406.6 548.1L1409.8 550.3L1411.2 552.5L1409.7 554.7L1407.6 556.9L1408.8 559.1L1407.8 561.3L1412.1 563.5L1409.5 565.7L1409.1 567.9L1411.8 570.1L1407.2 572.3L1408.6 574.5L1407.5 576.7L1409.3 578.9L1411.7 581.1L1406.5 583.3L1410.2 585.5L1410.3 587.7L1411 589.9L1408.7 592.1L1407.2 594.3L1408.3 596.5L1410.4 598.7L1410.6 600.9L1409.4 603.1L1412.1 605.3L1406.7 607.5L1410.5 609.7L1410.6 611.9L1410.7 614.1L1407.7 616.3L1406.7 618.5L1411.7 620.7L1411.3 622.9L1411.3 625.1L1412 627.3L1409.6 629.5L1408.8 631.7L1410.4 633.9L1408 636.1L1411.8 638.3L1410.6 640.5L1408.1 642.7L1409.2 644.9L1408 647.1L1411.7 649.3L1410.6 651.5L1407 653.7L1408.2 655.9L1410.3 658.1L1406.8 660.3L1411.2 662.5L1411.3 664.7L1410.3 666.9L1410.8 669.1L1409.4 671.3L1408.2 673.5L1412.1 675.7L1408 677.9L1408.7 680.1L1407 682.3L1411.6 684.5L1406.8 686.7L1407.5 688.9L1407 691.1L1409.6 693.3L1410.9 695.5L1407 697.7L1412.3 699.9L1410.7 702.1L1408.8 704.3L1411.8 706.5L1410.1 708.7L1410.4 710.9L1411.3 713.1L1411.9 715.3L1411.8 717.5L1411.6 719.7L1409.9 721.9L1409 724.1L1407.2 726.3L1412.3 728.5L1433.8 728.5L1431.1 726.3L1431.4 724.1L1434.5 721.9L1431.7 719.7L1430.5 717.5L1434.1 715.3L1430.4 713.1L1432.8 710.9L1433.9 708.7L1433.4 706.5L1431.8 704.3L1430.6 702.1L1429.8 699.9L1432.9 697.7L1432.1 695.5L1432.3 693.3L1429.5 691.1L1429.7 688.9L1432.3 686.7L1433.4 684.5L1431 682.3L1432 680.1L1431 677.9L1430.7 675.7L1433.6 673.5L1429.8 671.3L1433 669.1L1430.6 666.9L1433.3 664.7L1433.9 662.5L1430.7 660.3L1430 658.1L1433.9 655.9L1430.4 653.7L1429.2 651.5L1431.9 649.3L1434.5 647.1L1434.5 644.9L1433.9 642.7L1434.1 640.5L1430.9 638.3L1433 636.1L1430 633.9L1432.2 631.7L1431.3 629.5L1433 627.3L1433.3 625.1L1431.5 622.9L1434.1 620.7L1433.3 618.5L1433.7 616.3L1434.1 614.1L1432.9 611.9L1431.2 609.7L1430.3 607.5L1429.2 605.3L1429.7 603.1L1431.5 600.9L1430 598.7L1434.4 596.5L1429.5 594.3L1434 592.1L1431.4 589.9L1430.6 587.7L1430.1 585.5L1434.4 583.3L1431.4 581.1L1433 578.9L1433.1 576.7L1431.1 574.5L1429.2 572.3L1434.3 570.1L1433.3 567.9L1430.6 565.7L1434.7 563.5L1430.2 561.3L1432.1 559.1L1430.1 556.9L1433.9 554.7L1430.7 552.5L1433.9 550.3L1429.8 548.1L1432.8 545.9L1431.4 543.7L1431.6 541.5L1432.4 539.3L1432.2 537.1L1431.3 534.9L1434.6 532.7L1432.1 530.5L1430 528.3L1430.9 526.1L1433.3 523.9L1431.9 521.7L1434.5 519.5L1433.9 517.3L1434.2 515.1L1429.6 512.9L1430.8 510.7L1430.4 508.5L1432.9 506.3L1430.2 504.1L1433.4 501.9L1429.5 499.7L1432.3 497.5L1429.5 495.3L1433.6 493.1L1434.5 490.9L1430.5 488.7L1430.4 486.5L1432.8 484.3L1431 482.1L1433.7 479.9L1433.3 477.7L1433.4 475.5L1434.3 473.3L1435.3 471.1L1434.2 468.9L1430 466.7L1430.6 464.5L1432.1 462.3L1434.2 460.1L1431 457.9L1433.6 455.7L1433.3 453.5L1431.3 451.3L1430.1 449.1L1432.2 446.9L1430 444.7L1435.4 442.5L1434.7 440.3L1434.4 438.1L1435.5 435.9L1433.6 433.7L1435 431.5L1434 429.3L1432.6 427.1L1430.9 424.9L1430.4 422.7L1430.9 420.5L1430.2 418.3L1434.6 416.1L1430.5 413.9L1434.3 411.7L1435.8 409.5L1432.2 407.3L1430.5 405.1L1433.6 402.9L1434.4 400.7L1434.3 398.5L1431.2 396.3L1432.4 394.1L1431.4 391.9L1435.3 389.7L1430.2 387.5L1430.3 385.3L1430.8 383.1L1433.6 380.9L1432.4 378.7L1432.6 376.5L1430.7 374.3L1432.8 372.1L1431.2 369.9L1432.3 367.7L1431.3 365.5L1432.9 363.3L1431.9 361.1L1432.1 358.9L1434.2 356.7L1433 354.5L1431.9 352.3L1433.9 350.1L1433.7 347.9L1433.8 345.7L1435.2 343.5L1431.4 341.3L1433 339.1L1432.5 336.9L1436.2 334.7L1431.8 332.5L1434.5 330.3L1434.2 328.1L1436.4 325.9L1435.3 323.7L1431.6 321.5L1436.4 319.3L1436 317.1L1430.8 314.9L1436.4 312.7L1430.8 310.5L1433.1 308.3L1437.4 306.1L1435.5 303.9L1435.4 301.7L1433.6 299.5L1435.5 297.3L1432.2 295.1L1431.2 292.9L1431.6 290.7L1431.9 288.5L1435.1 286.3L1437.1 284.1L1431.6 281.9L1432.9 279.7L1433.1 277.5L1433.8 275.3L1436.4 273.1L1431.6 270.9L1435.2 268.7L1433.1 266.5L1435.6 264.3L1432.2 262.1L1437 259.9L1432.6 257.7L1433 255.5L1437.2 253.3L1439 251.1L1432.6 248.9L1436.3 246.7L1439.8 244.5L1434.1 242.3L1437.8 240.1L1432.8 237.9L1433.7 235.7L1434.9 233.5L1440.7 231.3L1438.8 229.1L1439.1 226.9L1441.1 224.7L1438.2 222.5L1438.6 220.3L1436.2 218.1L1435.3 215.9L1437 213.7L1439.2 211.5L1436.2 209.3L1435.5 207.1L1438.2 204.9L1439 202.7L1440.7 200.5L1439.4 198.3L1441.7 196.1L1436.6 193.9L1436.9 191.7L1439.3 189.5L1439.8 187.3L1447.9 185.1L1445.7 182.9L1445.6 180.7L1451.7 178.5L1451.4 176.3L1445.2 174.1L1446.1 171.9L1454.4 169.7z" fill="url(#g7_0)" filter="url(#hb2)"/>
<path d="M1399.1 169.7L1396.6 171.9L1401.6 174.1L1398.3 176.3L1398.2 178.5L1408.2 180.7L1400.5 182.9L1400.5 185.1L1403.3 187.3L1409.5 189.5L1411.1 191.7L1403.2 193.9L1406.8 196.1L1405.3 198.3L1408.3 200.5L1408.2 202.7L1409.2 204.9L1409.5 207.1L1411.3 209.3L1410.4 211.5L1409.4 213.7L1407.3 215.9L1409.6 218.1L1409.9 220.3L1408.9 222.5L1410.7 224.7L1408.4 226.9L1410.7 229.1L1412.4 231.3L1408.5 233.5L1409.6 235.7L1411.4 237.9L1414.2 240.1L1409.4 242.3L1411 244.5L1409.7 246.7L1411.6 248.9L1411.9 251.1L1409.6 253.3L1412.7 255.5L1411 257.7L1414.2 259.9L1410.7 262.1L1414.6 264.3L1412.2 266.5L1410.2 268.7L1412.2 270.9L1415.1 273.1L1409.6 275.3L1412.3 277.5L1413.9 279.7L1412.7 281.9L1413.1 284.1L1413 286.3L1413.8 288.5L1411.6 290.7L1413.2 292.9L1410 295.1L1415.1 297.3L1414.9 299.5L1412.4 301.7L1414.3 303.9L1414.5 306.1L1411.1 308.3L1415.5 310.5L1413.7 312.7L1415.6 314.9L1413.7 317.1L1415 319.3L1410.6 321.5L1413.3 323.7L1415.7 325.9L1413.3 328.1L1415.7 330.3L1411.5 332.5L1410.8 334.7L1411.4 336.9L1411.9 339.1L1412.1 341.3L1413.5 343.5L1415.7 345.7L1414.1 347.9L1414.9 350.1L1414.3 352.3L1414.4 354.5L1413 356.7L1415.5 358.9L1414.6 361.1L1413.4 363.3L1415.5 365.5L1415.7 367.7L1414.3 369.9L1414.2 372.1L1413 374.3L1414 376.5L1415.3 378.7L1416.1 380.9L1411.9 383.1L1413.5 385.3L1414.6 387.5L1412.8 389.7L1414.5 391.9L1411.7 394.1L1413.3 396.3L1412.1 398.5L1414.1 400.7L1415.5 402.9L1412.5 405.1L1413.1 407.3L1415.8 409.5L1415.6 411.7L1414.5 413.9L1411.9 416.1L1413.5 418.3L1415.9 420.5L1412.5 422.7L1415.2 424.9L1413.1 427.1L1415 429.3L1416.2 431.5L1412.3 433.7L1413.3 435.9L1414.5 438.1L1414.9 440.3L1415.2 442.5L1413 444.7L1415.9 446.9L1413.8 449.1L1416.1 451.3L1415.9 453.5L1413.5 455.7L1412.8 457.9L1416.2 460.1L1413 462.3L1414.2 464.5L1416.5 466.7L1415.1 468.9L1413.9 471.1L1414.1 473.3L1416.2 475.5L1413.3 477.7L1415.5 479.9L1414.7 482.1L1412.6 484.3L1413.5 486.5L1413.6 488.7L1416.1 490.9L1412.9 493.1L1416.6 495.3L1414.1 497.5L1413.1 499.7L1414.9 501.9L1416.6 504.1L1413.6 506.3L1415.7 508.5L1415.2 510.7L1416.2 512.9L1415.6 515.1L1414.8 517.3L1415.5 519.5L1416.7 521.7L1416.4 523.9L1413 526.1L1414.1 528.3L1413 530.5L1414.7 532.7L1413 534.9L1414.5 537.1L1416.2 539.3L1415.3 541.5L1416.5 543.7L1415.8 545.9L1414.2 548.1L1415.6 550.3L1414.4 552.5L1413.5 554.7L1414.8 556.9L1413.1 559.1L1413.3 561.3L1412.8 563.5L1413.3 565.7L1415.7 567.9L1415.6 570.1L1416.4 572.3L1415.3 574.5L1414.7 576.7L1415.2 578.9L1416.7 581.1L1415.9 583.3L1412.8 585.5L1413.2 587.7L1413 589.9L1414.3 592.1L1413.7 594.3L1416.6 596.5L1416.6 598.7L1415.5 600.9L1416.2 603.1L1415.4 605.3L1415.1 607.5L1414.2 609.7L1416.8 611.9L1413.2 614.1L1415.2 616.3L1415.8 618.5L1414.6 620.7L1414.4 622.9L1414.3 625.1L1414.9 627.3L1414.2 629.5L1416.2 631.7L1414.5 633.9L1413.3 636.1L1413.2 638.3L1413.3 640.5L1414.2 642.7L1416.3 644.9L1416.2 647.1L1416.3 649.3L1416.9 651.5L1413 653.7L1414.5 655.9L1414.1 658.1L1415.3 660.3L1415.5 662.5L1416.5 664.7L1414.2 666.9L1414.9 669.1L1414.4 671.3L1414.1 673.5L1415.3 675.7L1415.7 677.9L1416.9 680.1L1416.9 682.3L1413.7 684.5L1414.5 686.7L1413.1 688.9L1414.8 691.1L1415.9 693.3L1413.5 695.5L1416.9 697.7L1414.3 699.9L1415.1 702.1L1414.6 704.3L1414.3 706.5L1414.9 708.7L1414.7 710.9L1415.7 713.1L1415.7 715.3L1415.8 717.5L1413.1 719.7L1415.3 721.9L1415.8 724.1L1415.9 726.3L1414.1 728.5L1424.4 728.5L1425 726.3L1425.4 724.1L1427.3 721.9L1424.5 719.7L1426.5 717.5L1426 715.3L1425.2 713.1L1424.6 710.9L1427.2 708.7L1427.4 706.5L1426.3 704.3L1424.5 702.1L1428.2 699.9L1427.9 697.7L1426.7 695.5L1428.1 693.3L1427.4 691.1L1427.6 688.9L1427.3 686.7L1425.4 684.5L1427.5 682.3L1426 680.1L1428 677.9L1425.3 675.7L1424.8 673.5L1426.3 671.3L1425.6 669.1L1424.6 666.9L1425.7 664.7L1424.4 662.5L1426.6 660.3L1424.8 658.1L1427.6 655.9L1428 653.7L1426.8 651.5L1425.1 649.3L1426.6 647.1L1427.1 644.9L1426.4 642.7L1425.1 640.5L1426 638.3L1425 636.1L1425.2 633.9L1427.5 631.7L1428.4 629.5L1424.9 627.3L1426.3 625.1L1426.9 622.9L1427.2 620.7L1426 618.5L1424.6 616.3L1425.5 614.1L1425 611.9L1425.6 609.7L1426.8 607.5L1425.4 605.3L1427.3 603.1L1425.8 600.9L1427.8 598.7L1424.8 596.5L1426.6 594.3L1424.6 592.1L1428.4 589.9L1426.8 587.7L1425.3 585.5L1425.5 583.3L1426.9 581.1L1425.6 578.9L1427.6 576.7L1427.1 574.5L1424.6 572.3L1425.6 570.1L1425.4 567.9L1425.1 565.7L1425.4 563.5L1426.9 561.3L1426.4 559.1L1427.4 556.9L1428.3 554.7L1425.9 552.5L1426.8 550.3L1426.3 548.1L1426.2 545.9L1428.4 543.7L1426 541.5L1427.6 539.3L1427.4 537.1L1425.1 534.9L1428 532.7L1427 530.5L1425.1 528.3L1426.7 526.1L1425.2 523.9L1425 521.7L1428.4 519.5L1424.9 517.3L1426.6 515.1L1425.1 512.9L1425.2 510.7L1427.1 508.5L1428.2 506.3L1426.3 504.1L1427.5 501.9L1424.9 499.7L1428.1 497.5L1428.4 495.3L1427.3 493.1L1426.3 490.9L1428.9 488.7L1427.4 486.5L1428.3 484.3L1428.4 482.1L1427.6 479.9L1428.4 477.7L1427.5 475.5L1427.4 473.3L1425.1 471.1L1427 468.9L1426.9 466.7L1424.9 464.5L1427.3 462.3L1429 460.1L1427.4 457.9L1425.9 455.7L1428.7 453.5L1425.6 451.3L1426.1 449.1L1428.9 446.9L1429 444.7L1426.1 442.5L1426.8 440.3L1429 438.1L1424.9 435.9L1426.2 433.7L1427.2 431.5L1429 429.3L1426.5 427.1L1426.4 424.9L1427.9 422.7L1426.4 420.5L1428.2 418.3L1425.7 416.1L1426.4 413.9L1427.3 411.7L1427.5 409.5L1425.8 407.3L1426.3 405.1L1426.5 402.9L1428.3 400.7L1426 398.5L1425.1 396.3L1427.4 394.1L1427.7 391.9L1427.6 389.7L1429.1 387.5L1429.5 385.3L1429.3 383.1L1426.3 380.9L1426.7 378.7L1429.8 376.5L1427.6 374.3L1426.9 372.1L1426.3 369.9L1429.2 367.7L1429.2 365.5L1429.1 363.3L1426.6 361.1L1429.4 358.9L1427.5 356.7L1427.2 354.5L1428.6 352.3L1427.8 350.1L1425.7 347.9L1429.5 345.7L1429.7 343.5L1430.4 341.3L1426.3 339.1L1428.3 336.9L1428.1 334.7L1425.6 332.5L1427 330.3L1426.1 328.1L1430.6 325.9L1427.4 323.7L1430.1 321.5L1429.8 319.3L1426.3 317.1L1430 314.9L1428.1 312.7L1426.6 310.5L1429.8 308.3L1429.3 306.1L1430.8 303.9L1425.7 301.7L1429.6 299.5L1429.3 297.3L1431.3 295.1L1428.1 292.9L1427.2 290.7L1428.4 288.5L1426 286.3L1426.6 284.1L1426.8 281.9L1431.4 279.7L1429.4 277.5L1426.2 275.3L1429.2 273.1L1428.6 270.9L1427.1 268.7L1427.2 266.5L1431.4 264.3L1428.4 262.1L1432 259.9L1426.4 257.7L1429.2 255.5L1429.6 253.3L1427.7 251.1L1430.4 248.9L1432.1 246.7L1428.2 244.5L1431 242.3L1427.2 240.1L1431.4 237.9L1427 235.7L1430.6 233.5L1430.4 231.3L1429.4 229.1L1431.8 226.9L1428.3 224.7L1434.5 222.5L1430.6 220.3L1430.8 218.1L1430.1 215.9L1435.6 213.7L1428.5 211.5L1432.1 209.3L1429.6 207.1L1433.2 204.9L1436.5 202.7L1434.5 200.5L1435.4 198.3L1437 196.1L1432.4 193.9L1435.1 191.7L1431 189.5L1436.5 187.3L1439.3 185.1L1440.2 182.9L1432.7 180.7L1435.2 178.5L1433.9 176.3L1443.7 174.1L1433.8 171.9L1439.4 169.7z" fill="url(#g7_1)" filter="url(#hb)"/>
<rect x="1382.5" y="173.7" width="76.3" height="552.6" filter="url(#nG)" mask="url(#mG)" opacity="0.9"/>
<rect x="1382.5" y="173.7" width="76.3" height="552.6" filter="url(#wG)"/>
<path d="M1382.5 176.8h76.3M1382.5 180.3h76.3M1382.5 200.1h76.3M1382.5 230.4h76.3M1382.5 181.6h76.3M1382.5 180.3h76.3M1382.5 187.3h76.3M1382.5 239.3h76.3M1382.5 182.1h76.3M1382.5 237.3h76.3M1382.5 227.9h76.3M1382.5 181.5h76.3M1382.5 213.9h76.3M1382.5 205.2h76.3M1382.5 201.9h76.3M1382.5 271.2h76.3M1382.5 179.4h76.3M1382.5 177h76.3M1382.5 263.3h76.3M1382.5 201h76.3M1382.5 185.1h76.3M1382.5 194.7h76.3" stroke="#0e7a30" stroke-width="1" stroke-opacity="0.24" fill="none"/>
</g>
<line x1="1381.9" y1="174" x2="1459.4" y2="174" stroke="#000" stroke-width="2.2"/>
<line x1="1382.5" y1="173.7" x2="1382.5" y2="726.3" stroke="#000" stroke-width="1.3"/>
<line x1="1458.8" y1="173.7" x2="1458.8" y2="726.3" stroke="#000" stroke-width="1.3"/>
<line x1="1382" y1="726.3" x2="1459.3" y2="726.3" stroke="#000" stroke-width="2.2"/>
<line x1="1382.5" y1="726.3" x2="1382.5" y2="733.3" stroke="#333" stroke-width="1"/>
<line x1="1420.7" y1="726.3" x2="1420.7" y2="733.3" stroke="#333" stroke-width="1"/>
<line x1="1458.8" y1="726.3" x2="1458.8" y2="733.3" stroke="#333" stroke-width="1"/>
<g clip-path="url(#c8)">
<rect x="1465" y="173.7" width="75.8" height="552.6" fill="url(#bgG)"/>
<rect x="1465" y="173.7" width="75.8" height="552.6" fill="url(#ts8)"/>
<path d="M1484.8 169.7L1479.6 171.9L1481 174.1L1486.6 176.3L1480.7 178.5L1486.8 180.7L1484.3 182.9L1482.4 185.1L1487.8 187.3L1482.1 189.5L1489.2 191.7L1482 193.9L1485.6 196.1L1486.6 198.3L1489.7 200.5L1488.8 202.7L1484.2 204.9L1489 207.1L1490.8 209.3L1485.9 211.5L1488.2 213.7L1488.6 215.9L1489.1 218.1L1484.9 220.3L1487.7 222.5L1486.5 224.7L1489.9 226.9L1488.5 229.1L1487 231.3L1489.9 233.5L1490.8 235.7L1492 237.9L1487.1 240.1L1486.2 242.3L1486.3 244.5L1486.5 246.7L1492.1 248.9L1489.4 251.1L1489 253.3L1486.5 255.5L1487.1 257.7L1490.9 259.9L1490.1 262.1L1489 264.3L1491.3 266.5L1491.4 268.7L1491 270.9L1490.7 273.1L1489.1 275.3L1488.2 277.5L1491.3 279.7L1492.9 281.9L1490 284.1L1489 286.3L1493 288.5L1487.7 290.7L1488.3 292.9L1491 295.1L1489.6 297.3L1493.2 299.5L1490.2 301.7L1492.7 303.9L1493.1 306.1L1492.3 308.3L1490.8 310.5L1491.3 312.7L1488.1 314.9L1489 317.1L1489.9 319.3L1493 321.5L1490.3 323.7L1490 325.9L1487.7 328.1L1489.1 330.3L1488.4 332.5L1493.4 334.7L1489.8 336.9L1490.9 339.1L1489.5 341.3L1492.3 343.5L1490.4 345.7L1493.2 347.9L1490.9 350.1L1488.9 352.3L1490.4 354.5L1488.6 356.7L1493.2 358.9L1491.5 361.1L1491.7 363.3L1491.2 365.5L1492.2 367.7L1489.2 369.9L1491.4 372.1L1492.1 374.3L1492 376.5L1492.9 378.7L1490.1 380.9L1488.6 383.1L1488.6 385.3L1489.8 387.5L1490.8 389.7L1492.7 391.9L1490.6 394.1L1488.8 396.3L1491.1 398.5L1491.7 400.7L1493.7 402.9L1493.9 405.1L1489.3 407.3L1489.9 409.5L1493.9 411.7L1493.7 413.9L1491.1 416.1L1490.8 418.3L1492.2 420.5L1494.1 422.7L1488.9 424.9L1489.3 427.1L1490.4 429.3L1493.3 431.5L1489.8 433.7L1493.8 435.9L1492.9 438.1L1492.4 440.3L1490.8 442.5L1491.2 444.7L1489.3 446.9L1490.6 449.1L1489.1 451.3L1490.1 453.5L1491.7 455.7L1493 457.9L1489.1 460.1L1492.4 462.3L1492.4 464.5L1490 466.7L1492.6 468.9L1491.1 471.1L1488.9 473.3L1494.3 475.5L1490.1 477.7L1493.6 479.9L1494.2 482.1L1490.7 484.3L1489.2 486.5L1489.8 488.7L1488.9 490.9L1493.7 493.1L1492.2 495.3L1489.2 497.5L1489.9 499.7L1494.4 501.9L1489.5 504.1L1493.5 506.3L1489.9 508.5L1490.9 510.7L1490.9 512.9L1489.5 515.1L1494 517.3L1492.5 519.5L1492.8 521.7L1489.2 523.9L1491 526.1L1490.1 528.3L1491 530.5L1490.5 532.7L1494 534.9L1489.2 537.1L1491 539.3L1494 541.5L1490.8 543.7L1493.7 545.9L1492.8 548.1L1489.4 550.3L1491.5 552.5L1490.9 554.7L1492.7 556.9L1490 559.1L1493.4 561.3L1492.1 563.5L1494.4 565.7L1491.4 567.9L1494.3 570.1L1493 572.3L1493.8 574.5L1494.1 576.7L1490.1 578.9L1492.6 581.1L1494.4 583.3L1491.9 585.5L1492 587.7L1489.8 589.9L1492.8 592.1L1491.3 594.3L1491.9 596.5L1493.9 598.7L1493.8 600.9L1493.5 603.1L1491.6 605.3L1492.6 607.5L1490.8 609.7L1494.4 611.9L1490.4 614.1L1493.4 616.3L1489 618.5L1492.2 620.7L1491.2 622.9L1492 625.1L1493.8 627.3L1491.8 629.5L1491.8 631.7L1492.7 633.9L1491.6 636.1L1494.4 638.3L1493.8 640.5L1490.2 642.7L1492.7 644.9L1493.6 647.1L1489.4 649.3L1492.3 651.5L1492.7 653.7L1489.1 655.9L1493.1 658.1L1490.6 660.3L1493.2 662.5L1491.6 664.7L1493.2 666.9L1489.8 669.1L1489.9 671.3L1491.3 673.5L1489.8 675.7L1491.7 677.9L1494.2 680.1L1490.7 682.3L1492.8 684.5L1489.5 686.7L1492.8 688.9L1491.2 691.1L1490 693.3L1489.3 695.5L1492.5 697.7L1489.2 699.9L1493.7 702.1L1492 704.3L1492.9 706.5L1492.4 708.7L1494.2 710.9L1489.6 713.1L1492.6 715.3L1490.5 717.5L1490.4 719.7L1491.5 721.9L1489.6 724.1L1491.6 726.3L1494.4 728.5L1514.7 728.5L1515.7 726.3L1516.6 724.1L1514.3 721.9L1512.9 719.7L1513.6 717.5L1512.5 715.3L1513.4 713.1L1512.3 710.9L1512.2 708.7L1515.2 706.5L1516.2 704.3L1514.7 702.1L1512.5 699.9L1516.5 697.7L1516.5 695.5L1515 693.3L1513.4 691.1L1515.9 688.9L1511.3 686.7L1514.4 684.5L1511.8 682.3L1516.6 680.1L1513.9 677.9L1514.1 675.7L1516.6 673.5L1514.2 671.3L1512.4 669.1L1516.1 666.9L1512.8 664.7L1511.4 662.5L1514.7 660.3L1513.8 658.1L1516.1 655.9L1513.3 653.7L1515.8 651.5L1514.1 649.3L1515.6 647.1L1514.8 644.9L1511.6 642.7L1515.2 640.5L1511.3 638.3L1515.7 636.1L1511.8 633.9L1516.1 631.7L1511.9 629.5L1511.5 627.3L1512.2 625.1L1514 622.9L1515.6 620.7L1511.8 618.5L1512.4 616.3L1511.8 614.1L1512.9 611.9L1511.8 609.7L1512.7 607.5L1516.7 605.3L1513.8 603.1L1513.9 600.9L1512.2 598.7L1515.7 596.5L1512.4 594.3L1514.5 592.1L1513.5 589.9L1515.6 587.7L1515.9 585.5L1513 583.3L1516.3 581.1L1511.6 578.9L1511.8 576.7L1515.9 574.5L1514.4 572.3L1515.6 570.1L1513.6 567.9L1514.1 565.7L1515.1 563.5L1516.8 561.3L1515.2 559.1L1512.6 556.9L1513.7 554.7L1515 552.5L1513.4 550.3L1516.2 548.1L1512.2 545.9L1516.9 543.7L1515.5 541.5L1514.7 539.3L1516.9 537.1L1515.8 534.9L1514.1 532.7L1511.7 530.5L1512.2 528.3L1512.1 526.1L1512.3 523.9L1514.2 521.7L1512.6 519.5L1516.5 517.3L1513.3 515.1L1513.4 512.9L1514 510.7L1517 508.5L1516.3 506.3L1512.3 504.1L1513.4 501.9L1513.3 499.7L1512.3 497.5L1515.2 495.3L1512.2 493.1L1512.9 490.9L1512.5 488.7L1513 486.5L1515.8 484.3L1516.3 482.1L1514.8 479.9L1511.8 477.7L1516.8 475.5L1513.4 473.3L1516.5 471.1L1512.6 468.9L1513.2 466.7L1513.1 464.5L1515.4 462.3L1512.8 460.1L1513.7 457.9L1516.4 455.7L1516.8 453.5L1515.4 451.3L1514 449.1L1517.1 446.9L1514 444.7L1516.4 442.5L1516.7 440.3L1515.8 438.1L1516.3 435.9L1513.6 433.7L1513.4 431.5L1517 429.3L1516.5 427.1L1517.1 424.9L1514.3 422.7L1512.4 420.5L1514.3 418.3L1513.2 416.1L1514.8 413.9L1517 411.7L1512.3 409.5L1512.7 407.3L1513.3 405.1L1512.7 402.9L1514.5 400.7L1517.3 398.5L1516.7 396.3L1517.6 394.1L1515.2 391.9L1511.9 389.7L1513.7 387.5L1513.6 385.3L1515.1 383.1L1514.1 380.9L1512.7 378.7L1515.8 376.5L1517.4 374.3L1517.5 372.1L1516.5 369.9L1515 367.7L1514.5 365.5L1517.4 363.3L1515.5 361.1L1514.3 358.9L1516 356.7L1517.5 354.5L1515.7 352.3L1513.1 350.1L1515 347.9L1513.8 345.7L1513.7 343.5L1515.5 341.3L1514.7 339.1L1517.5 336.9L1516.1 334.7L1514.3 332.5L1514.3 330.3L1517.8 328.1L1513.9 325.9L1513.3 323.7L1518.1 321.5L1512.9 319.3L1514.8 317.1L1515.5 314.9L1516.1 312.7L1512.4 310.5L1515 308.3L1514.8 306.1L1516.5 303.9L1515.3 301.7L1517.6 299.5L1517.3 297.3L1515.9 295.1L1518.6 292.9L1516.1 290.7L1513.6 288.5L1515.9 286.3L1516 284.1L1518.8 281.9L1518.2 279.7L1515 277.5L1515.1 275.3L1518.6 273.1L1519.1 270.9L1517.3 268.7L1513.6 266.5L1515.7 264.3L1515.2 262.1L1516.6 259.9L1513.4 257.7L1518.6 255.5L1513.7 253.3L1516 251.1L1519.7 248.9L1519.1 246.7L1513.8 244.5L1513.9 242.3L1517.9 240.1L1518.1 237.9L1519.8 235.7L1518.9 233.5L1516.2 231.3L1520.9 229.1L1514.6 226.9L1521.2 224.7L1516.2 222.5L1520.9 220.3L1517.9 218.1L1516.7 215.9L1516.1 213.7L1521.7 211.5L1520.2 209.3L1522.7 207.1L1520.7 204.9L1518.1 202.7L1518.4 200.5L1518.2 198.3L1520.7 196.1L1523 193.9L1521.8 191.7L1517.1 189.5L1520 187.3L1524.4 185.1L1522.2 182.9L1519.8 180.7L1519.7 178.5L1520.1 176.3L1522 174.1L1520.7 171.9L1526.8 169.7z" fill="url(#g8_0)" filter="url(#hb2)"/>
<path d="M1488.1 169.7L1490.5 171.9L1492 174.1L1491 176.3L1487.6 178.5L1492.6 180.7L1486.7 182.9L1492 185.1L1487.7 187.3L1492.3 189.5L1493.5 191.7L1495.5 193.9L1490.4 196.1L1493.3 198.3L1493.1 200.5L1494.8 202.7L1489.7 204.9L1495.6 207.1L1490 209.3L1491.2 211.5L1496 213.7L1493.4 215.9L1495.4 218.1L1494.4 220.3L1495.1 222.5L1491.7 224.7L1493 226.9L1494.2 229.1L1494.5 231.3L1493.1 233.5L1494.1 235.7L1495.1 237.9L1496.2 240.1L1496.9 242.3L1497.2 244.5L1494.1 246.7L1497.5 248.9L1494.8 251.1L1496.9 253.3L1493.8 255.5L1497.8 257.7L1496.5 259.9L1493.1 262.1L1494.7 264.3L1497.1 266.5L1497.7 268.7L1493 270.9L1496.7 273.1L1497.2 275.3L1497.1 277.5L1495.8 279.7L1496.1 281.9L1495.5 284.1L1498.1 286.3L1496.8 288.5L1494.9 290.7L1493.8 292.9L1497.7 295.1L1495.3 297.3L1494.2 299.5L1497.6 301.7L1494.8 303.9L1495.9 306.1L1494 308.3L1497 310.5L1493.7 312.7L1497.7 314.9L1497.2 317.1L1493.9 319.3L1495.1 321.5L1496.3 323.7L1494.2 325.9L1496.3 328.1L1496.4 330.3L1494.4 332.5L1498.2 334.7L1494.6 336.9L1494.9 339.1L1494.8 341.3L1494.3 343.5L1495.8 345.7L1494.4 347.9L1495.9 350.1L1494.6 352.3L1494.8 354.5L1496.8 356.7L1495.2 358.9L1498.5 361.1L1494.9 363.3L1496.5 365.5L1497.5 367.7L1498.5 369.9L1496.4 372.1L1495.4 374.3L1495.5 376.5L1496.3 378.7L1497.2 380.9L1494.9 383.1L1497.4 385.3L1497.1 387.5L1497.6 389.7L1497.9 391.9L1497 394.1L1495.4 396.3L1495.8 398.5L1497 400.7L1496.9 402.9L1498.4 405.1L1498.6 407.3L1495.5 409.5L1497 411.7L1497.1 413.9L1497.6 416.1L1497.9 418.3L1495.1 420.5L1498.7 422.7L1497.2 424.9L1498 427.1L1495.9 429.3L1496.7 431.5L1496.2 433.7L1494.6 435.9L1498.4 438.1L1496.7 440.3L1498.5 442.5L1497.9 444.7L1497.1 446.9L1498.8 449.1L1498.9 451.3L1497.7 453.5L1495.8 455.7L1495.7 457.9L1496.1 460.1L1497 462.3L1497.8 464.5L1496.2 466.7L1497.4 468.9L1498.5 471.1L1498 473.3L1495.2 475.5L1497 477.7L1497.7 479.9L1498.6 482.1L1496.6 484.3L1495.6 486.5L1496.8 488.7L1498.4 490.9L1498.1 493.1L1497.3 495.3L1497.3 497.5L1498.4 499.7L1498.3 501.9L1496.3 504.1L1495.8 506.3L1499 508.5L1497.6 510.7L1495.5 512.9L1495.7 515.1L1495 517.3L1495.9 519.5L1496.6 521.7L1498 523.9L1496.7 526.1L1497.4 528.3L1497.5 530.5L1496.5 532.7L1497.5 534.9L1498.2 537.1L1497 539.3L1498.1 541.5L1496.8 543.7L1496 545.9L1496.7 548.1L1496 550.3L1498.8 552.5L1495.5 554.7L1498.1 556.9L1499 559.1L1497.7 561.3L1498.7 563.5L1499.1 565.7L1498.3 567.9L1498.4 570.1L1498.3 572.3L1496.2 574.5L1496.6 576.7L1496 578.9L1497.5 581.1L1498.4 583.3L1496.6 585.5L1497.3 587.7L1495.4 589.9L1497.3 592.1L1497.6 594.3L1496.5 596.5L1497.2 598.7L1498.5 600.9L1497.3 603.1L1495.8 605.3L1497.5 607.5L1497.4 609.7L1495.9 611.9L1497.6 614.1L1498.2 616.3L1497.7 618.5L1498.7 620.7L1495.9 622.9L1497.5 625.1L1496.2 627.3L1497.4 629.5L1498.2 631.7L1498.5 633.9L1497.9 636.1L1496.8 638.3L1496.2 640.5L1498.2 642.7L1498.1 644.9L1496.9 647.1L1496.3 649.3L1498.9 651.5L1497 653.7L1497.4 655.9L1499.2 658.1L1495.8 660.3L1497.2 662.5L1496.1 664.7L1496.2 666.9L1495.6 669.1L1498.4 671.3L1497.7 673.5L1495.6 675.7L1497.7 677.9L1497.1 680.1L1498.6 682.3L1495.3 684.5L1498.4 686.7L1497.8 688.9L1496.9 691.1L1499.1 693.3L1496.9 695.5L1497 697.7L1497.7 699.9L1497.2 702.1L1496.8 704.3L1498.9 706.5L1495.6 708.7L1495.7 710.9L1498.2 713.1L1495.8 715.3L1497.5 717.5L1497.4 719.7L1498.1 721.9L1497.8 724.1L1497.7 726.3L1496.9 728.5L1507 728.5L1509.2 726.3L1510.4 724.1L1507.6 721.9L1508.9 719.7L1508.3 717.5L1508.1 715.3L1508.1 713.1L1509.1 710.9L1510.3 708.7L1507.6 706.5L1509 704.3L1507.2 702.1L1510 699.9L1509.5 697.7L1510 695.5L1510.5 693.3L1509.3 691.1L1509 688.9L1510.2 686.7L1508.2 684.5L1507.9 682.3L1507.9 680.1L1507.5 677.9L1507.6 675.7L1508.6 673.5L1509.1 671.3L1508.5 669.1L1508.2 666.9L1508.7 664.7L1507.7 662.5L1508.5 660.3L1509.7 658.1L1510.1 655.9L1509.6 653.7L1509.4 651.5L1508.5 649.3L1506.8 647.1L1509.1 644.9L1508.8 642.7L1510.4 640.5L1508.5 638.3L1509.9 636.1L1509.6 633.9L1509.2 631.7L1509.2 629.5L1508.3 627.3L1508.9 625.1L1509 622.9L1507.4 620.7L1510.4 618.5L1508.5 616.3L1508.1 614.1L1510.1 611.9L1508.8 609.7L1507.9 607.5L1508.7 605.3L1509.6 603.1L1510.2 600.9L1510.2 598.7L1510.3 596.5L1506.7 594.3L1508 592.1L1507.9 589.9L1510.3 587.7L1508.8 585.5L1507.4 583.3L1509.6 581.1L1508.3 578.9L1509.2 576.7L1510.3 574.5L1509.2 572.3L1508 570.1L1510.4 567.9L1507.3 565.7L1507.2 563.5L1508.3 561.3L1507 559.1L1509.3 556.9L1507.5 554.7L1510.4 552.5L1507.4 550.3L1510.2 548.1L1509.8 545.9L1510.6 543.7L1509 541.5L1506.8 539.3L1510.2 537.1L1507.2 534.9L1508.1 532.7L1509.9 530.5L1509.5 528.3L1507.6 526.1L1508.4 523.9L1510.2 521.7L1509.6 519.5L1509.5 517.3L1506.8 515.1L1508.8 512.9L1507.7 510.7L1509.5 508.5L1509.9 506.3L1509.3 504.1L1507.9 501.9L1508.5 499.7L1507.9 497.5L1510.6 495.3L1510.2 493.1L1507.2 490.9L1508.9 488.7L1510.2 486.5L1508.9 484.3L1510.6 482.1L1507.1 479.9L1508.3 477.7L1510.1 475.5L1508.9 473.3L1507.3 471.1L1508.9 468.9L1509 466.7L1508.2 464.5L1508.6 462.3L1511 460.1L1508.3 457.9L1511 455.7L1509.4 453.5L1509.5 451.3L1510.9 449.1L1508.7 446.9L1509.6 444.7L1507.5 442.5L1508.4 440.3L1509.5 438.1L1509.2 435.9L1510.6 433.7L1511 431.5L1508.9 429.3L1507.1 427.1L1508.9 424.9L1510.6 422.7L1511 420.5L1508.8 418.3L1510.9 416.1L1510.5 413.9L1508.4 411.7L1510.6 409.5L1509.7 407.3L1507.3 405.1L1509.1 402.9L1507.3 400.7L1511.4 398.5L1509.5 396.3L1510.8 394.1L1511.3 391.9L1511.1 389.7L1509.2 387.5L1511.3 385.3L1509.1 383.1L1507.8 380.9L1508.2 378.7L1509.9 376.5L1510 374.3L1510.5 372.1L1509.9 369.9L1508.8 367.7L1510.5 365.5L1509.1 363.3L1508.7 361.1L1509.2 358.9L1511.2 356.7L1510.3 354.5L1511.8 352.3L1509.2 350.1L1510.1 347.9L1509.3 345.7L1507.8 343.5L1507.6 341.3L1509 339.1L1511.3 336.9L1509.1 334.7L1510.5 332.5L1509.9 330.3L1512 328.1L1512 325.9L1509.9 323.7L1508.7 321.5L1509.5 319.3L1508.4 317.1L1510.8 314.9L1511.6 312.7L1510.3 310.5L1509.6 308.3L1510.3 306.1L1509.1 303.9L1509.6 301.7L1510.8 299.5L1512 297.3L1511.4 295.1L1509.3 292.9L1509 290.7L1508.6 288.5L1508.8 286.3L1511.2 284.1L1511.9 281.9L1511.2 279.7L1511.1 277.5L1508.8 275.3L1512.5 273.1L1512.8 270.9L1511.3 268.7L1512.8 266.5L1511.1 264.3L1508.3 262.1L1508.8 259.9L1510.8 257.7L1513.4 255.5L1511.2 253.3L1510.1 251.1L1508.3 248.9L1508.4 246.7L1509 244.5L1511.8 242.3L1508.4 240.1L1508.4 237.9L1510.4 235.7L1513.1 233.5L1513.8 231.3L1509.4 229.1L1510.3 226.9L1508.8 224.7L1512.3 222.5L1510.4 220.3L1513.5 218.1L1509.5 215.9L1515.5 213.7L1513.6 211.5L1515.9 209.3L1514 207.1L1515.6 204.9L1510.4 202.7L1516.8 200.5L1510.5 198.3L1515.4 196.1L1516.6 193.9L1511.7 191.7L1515.4 189.5L1513.7 187.3L1513.1 185.1L1517.6 182.9L1511.4 180.7L1513.7 178.5L1515.9 176.3L1515 174.1L1515.3 171.9L1513 169.7z" fill="url(#g8_1)" filter="url(#hb)"/>
<rect x="1465" y="173.7" width="75.8" height="552.6" filter="url(#nG)" mask="url(#mG)" opacity="0.8"/>
<rect x="1465" y="173.7" width="75.8" height="552.6" filter="url(#wG)"/>
<path d="M1465 176.8h75.8M1465 180.3h75.8M1465 200.1h75.8M1465 230.4h75.8M1465 181.6h75.8M1465 180.3h75.8M1465 187.3h75.8M1465 239.3h75.8M1465 182.1h75.8M1465 237.3h75.8M1465 227.9h75.8M1465 181.5h75.8M1465 213.9h75.8M1465 205.2h75.8M1465 201.9h75.8M1465 271.2h75.8M1465 179.4h75.8M1465 177h75.8M1465 263.3h75.8M1465 201h75.8M1465 185.1h75.8M1465 194.7h75.8" stroke="#0e7a30" stroke-width="1" stroke-opacity="0.18" fill="none"/>
</g>
<line x1="1464.4" y1="174" x2="1541.4" y2="174" stroke="#000" stroke-width="2.2"/>
<line x1="1465" y1="173.7" x2="1465" y2="726.3" stroke="#000" stroke-width="1.3"/>
<line x1="1540.8" y1="173.7" x2="1540.8" y2="726.3" stroke="#000" stroke-width="1.3"/>
<line x1="1464.5" y1="726.3" x2="1541.3" y2="726.3" stroke="#000" stroke-width="2.2"/>
<line x1="1465" y1="726.3" x2="1465" y2="733.3" stroke="#333" stroke-width="1"/>
<line x1="1502.9" y1="726.3" x2="1502.9" y2="733.3" stroke="#333" stroke-width="1"/>
<line x1="1540.8" y1="726.3" x2="1540.8" y2="733.3" stroke="#333" stroke-width="1"/>
<g clip-path="url(#c9)">
<rect x="1560.8" y="173.7" width="76" height="552.6" fill="url(#bgB)"/>
<rect x="1560.8" y="173.7" width="76" height="552.6" fill="url(#ts9)"/>
<path d="M1584.7 169.7L1580.7 171.9L1582.9 174.1L1584.8 176.3L1582.3 178.5L1586 180.7L1586.3 182.9L1584 185.1L1587 187.3L1584.5 189.5L1585 191.7L1586.1 193.9L1586.1 196.1L1586.5 198.3L1586.2 200.5L1586.7 202.7L1585.9 204.9L1587.2 207.1L1588.1 209.3L1587.2 211.5L1588.7 213.7L1589.5 215.9L1589.5 218.1L1589.3 220.3L1589.1 222.5L1588 224.7L1588.1 226.9L1587.6 229.1L1589.7 231.3L1589.3 233.5L1588 235.7L1590.6 237.9L1588.8 240.1L1589.4 242.3L1589 244.5L1589.6 246.7L1590.4 248.9L1589.4 251.1L1590.7 253.3L1588.8 255.5L1590.2 257.7L1589.7 259.9L1590.6 262.1L1591.4 264.3L1590.4 266.5L1591.1 268.7L1591 270.9L1591.3 273.1L1591.4 275.3L1590 277.5L1589.5 279.7L1589.6 281.9L1590.6 284.1L1590 286.3L1590.3 288.5L1589.9 290.7L1590.1 292.9L1589.7 295.1L1589.9 297.3L1591.9 299.5L1591.8 301.7L1590.6 303.9L1589.8 306.1L1591.5 308.3L1590.7 310.5L1590.6 312.7L1591.2 314.9L1590.3 317.1L1590.9 319.3L1590.4 321.5L1591 323.7L1590.9 325.9L1590.8 328.1L1590.4 330.3L1592.1 332.5L1591.6 334.7L1591.7 336.9L1592.3 339.1L1591.4 341.3L1591.3 343.5L1592.2 345.7L1592.1 347.9L1592.3 350.1L1591.4 352.3L1591.5 354.5L1592 356.7L1592 358.9L1591.4 361.1L1592.5 363.3L1590.7 365.5L1591.8 367.7L1591.8 369.9L1592.5 372.1L1592.4 374.3L1591.1 376.5L1591.8 378.7L1590.8 380.9L1591.7 383.1L1591.1 385.3L1590.9 387.5L1591.1 389.7L1592.3 391.9L1592.1 394.1L1591.8 396.3L1591.6 398.5L1591.5 400.7L1592.3 402.9L1592.4 405.1L1591.9 407.3L1592.9 409.5L1591.4 411.7L1591.7 413.9L1591.9 416.1L1592.4 418.3L1591.3 420.5L1591.6 422.7L1591.5 424.9L1591.4 427.1L1592.9 429.3L1591.8 431.5L1592.9 433.7L1591.2 435.9L1592.4 438.1L1592.6 440.3L1591.8 442.5L1591.3 444.7L1592.5 446.9L1591.4 449.1L1591.7 451.3L1591.4 453.5L1592.4 455.7L1592.1 457.9L1591.9 460.1L1592.1 462.3L1592 464.5L1592.6 466.7L1591.4 468.9L1591.9 471.1L1592.1 473.3L1592.2 475.5L1593.1 477.7L1592.6 479.9L1591.9 482.1L1592 484.3L1592.9 486.5L1592.8 488.7L1592.3 490.9L1592.4 493.1L1591.6 495.3L1592.1 497.5L1592.6 499.7L1591.9 501.9L1592.4 504.1L1591.6 506.3L1592.5 508.5L1591.6 510.7L1592.4 512.9L1592.5 515.1L1593.2 517.3L1591.7 519.5L1592.1 521.7L1592.2 523.9L1591.7 526.1L1592.5 528.3L1592 530.5L1593.1 532.7L1591.9 534.9L1593.1 537.1L1593 539.3L1592.1 541.5L1592.1 543.7L1592 545.9L1592 548.1L1592 550.3L1592.1 552.5L1593 554.7L1591.8 556.9L1592.6 559.1L1593.3 561.3L1593.2 563.5L1592.5 565.7L1592.9 567.9L1591.9 570.1L1592.7 572.3L1592.8 574.5L1593.1 576.7L1592.8 578.9L1593.5 581.1L1592.1 583.3L1593.1 585.5L1592.7 587.7L1593.1 589.9L1592.8 592.1L1593.3 594.3L1592.1 596.5L1592 598.7L1592.9 600.9L1592.1 603.1L1592.7 605.3L1593.3 607.5L1591.8 609.7L1592.7 611.9L1593.1 614.1L1592 616.3L1592.3 618.5L1591.9 620.7L1592.1 622.9L1593 625.1L1592 627.3L1592.5 629.5L1592.1 631.7L1592.1 633.9L1593.4 636.1L1593.1 638.3L1592.9 640.5L1593.1 642.7L1593 644.9L1592.8 647.1L1592.8 649.3L1593.4 651.5L1592.8 653.7L1592.1 655.9L1593.6 658.1L1592.4 660.3L1593.2 662.5L1593.5 664.7L1593.2 666.9L1593.3 669.1L1593.3 671.3L1593.5 673.5L1592.4 675.7L1592 677.9L1592.4 680.1L1592.4 682.3L1592.5 684.5L1593.2 686.7L1593 688.9L1592.9 691.1L1593.2 693.3L1593.1 695.5L1592.1 697.7L1592.3 699.9L1592.5 702.1L1593.2 704.3L1593.4 706.5L1593.7 708.7L1592.2 710.9L1592 713.1L1592.8 715.3L1592.5 717.5L1592.9 719.7L1593.7 721.9L1592.3 724.1L1593.6 726.3L1592.6 728.5L1604.9 728.5L1605 726.3L1605.5 724.1L1604.8 721.9L1605.2 719.7L1604 717.5L1604.3 715.3L1604.3 713.1L1605 710.9L1605.5 708.7L1604.2 706.5L1605.5 704.3L1604.9 702.1L1605.4 699.9L1605.6 697.7L1604.5 695.5L1604.3 693.3L1605 691.1L1603.9 688.9L1604.1 686.7L1605.5 684.5L1604.1 682.3L1605.2 680.1L1604.6 677.9L1604.5 675.7L1605.6 673.5L1604.7 671.3L1604.4 669.1L1604.8 666.9L1604.4 664.7L1605.5 662.5L1604.9 660.3L1605.7 658.1L1605.2 655.9L1605.6 653.7L1605 651.5L1605.3 649.3L1604.3 647.1L1604 644.9L1604.9 642.7L1604.3 640.5L1604.4 638.3L1604.5 636.1L1605.5 633.9L1605 631.7L1604.4 629.5L1604 627.3L1604 625.1L1604 622.9L1604.9 620.7L1604.9 618.5L1605.1 616.3L1604.8 614.1L1604.9 611.9L1605.6 609.7L1604.3 607.5L1605.7 605.3L1605.5 603.1L1605.1 600.9L1604.9 598.7L1605.7 596.5L1604.1 594.3L1604.9 592.1L1605.8 589.9L1605.8 587.7L1605.3 585.5L1604.4 583.3L1604.1 581.1L1604.3 578.9L1605.6 576.7L1605.5 574.5L1605.9 572.3L1604.8 570.1L1605.7 567.9L1605.1 565.7L1605.4 563.5L1604.1 561.3L1605.1 559.1L1604.3 556.9L1605 554.7L1605.8 552.5L1604.6 550.3L1604.9 548.1L1605.1 545.9L1605.8 543.7L1605.4 541.5L1604.8 539.3L1604.9 537.1L1605.3 534.9L1605.1 532.7L1605.9 530.5L1605.3 528.3L1604.8 526.1L1604.2 523.9L1604.5 521.7L1604.8 519.5L1605.8 517.3L1605.7 515.1L1604.3 512.9L1604.6 510.7L1605.6 508.5L1605.4 506.3L1605.3 504.1L1605.2 501.9L1605.8 499.7L1604.3 497.5L1605.4 495.3L1605.4 493.1L1606.2 490.9L1605.7 488.7L1604.6 486.5L1604.6 484.3L1606.1 482.1L1604.3 479.9L1605.7 477.7L1604.5 475.5L1605.6 473.3L1604.6 471.1L1605.1 468.9L1604.5 466.7L1604.8 464.5L1606.2 462.3L1605.4 460.1L1605.8 457.9L1605.4 455.7L1605.8 453.5L1606 451.3L1606.1 449.1L1605.9 446.9L1605.7 444.7L1606.1 442.5L1605.7 440.3L1605.8 438.1L1605.5 435.9L1606.2 433.7L1605.3 431.5L1605.3 429.3L1606.2 427.1L1606.1 424.9L1605.1 422.7L1606.1 420.5L1605.8 418.3L1606.3 416.1L1605.8 413.9L1605.4 411.7L1604.8 409.5L1606.5 407.3L1606.2 405.1L1605.2 402.9L1605.3 400.7L1606.2 398.5L1605.4 396.3L1606.3 394.1L1605.2 391.9L1606.2 389.7L1605 387.5L1604.9 385.3L1605.4 383.1L1605.2 380.9L1606.6 378.7L1606.6 376.5L1605 374.3L1606.2 372.1L1606 369.9L1606.1 367.7L1605.5 365.5L1606 363.3L1607.1 361.1L1606 358.9L1605.7 356.7L1606.9 354.5L1605.5 352.3L1606.5 350.1L1606.3 347.9L1605.6 345.7L1606 343.5L1606.3 341.3L1607 339.1L1606.8 336.9L1606.2 334.7L1606.9 332.5L1605.7 330.3L1606.7 328.1L1606.1 325.9L1607.3 323.7L1606 321.5L1607.4 319.3L1607.6 317.1L1607.4 314.9L1606 312.7L1607.7 310.5L1605.5 308.3L1606.3 306.1L1607.2 303.9L1605.9 301.7L1607.5 299.5L1606.7 297.3L1607.4 295.1L1608 292.9L1608 290.7L1607.2 288.5L1608.1 286.3L1606 284.1L1607.5 281.9L1608 279.7L1606.7 277.5L1607.8 275.3L1607.9 273.1L1607.3 270.9L1608.1 268.7L1608.3 266.5L1606.3 264.3L1607.5 262.1L1607.8 259.9L1607.8 257.7L1606.4 255.5L1607.7 253.3L1606.8 251.1L1607.3 248.9L1608.3 246.7L1608.5 244.5L1607.7 242.3L1608.3 240.1L1608.5 237.9L1607.5 235.7L1608 233.5L1608.7 231.3L1608.1 229.1L1609.3 226.9L1610.2 224.7L1609.5 222.5L1610.1 220.3L1609.7 218.1L1611.1 215.9L1608.7 213.7L1609.1 211.5L1609.1 209.3L1610.1 207.1L1611.6 204.9L1610.2 202.7L1610.4 200.5L1610.4 198.3L1611.5 196.1L1613 193.9L1613.3 191.7L1611 189.5L1613.9 187.3L1612.4 185.1L1614.2 182.9L1615.5 180.7L1616.2 178.5L1616.2 176.3L1617.1 174.1L1613.5 171.9L1616.2 169.7z" fill="url(#g9_0)" filter="url(#hb2)"/>
<path d="M1589.2 169.7L1588.7 171.9L1591.8 174.1L1590 176.3L1590.4 178.5L1591.4 180.7L1591.7 182.9L1591 185.1L1593.3 187.3L1590.7 189.5L1592.6 191.7L1590.9 193.9L1591.4 196.1L1591.8 198.3L1593.4 200.5L1591.1 202.7L1593.5 204.9L1593.1 207.1L1592.1 209.3L1594.3 211.5L1594 213.7L1594.1 215.9L1592.9 218.1L1592.9 220.3L1592.8 222.5L1593.3 224.7L1593.2 226.9L1592.8 229.1L1593.3 231.3L1594 233.5L1592.7 235.7L1594.1 237.9L1594.3 240.1L1593.8 242.3L1593.8 244.5L1593 246.7L1593.7 248.9L1593.9 251.1L1594.2 253.3L1595.2 255.5L1593.3 257.7L1593.6 259.9L1594.2 262.1L1593.5 264.3L1593.8 266.5L1595 268.7L1594.2 270.9L1594.1 273.1L1594.1 275.3L1595.6 277.5L1594.2 279.7L1595.2 281.9L1594 284.1L1594.5 286.3L1594.8 288.5L1594.5 290.7L1593.8 292.9L1594.9 295.1L1595.7 297.3L1595.6 299.5L1594.3 301.7L1594 303.9L1595 306.1L1595.3 308.3L1594.8 310.5L1595.5 312.7L1594.7 314.9L1594.1 317.1L1594.9 319.3L1594.2 321.5L1595.1 323.7L1595.2 325.9L1594.2 328.1L1594.6 330.3L1595.8 332.5L1594.4 334.7L1595.3 336.9L1594.2 339.1L1595.6 341.3L1594.7 343.5L1594.4 345.7L1594.3 347.9L1595.9 350.1L1595.2 352.3L1594.4 354.5L1594.7 356.7L1594.4 358.9L1595.1 361.1L1594.7 363.3L1595.9 365.5L1595.8 367.7L1594.5 369.9L1594.7 372.1L1595.3 374.3L1595.8 376.5L1595.1 378.7L1595.4 380.9L1594.6 383.1L1595.5 385.3L1595.4 387.5L1596.1 389.7L1595.9 391.9L1594.9 394.1L1595.9 396.3L1596.2 398.5L1595.8 400.7L1595.3 402.9L1595.3 405.1L1595.6 407.3L1595.8 409.5L1595.6 411.7L1596 413.9L1595.1 416.1L1595.7 418.3L1594.9 420.5L1594.9 422.7L1595.7 424.9L1595.2 427.1L1594.8 429.3L1596.3 431.5L1596 433.7L1595.3 435.9L1595.4 438.1L1595.5 440.3L1596.2 442.5L1595.9 444.7L1595.8 446.9L1595 449.1L1595.5 451.3L1595.1 453.5L1596.2 455.7L1595.5 457.9L1596.2 460.1L1596.3 462.3L1595.3 464.5L1595.5 466.7L1595.7 468.9L1596.2 471.1L1595.6 473.3L1596.3 475.5L1595.4 477.7L1595.8 479.9L1595.8 482.1L1595.7 484.3L1595.2 486.5L1595.7 488.7L1596 490.9L1595.7 493.1L1595.4 495.3L1595.9 497.5L1595.4 499.7L1595.6 501.9L1595.9 504.1L1596 506.3L1596.2 508.5L1595.5 510.7L1595.9 512.9L1596.4 515.1L1596.5 517.3L1595.2 519.5L1595.8 521.7L1595.3 523.9L1595.9 526.1L1595.9 528.3L1595.1 530.5L1595.3 532.7L1596.3 534.9L1596.1 537.1L1595.7 539.3L1596.1 541.5L1595.9 543.7L1595.4 545.9L1595.9 548.1L1596 550.3L1596.2 552.5L1595.3 554.7L1596.5 556.9L1596.3 559.1L1596 561.3L1596.1 563.5L1595.3 565.7L1595.9 567.9L1595.8 570.1L1595.4 572.3L1596.2 574.5L1595.8 576.7L1596.5 578.9L1595.9 581.1L1595.7 583.3L1596.5 585.5L1595.7 587.7L1595.4 589.9L1595.2 592.1L1596.3 594.3L1595.7 596.5L1595.3 598.7L1596.2 600.9L1595.8 603.1L1596.1 605.3L1596.3 607.5L1595.7 609.7L1595.7 611.9L1595.5 614.1L1596.1 616.3L1596.3 618.5L1595.3 620.7L1596.4 622.9L1595.3 625.1L1596.4 627.3L1596.2 629.5L1596.2 631.7L1596.3 633.9L1595.9 636.1L1596.3 638.3L1595.4 640.5L1596.5 642.7L1595.5 644.9L1596.3 647.1L1596 649.3L1595.4 651.5L1596.5 653.7L1596.3 655.9L1596 658.1L1596.5 660.3L1596.7 662.5L1595.6 664.7L1596.1 666.9L1596.5 669.1L1595.4 671.3L1595.5 673.5L1595.3 675.7L1596.3 677.9L1595.9 680.1L1595.5 682.3L1595.8 684.5L1595.9 686.7L1596.4 688.9L1596.5 691.1L1596.1 693.3L1595.6 695.5L1596.3 697.7L1596.3 699.9L1596.6 702.1L1595.4 704.3L1595.7 706.5L1595.7 708.7L1595.9 710.9L1596.6 713.1L1596.3 715.3L1596 717.5L1596 719.7L1596.7 721.9L1595.7 724.1L1596.6 726.3L1595.9 728.5L1602.1 728.5L1601.8 726.3L1600.9 724.1L1600.9 721.9L1601.1 719.7L1601.2 717.5L1601.9 715.3L1601.9 713.1L1601.3 710.9L1601 708.7L1601.4 706.5L1602 704.3L1600.9 702.1L1601.8 699.9L1600.9 697.7L1601.7 695.5L1602.2 693.3L1601.9 691.1L1602 688.9L1601.2 686.7L1601.5 684.5L1601.8 682.3L1602.1 680.1L1601.5 677.9L1601.9 675.7L1601.9 673.5L1601.2 671.3L1601.1 669.1L1601.9 666.9L1601.7 664.7L1602.1 662.5L1602.3 660.3L1602.1 658.1L1601.1 655.9L1602 653.7L1601.5 651.5L1601.4 649.3L1601.8 647.1L1601.9 644.9L1601.2 642.7L1601.6 640.5L1601.7 638.3L1601 636.1L1601.6 633.9L1601.6 631.7L1602.2 629.5L1601.5 627.3L1602.1 625.1L1601.2 622.9L1600.9 620.7L1602.1 618.5L1602.3 616.3L1601.1 614.1L1601.3 611.9L1601.7 609.7L1602.2 607.5L1602.3 605.3L1601.9 603.1L1602 600.9L1601.6 598.7L1602 596.5L1601.7 594.3L1601.2 592.1L1601.6 589.9L1602.1 587.7L1601.5 585.5L1602.3 583.3L1601.6 581.1L1602.4 578.9L1602.3 576.7L1601 574.5L1602.1 572.3L1602.3 570.1L1602 567.9L1601.5 565.7L1602.1 563.5L1601 561.3L1601 559.1L1601.7 556.9L1601.2 554.7L1602.5 552.5L1602.4 550.3L1602.2 548.1L1602.1 545.9L1602.1 543.7L1601.5 541.5L1602.4 539.3L1601.9 537.1L1602 534.9L1601.3 532.7L1601.6 530.5L1601.9 528.3L1601.5 526.1L1601.2 523.9L1602.4 521.7L1602.2 519.5L1601.7 517.3L1602.2 515.1L1601.1 512.9L1602.4 510.7L1601.1 508.5L1601.9 506.3L1601.7 504.1L1601.1 501.9L1602.2 499.7L1601.4 497.5L1601.2 495.3L1601.2 493.1L1601.7 490.9L1602.4 488.7L1601.8 486.5L1601.7 484.3L1601.7 482.1L1602.6 479.9L1601.7 477.7L1602.3 475.5L1601.7 473.3L1601.6 471.1L1602 468.9L1602.1 466.7L1602.1 464.5L1602 462.3L1601.4 460.1L1602.2 457.9L1602.3 455.7L1602.4 453.5L1601.8 451.3L1601.8 449.1L1602.2 446.9L1602.6 444.7L1601.5 442.5L1602 440.3L1601.9 438.1L1602.2 435.9L1601.6 433.7L1602.8 431.5L1602.6 429.3L1602.3 427.1L1602 424.9L1602.5 422.7L1602 420.5L1601.4 418.3L1602.9 416.1L1602.8 413.9L1602.2 411.7L1602.3 409.5L1602.2 407.3L1601.3 405.1L1602.9 402.9L1602.6 400.7L1602.4 398.5L1601.8 396.3L1601.6 394.1L1602.3 391.9L1603 389.7L1603 387.5L1601.6 385.3L1602.9 383.1L1602.8 380.9L1601.5 378.7L1602.3 376.5L1602.3 374.3L1602.5 372.1L1602 369.9L1602.9 367.7L1602.6 365.5L1601.8 363.3L1601.9 361.1L1602.3 358.9L1602 356.7L1601.6 354.5L1602.9 352.3L1602.8 350.1L1603 347.9L1603.3 345.7L1601.9 343.5L1603 341.3L1602.9 339.1L1603 336.9L1602.2 334.7L1601.7 332.5L1602.5 330.3L1603.3 328.1L1603.4 325.9L1602.2 323.7L1602 321.5L1601.8 319.3L1603.4 317.1L1602.3 314.9L1602.2 312.7L1603.5 310.5L1603.3 308.3L1602.9 306.1L1602.1 303.9L1602.8 301.7L1602.3 299.5L1601.8 297.3L1602.3 295.1L1602.8 292.9L1602.6 290.7L1602.3 288.5L1603.7 286.3L1602.1 284.1L1603.8 281.9L1602.3 279.7L1602 277.5L1603.1 275.3L1602.8 273.1L1602.4 270.9L1603.2 268.7L1602.1 266.5L1603.1 264.3L1603.8 262.1L1604.3 259.9L1603.8 257.7L1604.1 255.5L1602.9 253.3L1603.8 251.1L1604.4 248.9L1603.2 246.7L1604.1 244.5L1603.4 242.3L1603 240.1L1603 237.9L1602.8 235.7L1603.7 233.5L1604.8 231.3L1602.9 229.1L1603.1 226.9L1605.3 224.7L1604.8 222.5L1604.7 220.3L1605.5 218.1L1603.4 215.9L1603.9 213.7L1603.8 211.5L1603.3 209.3L1604.7 207.1L1604.6 204.9L1604.9 202.7L1605.5 200.5L1606.4 198.3L1606.3 196.1L1603.9 193.9L1605.2 191.7L1607.1 189.5L1606 187.3L1607.4 185.1L1607.2 182.9L1606 180.7L1608.4 178.5L1606.9 176.3L1606.8 174.1L1607.4 171.9L1608.5 169.7z" fill="url(#g9_1)" filter="url(#hb)"/>
<rect x="1560.8" y="173.7" width="76" height="552.6" filter="url(#nB)" mask="url(#mB)" opacity="1.0"/>
<rect x="1560.8" y="173.7" width="76" height="552.6" filter="url(#wB)"/>
</g>
<line x1="1560.2" y1="174" x2="1637.4" y2="174" stroke="#000" stroke-width="2.2"/>
<line x1="1636.8" y1="173.7" x2="1636.8" y2="726.3" stroke="#000" stroke-width="1.3"/>
<line x1="1560.3" y1="726.3" x2="1637.3" y2="726.3" stroke="#000" stroke-width="2.2"/>
<line x1="1560.8" y1="726.3" x2="1560.8" y2="733.3" stroke="#333" stroke-width="1"/>
<line x1="1598.8" y1="726.3" x2="1598.8" y2="733.3" stroke="#333" stroke-width="1"/>
<line x1="1636.8" y1="726.3" x2="1636.8" y2="733.3" stroke="#333" stroke-width="1"/>
<g clip-path="url(#c10)">
<rect x="1642.9" y="173.7" width="75.9" height="552.6" fill="url(#bgB)"/>
<rect x="1642.9" y="173.7" width="75.9" height="552.6" fill="url(#ts10)"/>
<path d="M1666.9 169.7L1663.7 171.9L1663.1 174.1L1667.5 176.3L1667.2 178.5L1667.1 180.7L1667.8 182.9L1667.7 185.1L1667.8 187.3L1667.8 189.5L1667.9 191.7L1669.5 193.9L1669.7 196.1L1667.3 198.3L1667.7 200.5L1670 202.7L1668.3 204.9L1670.7 207.1L1670.5 209.3L1669.6 211.5L1669.1 213.7L1670.3 215.9L1671 218.1L1671.7 220.3L1669.3 222.5L1671.1 224.7L1669.9 226.9L1671.4 229.1L1672.5 231.3L1671.7 233.5L1672.6 235.7L1672.4 237.9L1670.1 240.1L1671.1 242.3L1672.7 244.5L1671.5 246.7L1671.1 248.9L1670.5 251.1L1673.1 253.3L1672.1 255.5L1670.9 257.7L1672.4 259.9L1673.4 262.1L1671 264.3L1673.4 266.5L1673.2 268.7L1671.6 270.9L1673.6 273.1L1672.5 275.3L1672.4 277.5L1671.8 279.7L1672.7 281.9L1673.6 284.1L1671.5 286.3L1673.5 288.5L1673.7 290.7L1673.9 292.9L1673.5 295.1L1672 297.3L1672.2 299.5L1673 301.7L1673.6 303.9L1673.4 306.1L1672.7 308.3L1674.1 310.5L1672.4 312.7L1672.4 314.9L1674.2 317.1L1673.2 319.3L1672.8 321.5L1674 323.7L1672.1 325.9L1672.2 328.1L1673.6 330.3L1673.5 332.5L1674.3 334.7L1672.4 336.9L1672.9 339.1L1672.6 341.3L1673 343.5L1674.2 345.7L1673.7 347.9L1673.3 350.1L1672.8 352.3L1672.9 354.5L1673.9 356.7L1674.3 358.9L1673.3 361.1L1673.4 363.3L1672.6 365.5L1674.5 367.7L1672.7 369.9L1673.6 372.1L1672.9 374.3L1673.3 376.5L1674.2 378.7L1672.9 380.9L1674 383.1L1673.2 385.3L1672.8 387.5L1674.2 389.7L1673.4 391.9L1673.7 394.1L1673.1 396.3L1673.6 398.5L1673.9 400.7L1674 402.9L1673.8 405.1L1673.7 407.3L1673.2 409.5L1674.3 411.7L1673.7 413.9L1674.9 416.1L1673.8 418.3L1674.8 420.5L1673.9 422.7L1673.2 424.9L1675.1 427.1L1674.8 429.3L1673.8 431.5L1673.8 433.7L1674.5 435.9L1674.3 438.1L1674.4 440.3L1674.7 442.5L1674.1 444.7L1675 446.9L1674.9 449.1L1673.4 451.3L1673.9 453.5L1674.7 455.7L1674.7 457.9L1674.9 460.1L1674.2 462.3L1674.2 464.5L1674.5 466.7L1675 468.9L1674.9 471.1L1675 473.3L1674.9 475.5L1674 477.7L1673.4 479.9L1674.5 482.1L1674 484.3L1674.3 486.5L1673.7 488.7L1674.4 490.9L1674.2 493.1L1675.3 495.3L1673.6 497.5L1675.3 499.7L1674.8 501.9L1675.3 504.1L1673.9 506.3L1674.7 508.5L1675.3 510.7L1675.4 512.9L1673.9 515.1L1674.3 517.3L1673.9 519.5L1674.1 521.7L1673.8 523.9L1675 526.1L1674.2 528.3L1673.7 530.5L1674.9 532.7L1674.8 534.9L1674.7 537.1L1673.9 539.3L1675 541.5L1675.4 543.7L1673.7 545.9L1675.2 548.1L1674.9 550.3L1674.2 552.5L1673.9 554.7L1674.3 556.9L1674 559.1L1675.2 561.3L1674.6 563.5L1674.3 565.7L1674.7 567.9L1674.7 570.1L1675.4 572.3L1674.9 574.5L1673.9 576.7L1674 578.9L1675.3 581.1L1674.3 583.3L1674.3 585.5L1675.6 587.7L1674.6 589.9L1673.8 592.1L1674.9 594.3L1674.4 596.5L1675.3 598.7L1675.3 600.9L1674.2 603.1L1675.5 605.3L1674.4 607.5L1674.9 609.7L1674.6 611.9L1673.9 614.1L1674.1 616.3L1674.5 618.5L1675.5 620.7L1674.5 622.9L1675.5 625.1L1675 627.3L1675.2 629.5L1675 631.7L1675 633.9L1674.3 636.1L1675 638.3L1675.3 640.5L1675.2 642.7L1674.9 644.9L1675.6 647.1L1674.1 649.3L1675.7 651.5L1675.2 653.7L1675.3 655.9L1674.3 658.1L1675.3 660.3L1674.7 662.5L1675.2 664.7L1674.3 666.9L1674.9 669.1L1674.1 671.3L1675 673.5L1675.4 675.7L1674.4 677.9L1675.1 680.1L1675.5 682.3L1675.3 684.5L1675.5 686.7L1675.4 688.9L1674.5 691.1L1675.6 693.3L1675.6 695.5L1674.8 697.7L1674.2 699.9L1675 702.1L1674.1 704.3L1675 706.5L1674.6 708.7L1675.6 710.9L1675 713.1L1675.6 715.3L1674.5 717.5L1675.2 719.7L1675.6 721.9L1675 724.1L1674.2 726.3L1675.1 728.5L1686.5 728.5L1687.2 726.3L1686.6 724.1L1686.2 721.9L1686.6 719.7L1687.2 717.5L1686.8 715.3L1687.4 713.1L1686.3 710.9L1686.2 708.7L1686.1 706.5L1687.6 704.3L1687.4 702.1L1687.4 699.9L1687.3 697.7L1686.6 695.5L1686.4 693.3L1687.7 691.1L1686.8 688.9L1687.2 686.7L1687.6 684.5L1687.3 682.3L1686.6 680.1L1686.8 677.9L1687.3 675.7L1686.8 673.5L1685.9 671.3L1686.8 669.1L1686.5 666.9L1687.1 664.7L1686.4 662.5L1686 660.3L1686.6 658.1L1687 655.9L1687.4 653.7L1687.2 651.5L1687.3 649.3L1687.7 647.1L1687.5 644.9L1687 642.7L1686.8 640.5L1686.8 638.3L1686.9 636.1L1686.8 633.9L1686.4 631.7L1686.8 629.5L1686.6 627.3L1686.6 625.1L1686.7 622.9L1686.3 620.7L1687.4 618.5L1686.9 616.3L1687.3 614.1L1687.3 611.9L1687.1 609.7L1687.6 607.5L1686.8 605.3L1687.6 603.1L1687.8 600.9L1686.3 598.7L1686.9 596.5L1687.1 594.3L1686.3 592.1L1687.6 589.9L1686.2 587.7L1686.3 585.5L1686.1 583.3L1686.7 581.1L1686.2 578.9L1686.9 576.7L1686.3 574.5L1687.4 572.3L1687.7 570.1L1686.2 567.9L1687.6 565.7L1686.4 563.5L1686.7 561.3L1687.6 559.1L1687.9 556.9L1686.7 554.7L1687.7 552.5L1687.7 550.3L1686.4 548.1L1686.9 545.9L1687 543.7L1686.7 541.5L1688 539.3L1686.9 537.1L1686.9 534.9L1687.5 532.7L1686.5 530.5L1687.2 528.3L1686.3 526.1L1687.6 523.9L1687.5 521.7L1687.8 519.5L1687.4 517.3L1686.4 515.1L1687 512.9L1687.2 510.7L1688.1 508.5L1686.8 506.3L1687.4 504.1L1687.5 501.9L1688.1 499.7L1687.2 497.5L1687.8 495.3L1687.1 493.1L1686.6 490.9L1686.8 488.7L1687.1 486.5L1688 484.3L1687.4 482.1L1687 479.9L1688 477.7L1688.2 475.5L1687.3 473.3L1687.8 471.1L1688.3 468.9L1687.1 466.7L1686.7 464.5L1687.9 462.3L1687.5 460.1L1686.8 457.9L1686.8 455.7L1687.7 453.5L1687.7 451.3L1687.4 449.1L1687.8 446.9L1686.7 444.7L1687.4 442.5L1688 440.3L1688 438.1L1687.4 435.9L1688 433.7L1688.1 431.5L1688.4 429.3L1686.7 427.1L1687.5 424.9L1687 422.7L1688.4 420.5L1687.2 418.3L1686.8 416.1L1688.5 413.9L1687.6 411.7L1688 409.5L1687.6 407.3L1688.4 405.1L1688.8 402.9L1687.4 400.7L1687.3 398.5L1688.3 396.3L1688.9 394.1L1688 391.9L1687.1 389.7L1687.9 387.5L1688.2 385.3L1688.1 383.1L1687.9 380.9L1688.6 378.7L1688.6 376.5L1687.1 374.3L1689 372.1L1688.5 369.9L1688.9 367.7L1687.3 365.5L1688.5 363.3L1687.9 361.1L1688.7 358.9L1687.8 356.7L1687.8 354.5L1688.1 352.3L1687.6 350.1L1688.9 347.9L1687.9 345.7L1688.7 343.5L1687.3 341.3L1688.1 339.1L1689.4 336.9L1688.1 334.7L1688.2 332.5L1687.5 330.3L1688.6 328.1L1687.4 325.9L1688.2 323.7L1687.7 321.5L1688.4 319.3L1687.5 317.1L1689.2 314.9L1688.5 312.7L1689.7 310.5L1688.7 308.3L1687.9 306.1L1689.2 303.9L1689.2 301.7L1688.6 299.5L1688.2 297.3L1689.2 295.1L1688 292.9L1689.8 290.7L1689.4 288.5L1689.5 286.3L1687.9 284.1L1689.7 281.9L1688.2 279.7L1688.3 277.5L1689.3 275.3L1688.7 273.1L1689.2 270.9L1688.1 268.7L1688.5 266.5L1689.8 264.3L1690.7 262.1L1688.4 259.9L1689.1 257.7L1688.6 255.5L1689.8 253.3L1689.1 251.1L1689.2 248.9L1691.4 246.7L1688.8 244.5L1689.8 242.3L1691 240.1L1689.9 237.9L1690.3 235.7L1691.1 233.5L1690.7 231.3L1690.8 229.1L1691.5 226.9L1692 224.7L1691.3 222.5L1691.9 220.3L1692.6 218.1L1693.1 215.9L1693.3 213.7L1692.5 211.5L1692.9 209.3L1692.4 207.1L1693.5 204.9L1693.3 202.7L1691.5 200.5L1692.7 198.3L1693.3 196.1L1692.2 193.9L1694.5 191.7L1694.9 189.5L1692.9 187.3L1695.7 185.1L1696.7 182.9L1695.4 180.7L1693.8 178.5L1696.2 176.3L1695.8 174.1L1695.3 171.9L1695.6 169.7z" fill="url(#g10_0)" filter="url(#hb2)"/>
<path d="M1674.2 169.7L1674.5 171.9L1671.3 174.1L1672.8 176.3L1673.1 178.5L1672.7 180.7L1673 182.9L1673.3 185.1L1673 187.3L1674.5 189.5L1674.8 191.7L1673.3 193.9L1675.8 196.1L1675.8 198.3L1674.8 200.5L1673.9 202.7L1674.2 204.9L1676.1 207.1L1674.9 209.3L1674 211.5L1675.4 213.7L1675.5 215.9L1676.7 218.1L1674.5 220.3L1675.5 222.5L1675.4 224.7L1675.2 226.9L1676.5 229.1L1675.1 231.3L1675.6 233.5L1675.9 235.7L1676.3 237.9L1676 240.1L1675 242.3L1675.6 244.5L1677.3 246.7L1676.2 248.9L1675.4 251.1L1675.6 253.3L1675.3 255.5L1677.1 257.7L1677.3 259.9L1675.6 262.1L1677.5 264.3L1675.4 266.5L1675.5 268.7L1677 270.9L1677.6 273.1L1677.4 275.3L1676.1 277.5L1675.7 279.7L1676.5 281.9L1677.3 284.1L1677.7 286.3L1676.7 288.5L1676.7 290.7L1677.5 292.9L1676.6 295.1L1676.3 297.3L1677.8 299.5L1676.2 301.7L1677.6 303.9L1676.8 306.1L1677 308.3L1677.9 310.5L1676.6 312.7L1677.8 314.9L1676.6 317.1L1677 319.3L1677.8 321.5L1677.8 323.7L1678 325.9L1677 328.1L1678 330.3L1677.4 332.5L1677.3 334.7L1677.7 336.9L1676.5 339.1L1676.8 341.3L1676.9 343.5L1677.6 345.7L1677.5 347.9L1677.5 350.1L1677.1 352.3L1678.1 354.5L1678.1 356.7L1677.2 358.9L1677.9 361.1L1676.8 363.3L1677.4 365.5L1678 367.7L1676.6 369.9L1676.6 372.1L1677.1 374.3L1677.7 376.5L1677.1 378.7L1676.7 380.9L1676.8 383.1L1677.6 385.3L1676.7 387.5L1677.8 389.7L1677.3 391.9L1677.3 394.1L1677.2 396.3L1677.7 398.5L1677.2 400.7L1678.3 402.9L1677.1 405.1L1678.1 407.3L1677.3 409.5L1677.7 411.7L1677.5 413.9L1677.2 416.1L1678.1 418.3L1677.6 420.5L1676.9 422.7L1678.2 424.9L1677 427.1L1678.1 429.3L1677.7 431.5L1677.9 433.7L1677.2 435.9L1677 438.1L1678.2 440.3L1678 442.5L1677.8 444.7L1677.1 446.9L1677.9 449.1L1678 451.3L1677.4 453.5L1676.9 455.7L1677.9 457.9L1677.2 460.1L1677.4 462.3L1677.7 464.5L1678.1 466.7L1678.1 468.9L1678 471.1L1678.4 473.3L1678.1 475.5L1678.5 477.7L1678.5 479.9L1677.3 482.1L1678.1 484.3L1677.8 486.5L1677.4 488.7L1678.5 490.9L1678.5 493.1L1678.5 495.3L1678.3 497.5L1677.9 499.7L1678.4 501.9L1677.8 504.1L1678.4 506.3L1677.7 508.5L1677.1 510.7L1678.2 512.9L1677.9 515.1L1677.7 517.3L1678.2 519.5L1678.3 521.7L1677.2 523.9L1677.1 526.1L1677.7 528.3L1678.1 530.5L1677.9 532.7L1677.4 534.9L1677.5 537.1L1678 539.3L1677.5 541.5L1677.8 543.7L1678.4 545.9L1677.4 548.1L1677.6 550.3L1677.3 552.5L1677.3 554.7L1678.6 556.9L1677.4 559.1L1678.4 561.3L1678.1 563.5L1677.6 565.7L1677.3 567.9L1678 570.1L1677.8 572.3L1677.6 574.5L1678.5 576.7L1677.9 578.9L1677.4 581.1L1677.9 583.3L1678.1 585.5L1678.6 587.7L1677.3 589.9L1678 592.1L1678.5 594.3L1678.1 596.5L1677.5 598.7L1677.7 600.9L1677.8 603.1L1678.2 605.3L1677.3 607.5L1677.8 609.7L1677.6 611.9L1678.2 614.1L1677.6 616.3L1677.9 618.5L1677.7 620.7L1677.6 622.9L1678 625.1L1678.4 627.3L1678.4 629.5L1678.7 631.7L1678.6 633.9L1678.7 636.1L1678.2 638.3L1677.9 640.5L1677.5 642.7L1678.7 644.9L1677.6 647.1L1677.4 649.3L1678.4 651.5L1677.7 653.7L1677.5 655.9L1677.4 658.1L1678.1 660.3L1678.5 662.5L1678 664.7L1678.5 666.9L1678 669.1L1678.7 671.3L1677.5 673.5L1678.6 675.7L1678.3 677.9L1678.4 680.1L1677.9 682.3L1677.9 684.5L1677.8 686.7L1677.6 688.9L1678.3 691.1L1677.5 693.3L1677.4 695.5L1678.3 697.7L1678 699.9L1677.4 702.1L1678.5 704.3L1678 706.5L1678.3 708.7L1678.5 710.9L1678.4 713.1L1677.8 715.3L1678.2 717.5L1677.8 719.7L1678.2 721.9L1678.5 724.1L1678.4 726.3L1677.4 728.5L1683.3 728.5L1683.9 726.3L1683.3 724.1L1683.1 721.9L1682.9 719.7L1684.1 717.5L1683.9 715.3L1683 713.1L1683 710.9L1684.1 708.7L1684.1 706.5L1683 704.3L1684 702.1L1683.8 699.9L1684 697.7L1683 695.5L1684 693.3L1683.7 691.1L1683 688.9L1683.3 686.7L1683.8 684.5L1683.6 682.3L1683.4 680.1L1683.4 677.9L1684.3 675.7L1683.6 673.5L1683.9 671.3L1683 669.1L1683.7 666.9L1684.1 664.7L1683.8 662.5L1683.4 660.3L1684.2 658.1L1683.3 655.9L1683.9 653.7L1683 651.5L1683.8 649.3L1683.6 647.1L1684 644.9L1683.3 642.7L1683.1 640.5L1683.6 638.3L1683.6 636.1L1683.5 633.9L1683.6 631.7L1683.6 629.5L1683 627.3L1683 625.1L1683.4 622.9L1683.3 620.7L1683.1 618.5L1683.3 616.3L1683.6 614.1L1683.5 611.9L1683.1 609.7L1684.1 607.5L1683.4 605.3L1683.8 603.1L1684.1 600.9L1684.4 598.7L1683.8 596.5L1683.8 594.3L1683.1 592.1L1684.4 589.9L1684.4 587.7L1683.9 585.5L1684 583.3L1683.7 581.1L1683.1 578.9L1683.3 576.7L1683.3 574.5L1684.5 572.3L1683.3 570.1L1684.1 567.9L1683.8 565.7L1683.1 563.5L1683.4 561.3L1684 559.1L1683.6 556.9L1683.6 554.7L1684.4 552.5L1684.3 550.3L1684.4 548.1L1683.3 545.9L1684.2 543.7L1684.1 541.5L1684.5 539.3L1684.4 537.1L1683.8 534.9L1683.4 532.7L1684.3 530.5L1684.4 528.3L1683.4 526.1L1683.4 523.9L1684.5 521.7L1684.1 519.5L1683.5 517.3L1683.2 515.1L1684.1 512.9L1684.3 510.7L1684.4 508.5L1684.1 506.3L1683.9 504.1L1683.5 501.9L1684.3 499.7L1684.2 497.5L1683.7 495.3L1683.8 493.1L1684.1 490.9L1684.1 488.7L1684 486.5L1683.5 484.3L1683.5 482.1L1684.6 479.9L1683.4 477.7L1684 475.5L1683.8 473.3L1683.7 471.1L1684.8 468.9L1683.2 466.7L1684.6 464.5L1684.6 462.3L1683.4 460.1L1684.2 457.9L1684.5 455.7L1683.3 453.5L1683.3 451.3L1683.7 449.1L1684.8 446.9L1683.7 444.7L1684.8 442.5L1683.9 440.3L1684.4 438.1L1684.2 435.9L1684.5 433.7L1683.7 431.5L1683.4 429.3L1684.5 427.1L1684.4 424.9L1684.2 422.7L1684.7 420.5L1683.5 418.3L1684.7 416.1L1684.3 413.9L1684.8 411.7L1684.3 409.5L1684 407.3L1683.6 405.1L1685 402.9L1685 400.7L1684.6 398.5L1684.6 396.3L1683.8 394.1L1684.7 391.9L1683.6 389.7L1684.6 387.5L1684.6 385.3L1684.6 383.1L1684 380.9L1684 378.7L1683.9 376.5L1684.7 374.3L1683.5 372.1L1685.1 369.9L1684.3 367.7L1684.5 365.5L1683.9 363.3L1684.5 361.1L1685.2 358.9L1684.4 356.7L1684.1 354.5L1684.3 352.3L1683.7 350.1L1684.1 347.9L1684.5 345.7L1684.4 343.5L1685 341.3L1684.2 339.1L1684.1 336.9L1683.6 334.7L1684 332.5L1684.2 330.3L1685.2 328.1L1684.1 325.9L1684.2 323.7L1684.6 321.5L1683.9 319.3L1685 317.1L1684 314.9L1684.5 312.7L1685.5 310.5L1685.6 308.3L1685.2 306.1L1684.8 303.9L1684.9 301.7L1684 299.5L1685.2 297.3L1684.5 295.1L1684.6 292.9L1684.7 290.7L1685.1 288.5L1685.8 286.3L1685.9 284.1L1685.3 281.9L1685.4 279.7L1684.5 277.5L1684.4 275.3L1685.3 273.1L1685.5 270.9L1684.8 268.7L1686 266.5L1684.1 264.3L1685.1 262.1L1684.9 259.9L1686 257.7L1686.4 255.5L1685.2 253.3L1685.1 251.1L1685.4 248.9L1684.9 246.7L1685.6 244.5L1684.5 242.3L1686.4 240.1L1686.6 237.9L1684.6 235.7L1686 233.5L1685.9 231.3L1686.2 229.1L1685.6 226.9L1685.6 224.7L1685.5 222.5L1687.5 220.3L1686.1 218.1L1687.7 215.9L1687.1 213.7L1685.7 211.5L1687.8 209.3L1687 207.1L1686.3 204.9L1687.9 202.7L1687.3 200.5L1687.7 198.3L1687.7 196.1L1688.1 193.9L1686.6 191.7L1687 189.5L1686.9 187.3L1687.2 185.1L1688.3 182.9L1687.2 180.7L1690.3 178.5L1690.1 176.3L1690.1 174.1L1688.4 171.9L1688.6 169.7z" fill="url(#g10_1)" filter="url(#hb)"/>
<rect x="1642.9" y="173.7" width="75.9" height="552.6" filter="url(#nB)" mask="url(#mB)" opacity="1.0"/>
<rect x="1642.9" y="173.7" width="75.9" height="552.6" filter="url(#wB)"/>
</g>
<line x1="1642.3" y1="174" x2="1719.4" y2="174" stroke="#000" stroke-width="2.2"/>
<line x1="1642.9" y1="173.7" x2="1642.9" y2="726.3" stroke="#000" stroke-width="1.3"/>
<line x1="1718.8" y1="173.7" x2="1718.8" y2="726.3" stroke="#000" stroke-width="1.3"/>
<line x1="1642.4" y1="726.3" x2="1719.3" y2="726.3" stroke="#000" stroke-width="2.2"/>
<line x1="1642.9" y1="726.3" x2="1642.9" y2="733.3" stroke="#333" stroke-width="1"/>
<line x1="1680.8" y1="726.3" x2="1680.8" y2="733.3" stroke="#333" stroke-width="1"/>
<line x1="1718.8" y1="726.3" x2="1718.8" y2="733.3" stroke="#333" stroke-width="1"/>
<g clip-path="url(#c11)">
<rect x="1724.9" y="173.7" width="76.5" height="552.6" fill="url(#bgB)"/>
<rect x="1724.9" y="173.7" width="76.5" height="552.6" fill="url(#ts11)"/>
<path d="M1750.3 169.7L1748.9 171.9L1751.2 174.1L1751.1 176.3L1752 178.5L1751 180.7L1752.6 182.9L1752.9 185.1L1753.1 187.3L1751.9 189.5L1753.1 191.7L1753.1 193.9L1751.8 196.1L1753.6 198.3L1752.8 200.5L1753 202.7L1754.9 204.9L1754.3 207.1L1753.4 209.3L1753.2 211.5L1754 213.7L1753.2 215.9L1753.5 218.1L1754.4 220.3L1754.5 222.5L1755.2 224.7L1754 226.9L1755.9 229.1L1754.8 231.3L1754.3 233.5L1754 235.7L1754.1 237.9L1755 240.1L1754.4 242.3L1756.6 244.5L1755.2 246.7L1755.5 248.9L1755 251.1L1756.7 253.3L1756.5 255.5L1756.4 257.7L1756 259.9L1755.1 262.1L1757 264.3L1755.5 266.5L1757.1 268.7L1755.3 270.9L1756.5 273.1L1756 275.3L1756.9 277.5L1757 279.7L1755.7 281.9L1756.4 284.1L1755.6 286.3L1756.1 288.5L1757.2 290.7L1756.5 292.9L1755.5 295.1L1756.3 297.3L1756.6 299.5L1757.4 301.7L1757.1 303.9L1756.1 306.1L1756.3 308.3L1756.2 310.5L1756.8 312.7L1756.3 314.9L1756.4 317.1L1755.9 319.3L1756.5 321.5L1756.5 323.7L1756.6 325.9L1755.9 328.1L1757.6 330.3L1757.5 332.5L1756.3 334.7L1756.3 336.9L1757.1 339.1L1756.4 341.3L1757.1 343.5L1756.1 345.7L1757.3 347.9L1757.5 350.1L1757.6 352.3L1756.7 354.5L1757 356.7L1757.4 358.9L1756.4 361.1L1757.3 363.3L1757.8 365.5L1757.1 367.7L1756.5 369.9L1757.9 372.1L1757.9 374.3L1756.9 376.5L1756.7 378.7L1756.4 380.9L1757.2 383.1L1757.9 385.3L1756.8 387.5L1758 389.7L1757.8 391.9L1757.5 394.1L1756.9 396.3L1756.9 398.5L1756.5 400.7L1757.5 402.9L1758.2 405.1L1757.6 407.3L1758.1 409.5L1757 411.7L1756.7 413.9L1756.8 416.1L1757.6 418.3L1756.9 420.5L1758.1 422.7L1758.1 424.9L1757.5 427.1L1757.4 429.3L1758 431.5L1758 433.7L1757.5 435.9L1757.3 438.1L1757.8 440.3L1757.5 442.5L1757.7 444.7L1758.4 446.9L1757.6 449.1L1757.3 451.3L1758.4 453.5L1756.9 455.7L1757 457.9L1757.5 460.1L1757.4 462.3L1757.2 464.5L1757.6 466.7L1757.7 468.9L1758.2 471.1L1757.6 473.3L1758 475.5L1757.4 477.7L1758.1 479.9L1757.8 482.1L1757.3 484.3L1757.2 486.5L1757.9 488.7L1757.8 490.9L1757.4 493.1L1757.3 495.3L1758.5 497.5L1757.2 499.7L1757.8 501.9L1757.2 504.1L1758.4 506.3L1758 508.5L1757.7 510.7L1758.1 512.9L1757.8 515.1L1757.5 517.3L1758.3 519.5L1758.5 521.7L1758.2 523.9L1757.3 526.1L1758.2 528.3L1758.5 530.5L1757.5 532.7L1757.6 534.9L1757.7 537.1L1757.6 539.3L1757.8 541.5L1758.6 543.7L1758.5 545.9L1757.5 548.1L1757.4 550.3L1757.8 552.5L1757.2 554.7L1757.8 556.9L1758.6 559.1L1757.8 561.3L1757.4 563.5L1757.3 565.7L1757.7 567.9L1757.3 570.1L1757.6 572.3L1757.6 574.5L1758.5 576.7L1757.8 578.9L1757.5 581.1L1758.2 583.3L1758.2 585.5L1758 587.7L1758.7 589.9L1758.5 592.1L1758.1 594.3L1757.6 596.5L1758.7 598.7L1757.4 600.9L1757.6 603.1L1757.9 605.3L1758.6 607.5L1758.5 609.7L1757.9 611.9L1758 614.1L1757.3 616.3L1757.8 618.5L1758.6 620.7L1757.9 622.9L1757.5 625.1L1757.3 627.3L1758.2 629.5L1758.2 631.7L1757.7 633.9L1758.3 636.1L1757.8 638.3L1758.2 640.5L1757.8 642.7L1758.6 644.9L1757.4 647.1L1758.8 649.3L1758.3 651.5L1758.1 653.7L1757.7 655.9L1758.1 658.1L1757.3 660.3L1757.5 662.5L1758 664.7L1757.7 666.9L1758.5 669.1L1757.9 671.3L1758.7 673.5L1757.6 675.7L1758.8 677.9L1758.8 680.1L1758.2 682.3L1757.5 684.5L1758 686.7L1758.7 688.9L1757.7 691.1L1758.2 693.3L1757.9 695.5L1757.8 697.7L1757.8 699.9L1758.9 702.1L1757.5 704.3L1757.5 706.5L1758.3 708.7L1758.6 710.9L1758.2 713.1L1758.5 715.3L1757.8 717.5L1757.8 719.7L1758.6 721.9L1757.8 724.1L1758 726.3L1757.6 728.5L1768.3 728.5L1767.6 726.3L1767.8 724.1L1768.8 721.9L1768.8 719.7L1767.7 717.5L1768.8 715.3L1768.7 713.1L1767.9 710.9L1767.7 708.7L1767.4 706.5L1768.8 704.3L1768.4 702.1L1768.7 699.9L1767.5 697.7L1768 695.5L1767.7 693.3L1768.7 691.1L1767.4 688.9L1767.6 686.7L1767.5 684.5L1767.8 682.3L1767.5 680.1L1768 677.9L1768.9 675.7L1767.5 673.5L1768 671.3L1768.3 669.1L1768 666.9L1768.3 664.7L1767.9 662.5L1767.9 660.3L1768.2 658.1L1768.8 655.9L1767.9 653.7L1768 651.5L1767.5 649.3L1768.8 647.1L1767.9 644.9L1768.8 642.7L1767.8 640.5L1768.8 638.3L1768.4 636.1L1767.5 633.9L1767.7 631.7L1768.7 629.5L1768.4 627.3L1768.9 625.1L1767.8 622.9L1768.9 620.7L1768.4 618.5L1767.9 616.3L1768.1 614.1L1768.2 611.9L1768.5 609.7L1768.7 607.5L1768.4 605.3L1768.4 603.1L1768.9 600.9L1768.1 598.7L1767.7 596.5L1768.9 594.3L1768.1 592.1L1768.5 589.9L1768.5 587.7L1769 585.5L1768.8 583.3L1768.9 581.1L1769 578.9L1767.6 576.7L1768.3 574.5L1768.3 572.3L1768.8 570.1L1768.4 567.9L1768.7 565.7L1768.6 563.5L1768.4 561.3L1767.7 559.1L1768.7 556.9L1768.8 554.7L1768.8 552.5L1768.6 550.3L1768.5 548.1L1768.2 545.9L1768.1 543.7L1768.9 541.5L1769.1 539.3L1769.2 537.1L1768.6 534.9L1768.7 532.7L1768.1 530.5L1768.5 528.3L1767.8 526.1L1768.4 523.9L1768.8 521.7L1769.1 519.5L1768.7 517.3L1768.5 515.1L1768.8 512.9L1768.8 510.7L1768.9 508.5L1769.3 506.3L1768.6 504.1L1768.6 501.9L1768 499.7L1767.8 497.5L1768.7 495.3L1768.4 493.1L1768.6 490.9L1768.1 488.7L1768.5 486.5L1768.7 484.3L1768.5 482.1L1769 479.9L1767.9 477.7L1769.3 475.5L1769.3 473.3L1768.8 471.1L1768.3 468.9L1769.2 466.7L1769.5 464.5L1768 462.3L1768.6 460.1L1768.4 457.9L1768.4 455.7L1769.4 453.5L1768.8 451.3L1768.7 449.1L1768 446.9L1768.1 444.7L1769.4 442.5L1769 440.3L1768 438.1L1768.4 435.9L1769 433.7L1769.1 431.5L1769.5 429.3L1768.3 427.1L1768.5 424.9L1768.6 422.7L1768.9 420.5L1768.1 418.3L1768.9 416.1L1768.3 413.9L1769.4 411.7L1768.9 409.5L1768.1 407.3L1768.7 405.1L1769 402.9L1769.5 400.7L1769.6 398.5L1769.6 396.3L1768.2 394.1L1768.5 391.9L1768.8 389.7L1768.6 387.5L1768.9 385.3L1769.1 383.1L1769.9 380.9L1768.3 378.7L1769.1 376.5L1768.5 374.3L1769.2 372.1L1768.3 369.9L1769.9 367.7L1768.7 365.5L1769.6 363.3L1768.5 361.1L1769.6 358.9L1770 356.7L1769.5 354.5L1769.1 352.3L1770.1 350.1L1769.2 347.9L1769.4 345.7L1769.5 343.5L1769.3 341.3L1769.7 339.1L1768.5 336.9L1768.9 334.7L1769.3 332.5L1769.2 330.3L1768.6 328.1L1769.3 325.9L1769.1 323.7L1770.3 321.5L1768.7 319.3L1769.6 317.1L1770.4 314.9L1769.1 312.7L1769 310.5L1769.6 308.3L1770.6 306.1L1770.1 303.9L1768.8 301.7L1769.6 299.5L1769.7 297.3L1769.6 295.1L1769.7 292.9L1770.9 290.7L1770.6 288.5L1769.6 286.3L1769.2 284.1L1770.9 281.9L1771.1 279.7L1770.9 277.5L1770.8 275.3L1769.2 273.1L1771.2 270.9L1770.8 268.7L1771.2 266.5L1770.8 264.3L1769.4 262.1L1770.7 259.9L1770.8 257.7L1769.8 255.5L1771.4 253.3L1769.9 251.1L1770.3 248.9L1771.6 246.7L1770.7 244.5L1771.6 242.3L1771 240.1L1771.3 237.9L1771.7 235.7L1770.4 233.5L1770.4 231.3L1771.6 229.1L1770.6 226.9L1772.1 224.7L1771.4 222.5L1771.4 220.3L1772.4 218.1L1772.8 215.9L1773.4 213.7L1773.1 211.5L1771.5 209.3L1774 207.1L1773.4 204.9L1771.5 202.7L1773.1 200.5L1771.8 198.3L1772.9 196.1L1774.6 193.9L1775.4 191.7L1775.8 189.5L1775.4 187.3L1774.4 185.1L1773.5 182.9L1776.6 180.7L1775.8 178.5L1774.2 176.3L1774.5 174.1L1776.1 171.9L1777.2 169.7z" fill="url(#g11_0)" filter="url(#hb2)"/>
<path d="M1755.9 169.7L1757.8 171.9L1755.7 174.1L1755.2 176.3L1755.6 178.5L1757.9 180.7L1756.6 182.9L1756.1 185.1L1756.9 187.3L1758.3 189.5L1757 191.7L1756.3 193.9L1757.6 196.1L1758.8 198.3L1756.7 200.5L1757.7 202.7L1759.2 204.9L1758.9 207.1L1758.4 209.3L1757.6 211.5L1759.6 213.7L1759.1 215.9L1758.1 218.1L1757.9 220.3L1759.2 222.5L1759.1 224.7L1759.3 226.9L1759 229.1L1758 231.3L1759.9 233.5L1758.2 235.7L1759 237.9L1760 240.1L1758.3 242.3L1759.1 244.5L1759.5 246.7L1759.8 248.9L1759.1 251.1L1760.1 253.3L1760.3 255.5L1758.6 257.7L1759 259.9L1759.5 262.1L1758.8 264.3L1759 266.5L1760.1 268.7L1759.7 270.9L1760.2 273.1L1759.6 275.3L1759.9 277.5L1759.6 279.7L1759.5 281.9L1759 284.1L1759.9 286.3L1759 288.5L1759.8 290.7L1759.4 292.9L1760.3 295.1L1759.2 297.3L1760 299.5L1760.6 301.7L1759.3 303.9L1760.5 306.1L1759.1 308.3L1760.6 310.5L1760.7 312.7L1760 314.9L1759.4 317.1L1759.8 319.3L1759.5 321.5L1759.8 323.7L1760 325.9L1760.2 328.1L1759.7 330.3L1760 332.5L1760.8 334.7L1760.1 336.9L1760.8 339.1L1760.5 341.3L1760.1 343.5L1760.8 345.7L1760 347.9L1760.3 350.1L1759.7 352.3L1759.8 354.5L1760.3 356.7L1760.5 358.9L1760.6 361.1L1760.3 363.3L1760.9 365.5L1760.5 367.7L1759.9 369.9L1759.9 372.1L1760.4 374.3L1760.6 376.5L1759.7 378.7L1760.1 380.9L1760.2 383.1L1760.9 385.3L1759.6 387.5L1760.7 389.7L1760.6 391.9L1760.7 394.1L1760.3 396.3L1760.8 398.5L1760.3 400.7L1759.8 402.9L1760.6 405.1L1760.4 407.3L1760.4 409.5L1761.1 411.7L1759.9 413.9L1760.2 416.1L1760.3 418.3L1759.7 420.5L1760 422.7L1760.3 424.9L1760.4 427.1L1760.8 429.3L1760.6 431.5L1760.5 433.7L1761.1 435.9L1759.9 438.1L1760 440.3L1760.4 442.5L1760.2 444.7L1759.9 446.9L1760.5 449.1L1760.7 451.3L1760.8 453.5L1760.6 455.7L1760.3 457.9L1760.6 460.1L1760.7 462.3L1760.7 464.5L1760.4 466.7L1760 468.9L1761 471.1L1761 473.3L1761 475.5L1761.1 477.7L1760.9 479.9L1761 482.1L1760.1 484.3L1761.1 486.5L1761.2 488.7L1760.8 490.9L1760.2 493.1L1760.3 495.3L1760.6 497.5L1760.8 499.7L1760.2 501.9L1760.4 504.1L1760 506.3L1760.1 508.5L1760 510.7L1760.5 512.9L1761 515.1L1760.3 517.3L1760.2 519.5L1760.1 521.7L1760.3 523.9L1760.4 526.1L1760.5 528.3L1761 530.5L1760.4 532.7L1760.8 534.9L1761 537.1L1760.3 539.3L1760.9 541.5L1760.1 543.7L1760.8 545.9L1760.7 548.1L1760.3 550.3L1760.2 552.5L1760.3 554.7L1760.7 556.9L1760.8 559.1L1760.6 561.3L1760.6 563.5L1760.4 565.7L1760.7 567.9L1760.2 570.1L1760.7 572.3L1760.2 574.5L1760.6 576.7L1760.4 578.9L1760.9 581.1L1760.4 583.3L1760.8 585.5L1760.7 587.7L1760.7 589.9L1761.1 592.1L1760.8 594.3L1761.2 596.5L1760.8 598.7L1760.9 600.9L1761 603.1L1760.6 605.3L1760.2 607.5L1761.2 609.7L1760.7 611.9L1760.3 614.1L1760.2 616.3L1760.2 618.5L1761.2 620.7L1760.2 622.9L1760.7 625.1L1760.9 627.3L1760.6 629.5L1760.2 631.7L1761.3 633.9L1760.9 636.1L1760.3 638.3L1760.5 640.5L1761.2 642.7L1760.3 644.9L1761.2 647.1L1761 649.3L1760.6 651.5L1760.6 653.7L1760.8 655.9L1760.4 658.1L1760.9 660.3L1760.9 662.5L1760.3 664.7L1761.2 666.9L1760.3 669.1L1761.2 671.3L1760.9 673.5L1761.4 675.7L1760.8 677.9L1760.3 680.1L1760.9 682.3L1760.8 684.5L1760.4 686.7L1760.4 688.9L1760.4 691.1L1761.3 693.3L1760.5 695.5L1761.3 697.7L1761 699.9L1760.8 702.1L1760.6 704.3L1760.6 706.5L1760.4 708.7L1760.5 710.9L1761 713.1L1760.5 715.3L1760.4 717.5L1760.6 719.7L1761 721.9L1760.6 724.1L1761 726.3L1760.6 728.5L1765.7 728.5L1764.9 726.3L1765.3 724.1L1765.3 721.9L1765.6 719.7L1765 717.5L1765.1 715.3L1765.2 713.1L1765.9 710.9L1765.7 708.7L1765.9 706.5L1765.9 704.3L1765 702.1L1765 699.9L1765.6 697.7L1765 695.5L1765.4 693.3L1764.9 691.1L1766.1 688.9L1765.1 686.7L1765.8 684.5L1766.1 682.3L1765.5 680.1L1765.5 677.9L1765 675.7L1765.4 673.5L1764.9 671.3L1765.3 669.1L1765.9 666.9L1765.7 664.7L1765.1 662.5L1765.7 660.3L1765.8 658.1L1765.6 655.9L1765.2 653.7L1765 651.5L1765.2 649.3L1765.9 647.1L1765 644.9L1765.7 642.7L1765.7 640.5L1765.8 638.3L1765.4 636.1L1765.3 633.9L1765.4 631.7L1765.1 629.5L1765.2 627.3L1765.4 625.1L1765.4 622.9L1765.3 620.7L1765 618.5L1766 616.3L1765.1 614.1L1766.1 611.9L1766 609.7L1765.5 607.5L1766.1 605.3L1765.6 603.1L1765.5 600.9L1765.6 598.7L1765.3 596.5L1765.4 594.3L1765.9 592.1L1765.8 589.9L1765.2 587.7L1765.7 585.5L1765.9 583.3L1765.3 581.1L1765.6 578.9L1766.2 576.7L1765.4 574.5L1765.2 572.3L1765.9 570.1L1765.6 567.9L1765.4 565.7L1765.9 563.5L1766.1 561.3L1765.9 559.1L1765.5 556.9L1765.8 554.7L1766 552.5L1765.8 550.3L1765.2 548.1L1765.8 545.9L1766.1 543.7L1765.2 541.5L1765.1 539.3L1765.2 537.1L1766.3 534.9L1766.2 532.7L1765.1 530.5L1765.9 528.3L1765.8 526.1L1765.6 523.9L1765.3 521.7L1765.6 519.5L1765.8 517.3L1766 515.1L1766.2 512.9L1766.1 510.7L1765.5 508.5L1765.9 506.3L1766 504.1L1765.7 501.9L1765.2 499.7L1765.9 497.5L1765.4 495.3L1765.8 493.1L1765.1 490.9L1766.2 488.7L1765.6 486.5L1766.1 484.3L1765.4 482.1L1765.6 479.9L1766.4 477.7L1766.2 475.5L1766.1 473.3L1765.3 471.1L1765.8 468.9L1765.5 466.7L1765.8 464.5L1765.5 462.3L1765.4 460.1L1765.7 457.9L1765.9 455.7L1765.4 453.5L1765.4 451.3L1766.4 449.1L1766.1 446.9L1766.3 444.7L1765.4 442.5L1765.7 440.3L1766 438.1L1765.7 435.9L1765.8 433.7L1765.4 431.5L1765.4 429.3L1765.7 427.1L1765.7 424.9L1765.9 422.7L1765.4 420.5L1766.1 418.3L1765.8 416.1L1765.8 413.9L1766.1 411.7L1766.1 409.5L1766.2 407.3L1765.4 405.1L1765.8 402.9L1765.9 400.7L1766.2 398.5L1766.3 396.3L1766.3 394.1L1765.5 391.9L1766.2 389.7L1765.4 387.5L1766.5 385.3L1766.3 383.1L1766.6 380.9L1765.6 378.7L1765.7 376.5L1765.5 374.3L1766.8 372.1L1766.3 369.9L1766.4 367.7L1766 365.5L1766.1 363.3L1766.7 361.1L1765.8 358.9L1765.5 356.7L1766.5 354.5L1766.1 352.3L1765.8 350.1L1766.4 347.9L1766.6 345.7L1766.5 343.5L1766.9 341.3L1766.9 339.1L1765.5 336.9L1766.9 334.7L1766.4 332.5L1766.7 330.3L1765.6 328.1L1767 325.9L1765.6 323.7L1766.8 321.5L1766.3 319.3L1766.5 317.1L1766.3 314.9L1767 312.7L1766.8 310.5L1767.2 308.3L1765.7 306.1L1766.3 303.9L1766.2 301.7L1765.9 299.5L1766.6 297.3L1766.7 295.1L1766.7 292.9L1765.9 290.7L1765.9 288.5L1767.3 286.3L1766.9 284.1L1765.9 281.9L1766.9 279.7L1766.2 277.5L1766.4 275.3L1766.8 273.1L1767.3 270.9L1767 268.7L1767.5 266.5L1765.9 264.3L1766.3 262.1L1766.7 259.9L1767.2 257.7L1767.4 255.5L1766.1 253.3L1767.1 251.1L1767.4 248.9L1767.1 246.7L1767.3 244.5L1767.7 242.3L1766.2 240.1L1766.6 237.9L1768.1 235.7L1766.8 233.5L1768.1 231.3L1767.8 229.1L1767.1 226.9L1767 224.7L1767.6 222.5L1768.7 220.3L1768 218.1L1767.1 215.9L1767.9 213.7L1767.1 211.5L1767 209.3L1767.5 207.1L1767.9 204.9L1768.3 202.7L1768.9 200.5L1767.8 198.3L1769.7 196.1L1769.3 193.9L1769.3 191.7L1768 189.5L1770.4 187.3L1769.7 185.1L1770.4 182.9L1770.2 180.7L1770.3 178.5L1769.4 176.3L1770.6 174.1L1771.5 171.9L1771 169.7z" fill="url(#g11_1)" filter="url(#hb)"/>
<rect x="1724.9" y="173.7" width="76.5" height="552.6" filter="url(#nB)" mask="url(#mB)" opacity="0.95"/>
<rect x="1724.9" y="173.7" width="76.5" height="552.6" filter="url(#wB)"/>
</g>
<line x1="1724.3" y1="174" x2="1802" y2="174" stroke="#000" stroke-width="2.2"/>
<line x1="1724.9" y1="173.7" x2="1724.9" y2="726.3" stroke="#000" stroke-width="1.3"/>
<line x1="1801.4" y1="173.7" x2="1801.4" y2="726.3" stroke="#000" stroke-width="1.3"/>
<line x1="1724.4" y1="726.3" x2="1801.9" y2="726.3" stroke="#000" stroke-width="2.2"/>
<line x1="1724.9" y1="726.3" x2="1724.9" y2="733.3" stroke="#333" stroke-width="1"/>
<line x1="1763.2" y1="726.3" x2="1763.2" y2="733.3" stroke="#333" stroke-width="1"/>
<line x1="1801.4" y1="726.3" x2="1801.4" y2="733.3" stroke="#333" stroke-width="1"/>
<g clip-path="url(#c12)">
<rect x="1806.9" y="173.7" width="76.3" height="552.6" fill="url(#bgB)"/>
<rect x="1806.9" y="173.7" width="76.3" height="552.6" fill="url(#ts12)"/>
<path d="M1830.8 169.7L1832.7 171.9L1832.2 174.1L1831.4 176.3L1831.1 178.5L1833.3 180.7L1832.9 182.9L1834.5 185.1L1833.7 187.3L1834.6 189.5L1833.4 191.7L1833.8 193.9L1835.3 196.1L1836.2 198.3L1834.6 200.5L1836.2 202.7L1836.9 204.9L1834.7 207.1L1836.1 209.3L1835.9 211.5L1835.7 213.7L1835.5 215.9L1836.9 218.1L1836.2 220.3L1835.8 222.5L1836.9 224.7L1837.8 226.9L1836.2 229.1L1838 231.3L1837.5 233.5L1836.5 235.7L1837.8 237.9L1838 240.1L1837.7 242.3L1837.7 244.5L1837.2 246.7L1836.7 248.9L1838 251.1L1836.5 253.3L1838 255.5L1838.8 257.7L1836.8 259.9L1838.3 262.1L1837.5 264.3L1838.5 266.5L1838.3 268.7L1838.4 270.9L1838 273.1L1838.1 275.3L1837.7 277.5L1838.3 279.7L1837.3 281.9L1838.3 284.1L1838.2 286.3L1837.7 288.5L1839.2 290.7L1838.3 292.9L1838.5 295.1L1838.7 297.3L1838.4 299.5L1838.9 301.7L1839.4 303.9L1838.9 306.1L1839 308.3L1837.9 310.5L1837.7 312.7L1838.1 314.9L1838.7 317.1L1839.4 319.3L1839.4 321.5L1839.1 323.7L1837.8 325.9L1839.5 328.1L1838.8 330.3L1839.4 332.5L1839.2 334.7L1838.5 336.9L1838.8 339.1L1838.7 341.3L1838.3 343.5L1839.1 345.7L1838.9 347.9L1839.4 350.1L1839.4 352.3L1839.1 354.5L1838.1 356.7L1838.2 358.9L1839.2 361.1L1839.7 363.3L1839.4 365.5L1839.2 367.7L1839.3 369.9L1839.8 372.1L1839.8 374.3L1839.2 376.5L1839.1 378.7L1839.6 380.9L1839.3 383.1L1838.8 385.3L1839 387.5L1839 389.7L1839.3 391.9L1838.3 394.1L1838.4 396.3L1839.3 398.5L1838.4 400.7L1839.7 402.9L1838.7 405.1L1839.2 407.3L1838.6 409.5L1838.8 411.7L1839.6 413.9L1839.4 416.1L1838.7 418.3L1838.7 420.5L1839.4 422.7L1840.1 424.9L1839 427.1L1839.6 429.3L1839.2 431.5L1838.7 433.7L1838.9 435.9L1839.3 438.1L1839.7 440.3L1840.2 442.5L1839.6 444.7L1840 446.9L1839.9 449.1L1838.9 451.3L1838.9 453.5L1840.2 455.7L1839.8 457.9L1840 460.1L1839.3 462.3L1839.8 464.5L1840.3 466.7L1840.2 468.9L1838.7 471.1L1839.2 473.3L1839.4 475.5L1840.1 477.7L1839.9 479.9L1839.6 482.1L1839.9 484.3L1840.1 486.5L1839.4 488.7L1839.5 490.9L1840.3 493.1L1840.3 495.3L1839 497.5L1839.1 499.7L1839.7 501.9L1840.2 504.1L1839 506.3L1839.2 508.5L1839.6 510.7L1840.1 512.9L1839.4 515.1L1839.7 517.3L1839.5 519.5L1839.9 521.7L1839.6 523.9L1840.2 526.1L1839.4 528.3L1839.4 530.5L1840 532.7L1839.8 534.9L1840.5 537.1L1839 539.3L1839.9 541.5L1839.1 543.7L1839.5 545.9L1839.5 548.1L1840.3 550.3L1839.6 552.5L1840.3 554.7L1839.8 556.9L1840.1 559.1L1839.5 561.3L1840.1 563.5L1840.1 565.7L1839.1 567.9L1839.9 570.1L1840.5 572.3L1840.3 574.5L1839.3 576.7L1840.4 578.9L1840.1 581.1L1839.7 583.3L1839.6 585.5L1839.8 587.7L1840 589.9L1840.1 592.1L1839.5 594.3L1840.4 596.5L1840.6 598.7L1840.2 600.9L1840 603.1L1839.5 605.3L1839.6 607.5L1840.6 609.7L1840.5 611.9L1839.9 614.1L1840.6 616.3L1839.6 618.5L1840.2 620.7L1839.5 622.9L1840.3 625.1L1840.5 627.3L1840 629.5L1839.4 631.7L1839.3 633.9L1840.7 636.1L1839.8 638.3L1840.1 640.5L1840.4 642.7L1840.2 644.9L1840.5 647.1L1839.3 649.3L1839.5 651.5L1839.9 653.7L1839.7 655.9L1839.4 658.1L1840.3 660.3L1839.5 662.5L1840.4 664.7L1840 666.9L1840.5 669.1L1839.3 671.3L1839.8 673.5L1839.7 675.7L1840.5 677.9L1839.5 680.1L1840.3 682.3L1839.4 684.5L1839.5 686.7L1840 688.9L1840.2 691.1L1840 693.3L1839.7 695.5L1839.7 697.7L1840.6 699.9L1839.3 702.1L1840.4 704.3L1840.6 706.5L1840.2 708.7L1839.7 710.9L1840.4 713.1L1840.7 715.3L1840.7 717.5L1840 719.7L1840.5 721.9L1840.6 724.1L1839.6 726.3L1839.4 728.5L1850.3 728.5L1849.5 726.3L1850 724.1L1850.4 721.9L1849.9 719.7L1849.9 717.5L1849.9 715.3L1850.7 713.1L1850.5 710.9L1849.4 708.7L1849.9 706.5L1850.7 704.3L1849.9 702.1L1850.7 699.9L1850.6 697.7L1849.5 695.5L1850.3 693.3L1849.6 691.1L1850.8 688.9L1850.2 686.7L1849.5 684.5L1849.5 682.3L1849.9 680.1L1850 677.9L1849.5 675.7L1849.9 673.5L1849.5 671.3L1850.3 669.1L1850.8 666.9L1849.9 664.7L1850.3 662.5L1850.2 660.3L1850.3 658.1L1850.5 655.9L1850.5 653.7L1850.3 651.5L1850.6 649.3L1849.7 647.1L1850.1 644.9L1849.6 642.7L1850.2 640.5L1850.8 638.3L1850.6 636.1L1849.9 633.9L1850.4 631.7L1849.5 629.5L1850.7 627.3L1849.9 625.1L1850.6 622.9L1850.4 620.7L1849.5 618.5L1850.4 616.3L1850.5 614.1L1849.8 611.9L1850 609.7L1849.9 607.5L1849.7 605.3L1849.8 603.1L1849.8 600.9L1849.4 598.7L1849.6 596.5L1849.9 594.3L1850.7 592.1L1849.9 589.9L1850.6 587.7L1849.7 585.5L1849.8 583.3L1850.2 581.1L1849.5 578.9L1849.5 576.7L1850.3 574.5L1850.5 572.3L1850.7 570.1L1850.1 567.9L1850.3 565.7L1849.6 563.5L1850.6 561.3L1850.7 559.1L1850.7 556.9L1850.4 554.7L1850 552.5L1849.6 550.3L1850.6 548.1L1850.7 545.9L1850.4 543.7L1849.6 541.5L1849.7 539.3L1850.9 537.1L1849.6 534.9L1850.7 532.7L1850 530.5L1849.6 528.3L1850.6 526.1L1850.6 523.9L1850.5 521.7L1850.6 519.5L1851.2 517.3L1850.1 515.1L1850.8 512.9L1850.2 510.7L1850.6 508.5L1850.2 506.3L1850.9 504.1L1850.9 501.9L1849.7 499.7L1850.8 497.5L1849.8 495.3L1850.5 493.1L1849.9 490.9L1851.1 488.7L1850.5 486.5L1850.3 484.3L1849.7 482.1L1849.9 479.9L1849.9 477.7L1850.6 475.5L1850.8 473.3L1850.3 471.1L1851.3 468.9L1850.5 466.7L1849.8 464.5L1850 462.3L1850.2 460.1L1850.8 457.9L1850.1 455.7L1850.3 453.5L1850.8 451.3L1849.8 449.1L1851.3 446.9L1850 444.7L1851.4 442.5L1850.3 440.3L1850.3 438.1L1851.4 435.9L1851.4 433.7L1850.9 431.5L1850.8 429.3L1850.4 427.1L1851.3 424.9L1851.2 422.7L1851 420.5L1851.3 418.3L1851.3 416.1L1851.3 413.9L1851.3 411.7L1851 409.5L1851.3 407.3L1850.7 405.1L1850.6 402.9L1850.7 400.7L1850.4 398.5L1851.3 396.3L1850.9 394.1L1851 391.9L1850.7 389.7L1850.8 387.5L1850.7 385.3L1850.7 383.1L1851.8 380.9L1850.2 378.7L1851.3 376.5L1851 374.3L1851 372.1L1851.4 369.9L1851.9 367.7L1851.8 365.5L1851.2 363.3L1850.6 361.1L1851.2 358.9L1851.9 356.7L1850.4 354.5L1850.8 352.3L1850.9 350.1L1851.6 347.9L1851 345.7L1851.4 343.5L1851.6 341.3L1852.2 339.1L1851.2 336.9L1852.3 334.7L1851.4 332.5L1851.7 330.3L1851.7 328.1L1851 325.9L1852.3 323.7L1851.8 321.5L1851.2 319.3L1851.2 317.1L1851.1 314.9L1851.9 312.7L1850.7 310.5L1852.5 308.3L1852.5 306.1L1852.5 303.9L1851.3 301.7L1851.1 299.5L1852.1 297.3L1850.8 295.1L1852.5 292.9L1852.3 290.7L1851.9 288.5L1851.4 286.3L1852.2 284.1L1852.7 281.9L1852.4 279.7L1852 277.5L1852.6 275.3L1853.1 273.1L1852.7 270.9L1852.7 268.7L1851.6 266.5L1853.1 264.3L1851.4 262.1L1852.3 259.9L1853.1 257.7L1853.5 255.5L1851.8 253.3L1852.2 251.1L1852 248.9L1852.9 246.7L1853 244.5L1852.3 242.3L1851.7 240.1L1853.9 237.9L1853.3 235.7L1852.7 233.5L1854.2 231.3L1852.3 229.1L1853.2 226.9L1854.6 224.7L1853.9 222.5L1853.8 220.3L1853.9 218.1L1854.2 215.9L1853.7 213.7L1853.6 211.5L1854.6 209.3L1854.2 207.1L1855.8 204.9L1853.7 202.7L1855.1 200.5L1855.4 198.3L1856.2 196.1L1854.7 193.9L1857.4 191.7L1854.7 189.5L1855.7 187.3L1857.3 185.1L1857.5 182.9L1856.1 180.7L1857.1 178.5L1856.9 176.3L1858.2 174.1L1857.5 171.9L1857.3 169.7z" fill="url(#g12_0)" filter="url(#hb2)"/>
<path d="M1838.9 169.7L1838.8 171.9L1839 174.1L1838.8 176.3L1837.8 178.5L1837.5 180.7L1839.6 182.9L1839 185.1L1837.9 187.3L1839.7 189.5L1840 191.7L1839.2 193.9L1839.2 196.1L1838.4 198.3L1838.9 200.5L1838.9 202.7L1841.1 204.9L1840.7 207.1L1840.9 209.3L1839.4 211.5L1840.1 213.7L1841.2 215.9L1839.9 218.1L1841.5 220.3L1841.7 222.5L1840.2 224.7L1839.8 226.9L1840.5 229.1L1841.8 231.3L1840.3 233.5L1840.1 235.7L1842 237.9L1842 240.1L1841.3 242.3L1842.1 244.5L1841.7 246.7L1841.3 248.9L1840.9 251.1L1841.6 253.3L1841.3 255.5L1842 257.7L1840.5 259.9L1841.9 262.1L1841.7 264.3L1841.5 266.5L1841.3 268.7L1840.7 270.9L1841 273.1L1841.7 275.3L1840.7 277.5L1841.4 279.7L1841.1 281.9L1841.1 284.1L1842.3 286.3L1841.9 288.5L1841.4 290.7L1842.5 292.9L1842.2 295.1L1841.3 297.3L1841.1 299.5L1841.3 301.7L1842.1 303.9L1842.2 306.1L1841.9 308.3L1841.4 310.5L1842.5 312.7L1841.6 314.9L1841.5 317.1L1841.2 319.3L1842.2 321.5L1842.3 323.7L1841.5 325.9L1841.6 328.1L1841.5 330.3L1842.4 332.5L1842.3 334.7L1842.6 336.9L1842 339.1L1841.7 341.3L1841.8 343.5L1842.4 345.7L1841.6 347.9L1841.9 350.1L1842.5 352.3L1841.6 354.5L1842.3 356.7L1842.3 358.9L1842.5 361.1L1842.3 363.3L1841.8 365.5L1841.6 367.7L1842.8 369.9L1842.3 372.1L1842.7 374.3L1842.7 376.5L1842.3 378.7L1842.8 380.9L1842.6 383.1L1841.6 385.3L1841.8 387.5L1842.1 389.7L1841.7 391.9L1842.9 394.1L1842.6 396.3L1842 398.5L1842.3 400.7L1841.8 402.9L1842.8 405.1L1842 407.3L1842.6 409.5L1842.5 411.7L1841.9 413.9L1841.9 416.1L1842.7 418.3L1841.8 420.5L1841.7 422.7L1842 424.9L1842.1 427.1L1842.2 429.3L1842.9 431.5L1842.6 433.7L1842 435.9L1842.4 438.1L1841.8 440.3L1842.9 442.5L1842.4 444.7L1842.5 446.9L1842.4 449.1L1841.8 451.3L1841.8 453.5L1842.2 455.7L1842.2 457.9L1843 460.1L1842 462.3L1842.7 464.5L1842 466.7L1842.7 468.9L1843.1 471.1L1842.2 473.3L1843 475.5L1842.6 477.7L1842.5 479.9L1842 482.1L1842.2 484.3L1842.2 486.5L1842.5 488.7L1843 490.9L1842.7 493.1L1842.5 495.3L1842.3 497.5L1843.1 499.7L1842.9 501.9L1842.2 504.1L1842.1 506.3L1842 508.5L1842.4 510.7L1842.3 512.9L1842.7 515.1L1842.8 517.3L1842.3 519.5L1842.5 521.7L1842 523.9L1843 526.1L1842.7 528.3L1842.1 530.5L1842.8 532.7L1842.7 534.9L1843.2 537.1L1842.5 539.3L1842.6 541.5L1842.6 543.7L1842.2 545.9L1842.2 548.1L1843 550.3L1842.2 552.5L1842.4 554.7L1842.1 556.9L1842.6 559.1L1842.5 561.3L1842.8 563.5L1842.2 565.7L1842.4 567.9L1842.5 570.1L1843.1 572.3L1842.1 574.5L1842.3 576.7L1842.1 578.9L1843.1 581.1L1843.1 583.3L1842.2 585.5L1843 587.7L1842.3 589.9L1843.1 592.1L1843 594.3L1842.7 596.5L1843 598.7L1842.7 600.9L1842.6 603.1L1842.7 605.3L1842.9 607.5L1842.1 609.7L1843.2 611.9L1842.8 614.1L1842.1 616.3L1842.9 618.5L1843.1 620.7L1842.3 622.9L1842.9 625.1L1842.1 627.3L1842.1 629.5L1842.9 631.7L1843 633.9L1842.1 636.1L1843 638.3L1843.3 640.5L1842.5 642.7L1842.5 644.9L1843 647.1L1842.2 649.3L1843.1 651.5L1843 653.7L1843.1 655.9L1843.3 658.1L1843 660.3L1843.2 662.5L1843 664.7L1842.4 666.9L1842.4 669.1L1842.7 671.3L1843.1 673.5L1843.2 675.7L1842.9 677.9L1843 680.1L1843.3 682.3L1843.3 684.5L1843.1 686.7L1842.4 688.9L1843 691.1L1842.5 693.3L1842.2 695.5L1843 697.7L1842.2 699.9L1842.2 702.1L1843.3 704.3L1842.4 706.5L1842.8 708.7L1842.3 710.9L1842.6 713.1L1842.3 715.3L1842.4 717.5L1842.4 719.7L1842.5 721.9L1842.7 724.1L1843.1 726.3L1843 728.5L1847.5 728.5L1847.5 726.3L1847.5 724.1L1846.8 721.9L1847.7 719.7L1847.8 717.5L1846.9 715.3L1846.9 713.1L1847.8 710.9L1847.3 708.7L1847 706.5L1847.6 704.3L1847.7 702.1L1846.9 699.9L1847.1 697.7L1847.2 695.5L1846.9 693.3L1847 691.1L1847.8 688.9L1847.5 686.7L1847.6 684.5L1847.3 682.3L1847.1 680.1L1847 677.9L1847.9 675.7L1847.1 673.5L1848 671.3L1847.3 669.1L1848 666.9L1846.9 664.7L1847 662.5L1847.5 660.3L1846.8 658.1L1847.1 655.9L1847.3 653.7L1847.6 651.5L1846.9 649.3L1847 647.1L1847.5 644.9L1847.5 642.7L1847.5 640.5L1847.4 638.3L1847.4 636.1L1847.7 633.9L1847.7 631.7L1847.4 629.5L1847.3 627.3L1847.1 625.1L1846.9 622.9L1847.6 620.7L1847.7 618.5L1847.3 616.3L1847.3 614.1L1847 611.9L1847.9 609.7L1847.1 607.5L1847.7 605.3L1847.9 603.1L1847.9 600.9L1848 598.7L1847.5 596.5L1847.8 594.3L1847 592.1L1847.2 589.9L1847.5 587.7L1847.3 585.5L1847.5 583.3L1847.1 581.1L1847.1 578.9L1847.1 576.7L1846.9 574.5L1847.1 572.3L1847.6 570.1L1847.8 567.9L1847.8 565.7L1848 563.5L1846.9 561.3L1847.7 559.1L1848 556.9L1847.3 554.7L1847.5 552.5L1847.6 550.3L1848 548.1L1847 545.9L1847.4 543.7L1847.9 541.5L1847.8 539.3L1848 537.1L1847.1 534.9L1847.8 532.7L1847.9 530.5L1847.2 528.3L1848.2 526.1L1847.3 523.9L1847.7 521.7L1847 519.5L1847 517.3L1847.8 515.1L1847.4 512.9L1847.7 510.7L1848 508.5L1847.3 506.3L1847.8 504.1L1848.1 501.9L1847.6 499.7L1848.1 497.5L1847.1 495.3L1847.4 493.1L1847.3 490.9L1848.2 488.7L1847.3 486.5L1847 484.3L1848.1 482.1L1847.8 479.9L1847.3 477.7L1848 475.5L1847.1 473.3L1847.8 471.1L1848.2 468.9L1847.5 466.7L1847.4 464.5L1847.9 462.3L1847.2 460.1L1848.3 457.9L1848.2 455.7L1847.8 453.5L1847.9 451.3L1847.3 449.1L1847.5 446.9L1847.1 444.7L1848.3 442.5L1847.8 440.3L1848.3 438.1L1848.3 435.9L1847.3 433.7L1847.3 431.5L1848 429.3L1848.1 427.1L1847.1 424.9L1847.5 422.7L1848.3 420.5L1847.8 418.3L1848.3 416.1L1847.7 413.9L1847.5 411.7L1847.5 409.5L1848.3 407.3L1847.3 405.1L1848.2 402.9L1847.6 400.7L1847.5 398.5L1847.5 396.3L1847.9 394.1L1848 391.9L1847.6 389.7L1847.4 387.5L1848.4 385.3L1847.3 383.1L1848 380.9L1847.9 378.7L1848.4 376.5L1848.3 374.3L1847.3 372.1L1847.5 369.9L1847.6 367.7L1847.7 365.5L1847.5 363.3L1847.5 361.1L1848 358.9L1848.7 356.7L1847.5 354.5L1847.9 352.3L1847.7 350.1L1847.6 347.9L1847.9 345.7L1847.7 343.5L1847.4 341.3L1847.9 339.1L1847.6 336.9L1848 334.7L1848.8 332.5L1848.3 330.3L1848.5 328.1L1848.8 325.9L1848.2 323.7L1848.4 321.5L1848.2 319.3L1847.9 317.1L1848.1 314.9L1848.5 312.7L1849 310.5L1848.6 308.3L1848.6 306.1L1849.1 303.9L1848.1 301.7L1848.6 299.5L1848 297.3L1848.9 295.1L1848.6 292.9L1848.2 290.7L1848.7 288.5L1848 286.3L1848.6 284.1L1848.7 281.9L1848.7 279.7L1848 277.5L1847.8 275.3L1848.8 273.1L1848.2 270.9L1847.9 268.7L1849.2 266.5L1849.1 264.3L1849.5 262.1L1849.7 259.9L1848.6 257.7L1849.1 255.5L1849.7 253.3L1849 251.1L1848.4 248.9L1848.7 246.7L1849.2 244.5L1848.4 242.3L1850 240.1L1848.4 237.9L1849.1 235.7L1848.5 233.5L1849.6 231.3L1849 229.1L1848.7 226.9L1848.4 224.7L1850.4 222.5L1849.5 220.3L1850.3 218.1L1849.7 215.9L1849.5 213.7L1850.5 211.5L1848.8 209.3L1851.2 207.1L1849.5 204.9L1850.2 202.7L1850.7 200.5L1851.1 198.3L1849.4 196.1L1851.1 193.9L1851.4 191.7L1852.1 189.5L1849.8 187.3L1852.1 185.1L1850.3 182.9L1851.9 180.7L1850.2 178.5L1851.7 176.3L1852.9 174.1L1853.2 171.9L1850.6 169.7z" fill="url(#g12_1)" filter="url(#hb)"/>
<rect x="1806.9" y="173.7" width="76.3" height="552.6" filter="url(#nB)" mask="url(#mB)" opacity="0.95"/>
<rect x="1806.9" y="173.7" width="76.3" height="552.6" filter="url(#wB)"/>
</g>
<line x1="1806.3" y1="174" x2="1883.8" y2="174" stroke="#000" stroke-width="2.2"/>
<line x1="1806.9" y1="173.7" x2="1806.9" y2="726.3" stroke="#000" stroke-width="1.3"/>
<line x1="1806.4" y1="726.3" x2="1883.7" y2="726.3" stroke="#000" stroke-width="2.2"/>
<line x1="1806.9" y1="726.3" x2="1806.9" y2="733.3" stroke="#333" stroke-width="1"/>
<line x1="1845.1" y1="726.3" x2="1845.1" y2="733.3" stroke="#333" stroke-width="1"/>
<text x="917" y="160.3" font-size="29.2" transform="rotate(-45 917 160.3)">DMSO</text>
<text x="1008.3" y="126.7" font-size="29.9">Infigratinib</text>
<line x1="992.5" y1="136" x2="1158" y2="136" stroke="#000" stroke-width="1.6"/>
<text x="977.5" y="167.6" font-size="29.2">4h</text>
<text x="1051.3" y="167.6" font-size="29.2">48h</text>
<text x="1125.8" y="167.6" font-size="29.2">12d</text>
<text x="1260" y="160.3" font-size="29.2" transform="rotate(-45 1260 160.3)">DMSO</text>
<text x="1359.3" y="126.7" font-size="29.9">Infigratinib</text>
<line x1="1340.2" y1="136.8" x2="1506" y2="136.8" stroke="#000" stroke-width="1.6"/>
<text x="1329.5" y="167.6" font-size="29.2">4h</text>
<text x="1394.3" y="167.6" font-size="29.2">48h</text>
<text x="1469" y="167.6" font-size="29.2">12d</text>
<text x="1600" y="160.3" font-size="29.2" transform="rotate(-45 1600 160.3)">DMSO</text>
<text x="1687.3" y="117" font-size="29.9">Infigratinib</text>
<line x1="1676" y1="134.9" x2="1842.3" y2="134.9" stroke="#000" stroke-width="1.6"/>
<text x="1665" y="167.6" font-size="29.2">4h</text>
<text x="1738.5" y="167.6" font-size="29.2">48h</text>
<text x="1812.4" y="167.6" font-size="29.2">12d</text>
<text x="1.5" y="839.6" font-size="44" font-weight="bold" stroke="none">c</text>
<rect x="93.5" y="857.3" width="33.5" height="19.2" fill="#aaaadb" stroke="#000" stroke-width="2.4"/>
<rect x="251" y="857.3" width="33.5" height="19.2" fill="#de7d78" stroke="#000" stroke-width="2.4"/>
<rect x="93.5" y="908.2" width="33.5" height="18.5" fill="#a87dbc" stroke="#000" stroke-width="2.4"/>
<rect x="251" y="911.5" width="33.5" height="18.5" fill="#787dbe" stroke="#000" stroke-width="2.4"/>
<text x="138" y="876.8" font-size="28.6">Intron</text>
<text x="294.5" y="876.8" font-size="28.6">Promoter</text>
<text x="138.5" y="927.7" font-size="28.6">Exons</text>
<text x="295" y="927.7" font-size="28.3">Distal regulatory</text>
<text x="295" y="963" font-size="28.6">regions</text>
<circle cx="247.7" cy="1162.7" r="146.9" fill="#787dbe"/>
<path d="M247.7 1162.7L247.7 1015.8A146.9 146.9 0 0 1 331 1283.7z" fill="#aaaadb"/>
<path d="M247.7 1162.7L331.5 1283.3A146.9 146.9 0 0 1 288.7 1303.8z" fill="#a87dbc"/>
<path d="M247.7 1162.7L289.2 1303.6A146.9 146.9 0 0 1 267 1308.3z" fill="#de7d78"/>
<circle cx="247.7" cy="1162.7" r="146.9" fill="none" stroke="#000" stroke-width="2.8"/>
<line x1="279.7" y1="1290.8" x2="298.7" y2="1398.5" stroke="#000" stroke-width="2.5"/>
<line x1="308" y1="1281.3" x2="363.3" y2="1375.6" stroke="#000" stroke-width="2.5"/>
<text x="271.4" y="1133.6" font-size="29.2">40.4%</text>
<text x="144" y="1160.5" font-size="29.2">52.1%</text>
<text x="378.6" y="1388.3" font-size="29.2">5.1%</text>
<text x="312.9" y="1407.4" font-size="29.2">2.4%</text>
<text x="141.9" y="1452" font-size="29.6">Infigratinib increased</text>
<text x="143.2" y="1488.3" font-size="29.3">open chromatin</text>
<text x="519" y="839.6" font-size="44" font-weight="bold" stroke="none">d</text>
<text x="698.5" y="989" font-size="29.5">Infigratinib 12d</text>
<circle cx="744.2" cy="1168.7" r="147" fill="#96ba96" stroke="#1a1a1a" stroke-width="1.2"/>
<circle cx="867" cy="1169.2" r="129.2" fill="#bcd4ee" stroke="#1a1a1a" stroke-width="1.2"/>
<circle cx="867" cy="1169.2" r="129.2" fill="#a6c9c8" stroke="#1a1a1a" stroke-width="1.2" clip-path="url(#vc)"/>
<circle cx="744.2" cy="1168.7" r="147" fill="none" stroke="#1a1a1a" stroke-width="1.2"/>
<text x="633.6" y="1179.3" font-size="29.2">24749</text>
<text x="771.4" y="1179.3" font-size="29.2">16506</text>
<text x="905.9" y="1179.3" font-size="29.2">15499</text>
<rect x="583" y="1351.3" width="26" height="25.2" fill="#87cdeb"/>
<rect x="583" y="1391.3" width="26" height="25.4" fill="#7dbe82"/>
<text x="623" y="1371.7" font-size="29.2">YAP ChIP</text>
<text x="630.2" y="1417" font-size="29.2">H3K27ac ChIP</text>
<text x="1024.6" y="838.3" font-size="44" font-weight="bold" stroke="none">e</text>
<text x="1284.4" y="869.1" font-size="29.2">FSTL1</text>
<line x1="1239" y1="896.8" x2="1420.7" y2="896.8" stroke="#3c46af" stroke-width="1"/>
<rect x="1239" y="891.6" width="8.6" height="9.6" fill="#3c46af"/>
<line x1="1247.6" y1="888.4" x2="1247.6" y2="905.9" stroke="#3c46af" stroke-width="2"/>
<line x1="1257.5" y1="888.4" x2="1257.5" y2="905.9" stroke="#3c46af" stroke-width="1.2"/>
<line x1="1266.8" y1="888.4" x2="1266.8" y2="905.9" stroke="#3c46af" stroke-width="2.2"/>
<line x1="1273.4" y1="888.4" x2="1273.4" y2="905.9" stroke="#3c46af" stroke-width="1.2"/>
<line x1="1288.1" y1="888.4" x2="1288.1" y2="905.9" stroke="#3c46af" stroke-width="2.2"/>
<line x1="1293" y1="888.4" x2="1293" y2="905.9" stroke="#3c46af" stroke-width="1.4"/>
<line x1="1295.9" y1="888.4" x2="1295.9" y2="905.9" stroke="#3c46af" stroke-width="2.2"/>
<line x1="1308.5" y1="888.4" x2="1308.5" y2="905.9" stroke="#3c46af" stroke-width="1.2"/>
<line x1="1420.7" y1="888.4" x2="1420.7" y2="905.9" stroke="#3c46af" stroke-width="1"/>
<circle cx="1323" cy="896.8" r="1.4" fill="#2a2f80"/>
<circle cx="1350" cy="896.8" r="1.4" fill="#2a2f80"/>
<circle cx="1402.9" cy="896.8" r="1.4" fill="#2a2f80"/>
<line x1="1377.7" y1="894.8" x2="1377.7" y2="898.8" stroke="#3c46af" stroke-width="1"/>
<line x1="1223.4" y1="974.6" x2="1849" y2="974.6" stroke="#c5d2e8" stroke-width="1"/>
<path d="M1223.4 974.4h14v-0.5h4v-0.5h1v0.5h2v0.5h48v-0.5h1v0.5h12v-0.5h1v0.5h2v-0.5h1v0.5h4v-4h2v4h3v-5.5h2v5.5h4v-2h1v2h15v-14h1v-0.5h1v0.5h1v14h4v-3h1v3h13v-7h1v-0.5h1v0.5h1v-0.5h1v7.5h3v-2.5h1v2.5h4v-13.5h1v-1h1v14.5h11v-4.5h2v-0.5h1v5h1v-2h1v2h19v-3.5h1v0.5h1v1.5h1v-1h1v0.5h2v-0.5h1v-1h1v0.5h1v1h3v-1h1v1h1v2h17v-0.5h3v0.5h1v-0.5h1v0.5h36v-5.5h1v-0.5h1v6h3v-3.5h3v-5.5h1v9h18v-1h3v1h2v-0.5h2v0.5h13v-0.5h4v0.5h7v-0.5h1v0.5h5v-0.5h3v0.5h17v-1.5h3v-0.5h1v2h1v-11.5h1v-5h1v2h1v4h1v-0.5h1v-4h2v-28.5h1v43.5h26v-2.5h1v2.5h15v-2h1v2h4v-2h1v2h28v-0.5h1v-2h1v2.5h1v-0.5h2v-5h2v5.5h27v-0.5h3v0.5h21v-0.5h2v0.5h1v-2h1v0.5h1v1.5h52v-12.5h1v-10h1v22.5h1v-4h2v4h3v-2h1v2h2v-2h1v2h6v-2h1v2h59z" fill="#3b6fb6"/>
<line x1="1223.4" y1="1032.8" x2="1849" y2="1032.8" stroke="#c5d2e8" stroke-width="1"/>
<path d="M1223.4 1032.6h14v-0.5h2v0.5h1v-0.5h1v0.5h21v-2h1v2h3v-1.5h1v1.5h24v-1h1v1h12v-0.5h1v0.5h3v-0.5h5v0.5h1v-3h1v3h3v-3.5h1v3.5h4v-1h2v0.5h2v0.5h13v-8h1v0.5h1v-0.5h1v8h4v-1.5h2v1.5h9v-0.5h1v0.5h2v-3h2v-0.5h1v3.5h9v-6h1v3h2v2.5h1v0.5h9v-3.5h2v3.5h3v-0.5h1v0.5h4v-0.5h3v-0.5h1v0.5h1v-0.5h2v1h6v-1.5h1v1.5h7v-3h1v-0.5h1v3.5h4v-3h2v3h4v-0.5h4v0.5h34v-0.5h2v0.5h13v-4.5h2v4.5h6v-1.5h1v1.5h7v-0.5h3v0.5h71v-4h2v4h2v-5.5h1v-0.5h1v-13.5h1v19.5h25v-3.5h1v0.5h1v3h54v-4.5h2v4.5h2v-0.5h1v0.5h22v-3h1v3h30v-1.5h1v1.5h21v-0.5h3v0.5h5v-0.5h4v0.5h18v-7h1v-6.5h1v13.5h41v-0.5h1v0.5h13v-0.5h3v0.5h5v-0.5h4v0.5h9z" fill="#3b6fb6"/>
<line x1="1223.4" y1="1091" x2="1849" y2="1091" stroke="#c5d2e8" stroke-width="1"/>
<path d="M1223.4 1090.8v-0.5h3v0.5h9v-0.5h2v0.5h8v-0.5h1v0.5h4v-2h2v2h1v-1h1v1h1v-0.5h2v0.5h7v-0.5h4v0.5h4v-0.5h3v-1.5h1v1.5h1v0.5h3v-0.5h4v0.5h10v-0.5h2v0.5h1v-2h2v2h15v-4h2v4h1v-0.5h1v0.5h2v-0.5h1v0.5h4v-3h1v3h2v-1h3v-1h2v2h3v-2h3v2h1v-11.5h1v-0.5h2v12h3v-2.5h1v0.5h3v2h5v-1h1v-0.5h2v1.5h3v-10.5h2v10h1v-6.5h2v6.5h1v-1.5h2v0.5h1v-0.5h1v2h2v-15h1v13h4v2h9v-3h1v2.5h1v0.5h3v-0.5h3v0.5h1v-1.5h1v-0.5h1v0.5h1v1.5h5v-0.5h4v-1h1v1.5h5v-6h2v6h1v-5.5h2v5h1v0.5h1v-4h3v2h1v-0.5h1v2h1v0.5h5v-1h1v0.5h6v0.5h4v-0.5h2v-1h1v1h1v0.5h1v-0.5h3v-1.5h1v2h10v-0.5h3v-1h1v1.5h4v-0.5h6v0.5h1v-1h3v1h2v-11h1v-1.5h1v12h1v-0.5h1v0.5h1v-6h1v0.5h1v-4h2v9.5h1v-4.5h1v0.5h1v2.5h1v1h1v-1.5h2v2.5h3v-0.5h4v0.5h13v-1.5h1v1.5h6v-1h1v0.5h1v-0.5h1v1h2v-2h1v1.5h1v-0.5h1v0.5h3v0.5h14v-0.5h11v-0.5h2v0.5h1v0.5h3v-3.5h2v-0.5h2v0.5h1v-6.5h2v6h1v0.5h1v-6h1v0.5h1v-19h1v24.5h2v3.5h28v-1h1v1h1v-1.5h2v-0.5h1v0.5h1v1h2v0.5h3v-0.5h1v-0.5h1v0.5h1v-0.5h1v1h2v-0.5h4v-1.5h1v1.5h2v0.5h9v-0.5h3v-1.5h1v0.5h1v1.5h1v-1h2v1h6v-2.5h2v2.5h1v-0.5h1v-2h2v2.5h5v-0.5h1v0.5h3v-0.5h2v0.5h2v-0.5h2v0.5h1v-0.5h3v-0.5h3v1h8v-1.5h1v0.5h1v-0.5h1v0.5h1v-0.5h2v1h3v0.5h7v-2h2v1.5h1v0.5h5v-1h1v0.5h2v0.5h1v-0.5h1v0.5h7v-0.5h4v-1h1v0.5h2v1h4v-0.5h3v-0.5h3v1h1v-0.5h6v0.5h2v-1h4v1h10v-2.5h1v0.5h2v-15.5h1v15.5h3v2h3v-0.5h1v0.5h10v-0.5h3v0.5h5v-0.5h4v0.5h1v-0.5h2v-0.5h1v1h7v-0.5h2v0.5h3v-0.5h5v0.5h5v-0.5h1v0.5h7v-0.5h1v0.5h5v-0.5h1v0.5h6z" fill="#3b6fb6"/>
<line x1="1223.4" y1="1149.4" x2="1849" y2="1149.4" stroke="#c5d2e8" stroke-width="1"/>
<path d="M1223.4 1149.2h2v-0.5h1v-0.5h7v1h38v-1.5h1v0.5h1v0.5h1v-1h1v1.5h38v-3.5h2v0.5h1v3h1v-1.5h2v1.5h4v-1h2v1h15v-21.5h3v21.5h2v-1.5h2v1.5h5v-2.5h1v2.5h2v-1h1v-0.5h1v0.5h1v-0.5h1v1.5h2v-11h2v11h1v-3.5h1v-0.5h1v4h4v-0.5h3v-11.5h1v-0.5h1v12.5h1v-1.5h2v1.5h7v-0.5h1v-2h3v2.5h8v-0.5h2v-0.5h1v0.5h1v0.5h5v-1h2v0.5h4v0.5h3v-2.5h1v0.5h1v-1h1v-0.5h1v1.5h1v-1.5h2v-2.5h1v6h10v-0.5h2v0.5h9v-0.5h1v0.5h4v-1h2v1h28v-1.5h3v-19h1v1h1v19.5h3v-7h3v-8h1v15h1v-5.5h1v0.5h1v1.5h1v-0.5h1v4h1v-4h3v4h28v-1h3v-0.5h1v0.5h1v-0.5h1v0.5h2v-0.5h4v1.5h30v-5.5h1v0.5h1v-9.5h1v0.5h1v0.5h1v13.5h1v-8.5h2v-18h1v24.5h2v2h2v-0.5h1v-0.5h1v1h8v-0.5h4v0.5h1v-1h2v1h4v-1.5h2v1.5h25v-1.5h3v1.5h7v-0.5h2v-0.5h2v1h7v-1h2v1h5v-0.5h1v-3.5h1v-0.5h1v4.5h7v-0.5h2v0.5h11v-1h3v-0.5h1v1.5h27v-0.5h3v0.5h3v-0.5h4v0.5h16v-0.5h1v0.5h27v-0.5h1v-0.5h1v1h1v-5.5h1v-5h1v10.5h1v-1.5h2v1.5h5v-1.5h2v1.5h54v-1h3v1h9z" fill="#3b6fb6"/>
<line x1="1223.4" y1="1243.8" x2="1849" y2="1243.8" stroke="#b5d9c5" stroke-width="1.2"/>
<path d="M1223.4 1243.2h3v-1.5h1v-1h1v-1h1v1h1v0.5h1v-0.5h1v1h2v-0.5h2v1.5h3v-3h1v1h2v-1.5h1v-1h1v3.5h1v1.5h3v-0.5h4v0.5h4v-1h1v0.5h2v-0.5h2v0.5h1v0.5h1v-0.5h5v0.5h1v-1h1v0.5h13v-4h2v4.5h1v-0.5h3v0.5h4v-1h2v-2.5h1v1h1v-1h2v1h1v0.5h1v1.5h1v0.5h2v-0.5h1v0.5h3v-4h1v-1.5h1v1h1v-1h1v2h1v-0.5h1v-11.5h1v0.5h1v14.5h1v-7h1v0.5h1v6.5h1v0.5h2v-0.5h8v-2h1v-0.5h1v0.5h1v-0.5h1v3h4v-2.5h1v-1.5h1v0.5h2v1h1v-1.5h2v0.5h1v1h1v-1.5h2v1.5h1v-2h1v1.5h1v1h1v1.5h3v-1.5h1v-2h1v-0.5h2v0.5h1v0.5h1v3h1v-10h1v0.5h1v10h2v-0.5h4v0.5h1v-15.5h1v-0.5h1v5.5h1v-1h1v0.5h1v9h1v-1h1v-0.5h1v0.5h1v1h1v-1.5h1v3.5h3v-2.5h1v-1h2v1h2v-2.5h1v1.5h1v0.5h2v-0.5h1v-1h1v1.5h1v0.5h1v-0.5h2v-1.5h1v4h1v-0.5h1v0.5h1v0.5h1v-1h3v-3h1v-0.5h2v1h1v3.5h1v-0.5h3v-16h2v0.5h1v-0.5h2v-0.5h1v1.5h2v13.5h1v0.5h1v1.5h5v-2.5h1v2.5h6v-0.5h1v-0.5h1v1h3v-3.5h1v2h1v-0.5h1v-0.5h1v2.5h2v-0.5h1v0.5h3v-2h1v1.5h1v-0.5h3v1h3v-1.5h1v-1.5h1v0.5h1v0.5h1v0.5h1v-1h2v0.5h1v-0.5h4v0.5h1v-0.5h1v1h1v1.5h1v-0.5h6v-9h1v-0.5h1v6.5h3v-0.5h1v1.5h1v-1h1v1h1v1h1v0.5h1v1h2v-1.5h1v-1h1v0.5h1v1.5h2v0.5h3v-0.5h2v-5h2v5.5h1v-3.5h1v0.5h1v0.5h1v1h1v-1h2v0.5h1v0.5h1v1.5h3v-1h1v0.5h1v-0.5h1v-4h1v0.5h1v1.5h1v-1h1v4h4v-2h1v0.5h1v1.5h2v-0.5h2v-0.5h1v0.5h1v-0.5h2v1h8v-0.5h1v0.5h4v-1h1v-1h1v0.5h1v-1h1v0.5h1v-0.5h1v0.5h1v2h7v-9h2v-8h1v8h1v0.5h1v-1h1v1h1v-0.5h3v-7h1v7h1v5.5h1v-3h1v5.5h2v-4h1v-0.5h1v0.5h1v3.5h1v1.5h1v-1h3v-0.5h1v1h7v0.5h4v-1h2v0.5h3v0.5h5v-1h6v-0.5h2v1h4v-1h1v1.5h3v-1h1v0.5h1v-0.5h1v0.5h1v-5.5h1v5.5h1v-0.5h1v-0.5h1v-0.5h1v-0.5h1v2.5h4v-0.5h2v0.5h3v-2.5h1v0.5h2v2h3v-0.5h2v-5.5h1v-0.5h2v-6h1v1h1v11h5v-4h2v4.5h2v-1h1v1h1v-0.5h2v-4h1v-0.5h1v5h3v-0.5h1v-2.5h2v2.5h1v0.5h1v-0.5h2v-3h1v1h1v-1h1v1.5h2v1h3v0.5h4v-1.5h4v1h1v-1h1v1h1v-1h1v1h1v0.5h3v0.5h4v-0.5h4v-1.5h1v1h1v-0.5h1v-0.5h1v0.5h1v0.5h1v-1.5h1v2h1v0.5h3v-0.5h1v-0.5h1v-1h1v1.5h4v0.5h5v-3h1v1h1v2h16v-5h1v5h2v-0.5h2v0.5h2v-6h1v0.5h1v-9h1v1h1v13h1v-9.5h1v9.5h3v0.5h1v-4.5h1v2h1v-0.5h1v-2h1v2h2v-1h1v-1h1v3.5h1v0.5h1v0.5h1v0.5h2v-0.5h1v-0.5h3v-2.5h1v-0.5h2v1.5h1v-0.5h4v0.5h1v0.5h3v1.5h3v-0.5h2v1h3v-3.5h2v2h1v0.5h1v-0.5h1v1.5z" fill="#147d46"/>
<line x1="1223.4" y1="1302.4" x2="1849" y2="1302.4" stroke="#b5d9c5" stroke-width="1.2"/>
<path d="M1223.4 1301.8v-2h1v-0.5h1v0.5h1v0.5h2v-0.5h2v1h1v-1.5h3v0.5h1v0.5h1v-0.5h1v-0.5h1v1.5h1v-0.5h3v-0.5h1v1h1v-0.5h2v-1h1v0.5h3v0.5h1v1.5h2v-0.5h1v-4h1v2h1v-2h1v1h1v0.5h1v0.5h1v-2h2v1h2v-1h1v1h1v3h4v0.5h1v-1h2v1h3v-1.5h2v1.5h2v-5h3v4h2v1h1v-5.5h1v3h1v-1h1v0.5h1v-0.5h1v-0.5h1v1h1v-2h1v1h3v1h1v0.5h1v-1h1v2h1v-0.5h1v1.5h2v-1.5h1v0.5h1v1h2v-4h2v2h1v-0.5h1v-1h1v4h1v-12h1v0.5h1v9.5h1v0.5h1v-3h2v3h4v-2h3v1h1v-1h1v1h1v-2h1v1h1v1h1v-1.5h1v0.5h1v0.5h1v2h1v0.5h3v-4.5h3v4.5h2v-1h2v-4.5h1v5.5h1v-2.5h1v1h1v-1h1v0.5h2v1h1v-0.5h1v-1h1v1h1v-0.5h1v0.5h1v-1h1v-3h1v5.5h3v-0.5h1v0.5h2v-3h1v0.5h1v-5.5h3v-2h1v-1h2v8h2v-1.5h1v1h1v3.5h3v-1.5h1v-4.5h1v6h1v-3h1v0.5h1v-0.5h2v0.5h2v1h1v-1.5h2v1h1v-0.5h1v0.5h1v0.5h1v-1h1v0.5h1v-1.5h1v1h1v0.5h2v0.5h1v-0.5h1v2h2v-2.5h1v-2h1v0.5h2v-0.5h1v-0.5h2v0.5h1v-2.5h1v-5h1v-0.5h1v-7h1v-1h1v14h1v-0.5h2v7.5h1v-1.5h2v-3.5h1v4h4v0.5h1v-1h2v1.5h2v-0.5h3v0.5h1v-2h1v-0.5h1v-0.5h3v-0.5h1v2h1v-1.5h1v0.5h1v0.5h1v-0.5h1v0.5h2v-1h2v0.5h1v2h1v-1.5h2v1.5h1v0.5h1v-3h1v3h1v-0.5h3v-0.5h1v-3.5h2v3.5h1v0.5h1v-1h2v-2.5h1v-0.5h2v-1.5h1v0.5h1v0.5h2v-0.5h1v1h1v0.5h1v2.5h2v-0.5h1v0.5h1v-0.5h1v1h1v-1h2v0.5h1v0.5h1v1h4v-0.5h2v-0.5h1v-1h2v1h1v-1h1v0.5h1v-0.5h3v0.5h3v-1h2v1h1v-0.5h1v0.5h3v-0.5h1v0.5h1v1h6v-0.5h3v-1h1v-1.5h1v1h2v-0.5h2v2h1v-0.5h1v-0.5h2v0.5h2v0.5h1v-1h3v0.5h2v0.5h1v-0.5h1v-0.5h1v1h1v-0.5h1v-0.5h2v1h1v-1h1v1h1v-1.5h1v1h1v1h1v-0.5h1v1h2v-0.5h2v-7h1v-0.5h1v1.5h2v0.5h1v-2.5h1v-0.5h1v2.5h1v0.5h1v-0.5h3v-4.5h1v4.5h2v5h1v1h2v-7h1v-0.5h1v7.5h1v-1.5h3v1.5h4v0.5h1v-2.5h1v-3h2v5h2v-1.5h1v-0.5h1v-0.5h1v-0.5h1v0.5h1v1h1v-1h2v1.5h1v-1.5h3v1h1v-1.5h1v1.5h1v-0.5h1v-0.5h1v0.5h1v-0.5h2v0.5h1v0.5h1v-1h5v0.5h1v0.5h1v-0.5h1v-0.5h1v2.5h6v-1.5h1v-0.5h2v-1h1v0.5h2v-0.5h1v1.5h1v-1h1v-0.5h1v1.5h2v-1.5h1v1.5h2v-1h3v-2.5h1v2h1v-1h1v-0.5h1v1h1v-6.5h1v1h1v9h1v0.5h3v-0.5h2v-0.5h1v0.5h1v-0.5h1v-3h2v4h2v-1h1v-0.5h1v0.5h1v0.5h1v-1h2v-2h1v-1h1v2h1v-2h1v2h2v-0.5h1v0.5h1v-0.5h1v-1.5h1v1h1v-0.5h1v1h1v2.5h5v-1.5h1v0.5h3v-0.5h1v0.5h1v-0.5h3v0.5h1v-1h1v1h2v-1h1v0.5h1v1h1v-1h2v0.5h1v-0.5h1v1h2v-0.5h1v0.5h2v-0.5h3v-0.5h1v1h1v-0.5h2v-0.5h1v1h1v-0.5h1v-0.5h1v1h1v-0.5h1v0.5h1v-0.5h1v0.5h2v-0.5h1v0.5h1v-0.5h1v0.5h1v-1h1v0.5h3v-0.5h1v1h1v-0.5h6v-0.5h1v0.5h2v-0.5h1v1h2v-1h1v2h1v-0.5h4v-8.5h1v0.5h1v3h1v-0.5h1v0.5h1v0.5h1v3.5h2v-0.5h1v0.5h1v-0.5h1v1h1v-1h1v0.5h1v-0.5h1v0.5h1v0.5h1v-0.5h1v-0.5h1v0.5h2v0.5h1v-1h1v0.5h2v0.5h1v-0.5h2v-0.5h1v0.5h2v0.5h1v-0.5h3v-0.5h1v1h1v-0.5h1v-0.5h2v0.5h1v-0.5h1v1h2v-0.5h1v-0.5h1v1h2v-1h2v2z" fill="#147d46"/>
<line x1="1223.4" y1="1360.6" x2="1849" y2="1360.6" stroke="#b5d9c5" stroke-width="1.2"/>
<path d="M1223.4 1360v-2h1v-0.5h2v0.5h1v0.5h1v-0.5h2v0.5h4v-0.5h1v1h1v-0.5h1v1h1v-0.5h1v-0.5h2v1.5h1v-3.5h1v-1h1v2.5h1v-2.5h1v1h1v-1h1v-1.5h1v5.5h6v0.5h4v-1h1v-3h1v1h1v-1h2v4h1v-3.5h1v-1h1v1.5h1v-1h2v-1.5h2v1.5h1v1h1v-0.5h1v0.5h1v-0.5h1v0.5h1v-0.5h1v1h1v-0.5h1v-1.5h1v2h1v-1.5h1v-0.5h1v0.5h1v1.5h1v-1.5h1v1.5h1v-1h1v-0.5h1v-0.5h1v-0.5h1v0.5h1v4h2v0.5h1v-0.5h1v-5.5h2v5.5h1v0.5h7v-6h1v-0.5h1v-4h2v-0.5h2v-14h1v1.5h1v18h1v1.5h1v-1.5h2v-5.5h1v0.5h1v3h1v3h1v-2.5h1v-0.5h1v7.5h3v-1h2v-8.5h1v0.5h1v9h5v-2h1v-2h1v-8.5h2v1.5h1v4.5h1v3h1v-3h1v3.5h1v-2.5h1v5.5h3v-0.5h1v-2h2v-7h2v6.5h1v0.5h1v-0.5h1v-0.5h1v0.5h1v-1.5h1v0.5h1v-3.5h1v-0.5h1v-0.5h1v6h1v2.5h3v-10.5h1v-3h1v3h1v-9h1v1.5h1v6.5h1v1h2v9.5h1v0.5h1v0.5h2v-1h1v-1h1v-0.5h2v0.5h1v-0.5h1v-1h2v1h1v-0.5h2v1.5h1v-1h1v0.5h1v-1.5h2v1h1v-0.5h3v1h2v-0.5h1v-3h1v2.5h1v-1.5h1v2h1v-2h1v-1h2v-1.5h1v-0.5h3v0.5h1v-4h1v-8.5h1v-6.5h1v-10.5h1v4h1v8.5h1v6h1v6.5h1v4h1v0.5h2v-0.5h2v5.5h1v1h1v0.5h6v-1h2v-0.5h3v-0.5h2v1h1v-1h1v1.5h1v-0.5h1v-1h3v0.5h1v-0.5h1v0.5h2v0.5h2v-0.5h1v0.5h1v-0.5h1v-0.5h1v1h2v-2h2v-0.5h1v0.5h1v1h2v-1h1v0.5h2v-1h1v2h1v1.5h1v-1.5h4v-2h1v-3.5h1v-2h1v1h1v2h1v0.5h1v1.5h2v-0.5h1v-1.5h1v2h1v-2h1v3h1v-2.5h1v5.5h1v-1h2v0.5h1v-1h2v1h1v-0.5h1v-0.5h2v1h1v-0.5h1v1h1v0.5h4v-2h1v-2h2v2h1v-1h1v-0.5h1v3h5v-2h1v0.5h1v0.5h2v-0.5h1v1h1v-1.5h1v0.5h1v-0.5h1v0.5h3v-2h2v1h1v-1.5h2v1h1v0.5h1v1h1v0.5h1v1.5h3v-0.5h5v-0.5h1v0.5h4v0.5h1v-0.5h2v-7.5h1v-0.5h2v7.5h1v-3.5h3v-7h1v0.5h1v0.5h3v-18h1v1h1v1h1v12.5h1v-1h1v0.5h1v-13h1v2h1v14.5h1v0.5h1v-0.5h1v-0.5h1v8h1v1h1v-0.5h1v0.5h1v2h3v-3h2v0.5h1v1h1v1h2v-0.5h1v0.5h2v1h1v-0.5h1v-1.5h1v-0.5h1v0.5h2v0.5h1v-0.5h2v0.5h1v0.5h1v-0.5h1v0.5h1v-0.5h4v0.5h1v-0.5h1v-0.5h2v-0.5h1v2.5h1v-0.5h1v-2h1v-0.5h1v0.5h1v-1.5h1v1.5h1v-1.5h1v1.5h1v-2h1v1.5h1v3h1v-0.5h1v0.5h2v-1.5h3v-0.5h3v1.5h4v-1h2v0.5h1v-0.5h1v-0.5h1v1h2v0.5h1v-1h1v-0.5h1v-0.5h2v0.5h2v0.5h1v-8.5h2v8h1v0.5h2v-0.5h1v-1h2v2.5h1v0.5h3v-1.5h4v-0.5h2v-0.5h1v0.5h3v0.5h4v-1h1v0.5h4v0.5h1v-0.5h1v-0.5h1v0.5h1v1.5h1v-1.5h1v-0.5h1v0.5h1v-0.5h1v2.5h1v-2.5h2v1h1v-1.5h1v0.5h3v-0.5h1v-0.5h1v-1h2v1.5h1v3h6v-1h1v1h1v-2h2v-0.5h1v0.5h2v0.5h1v-0.5h3v0.5h1v-1h1v0.5h1v0.5h2v-0.5h1v0.5h1v-1h1v0.5h1v0.5h1v1.5h3v-0.5h9v0.5h4v-5.5h1v5h4v-1.5h1v-0.5h1v-1h2v3.5h1v-0.5h1v-10h1v-0.5h1v-13.5h1v1h2v-1h1v24.5h2v-2h1v0.5h2v-1h1v0.5h1v0.5h1v-1.5h2v1h1v-0.5h2v0.5h1v-0.5h1v0.5h1v-1h1v1h1v-0.5h1v1h2v-0.5h1v0.5h1v-0.5h1v-0.5h2v-1h1v0.5h1v-0.5h1v0.5h1v3h2v-2.5h1v0.5h2v-0.5h3v0.5h3v-0.5h1v2h1v0.5h3z" fill="#147d46"/>
<line x1="1223.4" y1="1418.9" x2="1849" y2="1418.9" stroke="#b5d9c5" stroke-width="1.2"/>
<path d="M1223.4 1418.3v-1h1v-0.5h1v0.5h6v-0.5h1v0.5h1v-0.5h1v0.5h1v0.5h2v-3h1v-0.5h1v1h3v1h2v-1.5h2v0.5h1v-0.5h1v1.5h2v-0.5h1v0.5h1v-1h1v1.5h1v-0.5h3v-1h1v0.5h1v-0.5h3v1h1v-1h1v2.5h2v0.5h4v-0.5h3v-4h3v2.5h1v1.5h2v0.5h1v-3.5h1v0.5h1v1.5h1v-0.5h1v-0.5h1v0.5h1v-1h2v1h1v-1h1v1h2v0.5h1v-0.5h3v-1h3v1h1v-0.5h1v0.5h1v1.5h1v-0.5h1v0.5h2v0.5h1v-1h1v1h2v-7.5h1v-3h2v1h1v-7h1v-0.5h1v10.5h1v1h1v-2h1v3h1v-3h2v2.5h1v-2h1v-1h1v-1h2v3.5h1v-3h1v2h2v-1.5h1v2.5h1v0.5h1v-2.5h1v2h2v-5h1v0.5h2v4.5h1v-1.5h1v0.5h1v-1.5h1v2h1v-0.5h1v2.5h1v-3h2v-1.5h2v2.5h1v-1h1v0.5h1v-1h1v-0.5h1v2.5h1v-2.5h1v3h1v-6.5h2v-1h1v7.5h1v-2.5h1v-0.5h1v1.5h1v-2h2v2.5h1v-3.5h1v3.5h1v-8h1v-8.5h1v0.5h1v9h1v-1h1v8.5h1v0.5h1v-1h1v-2h2v-2.5h1v1.5h1v2h1v-1.5h1v-0.5h1v1h1v-3.5h1v5h1v-6h1v1h1v6.5h1v4h1v0.5h1v-0.5h1v-4h2v1.5h1v-0.5h1v-1.5h1v0.5h1v1.5h1v-1h1v-0.5h1v1.5h1v-2h1v5h6v-10h1v-0.5h2v-0.5h1v-4.5h1v-7h1v-4.5h1v-12.5h1v5h1v5.5h1v6h1v5h1v7.5h1v0.5h1v-0.5h1v10h1v-0.5h2v0.5h1v-1h1v0.5h2v0.5h4v0.5h1v-1h1v-1h1v0.5h1v0.5h1v-0.5h1v0.5h2v1.5h3v-1h1v1h3v-0.5h5v-2h1v1h2v-4h1v3h1v1h1v-0.5h2v0.5h1v1h6v-0.5h2v-2h1v-0.5h1v0.5h1v1h1v2h1v-0.5h2v-16h1v0.5h1v2h1v1h2v1h1v1.5h1v1h1v0.5h1v0.5h1v1.5h1v1h1v0.5h1v0.5h1v1h1v1h1v1h1v0.5h1v-1h1v-1h1v0.5h1v1h1v1h2v0.5h1v0.5h2v-0.5h1v-2.5h1v1h1v-1h1v0.5h1v-0.5h1v0.5h1v0.5h1v-0.5h1v0.5h2v-1h1v1h1v-0.5h3v-1h2v1h1v0.5h1v1.5h1v-3h1v0.5h1v-0.5h1v1h1v-1h1v0.5h2v-1h1v1h2v1h1v-1h1v1h1v-0.5h1v0.5h1v1.5h2v0.5h3v-0.5h1v0.5h2v-1.5h1v0.5h1v0.5h3v-1h1v1.5h1v-1.5h1v-0.5h1v-6h1v4.5h2v-15.5h2v1.5h1v17h1v-28h1v1.5h1v-0.5h1v3.5h1v2h1v-0.5h1v4h1v-0.5h1v3.5h1v2h1v1h1v1.5h1v3h1v1h1v2h1v2h1v0.5h1v0.5h1v0.5h1v-0.5h3v0.5h1v1.5h2v-0.5h1v-1.5h3v1.5h2v-4h1v2h1v0.5h1v-0.5h4v1h2v-1h1v0.5h1v0.5h2v1.5h3v-1h3v0.5h1v-1h2v-0.5h2v-0.5h2v1h2v-3.5h2v3.5h1v1h5v0.5h2v-1h3v-0.5h1v0.5h5v-0.5h2v0.5h1v0.5h6v0.5h1v-5.5h1v3h1v-2h1v1.5h1v-2h1v1.5h1v1h1v-3.5h1v3h1v1h1v-0.5h1v1.5h3v0.5h1v-4h1v4.5h4v-1.5h1v-1h2v1h1v-1h1v1h1v0.5h1v-0.5h1v-1h1v0.5h1v-0.5h1v0.5h2v0.5h2v-2h1v1.5h2v-2h1v3h1v1h5v-0.5h3v-4h1v4h1v-0.5h1v-2h3v1h1v-1h2v0.5h1v0.5h1v-1h1v-0.5h1v0.5h2v1h1v-1.5h1v1h1v-0.5h1v0.5h1v-0.5h1v-0.5h1v3h1v-1.5h1v0.5h1v0.5h4v-0.5h1v0.5h4v0.5h2v0.5h2v-2.5h2v0.5h1v-1h1v3h7v-0.5h2v0.5h1v-3.5h2v-0.5h1v1.5h1v-1h1v1.5h1v2h1v-0.5h4v-6.5h2v-16h1v0.5h1v15h1v-24h1v24.5h1v6.5h1v0.5h2v-4h2v3.5h4v-1h1v-0.5h1v0.5h2v-0.5h2v0.5h1v-0.5h1v-0.5h1v1h1v-0.5h1v2h1v-1.5h1v-0.5h1v-1h1v-0.5h1v1.5h2v-1.5h1v0.5h1v2h4v-2.5h1v-0.5h1v0.5h1v0.5h1v-0.5h1v1h1v2.5h3v-0.5h1v0.5h2z" fill="#147d46"/>
<path d="M1223.4 1149.3V919.8H1849" fill="none" stroke="#000" stroke-width="1.4"/>
<line x1="1222.7" y1="1149.3" x2="1849" y2="1149.3" stroke="#000" stroke-width="1.6"/>
<path d="M1223.4 1418.6V1187.5H1849" fill="none" stroke="#000" stroke-width="1.4"/>
<text x="1212.2" y="952.3" font-size="29.2" text-anchor="end">DMSO</text>
<text x="1212.2" y="1019.5" font-size="29.2" text-anchor="end">4h</text>
<text x="1212.2" y="1086.5" font-size="29.2" text-anchor="end">48h</text>
<text x="1212.2" y="1151.5" font-size="29.2" text-anchor="end">12d</text>
<text x="1212.2" y="1217.2" font-size="29.2" text-anchor="end">DMSO</text>
<text x="1212.2" y="1284.2" font-size="29.2" text-anchor="end">4h</text>
<text x="1212.2" y="1350.5" font-size="29.2" text-anchor="end">48h</text>
<text x="1212.2" y="1416.9" font-size="29.2" text-anchor="end">12d</text>
<text x="1135.5" y="1075.5" font-size="29.2" text-anchor="middle" transform="rotate(-90 1135.5 1075.5)">Infigratinib</text>
<line x1="1149.7" y1="1018.5" x2="1149.7" y2="1132.5" stroke="#000" stroke-width="2"/>
<text x="1142" y="1340.5" font-size="29.2" text-anchor="middle" transform="rotate(-90 1142 1340.5)">Infigratinib</text>
<line x1="1154.7" y1="1284.7" x2="1154.7" y2="1399.7" stroke="#000" stroke-width="2"/>
<text x="1880" y="1037.5" font-size="29.2" text-anchor="middle" transform="rotate(-90 1880 1037.5)">YAP ChIP</text>
<text x="1880" y="1303" font-size="29.2" text-anchor="middle" transform="rotate(-90 1880 1303)">H3K27ac ChIP</text>
<line x1="1236" y1="1431.2" x2="1273.4" y2="1431.2" stroke="#000" stroke-width="1.6"/>
<path d="M1230.8 1431.2l9.6 -4.4v8.8z" fill="#000"/>
<line x1="1796.6" y1="1433" x2="1834" y2="1433" stroke="#000" stroke-width="1.6"/>
<path d="M1839 1433l-9.6 -4.4v8.8z" fill="#000"/>
<text x="1498.5" y="1447.3" font-size="29.2" font-weight="bold" stroke="none">193 kb</text>
</svg>
</body></html>
